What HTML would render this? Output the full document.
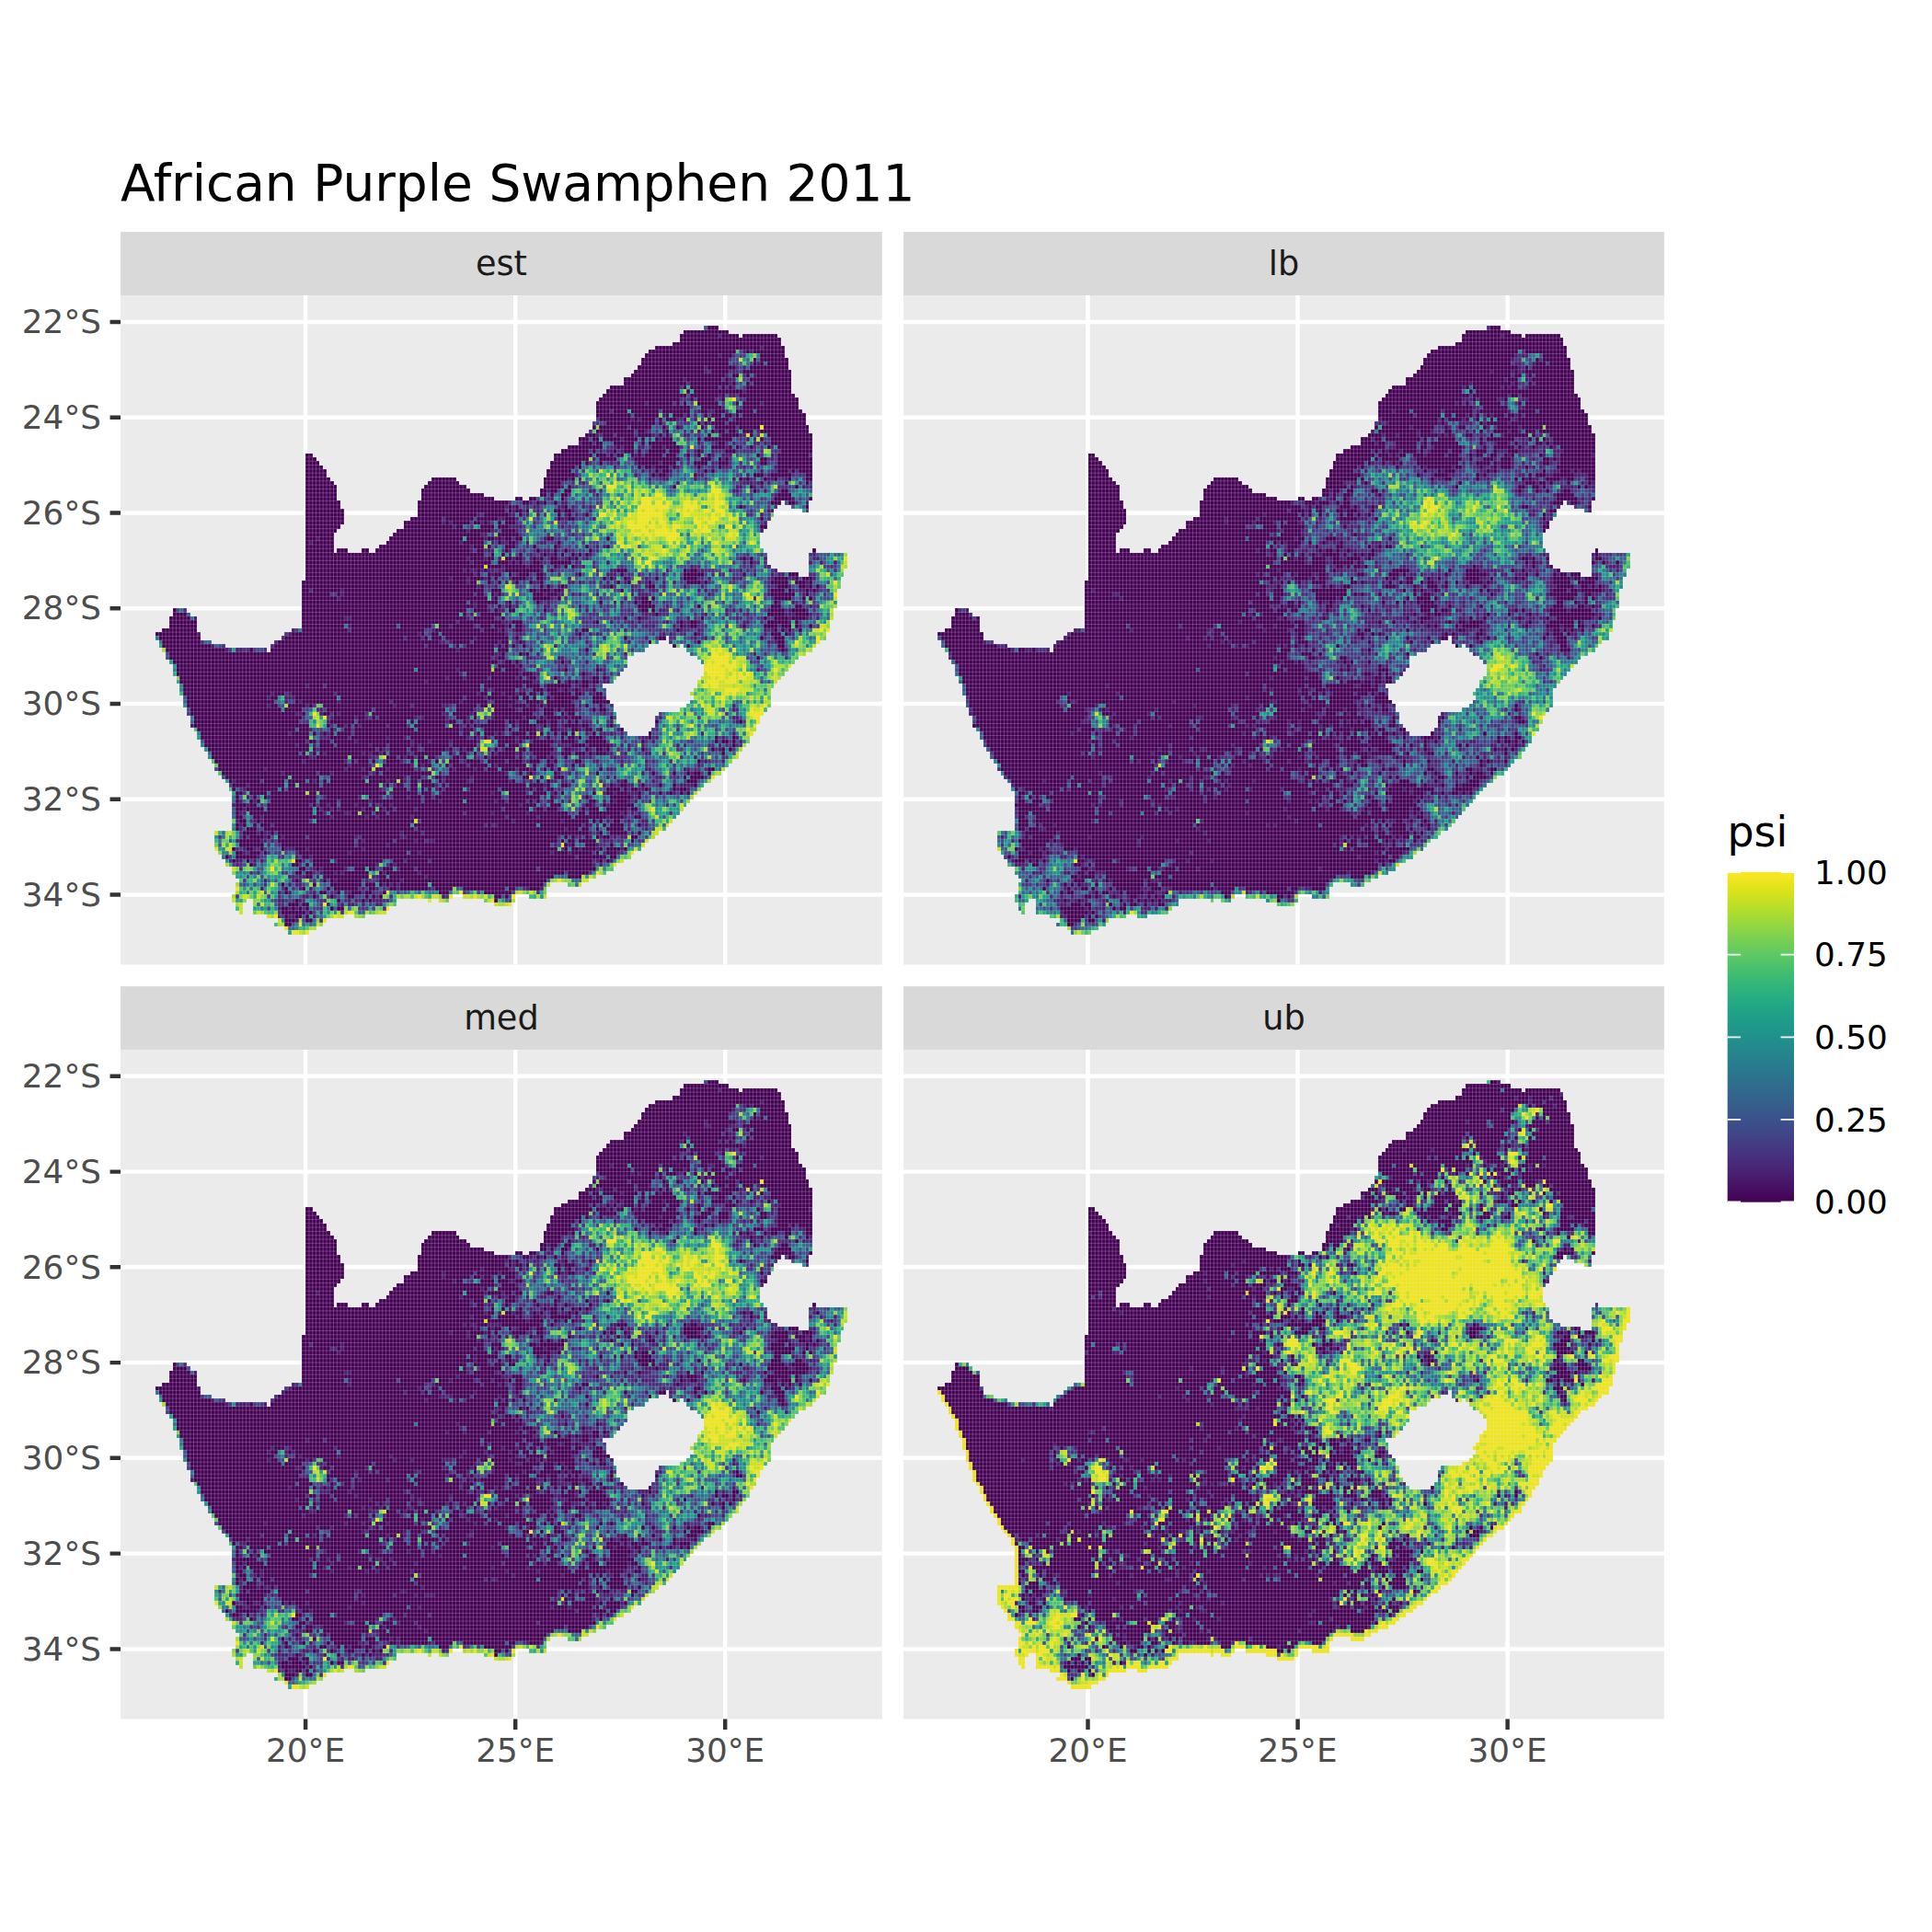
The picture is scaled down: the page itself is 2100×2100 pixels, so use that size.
<!DOCTYPE html>
<html><head><meta charset="utf-8"><title>African Purple Swamphen 2011</title>
<style>
html,body{margin:0;padding:0;background:#fff}
body{width:2100px;height:2100px;overflow:hidden}
svg{display:block}
text{font-family:"DejaVu Sans","Liberation Sans",sans-serif}
.ax{font-size:35.8px;fill:#4d4d4d}
.st{font-size:36.67px;fill:#1a1a1a}
.lg{font-size:35.8px;fill:#000}
.c path{fill:none;stroke-width:1;shape-rendering:crispEdges}
</style></head><body>
<svg width="2100" height="2100" viewBox="0 0 2100 2100">
<defs>
<linearGradient id="vir" x1="0" y1="1" x2="0" y2="0">
<stop offset="0.00" stop-color="#440154"/><stop offset="0.05" stop-color="#471365"/><stop offset="0.10" stop-color="#482475"/><stop offset="0.15" stop-color="#463480"/><stop offset="0.20" stop-color="#414487"/><stop offset="0.25" stop-color="#3b528b"/><stop offset="0.30" stop-color="#355f8d"/><stop offset="0.35" stop-color="#2f6c8e"/><stop offset="0.40" stop-color="#2a788e"/><stop offset="0.45" stop-color="#25848e"/><stop offset="0.50" stop-color="#21918c"/><stop offset="0.55" stop-color="#1e9c89"/><stop offset="0.60" stop-color="#22a884"/><stop offset="0.65" stop-color="#2fb47c"/><stop offset="0.70" stop-color="#44bf70"/><stop offset="0.75" stop-color="#5ec962"/><stop offset="0.80" stop-color="#7ad151"/><stop offset="0.85" stop-color="#9bd93c"/><stop offset="0.90" stop-color="#bddf26"/><stop offset="0.95" stop-color="#dfe318"/><stop offset="1.00" stop-color="#fde725"/>
</linearGradient>

<clipPath id="clip"><path d="M0 58V65H-1V77H-4V78H-6V79H-7V80H-9V81H-10V83H-11V82H-23V81H-27V80H-30V78H-31V74H-33V73H-34V72H-38V74H-39V77H-41V78H-43V80H-42V82H-41V83H-40V85H-39V86H-38V89H-37V91H-36V94H-35V97H-34V99H-33V102H-32V103H-31V105H-30V107H-29V108H-28V110H-27V111H-26V113H-25V114H-24V115H-23V116H-22V118H-21V122V123V128H-26V133H-25V134H-24V135H-23V137H-21V139H-20V140H-19V141H-20V144H-21V146H-20V148H-19V149H-18V146H-17V145H-15V149H-11V150H-8V151H-9V152H-6V153H-5V154H1V153H3V152H5V151H6V150H11V149H14V150H17V149H23V148H24V147H26V145H35V146H36V145H38V146H41V145H42V144H45V145H51V146H54V147H59V146H60V144H64V145H69V142H70V141H75V142H79V141H81V140H83V139H86V138H88V137H89V136H91V135H93V134H94V133H96V132H97V131H98V130H100V129H101V128H103V127H104V126H105V125H106V124H107V123H108V122H109V121H110V120H111V119H112V118H113V117H114V116H116V115H117V114H119V113H120V112H121V111H122V110H123H124V108H125V107H126V106H127V104H128V103H129V101H130V99H131V98H132V97H133V92H134V91H135V90H136V89H137V88H138V87H139V86H140V85H141V84H143V83H145V82H146V81H147V80H149V78H150V75H151V72H152V67H153V64H154V62H155V58H146V57H145V58H144V64H141V63H135V62H133V61H132V58H131V57H130V53H131V52H132V50H133V49H134V47H135V46H136V45H137V46H139V47H142V48H144V45H145V28H144V26H143V23H142V22H141V19H140V18H139V12H138V9H137V6H136V4H135V3H125V4H124V3H121V2H118V1H114V2H108V3H107V5H105V6H100V7H98V8H97V9H96V11H95V12H94V13H93V14H91V16H87V17H86V18H85V19H84V20H83V25H82V27H81V28H80V29H78V31H75V32H73V33H71V35H70V37H69V39H68V42H67V44H64V45H62V44H60V45H55H60H54V44H51V43H47V42H46V41H44V40H43V39H36V40H35V41H34V42H33V45H32V49H30V50H28V52H26V53H25V54H24V55H23V56H21V57H20V58H18V57H16V58H12V57H9V58H8V53H9V52H10V51H11V47H10V45H9V41H8V40H7V39H6V37H5V36H4V35H3V34H2V33H0V57ZM103 79H104V81H105V82H107V81H108V82H109V83H110V84H112V85H113V86H114V89H113V90H112V92H111V93H110V94H111V95H110V96H109V97H107V98H101V99H100V102H99V103H98V104H92V103H91V102H90V101H89V98H88V96H87V95H86V92H85V91H88V90H89V89H90V88H91V87H92V84H94V83H97V82H98V81H101V80H103Z" clip-rule="evenodd"/></clipPath>
<path id="sil" d="M0 58V65H-1V77H-4V78H-6V79H-7V80H-9V81H-10V83H-11V82H-23V81H-27V80H-30V78H-31V74H-33V73H-34V72H-38V74H-39V77H-41V78H-43V80H-42V82H-41V83H-40V85H-39V86H-38V89H-37V91H-36V94H-35V97H-34V99H-33V102H-32V103H-31V105H-30V107H-29V108H-28V110H-27V111H-26V113H-25V114H-24V115H-23V116H-22V118H-21V122V123V128H-26V133H-25V134H-24V135H-23V137H-21V139H-20V140H-19V141H-20V144H-21V146H-20V148H-19V149H-18V146H-17V145H-15V149H-11V150H-8V151H-9V152H-6V153H-5V154H1V153H3V152H5V151H6V150H11V149H14V150H17V149H23V148H24V147H26V145H35V146H36V145H38V146H41V145H42V144H45V145H51V146H54V147H59V146H60V144H64V145H69V142H70V141H75V142H79V141H81V140H83V139H86V138H88V137H89V136H91V135H93V134H94V133H96V132H97V131H98V130H100V129H101V128H103V127H104V126H105V125H106V124H107V123H108V122H109V121H110V120H111V119H112V118H113V117H114V116H116V115H117V114H119V113H120V112H121V111H122V110H123H124V108H125V107H126V106H127V104H128V103H129V101H130V99H131V98H132V97H133V92H134V91H135V90H136V89H137V88H138V87H139V86H140V85H141V84H143V83H145V82H146V81H147V80H149V78H150V75H151V72H152V67H153V64H154V62H155V58H146V57H145V58H144V64H141V63H135V62H133V61H132V58H131V57H130V53H131V52H132V50H133V49H134V47H135V46H136V45H137V46H139V47H142V48H144V45H145V28H144V26H143V23H142V22H141V19H140V18H139V12H138V9H137V6H136V4H135V3H125V4H124V3H121V2H118V1H114V2H108V3H107V5H105V6H100V7H98V8H97V9H96V11H95V12H94V13H93V14H91V16H87V17H86V18H85V19H84V20H83V25H82V27H81V28H80V29H78V31H75V32H73V33H71V35H70V37H69V39H68V42H67V44H64V45H62V44H60V45H55H60H54V44H51V43H47V42H46V41H44V40H43V39H36V40H35V41H34V42H33V45H32V49H30V50H28V52H26V53H25V54H24V55H23V56H21V57H20V58H18V57H16V58H12V57H9V58H8V53H9V52H10V51H11V47H10V45H9V41H8V40H7V39H6V37H5V36H4V35H3V34H2V33H0V57ZM103 79H104V81H105V82H107V81H108V82H109V83H110V84H112V85H113V86H114V89H113V90H112V92H111V93H110V94H111V95H110V96H109V97H107V98H101V99H100V102H99V103H98V104H92V103H91V102H90V101H89V98H88V96H87V95H86V92H85V91H88V90H89V89H90V88H91V87H92V84H94V83H97V82H98V81H101V80H103Z" fill-rule="evenodd"/>
<g id="grid" clip-path="url(#clip)" fill="none" stroke="#ebebeb" stroke-opacity="0.24"><path d="M-46 -2V160M-45 -2V160M-44 -2V160M-43 -2V160M-42 -2V160M-41 -2V160M-40 -2V160M-39 -2V160M-38 -2V160M-37 -2V160M-36 -2V160M-35 -2V160M-34 -2V160M-33 -2V160M-32 -2V160M-31 -2V160M-30 -2V160M-29 -2V160M-28 -2V160M-27 -2V160M-26 -2V160M-25 -2V160M-24 -2V160M-23 -2V160M-22 -2V160M-21 -2V160M-20 -2V160M-19 -2V160M-18 -2V160M-17 -2V160M-16 -2V160M-15 -2V160M-14 -2V160M-13 -2V160M-12 -2V160M-11 -2V160M-10 -2V160M-9 -2V160M-8 -2V160M-7 -2V160M-6 -2V160M-5 -2V160M-4 -2V160M-3 -2V160M-2 -2V160M-1 -2V160M0 -2V160M1 -2V160M2 -2V160M3 -2V160M4 -2V160M5 -2V160M6 -2V160M7 -2V160M8 -2V160M9 -2V160M10 -2V160M11 -2V160M12 -2V160M13 -2V160M14 -2V160M15 -2V160M16 -2V160M17 -2V160M18 -2V160M19 -2V160M20 -2V160M21 -2V160M22 -2V160M23 -2V160M24 -2V160M25 -2V160M26 -2V160M27 -2V160M28 -2V160M29 -2V160M30 -2V160M31 -2V160M32 -2V160M33 -2V160M34 -2V160M35 -2V160M36 -2V160M37 -2V160M38 -2V160M39 -2V160M40 -2V160M41 -2V160M42 -2V160M43 -2V160M44 -2V160M45 -2V160M46 -2V160M47 -2V160M48 -2V160M49 -2V160M50 -2V160M51 -2V160M52 -2V160M53 -2V160M54 -2V160M55 -2V160M56 -2V160M57 -2V160M58 -2V160M59 -2V160M60 -2V160M61 -2V160M62 -2V160M63 -2V160M64 -2V160M65 -2V160M66 -2V160M67 -2V160M68 -2V160M69 -2V160M70 -2V160M71 -2V160M72 -2V160M73 -2V160M74 -2V160M75 -2V160M76 -2V160M77 -2V160M78 -2V160M79 -2V160M80 -2V160M81 -2V160M82 -2V160M83 -2V160M84 -2V160M85 -2V160M86 -2V160M87 -2V160M88 -2V160M89 -2V160M90 -2V160M91 -2V160M92 -2V160M93 -2V160M94 -2V160M95 -2V160M96 -2V160M97 -2V160M98 -2V160M99 -2V160M100 -2V160M101 -2V160M102 -2V160M103 -2V160M104 -2V160M105 -2V160M106 -2V160M107 -2V160M108 -2V160M109 -2V160M110 -2V160M111 -2V160M112 -2V160M113 -2V160M114 -2V160M115 -2V160M116 -2V160M117 -2V160M118 -2V160M119 -2V160M120 -2V160M121 -2V160M122 -2V160M123 -2V160M124 -2V160M125 -2V160M126 -2V160M127 -2V160M128 -2V160M129 -2V160M130 -2V160M131 -2V160M132 -2V160M133 -2V160M134 -2V160M135 -2V160M136 -2V160M137 -2V160M138 -2V160M139 -2V160M140 -2V160M141 -2V160M142 -2V160M143 -2V160M144 -2V160M145 -2V160M146 -2V160M147 -2V160M148 -2V160M149 -2V160M150 -2V160M151 -2V160M152 -2V160M153 -2V160M154 -2V160M155 -2V160M156 -2V160M157 -2V160M158 -2V160M159 -2V160M160 -2V160M161 -2V160M162 -2V160" stroke-width="0.263"/><path d="M-46 -2H162M-46 -1H162M-46 0H162M-46 1H162M-46 2H162M-46 3H162M-46 4H162M-46 5H162M-46 6H162M-46 7H162M-46 8H162M-46 9H162M-46 10H162M-46 11H162M-46 12H162M-46 13H162M-46 14H162M-46 15H162M-46 16H162M-46 17H162M-46 18H162M-46 19H162M-46 20H162M-46 21H162M-46 22H162M-46 23H162M-46 24H162M-46 25H162M-46 26H162M-46 27H162M-46 28H162M-46 29H162M-46 30H162M-46 31H162M-46 32H162M-46 33H162M-46 34H162M-46 35H162M-46 36H162M-46 37H162M-46 38H162M-46 39H162M-46 40H162M-46 41H162M-46 42H162M-46 43H162M-46 44H162M-46 45H162M-46 46H162M-46 47H162M-46 48H162M-46 49H162M-46 50H162M-46 51H162M-46 52H162M-46 53H162M-46 54H162M-46 55H162M-46 56H162M-46 57H162M-46 58H162M-46 59H162M-46 60H162M-46 61H162M-46 62H162M-46 63H162M-46 64H162M-46 65H162M-46 66H162M-46 67H162M-46 68H162M-46 69H162M-46 70H162M-46 71H162M-46 72H162M-46 73H162M-46 74H162M-46 75H162M-46 76H162M-46 77H162M-46 78H162M-46 79H162M-46 80H162M-46 81H162M-46 82H162M-46 83H162M-46 84H162M-46 85H162M-46 86H162M-46 87H162M-46 88H162M-46 89H162M-46 90H162M-46 91H162M-46 92H162M-46 93H162M-46 94H162M-46 95H162M-46 96H162M-46 97H162M-46 98H162M-46 99H162M-46 100H162M-46 101H162M-46 102H162M-46 103H162M-46 104H162M-46 105H162M-46 106H162M-46 107H162M-46 108H162M-46 109H162M-46 110H162M-46 111H162M-46 112H162M-46 113H162M-46 114H162M-46 115H162M-46 116H162M-46 117H162M-46 118H162M-46 119H162M-46 120H162M-46 121H162M-46 122H162M-46 123H162M-46 124H162M-46 125H162M-46 126H162M-46 127H162M-46 128H162M-46 129H162M-46 130H162M-46 131H162M-46 132H162M-46 133H162M-46 134H162M-46 135H162M-46 136H162M-46 137H162M-46 138H162M-46 139H162M-46 140H162M-46 141H162M-46 142H162M-46 143H162M-46 144H162M-46 145H162M-46 146H162M-46 147H162M-46 148H162M-46 149H162M-46 150H162M-46 151H162M-46 152H162M-46 153H162M-46 154H162M-46 155H162M-46 156H162M-46 157H162M-46 158H162M-46 159H162M-46 160H162" stroke-width="0.231"/></g>
</defs>
<rect width="2100" height="2100" fill="#fff"/>
<text x="131" y="217.6" font-size="55" fill="#000">African Purple Swamphen 2011</text>
<rect x="131.05" y="252.1" width="827.75" height="68.9" fill="#d9d9d9"/>
<text class="st" x="544.9" y="298.9" text-anchor="middle">est</text>
<rect x="131.05" y="321.0" width="827.75" height="727.6" fill="#ebebeb"/>
<path d="M131.05 349.9H958.8M131.05 453.7H958.8M131.05 557.4H958.8M131.05 661.2H958.8M131.05 764.9H958.8M131.05 868.7H958.8M131.05 972.5H958.8M332.1 321.0V1048.6M560.2 321.0V1048.6M788.2 321.0V1048.6" stroke="#fff" stroke-width="4.45" fill="none"/>
<g transform="translate(332.15 349.90) scale(3.8004 4.3233)"><use href="#sil" fill="#440154" shape-rendering="crispEdges"/>
<g class="c" transform="translate(0 .5)">
<path d="m130 6h1m-6 1h1m1 0h1m-10 1h1m10 2h1m-16 1h1m10 0h1m-12 1h1m7 0h1m-3 1h1m7 0h1m-21 1h1m12 0h2m-2 1h1m0 1h1m2 1h1m-8 1h1m2 0h2m-26 2h1m32 0h1m-12 1h1m-8 1h1m2 0h2m-15 1h1m8 0h1m-19 1h1m1 0h1m10 0h1m4 0h1m10 0h1m-8 1h1m-9 1h1m-11 1h1m4 0h1m9 0h1m4 0h1m11 0h1m-47 1h1m15 0h1m8 0h2m14 0h2m-36 1h1m10 0h1m24 0h1m1 0h1m-51 1h1m33 0h1m4 0h1m4 0h1m5 0h2m1 0h1m-44 1h1m1 0h1m4 0h2m5 0h1m10 0h1m6 0h1m3 0h1m-41 1h1m1 0h2m2 0h1m20 0h1m1 0h1m2 0h1m-23 1h1m16 0h1m4 0h1m2 0h3m11 0h1m-52 1h1m26 0h1m9 0h1m13 0h1m-47 1h1m1 0h1m4 0h1m6 0h1m14 0h1m-29 1h1m10 0h1m6 0h1m9 0h1m2 0h2m4 0h1m8 0h1m-39 1h1m1 0h1m5 0h1m25 0h1m-54 1h1m16 0h1m5 0h1m2 0h1m9 0h1m12 0h1m5 0h1m-58 1h1m2 0h1m19 0h1m3 0h2m7 0h1m10 0h1m2 0h1m6 0h2m3 0h1m-59 1h1m26 0h1m18 0h3m1 0h1m2 0h1m-60 1h1m49 0h2m3 0h1m1 0h1m11 0h1m-74 1h1m11 0h2m39 0h2m7 0h1m-49 1h1m50 0h1m-65 1h1m68 0h1m-76 1h1m2 0h1m5 0h2m68 0h1m-87 1h1m1 0h1m3 0h1m1 0h2m5 0h2m2 0h1m2 0h1m1 0h1m43 0h1m-67 1h1m6 0h1m9 0h1m4 0h1m50 0h2m-85 1h1m8 0h2m3 0h1m2 0h1m7 0h1m2 0h1m52 0h1m-76 1h2m3 0h1m12 0h2m7 0h1m-44 1h1m1 0h1m8 0h1m1 0h1m78 0h1m-90 1h1m15 0h4m11 0h1m-28 1h1m6 0h1m6 0h1m69 0h1m-81 1h2m24 0h1m-74 1h1m47 0h1m2 0h1m1 0h1m11 0h1m-68 1h1m42 0h1m8 0h1m2 0h2m2 0h1m2 0h1m3 0h2m-22 1h1m24 0h1m10 0h1m1 0h1m-39 1h1m4 0h2m4 0h1m9 0h2m-12 1h1m5 0h1m2 0h1m1 0h2m10 0h1m63 0h1m-100 1h1m4 0h1m3 0h1m3 0h1m4 0h1m1 0h1m7 0h1m1 0h1m3 0h1m43 0h1m6 0h1m13 0h2m-100 1h1m10 0h1m1 0h1m3 0h1m2 0h1m9 0h1m8 0h1m38 0h1m18 0h1m2 0h1m3 0h1m-96 1h1m6 0h1m8 0h1m4 0h1m1 0h1m30 0h1m16 0h1m4 0h1m-88 1h1m1 0h2m1 0h1m1 0h2m1 0h2m10 0h1m19 0h2m14 0h1m5 0h1m3 0h1m7 0h1m2 0h1m9 0h1m-82 1h1m6 0h1m16 0h1m8 0h3m13 0h1m25 0h1m4 0h1m1 0h2m-96 1h1m4 0h1m4 0h1m12 0h1m10 0h1m16 0h1m4 0h1m17 0h1m6 0h1m1 0h1m8 0h1m5 0h1m5 0h1m-100 1h1m10 0h1m7 0h2m8 0h2m1 0h1m7 0h1m4 0h1m3 0h1m1 0h1m4 0h1m2 0h1m37 0h1m-95 1h1m4 0h1m17 0h1m1 0h1m10 0h2m6 0h1m3 0h1m4 0h1m5 0h1m4 0h1m20 0h1m3 0h1m4 0h1m-134 1h1m55 0h1m3 0h1m2 0h1m19 0h1m1 0h1m3 0h1m12 0h1m1 0h1m24 0h1m1 0h2m1 0h1m1 0h1m-137 1h1m43 0h1m13 0h1m3 0h2m2 0h1m1 0h1m4 0h1m9 0h1m1 0h3m17 0h1m16 0h1m9 0h1m-134 1h1m43 0h1m16 0h1m20 0h1m2 0h2m-48 1h1m8 0h1m2 0h1m8 0h1m18 0h1m1 0h1m44 0h1m3 0h1m2 0h1m-95 1h1m8 0h1m2 0h1m7 0h2m8 0h1m24 0h1m40 0h1m-93 1h1m2 0h2m23 0h1m14 0h1m5 0h2m3 0h1m13 0h1m1 0h1m1 0h1m7 0h1m5 0h1m4 0h1m-97 1h1m45 0h1m3 0h1m1 0h1m14 0h1m5 0h1m5 0h1m10 0h3m4 0h1m-177 1h1m42 0h2m33 0h1m20 0h1m28 0h2m11 0h1m13 0h1m14 0h1m4 0h1m2 0h1m-91 1h2m24 0h1m4 0h1m5 0h1m1 0h1m7 0h1m2 0h1m2 0h1m2 0h1m12 0h2m11 0h1m-127 1h1m28 0h1m15 0h1m39 0h1m1 0h1m5 0h1m2 0h2m31 0h1m-146 1h1m39 0h1m18 0h1m3 0h1m17 0h1m13 0h1m15 0h1m4 0h1m18 0h1m1 0h1m-165 1h1m25 0h1m36 0h1m24 0h1m2 0h2m15 0h1m3 0h1m1 0h1m18 0h1m1 0h1m7 0h1m18 0h1m6 0h1m-91 1h1m29 0h1m6 0h1m11 0h1m13 0h1m2 0h1m-77 1h2m1 0h1m13 0h1m4 0h1m1 0h1m17 0h1m11 0h1m39 0h1m1 0h1m-162 1h1m97 0h1m-95 1h1m2 0h2m61 0h1m20 0h1m70 0h1m1 0h1m-84 1h2m6 0h1m3 0h1m24 0h1m36 0h1m-75 1h1m8 0h2m7 0h2m-18 1h1m18 0h1m4 0h1m-21 1h1m13 0h1m8 0h1m-41 1h1m17 0h1m10 0h1m11 0h2m43 0h1m-86 1h1m16 0h1m3 0h2m13 0h1m2 0h1m1 0h1m-46 1h1m4 0h1m14 0h1m2 0h1m15 0h1m6 0h1m-53 1h1m30 0h2m7 0h1m1 0h1m4 0h1m3 0h2m-87 1h1m67 0h1m8 0h2m3 0h1m-30 1h1m7 0h2m9 0h2m1 0h2m1 0h4m-92 1h1m4 0h1m53 0h1m6 0h1m3 0h1m18 0h1m1 0h2m-94 1h1m4 0h3m54 0h1m6 0h1m11 0h1m14 0h1m-92 1h1m3 0h1m10 0h1m34 0h1m15 0h1m6 0h1m-79 1h1m10 0h1m24 0h1m13 0h2m17 0h1m7 0h1m11 0h1m43 0h1m-119 1h1m55 0h1m5 0h1m4 0h1m50 0h1m-126 1h2m5 0h1m4 0h1m29 0h2m6 0h1m5 0h1m31 0h1m-79 1h1m6 0h1m2 0h1m13 0h1m1 0h1m6 0h1m5 0h1m6 0h1m8 0h1m5 0h1m4 0h1m1 0h1m25 0h1m20 0h2m-118 1h1m33 0h1m5 0h1m13 0h1m8 0h1m3 0h1m5 0h2m6 0h1m35 0h1m-157 1h1m43 0h1m3 0h1m28 0h1m4 0h1m17 0h1m5 0h1m4 0h1m7 0h1m-86 1h1m42 0h1m22 0h1m4 0h3m3 0h1m4 0h1m5 0h1m-95 1h1m8 0h1m1 0h1m47 0h1m1 0h1m12 0h1m10 0h1m3 0h2m1 0h1m2 0h1m22 0h1m8 0h1m-119 1h3m16 0h1m4 0h1m17 0h1m2 0h1m10 0h1m5 0h1m23 0h1m5 0h2m2 0h1m18 0h1m3 0h1m-110 1h1m15 0h1m4 0h1m5 0h1m7 0h1m10 0h1m10 0h1m5 0h1m21 0h1m24 0h1m-128 1h1m4 0h1m15 0h1m11 0h1m1 0h1m39 0h4m11 0h1m2 0h1m1 0h1m3 0h1m9 0h1m1 0h1m9 0h1m-97 1h1m17 0h1m4 0h1m3 0h1m2 0h1m3 0h1m19 0h2m3 0h1m3 0h1m6 0h1m25 0h1m-114 1h1m10 0h1m1 0h1m2 0h1m7 0h1m24 0h1m5 0h1m9 0h2m10 0h1m3 0h2m3 0h1m5 0h2m-98 1h2m15 0h2m8 0h1m15 0h1m3 0h1m15 0h1m4 0h1m8 0h2m1 0h1m6 0h1m22 0h1m-113 1h1m11 0h1m15 0h1m7 0h1m9 0h1m24 0h1m12 0h1m6 0h1m6 0h1m16 0h1m4 0h1m-108 1h1m5 0h1m11 0h1m2 0h1m20 0h1m23 0h2m10 0h1m21 0h1m-125 1h1m22 0h1m4 0h1m6 0h1m8 0h1m9 0h1m5 0h1m15 0h1m11 0h1m9 0h2m9 0h2m9 0h2m-117 1h1m13 0h1m11 0h1m18 0h1m18 0h1m5 0h1m1 0h1m6 0h1m2 0h1m20 0h1m13 0h1m-95 1h1m11 0h1m10 0h1m7 0h1m38 0h1m1 0h1m11 0h2m-123 1h1m22 0h1m20 0h1m4 0h1m17 0h1m11 0h1m3 0h1m1 0h1m5 0h2m1 0h1m2 0h1m12 0h2m8 0h1m-117 1h1m38 0h1m2 0h1m11 0h1m30 0h1m6 0h1m9 0h1m2 0h2m2 0h2m13 0h4m-129 1h1m38 0h1m15 0h1m25 0h1m31 0h2m1 0h1m7 0h1m2 0h1m-86 1h1m13 0h1m14 0h1m16 0h1m14 0h1m2 0h1m3 0h3m3 0h1m4 0h1m1 0h1m-123 1h1m5 0h1m15 0h1m9 0h1m5 0h1m7 0h1m41 0h1m21 0h1m-113 1h1m3 0h1m32 0h1m19 0h1m15 0h1m14 0h1m3 0h1m11 0h1m2 0h1m3 0h1m1 0h1m-116 1h1m3 0h1m22 0h1m7 0h1m6 0h1m2 0h1m36 0h1m20 0h1m3 0h1m-105 1h1m21 0h1m2 0h1m1 0h1m6 0h1m5 0h1m8 0h1m33 0h1m-85 1h2m22 0h1m5 0h2m40 0h1m9 0h1m26 0h1m2 0h1m1 0h1m-109 1h1m19 0h1m9 0h1m2 0h1m9 0h1m35 0h1m19 0h1m4 0h1m-112 1h1m4 0h1m1 0h1m71 0h1m13 0h1m12 0h1m5 0h1m3 0h2m-117 1h1m72 0h1m26 0h1m1 0h1m13 0h1m-117 1h1m92 0h1m17 0h1m4 0h1m-112 1h1m1 0h2m37 0h1m53 0h1m1 0h1m9 0h1m-106 1h1m4 0h1m20 0h1m12 0h2m49 0h1m2 0h1m2 0h1m3 0h1m1 0h2m-112 1h1m6 0h2m1 0h1m25 0h1m14 0h1m3 0h2m48 0h1m1 0h1m-65 1h1m47 0h1m3 0h1m7 0h1m-102 1h1m2 0h1m8 0h3m3 0h1m15 0h1m61 0h1m4 0h1m6 0h1m-109 1h1m14 0h1m14 0h1m19 0h1m37 0h1m4 0h1m9 0h1m3 0h1m-104 1h1m10 0h1m3 0h1m-22 1h2m3 0h1m1 0h1m95 0h1m3 0h1m-108 1h1m4 0h1m34 0h1m4 0h1m56 0h1m1 0h1m-83 1h1m1 0h1m6 0h1m14 0h1m-23 1h1m3 0h1m1 0h1m11 0h1m9 0h1m-38 1h2m1 0h2m3 0h1m15 0h2m13 0h1m-47 1h1m7 0h1m1 0h1m9 0h1m8 0h1m9 0h1m-33 1h1m1 0h2m23 0h1m1 0h1m1 0h1m-40 1h1m10 0h1m2 0h1m14 0h1m3 0h1m5 0h1m8 0h1m27 0h1m3 0h1m-76 1h1m2 0h1m6 0h1m8 0h2m-14 1h2m38 0h1m-48 1h2m4 0h1m13 0h1m1 0h1m4 0h3m-16 1h1m3 0h1m1 0h2m2 0h1m3 0h2m-30 1h1m2 0h1m1 0h1m-3 2h2m5 0h1m-6 1h1" stroke="#481c6e"/>
<path d="m118 3h1m3 5h1m0 3h1m-9 1h1m5 0h1m1 0h1m1 1h1m-7 1h1m-11 1h1m-3 1h1m12 0h1m4 0h1m-19 3h3m7 0h2m5 0h2m-21 1h1m13 0h1m-33 2h1m23 0h1m8 0h1m-13 1h1m13 0h1m-16 1h1m5 0h1m-31 1h1m24 0h2m-18 1h1m10 0h1m10 0h1m-34 1h1m16 0h1m9 0h1m1 0h1m12 0h1m-40 1h1m9 0h1m5 0h1m3 0h1m7 0h1m5 0h1m10 0h1m-32 1h1m25 0h1m-43 1h1m33 0h1m3 0h1m4 0h1m6 0h1m-47 1h2m10 0h1m8 0h1m18 0h1m1 0h1m1 0h1m2 0h1m-45 1h1m7 0h1m11 0h1m7 0h3m5 0h3m2 0h1m3 0h2m-50 1h1m9 0h1m33 0h1m13 0h1m-52 1h1m27 0h1m10 0h1m-52 1h1m4 0h1m20 0h1m1 0h1m7 0h1m3 0h1m2 0h1m-21 1h1m6 0h1m9 0h1m5 0h1m1 0h1m-53 1h1m23 0h1m10 0h1m20 0h2m3 0h1m1 0h1m-43 1h1m5 0h1m7 0h1m26 0h1m1 0h2m-42 1h1m12 0h1m12 0h2m7 0h1m-61 1h1m1 0h1m45 0h1m3 0h1m12 0h1m-66 1h1m58 0h3m5 0h2m-61 1h1m44 0h1m5 0h1m-61 1h1m-7 1h1m57 0h1m-70 1h1m6 0h1m13 0h1m60 0h1m-7 1h1m-73 1h1m10 0h1m53 0h1m-78 1h1m17 0h1m10 0h1m46 0h2m-89 1h1m22 0h1m3 0h1m10 0h1m1 0h1m52 0h1m-73 1h1m4 0h1m8 0h1m-28 1h1m17 0h1m9 0h1m-22 1h1m20 0h1m-15 1h1m7 0h1m5 0h1m3 0h1m-21 1h1m12 0h1m1 0h1m-9 1h1m4 0h1m7 0h1m-26 1h1m5 0h1m2 0h1m-13 1h1m4 0h1m5 0h1m2 0h1m1 0h1m7 0h2m6 0h1m-19 1h1m11 0h1m48 0h1m3 0h1m13 0h1m-83 1h1m6 0h1m2 0h2m5 0h1m46 0h1m-65 1h1m5 0h1m9 0h1m3 0h1m45 0h2m1 0h1m-54 1h1m3 0h1m7 0h1m20 0h2m12 0h1m5 0h1m18 0h1m-97 1h1m14 0h1m1 0h1m11 0h1m28 0h1m1 0h3m9 0h1m1 0h1m4 0h1m17 0h1m-104 1h1m10 0h1m4 0h1m3 0h1m3 0h1m19 0h1m2 0h1m2 0h1m1 0h1m15 0h1m1 0h2m24 0h2m-88 1h1m4 0h1m4 0h1m19 0h1m18 0h1m4 0h2m9 0h1m8 0h1m5 0h1m-86 1h1m5 0h1m19 0h1m1 0h2m1 0h1m28 0h1m1 0h1m6 0h1m9 0h1m-81 1h1m17 0h1m17 0h1m5 0h1m30 0h1m6 0h2m-133 1h1m94 0h1m1 0h1m1 0h1m15 0h1m15 0h1m16 0h1m-94 1h1m41 0h1m17 0h1m28 0h1m2 0h1m-78 1h1m12 0h1m24 0h1m18 0h1m4 0h1m-67 1h1m27 0h1m6 0h1m37 0h1m-88 1h1m5 0h1m20 0h1m3 0h1m1 0h1m3 0h1m16 0h1m37 0h2m-182 1h1m103 0h2m7 0h1m3 0h1m2 0h1m4 0h1m1 0h1m10 0h1m33 0h1m7 0h1m-85 1h1m9 0h1m9 0h3m6 0h1m5 0h1m1 0h1m2 0h3m7 0h1m1 0h1m11 0h1m20 0h1m-93 1h2m23 0h1m1 0h1m6 0h2m16 0h1m4 0h1m12 0h1m1 0h2m2 0h1m13 0h1m-102 1h1m14 0h1m20 0h2m10 0h2m5 0h3m1 0h1m5 0h1m21 0h1m-83 1h2m12 0h1m27 0h1m2 0h2m1 0h1m1 0h1m13 0h2m10 0h1m10 0h1m-124 1h1m37 0h1m6 0h1m4 0h1m5 0h1m17 0h1m6 0h1m4 0h1m2 0h1m3 0h1m2 0h2m3 0h1m18 0h1m4 0h1m-103 1h1m26 0h1m21 0h1m16 0h1m3 0h1m1 0h2m30 0h1m-147 1h1m34 0h1m4 0h1m25 0h1m16 0h1m23 0h1m3 0h2m4 0h1m2 0h1m-144 1h1m20 0h1m75 0h1m36 0h1m6 0h1m21 0h1m-158 1h1m13 0h1m43 0h1m7 0h1m2 0h1m8 0h1m1 0h1m3 0h1m20 0h1m-100 1h2m4 0h1m104 0h1m-14 1h1m1 0h1m48 0h1m-67 1h1m71 0h1m-83 1h1m3 0h1m1 0h1m1 0h1m7 0h2m1 0h1m-11 1h2m6 0h1m12 0h1m-24 1h1m3 0h1m6 0h1m4 1h1m2 0h1m5 0h1m-36 1h1m19 0h1m2 0h1m4 0h2m-4 1h1m-74 1h1m46 1h1m-59 1h1m13 0h1m60 0h1m-25 1h1m-22 1h1m36 0h1m14 0h1m1 0h1m-77 1h1m27 0h1m10 0h1m21 0h1m4 0h1m16 0h1m1 0h1m-85 1h1m44 0h1m12 0h1m11 0h1m3 0h2m2 0h1m41 0h1m-117 1h1m9 0h1m48 0h1m7 0h1m9 0h1m2 0h1m32 0h1m-122 1h1m6 0h1m25 0h1m18 0h1m14 0h1m-68 1h2m48 0h1m26 0h1m4 0h1m4 0h1m-80 1h1m15 0h1m5 0h1m15 0h1m1 0h1m9 0h1m2 0h1m5 0h1m2 0h1m2 0h1m8 0h1m18 0h1m-93 1h1m57 0h1m12 0h1m20 0h1m5 0h1m-59 1h1m9 0h1m27 0h1m1 0h1m-77 1h1m34 0h1m4 0h1m15 0h1m2 0h1m5 0h1m7 0h1m9 0h1m3 0h1m-100 1h1m63 0h1m7 0h1m24 0h1m12 0h1m-70 1h1m28 0h1m9 0h1m34 0h2m3 0h1m2 0h2m-122 1h1m16 0h1m11 0h2m37 0h1m1 0h1m4 0h1m10 0h1m4 0h1m2 0h1m8 0h1m10 0h1m4 0h1m-122 1h1m28 0h1m11 0h1m3 0h1m17 0h1m15 0h1m9 0h1m11 0h1m10 0h1m-94 1h1m16 0h1m11 0h1m2 0h1m18 0h1m8 0h1m6 0h1m2 0h2m15 0h1m5 0h1m5 0h1m-106 1h1m7 0h1m21 0h1m5 0h1m6 0h1m4 0h2m10 0h1m1 0h1m5 0h1m16 0h1m4 0h1m8 0h1m1 0h1m-75 1h1m4 0h1m27 0h1m22 0h1m7 0h1m-70 1h1m23 0h1m6 0h1m20 0h1m22 0h2m1 0h1m-38 1h1m-61 1h1m16 0h1m70 0h2m7 0h1m-76 1h1m7 0h1m26 0h1m9 0h1m10 0h1m9 0h1m-11 1h1m4 0h1m-120 1h1m40 0h1m16 0h1m6 0h1m18 0h1m6 0h1m9 0h1m9 0h1m-111 1h1m116 0h1m-77 1h1m12 0h1m31 0h1m10 0h1m1 0h1m12 0h1m-38 1h1m7 0h1m9 0h1m22 0h1m-112 1h1m13 0h1m18 0h1m46 0h2m10 0h1m23 0h1m-79 1h1m30 0h1m11 0h1m3 0h1m5 0h1m1 0h1m11 0h1m-48 1h1m58 0h1m-48 1h1m-74 1h1m16 0h1m30 0h1m54 0h1m3 0h1m-102 1h1m60 0h1m1 0h1m25 0h1m12 0h1m3 0h1m-116 2h1m51 0h1m-59 1h1m5 0h1m33 0h1m56 0h1m4 0h1m9 0h1m-54 1h1m51 0h1m2 0h2m4 0h1m-107 1h1m2 0h1m21 0h1m69 0h2m4 0h1m-111 1h1m5 0h1m86 0h1m-91 1h1m5 0h1m100 0h1m-98 1h1m83 0h1m-100 1h1m20 0h1m8 0h1m19 0h1m6 0h1m46 0h1m-102 1h1m16 0h1m24 0h1m-43 1h1m19 0h1m29 0h1m-48 1h1m1 0h1m15 0h1m-6 1h1m4 1h1m1 0h1m15 0h1m-33 1h1m4 1h1m2 0h1m18 0h1m6 0h1m13 0h1m25 0h1m-62 1h1m5 0h2m7 0h1m2 0h1m25 0h1m20 0h1m-75 1h1m10 0h1m2 0h1m1 0h1m2 0h1m8 0h1m3 0h1m15 0h1m-47 1h1m1 0h1m2 0h1m4 0h2m5 0h1m3 0h1m1 0h1m4 0h2m-32 1h2m5 1h1m4 0h1m11 0h1m5 0h1m-31 1h1m7 0h1m9 0h1m-19 1h1m11 1h1" stroke="#472d7b"/>
<path d="m124 8h2m-5 1h1m0 1h2m3 0h1m-4 2h1m0 2h2m0 1h1m-10 1h1m4 2h1m-13 1h1m-2 1h1m-1 1h1m12 0h2m-12 2h1m1 0h1m-33 1h1m-2 1h1m2 0h1m14 0h1m1 0h1m3 0h2m5 0h1m6 0h1m2 1h1m-30 1h1m5 0h1m13 0h1m5 0h1m-33 1h1m13 0h1m8 0h1m-3 1h1m15 0h1m5 0h2m-38 1h1m17 0h1m10 0h1m-44 2h1m3 0h1m37 0h2m3 0h1m4 0h1m-46 1h1m19 0h1m25 0h1m-28 1h1m3 0h1m4 0h1m10 0h1m6 0h1m-47 1h1m40 0h1m2 0h1m1 0h1m-42 1h1m2 0h1m16 0h1m1 0h1m7 0h2m-46 1h1m19 0h1m6 0h1m6 0h1m1 0h1m-21 1h1m27 0h2m6 0h1m8 0h1m-41 1h1m34 0h1m6 0h1m-70 1h1m24 0h1m45 0h1m-68 1h1m60 0h1m-15 1h1m-43 1h1m40 0h1m3 0h1m5 0h1m-66 1h1m5 0h1m4 0h1m50 0h1m10 0h1m-81 1h1m8 0h1m6 0h1m5 0h2m47 0h1m-71 1h1m14 0h1m2 0h1m1 0h1m40 0h1m8 0h1m-76 1h1m7 0h1m1 0h1m9 0h1m65 0h1m-82 1h1m69 0h1m-62 1h1m6 0h1m2 0h1m-35 1h1m5 0h1m7 0h1m10 0h2m6 0h1m49 0h1m-69 1h1m9 0h1m1 0h1m2 0h1m-17 1h1m6 0h1m-16 1h1m18 0h1m4 0h1m-7 1h1m5 0h1m-24 1h1m15 0h1m10 0h3m-9 1h1m1 0h1m4 0h1m-35 1h1m12 0h1m8 0h1m1 0h2m8 0h1m-31 1h1m7 0h1m2 0h1m2 0h1m12 0h1m11 0h1m33 0h1m-3 1h1m-61 1h1m5 0h1m52 0h1m-54 1h1m79 0h1m1 0h1m-80 1h1m3 0h1m23 0h1m21 0h2m-59 1h1m17 0h1m7 0h1m1 0h1m2 0h1m17 0h1m7 0h3m9 0h1m-79 1h1m29 0h1m11 0h1m3 0h1m-49 1h1m7 0h1m25 0h1m7 0h1m2 0h1m7 0h1m13 0h1m3 0h1m5 0h1m-81 1h1m1 0h1m6 0h2m3 0h1m18 0h1m10 0h1m5 0h1m7 0h1m37 0h2m-97 1h1m36 0h1m12 0h1m14 0h1m22 0h1m6 0h1m-141 1h2m39 0h1m2 0h1m25 0h1m23 0h1m29 0h1m9 0h1m2 0h1m-71 1h1m39 0h1m16 0h1m7 0h1m5 0h1m-78 1h1m1 0h2m20 0h1m10 0h2m2 0h1m11 0h1m2 0h2m21 0h1m-94 1h1m3 0h1m9 0h1m4 0h1m16 0h1m26 0h1m5 0h1m20 0h2m-78 1h1m19 0h1m4 0h1m1 0h1m11 0h1m4 0h1m10 0h1m4 0h1m4 0h1m-86 1h1m2 0h1m7 0h1m9 0h2m22 0h2m14 0h1m15 0h1m4 0h1m16 0h1m-82 1h1m1 0h1m1 0h1m11 0h1m2 0h4m3 0h1m3 0h1m3 0h1m8 0h1m11 0h1m1 0h2m6 0h1m2 0h1m-52 1h1m7 0h1m6 0h2m15 0h1m9 0h1m17 0h1m-89 1h1m26 0h1m1 0h2m22 0h1m7 0h1m5 0h1m5 0h1m19 0h1m-150 1h1m36 0h2m28 0h1m20 0h1m3 0h1m5 0h1m3 0h2m2 0h1m6 0h1m28 0h1m-146 1h1m64 0h1m8 0h1m10 0h1m19 0h1m13 0h1m-53 1h1m4 0h1m13 0h1m12 0h1m22 0h1m3 0h1m10 0h1m1 0h1m5 0h1m-100 1h1m6 0h1m11 0h1m4 0h1m10 0h2m19 0h1m-33 1h1m67 0h1m-155 1h1m6 0h1m74 0h1m1 0h1m4 0h1m10 0h1m-1 1h1m57 0h1m-84 1h1m12 0h2m18 0h1m40 1h1m1 0h1m-51 1h1m50 0h1m-55 1h1m-3 1h1m1 0h1m12 0h1m-24 1h1m17 1h1m-23 1h1m13 0h1m4 0h1m-19 1h1m4 0h1m-74 3h2m55 0h2m-5 1h1m32 0h1m-84 1h2m4 0h1m13 0h1m21 0h1m7 0h2m16 0h1m18 0h1m-121 1h1m98 0h1m12 0h1m4 0h1m2 0h1m14 0h1m-84 1h1m1 0h1m20 0h1m37 0h2m19 0h1m11 0h1m-115 1h1m49 0h1m8 0h1m14 0h1m1 0h1m8 0h1m38 0h1m2 0h1m-38 1h1m-85 1h1m5 0h1m2 0h1m34 0h1m8 0h1m1 0h1m15 0h1m23 0h1m17 0h1m-105 1h1m30 0h1m36 0h1m-32 1h1m19 0h1m17 0h1m31 0h1m-68 1h1m8 0h1m23 0h1m4 0h1m2 0h1m14 0h1m11 0h1m-99 1h1m64 0h1m32 0h1m-99 1h1m5 0h1m12 0h2m11 0h1m26 0h1m7 0h1m16 0h1m-56 1h1m9 0h2m8 0h1m22 0h2m-71 1h1m4 0h1m28 0h1m1 0h1m2 0h1m23 0h1m27 0h1m2 0h1m-93 1h1m10 0h1m35 0h1m3 0h1m9 0h1m2 0h1m24 0h1m-80 1h1m32 0h1m12 0h1m28 0h1m-83 1h1m2 0h1m16 0h1m19 0h1m33 0h1m-103 1h1m14 0h1m41 0h1m13 0h1m23 0h1m1 0h1m7 0h1m4 0h1m-81 1h1m2 0h1m40 0h1m20 0h1m5 0h1m-118 1h1m93 0h1m18 0h1m7 0h1m-131 1h1m61 0h1m45 0h1m10 0h3m6 0h1m-36 1h1m1 0h1m6 0h1m9 0h1m13 0h1m-42 1h1m32 0h1m3 0h1m5 0h1m1 0h1m-125 1h1m39 0h1m31 0h1m15 0h1m2 0h1m21 0h1m2 0h1m1 0h1m-94 1h1m53 0h1m3 0h1m10 0h1m14 0h1m2 0h1m-94 1h1m101 0h1m-31 2h2m15 0h1m1 0h1m-3 1h2m1 1h1m3 0h1m-114 2h2m43 0h1m64 0h1m-106 1h1m90 0h1m3 0h1m-104 1h1m16 0h1m88 0h1m7 0h1m-109 1h1m1 0h1m33 0h1m46 0h1m11 0h1m11 0h1m-106 1h1m80 0h1m19 0h1m-112 1h1m6 0h1m-2 1h1m3 0h2m1 0h1m87 0h1m-105 1h1m8 0h1m4 0h1m5 0h1m-15 1h1m16 0h1m83 0h1m-107 1h1m40 1h2m44 0h1m-74 1h2m8 0h1m70 0h1m6 0h1m-100 2h1m23 0h1m11 0h2m-21 1h1m17 1h1m5 0h1m-4 1h2m4 0h1m22 0h1m9 0h1m-80 1h1m8 0h1m5 0h1m13 0h1m4 0h2m-25 1h1m3 0h1m7 0h1m0 1h1m4 0h1m4 0h1m3 0h1m-17 1h2m11 0h1m1 0h1m1 0h1m-18 1h1m1 0h1m-12 1h1" stroke="#443b84"/>
<path d="m124 7h1m-3 2h2m0 2h1m-4 2h1m1 2h2m-16 3h1m10 0h1m-14 2h1m14 0h1m-22 2h1m22 1h1m-25 1h1m9 0h1m10 0h1m-38 1h1m15 1h2m14 0h1m-36 3h1m41 0h1m-1 1h1m6 0h1m-22 1h1m2 0h1m-30 1h1m10 0h1m1 0h1m5 1h1m3 0h1m7 0h1m8 0h1m2 0h1m-35 1h1m33 0h1m-45 1h2m1 0h1m47 0h1m-57 1h1m4 0h1m6 0h1m1 0h1m15 0h1m2 0h1m3 0h1m2 0h1m8 0h1m-44 1h1m9 0h2m2 0h1m21 0h2m1 0h1m2 0h1m6 0h1m-55 1h1m12 0h1m22 0h1m-20 1h1m3 0h1m12 0h1m17 0h1m9 0h1m-67 1h2m4 0h1m41 0h2m11 0h1m-57 1h1m1 0h1m22 0h1m20 0h1m3 0h1m9 0h1m-68 1h1m54 0h1m-59 1h1m54 0h1m-59 1h1m14 0h1m1 0h1m41 0h1m5 0h1m1 0h1m-74 1h1m8 0h1m2 0h1m8 0h1m47 0h1m7 0h1m-77 1h1m2 0h1m2 0h1m61 0h1m12 0h1m-63 1h1m45 0h1m-51 1h1m1 0h1m2 0h1m47 1h1m-64 1h1m3 0h1m5 0h1m-31 1h1m29 0h1m-22 1h1m6 0h1m11 0h1m2 0h1m-16 1h1m8 0h1m9 0h1m5 0h1m-21 1h1m-7 1h1m7 0h1m3 0h1m2 0h1m10 0h1m-26 1h1m6 0h1m11 0h1m-22 1h1m3 0h1m13 0h2m33 0h1m-63 1h1m20 0h1m2 0h1m6 0h1m40 0h1m5 0h1m16 0h1m2 0h1m-82 1h1m12 0h1m-6 1h1m32 0h1m16 0h1m-44 1h1m5 0h1m1 0h1m12 0h1m2 0h2m15 0h1m1 0h1m1 0h1m19 0h1m-76 1h1m1 0h1m41 0h2m8 0h1m-78 1h1m5 0h1m13 0h1m8 0h1m27 0h1m19 0h1m-59 1h1m12 0h1m13 0h1m2 0h1m29 0h2m10 0h1m-52 1h1m17 0h1m7 0h1m32 0h1m-88 1h1m3 0h1m1 0h1m45 0h1m9 0h1m14 0h1m5 0h1m-95 1h1m23 0h1m7 0h1m4 0h1m5 0h1m53 0h1m-88 1h1m23 0h1m26 0h1m-28 1h2m20 0h1m33 0h1m6 0h2m-89 1h1m3 0h1m11 0h1m15 0h1m5 0h2m5 0h1m4 0h1m29 0h1m-66 1h1m5 0h1m2 0h1m1 0h1m4 0h1m1 0h1m7 0h1m1 0h1m6 0h1m16 0h1m-166 1h1m83 0h1m5 0h1m59 0h1m-34 1h1m5 0h1m29 0h1m10 0h1m-81 1h1m10 0h1m2 0h1m16 0h1m8 0h1m11 0h1m12 0h1m2 0h1m17 0h1m-71 1h2m6 0h1m22 0h1m9 0h1m22 0h1m3 0h1m-96 1h1m26 0h1m4 0h1m10 0h1m1 0h1m2 0h2m2 0h1m3 0h1m7 0h1m41 0h1m2 0h1m-88 1h1m4 0h1m20 0h1m11 0h2m4 0h1m8 0h1m13 0h1m9 0h1m-102 1h1m31 0h1m5 0h1m3 0h1m5 0h1m49 0h1m8 0h1m-103 1h1m30 0h1m2 0h1m1 0h1m1 0h1m18 0h1m11 0h2m2 0h1m-48 1h1m7 0h1m7 0h1m9 0h1m3 0h1m11 0h1m12 0h1m-146 1h1m87 0h1m19 0h1m10 0h1m-109 1h2m71 0h1m19 0h1m9 0h1m40 0h1m1 0h1m1 0h1m-175 1h1m96 0h1m1 0h1m67 0h1m9 0h1m-178 1h1m96 0h1m16 0h1m12 0h1m3 0h1m34 0h1m-49 1h1m7 0h1m41 0h1m-75 1h1m7 0h2m9 0h1m15 0h1m-23 1h1m2 0h2m3 0h1m3 0h2m1 0h1m47 0h2m-50 1h1m-13 1h1m59 1h1m-48 1h2m-35 1h1m13 0h1m20 0h1m-20 1h1m9 0h1m1 1h3m-19 1h1m14 0h1m-86 1h2m48 0h1m34 0h1m1 0h1m-114 1h1m116 0h1m35 0h1m-49 1h1m7 0h1m1 0h2m40 0h1m-82 1h1m9 0h1m28 0h1m6 0h1m35 0h1m-111 1h1m28 0h2m5 0h2m26 0h1m27 1h1m9 0h2m-116 1h1m3 0h1m43 0h1m69 0h1m1 0h1m-53 1h1m1 0h1m16 0h1m9 0h2m-72 1h1m37 0h1m12 0h1m37 0h1m-112 1h1m85 0h1m13 0h1m8 0h1m1 0h1m-70 1h1m11 0h1m9 0h1m21 0h2m2 0h1m2 0h1m10 0h2m-15 1h1m12 0h1m3 0h1m-67 1h2m25 0h1m31 0h1m3 0h1m2 0h1m-78 1h1m2 0h1m8 0h1m22 0h1m8 0h1m9 0h1m4 0h1m-31 1h1m16 0h1m3 0h1m2 0h1m6 0h1m1 0h1m15 0h1m-98 1h1m48 0h1m6 0h1m7 0h1m27 0h1m-138 1h1m100 0h1m23 0h1m10 0h1m-90 1h1m17 0h1m26 0h1m6 0h1m7 0h1m5 0h1m19 0h1m-132 1h1m28 0h1m23 0h1m44 0h1m24 0h1m2 0h1m-74 1h1m2 0h1m28 0h1m1 0h1m4 0h1m11 0h1m6 0h1m9 0h1m3 0h1m10 0h1m-84 1h1m42 0h1m8 0h1m-88 1h1m34 0h1m25 0h1m12 0h1m-33 1h1m35 0h1m7 0h1m21 0h1m-122 1h1m4 0h1m17 0h1m28 0h1m23 0h1m16 0h1m10 0h1m20 0h1m-74 1h1m34 0h1m11 0h1m2 0h1m13 0h1m9 0h1m-32 1h1m7 0h1m-12 1h1m3 0h1m-59 1h1m3 0h1m72 0h1m-115 1h1m113 0h2m-15 1h1m6 0h1m2 0h1m0 1h1m-14 1h1m17 0h1m-2 1h1m-109 1h1m84 0h1m3 0h1m-66 1h1m73 0h1m-19 1h1m15 0h1m6 0h1m-9 1h1m-98 2h1m35 1h1m-43 1h1m17 1h1m-16 1h1m10 0h1m-14 1h1m3 0h1m13 1h1m14 0h1m52 0h1m-88 1h1m2 0h1m19 0h1m-1 1h1m54 0h1m-68 1h1m6 0h1m5 0h1m39 0h1m-49 1h1m2 0h1m14 0h1m39 0h1m0 1h2m-61 1h1m-10 1h1m9 2h1m-1 1h1" stroke="#3e4a89"/>
<path d="m114 1h1m8 7h1m5 1h1m-9 1h1m4 1h1m-3 5h1m-2 3h1m-13 2h1m-19 2h1m25 0h1m-15 4h1m1 1h1m5 0h1m-27 2h1m9 1h1m16 0h1m10 0h1m3 0h1m-27 1h1m6 0h1m-1 1h1m1 1h1m-22 1h2m33 0h1m-42 1h1m44 0h1m-43 1h1m22 0h1m5 0h1m5 0h1m5 0h1m-24 1h1m9 0h1m-20 1h1m10 0h1m4 0h1m1 0h1m-32 1h1m16 0h1m12 0h1m16 0h1m4 0h1m5 0h1m-63 1h1m50 0h1m-28 1h1m33 0h1m5 0h1m-74 1h1m5 0h1m2 0h1m3 0h1m58 0h1m-68 1h1m7 0h1m58 0h1m-69 1h1m2 0h1m51 0h1m10 0h1m-71 1h1m3 0h1m8 0h1m41 0h1m12 0h1m-62 1h1m49 0h1m2 0h1m-1 1h1m-84 1h1m16 0h1m65 0h1m-3 1h1m-46 1h1m-15 1h1m7 1h1m-16 1h1m14 0h1m6 1h1m39 0h1m-70 1h1m7 0h1m1 0h1m6 0h2m20 0h1m27 0h1m-47 1h1m-4 1h1m37 0h1m11 0h1m6 0h1m15 0h2m3 0h1m-62 1h1m37 0h1m14 0h1m2 0h2m-66 1h1m28 0h1m32 0h1m2 0h1m-79 1h1m2 0h1m32 0h1m2 0h1m4 0h1m-41 1h1m22 0h1m6 0h1m20 0h1m4 0h1m18 0h1m-74 1h1m12 0h1m9 0h1m3 0h1m1 0h1m-53 1h1m1 0h1m1 0h1m19 0h1m2 0h1m33 0h1m4 0h3m3 0h1m-75 1h1m9 0h1m10 0h1m4 0h1m2 0h1m19 0h1m22 0h1m2 0h1m18 0h1m-91 1h1m15 0h1m35 0h1m4 0h1m4 0h2m12 0h1m8 0h1m-80 1h1m1 0h1m33 0h1m8 0h1m8 0h1m21 0h1m-81 1h1m4 0h1m12 0h1m3 0h2m1 0h1m16 0h1m4 0h1m17 0h1m23 0h1m-92 1h1m4 0h1m19 0h1m66 0h1m-102 1h1m8 0h1m16 0h1m3 0h1m1 0h1m38 0h1m-64 1h1m15 0h1m8 0h1m11 0h1m30 0h1m8 0h2m3 0h1m1 0h1m-72 1h1m20 0h1m22 0h1m18 0h1m-165 1h1m98 0h1m4 0h1m2 0h1m5 0h1m14 0h2m25 0h1m-65 1h1m19 0h1m4 0h1m10 0h1m6 0h1m7 0h1m36 0h1m-45 1h1m14 0h1m3 0h1m7 0h1m16 0h1m-120 1h1m47 0h1m52 0h1m15 0h1m-72 1h1m31 0h1m14 0h1m20 0h1m-83 1h1m5 0h1m2 0h1m1 0h1m28 0h1m4 0h1m2 0h1m23 0h1m-96 1h1m33 0h1m25 0h1m28 0h1m7 0h1m-25 1h1m-135 1h1m83 0h1m2 0h1m4 0h1m7 0h1m21 0h1m25 0h1m14 0h1m-77 1h1m69 0h1m-68 1h1m14 0h1m6 0h1m23 0h1m23 0h1m-58 1h1m1 0h1m47 0h1m2 0h1m-66 1h1m13 0h1m5 0h1m-18 1h3m4 0h2m1 0h1m1 0h1m3 0h1m6 0h1m37 0h1m-74 1h1m21 0h1m11 0h1m-46 1h1m26 0h1m13 0h1m-25 1h1m10 0h1m3 0h1m6 0h1m-15 1h1m61 0h1m-66 1h1m-8 1h1m24 1h1m-121 1h1m25 1h1m89 0h1m41 0h2m-42 1h1m-83 1h1m77 0h2m-81 1h1m66 0h1m-67 1h1m117 0h1m1 0h1m-4 1h1m-106 1h1m68 0h1m1 0h1m27 0h1m-116 1h1m5 0h1m78 0h1m5 0h1m-86 1h1m53 0h1m33 0h1m9 0h1m19 0h1m-69 1h1m18 0h1m1 0h1m-105 1h1m32 0h1m75 0h1m10 0h1m7 0h1m24 0h1m-116 1h1m90 0h1m5 0h1m-53 1h1m25 0h1m7 0h1m-90 1h1m111 0h1m6 0h1m4 0h1m-84 1h1m53 0h1m-76 1h1m49 0h1m12 0h1m4 0h1m-21 1h1m20 0h1m7 0h1m2 0h2m17 0h1m1 0h1m-83 1h1m1 0h2m28 0h1m-30 1h1m21 0h1m19 0h1m3 0h1m1 0h1m15 0h1m-99 1h1m53 0h2m3 0h1m-62 1h1m32 0h1m22 0h1m4 0h1m9 0h1m9 0h1m-82 1h1m19 0h1m3 0h1m9 0h1m38 0h1m24 0h1m-123 1h1m53 0h1m46 0h1m3 0h1m15 0h1m8 0h2m-80 1h1m42 0h1m-73 1h1m92 0h1m-108 1h1m112 0h1m-115 1h1m20 0h1m73 0h1m11 0h1m-117 1h1m95 0h1m9 0h1m9 0h1m-117 1h1m97 0h1m2 0h1m16 0h1m4 1h1m-18 1h1m-100 1h1m104 0h1m7 0h1m-118 1h1m95 0h1m5 0h1m13 0h1m-7 1h1m1 0h1m-117 2h1m-4 1h1m102 0h1m-90 1h3m3 1h1m33 0h1m61 0h1m-104 2h1m-2 1h1m97 0h1m-100 1h2m24 0h1m-14 1h1m73 1h1m-85 1h1m1 0h1m0 1h1m3 0h1m0 1h1m9 0h1m13 0h1m21 0h1m-56 1h1m39 0h1m-36 1h1m24 0h1m39 0h1m-69 1h1m19 0h1m13 0h1m-39 1h1m4 0h1m27 0h1m-5 2h2m-21 3h1" stroke="#38598c"/>
<path d="m126 9h1m4 1h1m-5 3h1m-19 7h1m0 3h1m-9 1h1m-4 2h1m-1 1h1m6 0h1m3 1h1m17 0h1m-23 1h1m3 0h1m2 0h1m8 0h1m-37 1h1m22 0h1m5 0h1m5 0h1m-11 1h1m10 0h1m-6 2h2m-30 1h1m38 0h1m-1 1h1m-45 1h1m5 0h1m42 0h1m-39 1h1m9 0h1m22 0h1m-32 1h1m7 0h1m2 0h1m-20 1h1m16 0h2m2 0h1m8 0h1m13 1h1m-34 1h1m21 0h1m9 0h1m-28 1h1m15 0h1m10 0h1m1 0h1m4 0h1m3 0h1m-72 1h1m49 0h1m2 0h2m14 0h1m-60 1h1m59 0h1m-84 1h1m64 0h1m3 0h1m2 0h1m-64 1h1m52 0h1m5 0h2m-60 1h1m54 2h1m-62 1h1m3 0h1m-23 1h1m18 0h1m20 0h1m43 0h1m-51 1h1m2 0h1m-31 1h1m10 0h1m2 0h1m7 0h1m5 0h1m28 0h1m-44 1h1m6 0h1m5 0h1m-29 1h1m23 0h1m37 0h1m-61 1h1m7 0h1m5 0h2m10 0h1m7 0h1m-26 2h1m48 0h1m39 0h1m-74 1h1m4 0h1m9 0h1m19 0h1m-61 1h1m36 0h1m23 0h1m9 0h1m-7 1h2m1 0h1m-45 1h2m13 0h1m1 0h1m-44 1h1m19 0h1m60 0h1m17 0h1m-86 1h1m18 0h1m5 0h1m2 0h1m7 0h1m29 0h1m14 0h1m4 0h1m-84 1h1m-5 1h1m10 0h1m2 0h1m2 0h1m9 0h1m13 0h1m-24 1h1m4 1h1m15 0h1m1 0h1m7 0h2m9 0h1m24 0h2m-88 1h1m12 0h1m1 0h1m8 0h1m18 0h1m8 0h1m16 0h1m-77 1h1m2 0h1m23 0h1m2 0h1m4 0h1m21 0h1m32 0h1m-80 1h1m32 0h1m5 0h1m-61 1h1m18 0h1m5 0h1m1 0h1m26 0h1m22 0h1m4 0h1m-44 1h1m26 0h1m17 0h1m16 0h1m-89 1h2m2 0h1m37 0h1m23 0h1m2 0h1m20 0h1m-88 1h1m2 0h2m10 0h1m10 0h1m1 0h1m14 0h1m18 0h1m-66 1h1m7 0h1m55 0h1m6 0h1m-66 1h1m3 0h1m8 0h1m8 0h1m-8 1h1m5 0h1m10 0h1m12 0h1m9 0h1m-42 1h1m12 0h1m1 0h1m49 0h1m-174 1h2m90 0h1m19 0h1m10 0h1m2 0h1m12 0h1m13 0h1m2 0h1m3 0h1m5 0h1m-73 1h1m14 0h1m29 0h1m22 0h2m-43 1h1m2 0h1m37 0h1m-74 1h1m13 0h1m1 0h1m11 0h1m1 0h1m35 0h1m3 0h1m1 0h1m-65 1h1m6 0h1m14 0h1m-29 1h1m6 0h1m7 0h1m4 0h1m-16 1h1m3 0h1m9 0h1m6 0h1m-5 2h1m46 0h1m-54 1h1m51 0h1m-58 1h1m-24 1h1m12 2h1m16 0h1m-17 1h1m3 0h1m12 0h1m-117 1h1m115 1h1m4 0h1m-45 1h1m9 0h1m34 0h1m22 0h1m10 0h1m-14 1h1m-109 1h1m82 0h1m2 0h1m15 0h1m-136 1h1m133 0h1m13 0h1m3 0h1m-80 1h1m61 0h1m11 0h2m9 0h1m-121 1h1m54 0h1m2 1h1m14 0h1m38 0h1m-116 1h1m88 0h2m1 0h1m16 0h1m3 0h1m5 0h1m-27 1h1m4 0h1m7 0h1m2 0h1m3 0h1m-113 1h1m50 0h1m2 0h1m52 0h1m8 0h1m-10 1h1m-71 1h1m6 0h1m40 0h1m5 0h1m21 0h1m1 0h1m-44 1h1m8 0h1m13 0h1m2 0h1m-90 1h1m7 0h1m8 0h1m55 0h1m32 0h1m-55 1h1m35 0h1m6 0h1m1 0h1m5 0h1m-12 1h1m13 0h1m-51 1h1m9 0h1m6 0h1m15 0h1m4 0h1m-48 1h1m20 0h2m3 0h1m6 0h1m14 0h1m7 0h1m-28 1h1m9 0h1m14 0h1m-44 1h1m-48 1h1m50 0h2m8 0h1m15 0h1m-112 1h1m88 0h2m-58 1h1m44 0h1m30 0h1m6 0h1m3 0h1m-128 1h1m89 0h1m1 0h1m-89 1h1m31 0h1m81 0h1m-122 3h1m4 0h1m91 0h1m4 1h1m4 1h1m11 0h1m3 0h1m-21 1h1m10 0h1m1 0h1m0 1h1m-2 1h1m-19 1h1m16 0h1m-7 1h1m6 0h1m-104 1h1m-3 1h1m5 0h1m89 1h1m2 0h1m-108 1h1m3 0h1m35 0h1m60 1h1m2 0h1m-90 1h1m15 0h1m-27 3h1m7 0h1m81 0h2m-98 1h1m5 0h1m6 0h1m5 0h1m5 0h1m9 0h1m51 0h1m-67 1h1m41 0h1m12 0h1m3 0h1m-30 1h1m-31 2h1m-9 1h1m8 0h1m-3 1h1m6 0h1m3 0h1m-9 2h1m-6 2h1m1 0h1m-7 1h2" stroke="#31668e"/>
<path d="m124 10h1m1 0h1m-17 12h1m17 0h1m-24 4h1m3 0h1m1 0h1m-17 3h1m12 0h1m-24 1h1m11 0h1m33 1h1m-18 1h1m14 0h1m-48 1h1m41 0h1m-42 1h1m24 0h1m-30 1h1m13 0h1m12 0h1m3 0h1m-32 1h2m13 0h1m14 0h1m-34 1h1m30 0h1m10 0h1m-23 1h1m18 0h1m3 0h1m2 0h1m-43 1h1m9 0h1m27 0h1m1 0h1m18 0h1m-41 1h1m2 0h1m7 0h1m23 0h1m-57 1h1m6 0h1m55 0h1m-63 1h1m23 0h1m26 0h1m-45 1h1m17 0h1m-30 1h1m64 0h1m-65 1h1m3 0h1m6 0h1m43 1h1m-72 2h1m10 0h1m1 0h1m54 0h1m-68 1h1m5 0h1m12 0h1m47 0h1m-73 1h1m12 0h1m5 0h1m3 1h2m37 0h1m-55 1h1m2 0h1m3 0h1m11 0h1m0 1h1m-10 1h1m8 0h2m-21 1h1m8 0h1m13 0h1m-13 1h1m7 0h1m29 0h1m-56 1h1m3 0h1m16 0h1m3 0h1m5 0h1m31 0h1m-38 2h1m24 0h2m9 0h1m6 0h1m-75 1h1m36 0h1m1 0h1m10 0h1m5 0h1m4 0h1m36 0h1m-61 1h2m51 0h1m6 0h1m-67 1h1m6 0h1m35 0h1m-56 1h2m6 0h1m14 0h1m3 0h1m24 0h1m19 0h1m-66 1h1m-32 1h1m19 0h1m14 0h1m38 0h1m21 0h1m-91 1h1m25 0h1m9 0h1m17 0h2m8 2h1m-44 1h1m5 0h1m6 0h1m2 0h1m6 0h1m3 0h1m11 0h1m5 0h1m1 0h1m15 0h1m9 0h1m-77 1h1m34 0h1m23 0h1m2 0h1m-75 1h1m14 0h1m15 0h1m7 0h1m18 0h1m-157 1h1m118 0h2m22 0h1m7 0h1m9 0h1m18 0h1m1 0h1m-89 1h1m30 0h1m28 0h1m5 0h1m24 0h1m-183 1h1m146 0h1m-45 1h1m1 0h1m70 0h1m-133 1h1m60 0h1m3 0h1m1 0h1m10 0h1m5 0h1m33 0h1m-64 1h1m3 0h1m5 0h1m37 0h2m27 0h2m-70 1h1m24 0h1m25 0h1m1 0h1m-172 1h1m106 0h1m18 0h1m54 0h1m-62 1h1m6 0h1m5 0h1m15 0h1m-63 1h1m33 0h1m48 0h1m3 0h1m-67 1h1m7 0h3m5 0h1m46 0h1m-71 1h1m13 0h2m1 0h1m5 0h1m41 0h1m-62 1h1m13 0h1m57 0h1m-71 1h1m5 0h1m10 0h1m49 0h1m-55 1h1m4 0h1m-20 1h1m17 0h1m4 0h1m-16 1h1m3 0h1m-2 1h1m-7 1h1m14 2h2m46 0h1m-64 1h1m-8 1h1m-70 1h1m87 0h1m42 1h1m-44 2h1m21 0h1m8 0h1m-63 1h1m15 1h1m55 0h1m-114 1h1m80 0h1m31 0h1m-91 1h1m86 0h1m2 0h1m3 1h1m-123 1h1m97 1h1m3 0h1m6 0h2m11 0h1m-28 1h1m10 0h1m3 0h1m-23 1h1m-120 1h1m141 0h1m-75 1h1m31 0h1m23 0h1m2 0h1m2 0h1m6 0h1m-59 1h1m20 0h2m19 0h2m11 0h1m-71 1h1m15 0h1m20 0h1m3 0h1m3 0h1m4 0h1m1 0h1m3 0h1m10 0h1m14 0h1m-86 1h1m48 0h2m1 0h1m14 0h2m5 0h1m-49 1h1m19 0h1m17 0h1m16 0h1m-57 1h1m11 0h1m13 0h1m2 0h1m3 0h1m1 0h1m-100 1h1m5 0h1m5 0h1m65 0h1m3 1h1m3 0h1m31 0h1m-37 1h1m20 1h1m-119 1h1m106 0h1m14 0h1m-123 1h1m106 0h1m13 0h1m1 1h1m-12 6h1m2 0h1m-119 1h1m-1 1h1m96 0h1m22 0h1m-122 1h1m98 0h1m4 1h1m14 0h1m-119 3h1m18 0h1m4 1h1m-8 1h1m5 0h1m-7 1h1m2 0h1m5 2h1m69 0h1m1 0h1m1 1h1m-94 1h1m20 0h1m72 0h1m-94 1h1m-2 1h1m43 0h1m1 0h1m5 0h1m5 0h1m-46 1h2m15 1h1m3 1h1m-15 3h1m-2 1h1" stroke="#2c728e"/>
<path d="m129 8h1m-7 8h1m-6 4h1m-7 1h1m-9 4h1m-4 2h1m7 0h1m18 0h1m-18 2h1m-18 1h1m16 0h1m2 0h1m-30 1h1m21 1h1m7 0h1m-24 1h1m32 0h1m1 0h1m-11 1h1m-3 1h1m6 0h1m8 2h1m-23 1h1m10 0h1m6 0h1m-24 1h2m-1 1h1m13 0h1m1 0h1m-20 1h2m10 0h1m-35 1h1m28 0h1m2 0h1m12 0h1m14 0h1m1 0h1m-54 1h1m21 0h1m16 1h2m2 0h1m-51 1h1m43 0h1m-58 1h1m71 0h1m-63 1h1m2 0h1m39 0h1m2 0h1m3 0h1m-60 1h1m12 0h1m-30 2h1m24 0h1m4 0h1m-31 1h1m11 0h2m2 0h1m-6 1h2m5 0h2m55 0h1m-65 1h1m1 0h2m17 0h1m38 0h1m-49 2h1m6 0h1m1 0h1m-32 1h1m68 0h1m-13 1h1m13 0h1m-38 1h1m2 0h1m16 0h1m6 0h1m11 0h1m-75 1h1m27 0h1m9 1h1m9 0h2m7 0h1m11 0h1m22 0h1m2 0h1m-50 1h1m19 0h1m23 0h1m-61 1h2m21 0h1m24 0h1m-64 1h1m67 0h1m-60 1h1m4 0h1m-28 1h1m6 0h1m23 0h1m13 0h1m1 0h1m2 0h1m31 0h1m-63 1h2m12 0h1m9 0h1m5 0h1m-31 1h1m4 0h1m10 0h1m16 0h1m13 0h1m1 0h1m5 0h1m-73 1h1m28 0h1m11 0h1m10 0h1m6 0h1m4 0h1m-65 1h1m43 0h1m6 0h1m12 0h1m-45 1h1m21 0h1m16 0h1m5 0h1m5 0h1m-23 1h2m9 0h1m5 0h1m11 0h1m1 0h1m-83 1h1m21 0h1m32 0h1m-8 1h2m1 0h2m19 0h1m-65 1h1m26 0h1m12 0h1m11 0h2m-46 1h1m10 0h1m30 0h1m1 0h1m24 0h1m1 0h1m-58 1h1m13 0h1m26 0h1m-58 1h1m10 0h1m5 0h1m3 0h1m1 0h1m32 0h1m2 0h1m-93 1h1m24 0h1m24 0h1m7 0h1m12 0h1m33 0h1m-86 1h1m22 0h1m17 0h1m15 0h1m5 0h1m3 0h1m3 0h1m15 0h1m-78 1h1m1 0h1m29 0h1m20 0h1m6 0h1m1 0h1m-90 1h1m30 0h1m3 0h2m1 0h1m13 0h1m31 0h1m4 0h1m12 0h1m-81 1h1m26 0h1m3 0h1m1 0h1m24 0h1m3 0h1m12 0h1m1 0h1m-76 1h1m1 0h1m3 0h1m8 1h2m46 0h1m-39 2h1m-129 1h1m126 0h1m37 0h2m-60 1h1m18 0h1m-2 1h1m-19 1h1m61 0h1m-123 4h1m57 0h1m54 1h1m-83 2h1m77 0h1m-6 1h1m-147 1h1m61 1h1m1 0h1m78 0h1m6 0h1m-33 1h1m19 0h1m-20 1h1m14 0h1m-101 1h1m6 0h1m97 0h1m12 0h1m3 0h1m-45 1h1m6 0h1m17 0h1m5 0h1m2 0h1m10 0h1m-47 1h1m13 0h1m-123 1h1m143 0h1m-20 1h1m12 0h1m11 0h1m-21 1h1m19 0h1m-36 1h1m8 0h1m21 0h1m-81 1h1m43 0h1m20 0h1m-35 1h1m42 0h1m-56 1h1m25 0h1m8 0h1m22 0h1m-47 1h1m8 0h1m16 0h2m-91 1h1m73 0h1m3 0h1m6 0h1m6 0h1m-30 1h1m36 0h1m1 0h1m-3 1h1m-113 1h1m71 1h1m4 0h1m7 0h1m32 0h1m-7 1h1m3 0h1m-106 1h1m75 0h1m23 0h1m-38 1h1m2 0h1m-82 1h1m17 1h1m87 2h1m-111 1h1m97 0h1m-104 1h1m105 0h1m-1 1h1m5 2h1m-102 1h1m86 0h1m-3 1h1m-100 1h2m1 1h1m15 2h1m-1 1h1m29 0h1m59 0h1m-104 1h1m4 0h1m-3 1h1m85 0h1m-80 3h1m11 0h1m-9 1h1m6 0h1m32 0h1m-43 1h1m9 0h1m5 0h1m0 2h1m3 0h1m-29 1h1m3 0h1m10 4h1" stroke="#277e8e"/>
<path d="m125 15h1m-14 8h1m-3 2h1m-4 2h1m6 1h1m-18 1h1m29 1h1m-21 3h1m-22 3h1m5 0h1m39 0h1m-51 1h1m27 0h1m16 0h1m-41 1h1m1 0h1m3 0h1m13 0h1m10 0h1m-38 1h1m1 0h1m2 0h1m4 0h1m5 1h1m2 0h1m8 0h1m-36 1h1m23 0h1m-20 2h1m10 0h1m2 0h1m35 0h1m10 0h1m-69 1h1m48 1h1m20 0h1m-73 1h1m7 0h1m9 0h1m41 0h1m-40 1h1m-25 1h1m57 1h1m-49 1h1m3 0h1m42 0h1m1 0h1m-78 1h1m19 1h1m10 0h1m43 0h1m-18 1h1m20 0h1m-67 2h1m7 1h1m44 0h1m3 0h1m1 0h1m-67 1h1m58 0h1m-32 1h1m3 0h1m39 0h1m25 0h1m-91 1h1m20 0h1m5 0h1m13 0h1m17 0h1m-39 1h1m65 0h1m-48 1h1m11 0h1m1 0h1m-17 1h1m4 0h1m43 0h1m1 0h1m-96 1h1m63 0h1m8 0h1m-15 1h1m-48 1h1m57 0h1m2 0h1m16 0h2m-46 1h1m11 0h1m-54 1h1m14 0h1m40 0h1m3 0h1m-60 1h1m43 0h2m8 0h1m3 0h1m7 0h1m-66 1h1m-3 1h1m10 0h1m11 0h1m22 0h1m-34 1h1m5 0h1m1 0h1m40 0h1m-62 1h1m-2 1h1m1 0h1m45 0h1m4 0h1m15 0h1m-61 1h1m75 0h1m-62 1h1m61 0h1m-78 1h1m19 0h1m12 0h1m-107 1h1m75 0h1m-10 1h1m8 0h1m18 0h1m1 0h1m18 0h1m12 0h1m8 0h1m-72 1h1m1 0h2m2 0h1m18 0h1m7 0h1m38 0h1m2 0h1m-183 1h1m110 0h1m8 0h2m45 0h1m-44 1h1m9 0h1m15 0h1m2 0h2m25 0h1m-26 1h1m-44 1h1m6 0h1m33 0h1m17 0h1m8 1h1m-73 1h1m1 0h1m18 0h1m2 0h1m22 0h1m-28 1h1m-56 1h1m32 0h1m67 0h1m-63 1h1m57 0h1m-42 2h1m-124 1h1m-1 1h1m27 2h1m117 1h1m15 0h1m3 0h1m-138 2h1m117 0h1m1 0h1m11 0h1m-85 1h1m30 0h1m4 0h1m43 0h1m3 1h1m-124 1h1m61 0h1m51 0h1m3 0h1m-63 1h1m64 0h1m-115 1h1m59 0h1m39 0h1m2 0h1m-144 1h1m109 0h1m27 0h1m-21 1h1m1 0h1m3 0h1m7 0h1m-39 1h1m42 0h1m7 0h1m-114 1h1m61 1h1m38 0h1m9 0h1m-90 1h1m15 0h1m3 0h1m77 0h1m-39 1h1m2 0h1m16 0h1m-83 1h1m65 0h1m21 0h1m1 0h1m-30 1h1m-17 1h1m10 0h1m16 0h1m1 0h1m20 0h1m-34 1h1m-9 1h1m20 0h1m11 0h1m-28 1h1m9 0h1m14 0h1m-72 2h1m65 0h1m-66 1h1m43 0h1m-65 1h1m53 1h1m23 0h1m5 0h1m4 0h1m-34 1h1m20 0h1m-93 1h1m61 0h1m35 1h1m2 0h1m-125 3h1m86 0h1m-87 5h1m108 0h1m-114 1h1m115 0h1m-9 1h1m-91 1h1m28 1h1m64 0h1m-103 1h1m1 0h1m12 0h1m20 0h1m-28 2h1m86 0h1m-102 1h1m7 0h1m-4 2h1m8 1h1m-6 1h1m6 0h1m12 0h1m14 0h1m11 0h1m-37 2h1m0 1h1m19 0h1m-17 1h1m-10 4h1m-1 1h1" stroke="#238a8d"/>
<path d="m125 9h1m-5 13h1m-14 4h1m-5 1h1m10 0h1m15 1h1m-48 1h1m14 0h1m-6 2h1m20 0h1m18 0h1m-25 3h1m14 0h1m3 0h1m-22 1h1m14 0h1m-41 1h1m3 0h1m34 0h1m-2 1h1m4 0h1m-48 1h1m37 0h1m-22 1h1m12 0h1m6 0h1m12 0h1m11 0h1m-49 1h1m1 0h1m16 0h1m27 0h1m-48 1h1m-21 1h1m11 0h1m13 0h1m14 0h1m-37 1h1m6 0h1m17 0h1m1 0h1m22 0h1m3 0h1m6 0h1m2 0h1m-53 1h1m30 0h1m2 0h1m1 0h1m-13 2h1m-45 1h1m18 0h1m-27 2h1m40 0h1m21 0h2m0 1h1m-10 1h1m2 0h1m2 0h1m2 0h1m-65 2h1m0 1h1m21 0h1m21 0h1m3 0h1m11 0h1m-17 1h2m-9 1h1m5 0h1m16 0h1m-34 1h1m31 0h1m-68 1h1m31 1h1m6 0h1m15 0h1m36 0h2m-64 1h2m11 0h1m7 0h1m-29 1h2m4 0h2m34 0h1m6 0h2m-35 1h1m2 0h1m44 0h1m-65 1h1m4 0h1m29 0h1m13 0h1m1 0h1m19 0h1m-78 1h1m4 0h1m24 0h2m11 0h2m9 0h1m-58 1h1m48 0h1m-25 1h1m-19 1h1m7 0h1m21 0h1m4 0h1m-50 1h1m26 0h1m-13 1h1m1 0h1m26 0h1m9 0h1m-55 1h1m15 0h1m1 0h1m42 0h1m1 0h1m19 0h1m3 0h1m-87 1h1m39 0h1m21 0h1m-51 1h1m3 0h1m7 0h1m4 0h1m52 0h1m-70 1h1m9 0h1m15 0h1m14 0h1m28 1h1m-31 1h1m-55 1h1m12 0h1m16 2h1m34 0h1m-46 1h1m34 0h1m-15 1h1m16 0h2m20 0h1m-70 1h1m19 0h1m1 0h1m21 0h1m-54 1h1m3 0h1m39 0h1m18 0h1m9 0h1m-15 1h1m7 0h1m5 0h1m-9 1h1m-49 1h1m4 0h1m-127 1h1m165 0h1m2 0h2m-68 1h1m62 4h1m-3 2h1m-134 2h1m-29 1h1m158 2h1m-78 1h1m34 0h1m2 0h1m-56 2h1m72 0h1m3 0h1m10 0h1m3 0h1m1 0h1m-76 1h1m53 0h1m6 0h1m3 0h1m-40 1h1m7 0h1m21 0h1m6 0h1m-59 2h1m34 1h1m27 0h1m-147 1h1m116 0h1m4 0h1m-91 1h1m-32 1h1m73 0h1m16 0h1m44 0h1m3 0h1m1 0h1m-12 1h1m-67 1h1m34 0h1m16 0h1m24 0h1m-78 2h1m20 0h1m11 0h1m18 0h1m0 1h1m-55 1h1m40 0h1m15 0h1m9 0h1m-110 1h1m84 0h1m3 0h1m10 0h1m8 0h1m-72 1h1m66 0h1m3 0h1m-30 1h1m-6 1h1m12 0h2m19 0h1m-59 1h1m32 1h1m22 0h1m2 0h1m-9 1h1m3 0h1m3 0h1m1 0h1m-105 1h1m102 0h2m-124 1h1m117 0h1m3 0h1m-123 1h1m18 0h1m-20 1h1m46 0h1m69 0h1m-121 2h1m116 0h1m-124 1h1m5 0h1m111 1h1m-105 1h1m-10 2h1m10 1h1m-14 1h1m29 0h1m-23 2h1m8 0h1m88 0h1m-104 1h2m10 0h1m26 0h1m-29 1h2m30 0h1m56 0h1m-95 1h1m3 0h1m3 0h1m8 0h1m16 1h1m-39 1h1m5 0h1m14 0h1m20 1h1m6 0h1m2 0h1m12 0h1m2 0h1m-60 1h1m75 0h1m-80 1h1m67 0h1m-51 3h1m1 0h1m-16 2h1m6 1h1" stroke="#1f968b"/>
<path d="m126 8h1m-4 6h1m-17 3h1m2 0h1m-7 6h1m5 3h1m2 1h1m10 0h1m-20 2h1m21 0h1m-20 2h1m19 2h1m-39 1h1m31 0h1m-33 1h1m34 0h1m5 1h1m-52 2h1m44 0h1m-23 2h1m9 0h1m6 0h1m-39 1h1m38 0h1m4 0h1m-36 1h1m14 0h1m1 0h1m1 0h2m1 0h1m27 0h1m-46 1h1m33 0h2m-61 1h1m5 0h1m2 0h1m41 0h1m-34 1h1m33 0h1m-37 1h1m45 0h1m-51 1h1m37 0h1m20 0h1m-79 1h1m41 0h1m17 0h1m-55 1h1m-8 2h1m14 0h1m2 0h1m1 0h1m41 1h2m1 0h1m-84 2h1m30 0h1m38 1h1m8 0h1m-39 2h1m40 0h1m-73 1h1m32 0h1m1 0h1m59 0h1m-46 1h1m11 0h1m35 0h1m-69 1h1m15 0h1m3 0h1m-38 1h1m6 0h1m44 1h1m24 0h1m-42 1h1m22 1h1m-9 1h1m-40 1h1m35 0h1m6 0h1m-13 1h1m8 0h1m-27 1h1m45 0h1m-83 1h1m2 0h1m13 0h1m35 0h1m8 0h1m25 0h1m-42 1h1m4 0h1m1 0h1m8 0h1m9 0h1m-71 1h1m51 0h1m9 0h1m5 0h1m-43 1h1m20 0h2m39 0h1m-90 1h1m2 0h1m2 0h1m20 0h1m34 0h1m-61 1h1m10 0h2m27 0h1m1 0h1m11 0h1m-43 1h2m43 0h1m1 0h2m6 0h1m-65 1h1m3 0h1m5 0h1m39 0h2m-34 1h1m58 0h1m-72 1h1m13 0h1m5 0h1m25 0h1m22 0h1m-14 1h1m15 0h1m-62 1h1m2 0h1m7 0h1m15 0h1m3 0h1m31 0h1m-59 1h1m35 0h2m-146 1h1m74 0h1m17 0h1m3 0h2m31 0h1m4 0h1m9 0h1m1 0h1m-38 1h1m25 0h1m8 0h1m10 0h1m2 0h1m-81 1h2m11 0h1m6 0h1m-118 1h1m105 0h1m21 0h1m42 0h1m-46 1h1m-20 1h2m7 1h1m-11 1h1m8 0h1m36 3h1m16 2h1m-20 1h1m4 0h1m11 0h1m-13 1h1m4 0h1m2 0h1m-17 1h1m3 0h1m11 0h1m-37 1h1m14 0h1m21 0h1m-122 1h1m101 1h1m5 0h2m-109 1h1m77 0h1m17 0h1m18 0h1m-71 2h1m17 0h1m51 0h1m-152 1h1m142 0h1m3 0h1m-14 1h1m-53 1h1m39 0h1m15 0h1m-36 1h1m26 0h1m4 0h1m18 0h1m-31 1h1m-17 1h1m22 0h1m9 0h1m10 0h1m-27 1h1m6 0h1m4 0h1m-28 1h1m4 0h1m10 0h1m7 0h1m1 0h1m-69 1h1m50 0h1m3 0h1m1 0h1m6 0h1m-34 1h1m22 0h1m-25 1h1m-92 1h1m136 0h1m-52 1h1m7 0h1m-27 1h1m-67 1h1m76 0h1m16 1h1m33 0h1m-125 1h1m112 1h1m2 0h1m-26 1h1m26 0h1m3 0h1m-5 1h1m1 2h1m-20 1h1m-3 3h1m-104 1h1m-5 2h1m117 0h1m-104 3h1m26 2h1m-35 1h1m4 0h1m-9 1h1m3 2h1m0 2h1m5 0h1m7 0h1m67 0h1m-88 2h2m7 0h1m10 0h1m24 0h1m-19 1h1m-23 1h1m2 0h1m29 0h1m-18 2h1m3 0h1m-11 4h1" stroke="#1fa287"/>
<path d="m109 16h1m11 4h1m2 0h1m-33 2h1m17 8h1m15 0h1m-19 2h1m22 1h1m-9 1h1m-43 2h1m46 0h1m-48 1h1m4 0h1m4 0h1m17 0h1m-26 1h1m7 0h1m28 0h1m-39 2h1m3 0h1m23 0h1m5 0h1m-9 1h1m5 0h1m3 0h1m-44 1h1m6 0h1m-3 1h1m16 0h1m-32 1h1m18 0h1m36 0h1m1 1h1m-33 1h1m19 0h1m8 0h1m17 0h1m-18 1h2m-43 1h1m22 1h1m-24 1h1m4 0h1m-40 1h1m22 0h1m11 2h1m40 0h1m-63 1h1m18 0h1m-2 1h1m10 0h1m37 0h1m-34 1h1m10 0h1m-15 1h1m12 0h1m8 0h1m7 0h1m-70 1h1m58 0h1m8 0h1m-36 1h2m25 0h1m15 0h1m21 0h1m-37 1h2m-34 1h2m11 0h1m4 0h1m10 0h1m9 0h1m22 0h1m-79 1h1m11 0h1m24 0h1m42 0h1m-43 1h1m-1 1h1m42 0h1m2 0h1m-70 1h1m-28 2h1m23 0h1m3 0h1m6 0h1m9 0h1m1 0h1m-52 1h1m36 0h1m20 0h1m36 0h1m-92 1h1m32 0h1m12 0h1m2 0h1m-25 1h1m44 0h1m10 0h1m5 0h1m4 0h1m-60 1h1m-30 1h1m57 0h1m8 0h1m-84 1h1m24 0h1m4 0h1m-5 1h1m39 0h1m-42 1h1m44 0h1m24 0h1m7 0h1m-62 1h1m16 0h1m14 0h1m-3 1h1m3 0h2m-7 1h1m7 0h1m1 0h1m-64 1h1m11 0h1m11 0h1m20 0h1m18 0h1m1 0h1m-63 1h1m71 0h2m-182 1h1m108 0h1m5 0h1m16 0h1m29 0h1m5 0h1m1 0h1m-6 1h1m-37 1h1m5 0h1m28 0h1m-40 1h1m51 0h2m-53 1h1m45 0h1m5 0h1m-10 1h1m-2 1h1m-165 1h1m166 0h1m-1 1h1m-167 1h1m103 0h1m65 0h1m-82 3h1m64 0h1m13 0h1m-16 1h1m-5 2h1m7 0h1m-9 2h1m-29 1h1m22 0h1m-26 1h1m2 0h1m16 0h1m24 0h1m-60 2h1m16 0h1m1 0h1m15 1h1m11 0h2m-14 1h1m-16 1h2m-37 1h1m47 0h1m-54 1h1m60 0h1m-11 1h1m7 0h1m3 0h1m-65 1h1m70 0h1m-9 1h1m-72 1h1m54 0h1m6 0h1m6 0h1m7 0h1m-26 1h1m14 0h1m-17 1h1m-25 1h1m8 0h1m3 0h1m6 1h1m9 0h1m16 1h1m-36 1h1m4 0h1m-97 2h1m96 0h1m-97 1h1m95 0h1m21 1h1m1 0h1m-25 1h1m17 1h1m-5 1h1m-1 1h1m-6 1h1m-119 2h1m2 1h1m12 0h1m-15 2h1m117 1h1m-105 2h1m-14 2h1m3 3h1m1 0h1m5 0h1m13 0h1m-13 1h1m-4 1h1m45 0h1m-45 1h1m8 0h1m-20 1h1m3 1h1m39 0h1m9 0h1m29 0h1m-58 1h1m-1 1h1m-23 1h1m3 0h1m12 1h1m-5 4h1" stroke="#28ae80"/>
<path d="m127 8h1m-8 13h1m-18 4h1m7 0h1m-8 1h1m11 2h2m-27 5h1m21 0h1m-6 3h1m-31 1h1m11 0h1m1 0h1m31 0h1m-40 1h1m-9 1h1m43 0h1m1 0h1m-20 1h1m2 0h1m30 0h1m-49 1h1m5 0h1m11 0h1m11 0h1m-28 1h1m-18 1h1m11 0h1m55 0h1m-67 1h1m34 0h1m6 0h1m-16 1h2m-21 1h1m3 0h1m3 0h1m-10 1h1m7 0h1m-3 1h1m30 0h1m-55 1h1m17 0h1m2 0h1m-26 1h1m3 0h1m9 0h1m6 0h1m41 0h1m-52 2h1m11 0h1m20 0h1m16 1h1m-39 1h1m2 0h1m27 0h1m-68 1h1m25 0h1m-1 1h1m10 0h1m7 0h1m12 0h1m1 0h2m6 0h1m5 0h3m-75 1h1m55 0h1m10 0h1m3 0h1m4 0h1m-72 1h1m24 0h1m10 0h1m23 0h1m-34 1h1m10 0h1m5 0h1m-25 1h3m17 0h1m13 0h1m5 0h1m10 0h1m-43 1h1m-8 1h1m37 0h1m27 0h1m-54 1h1m-22 1h1m15 0h1m58 0h1m-32 1h1m-39 1h1m9 0h1m14 0h1m21 0h2m-68 1h1m69 0h1m-47 1h1m-33 1h1m9 0h1m38 0h1m11 0h1m-27 1h1m1 0h1m30 0h1m11 0h1m-69 1h1m45 0h1m-49 1h1m1 0h1m33 0h1m17 0h1m31 0h1m-90 1h1m24 0h1m63 0h1m-80 1h1m50 0h1m-54 1h1m22 2h1m38 0h1m-60 1h1m2 0h1m68 0h1m-54 1h1m33 0h1m18 0h1m-69 1h1m67 0h1m1 1h1m-87 1h1m9 0h1m13 0h2m3 0h1m23 0h1m-52 2h1m23 0h1m27 0h1m-37 1h1m58 0h1m2 0h1m-62 2h1m9 0h1m48 0h1m-70 1h1m5 0h1m54 1h1m2 0h1m-19 1h1m-2 2h1m16 0h1m-166 1h1m146 0h1m6 0h1m8 0h1m-135 1h1m72 0h1m54 0h1m-43 1h1m34 0h1m-6 1h2m20 1h1m-131 1h1m49 0h1m52 0h1m3 1h1m-108 1h1m3 0h1m97 0h1m5 0h1m-109 1h2m108 0h1m7 0h1m-16 1h1m2 0h2m6 0h2m2 0h1m-73 1h1m54 0h1m2 1h1m1 0h1m6 0h1m-63 2h1m49 0h1m-102 1h1m103 0h1m7 0h1m-114 1h1m91 0h1m-59 1h1m60 0h1m-65 1h1m64 0h1m11 0h1m11 0h1m-90 1h1m88 0h1m-43 1h2m15 1h1m6 0h1m-108 1h1m39 0h1m67 0h1m-87 1h1m84 0h1m-79 2h1m-42 1h1m39 0h1m-8 1h1m60 0h1m30 1h1m-35 1h1m2 0h1m-95 2h1m119 1h1m-4 1h2m0 2h1m-129 3h1m14 4h1m2 1h1m1 0h1m-6 1h1m4 0h1m-7 1h1m2 0h1m1 2h1m-11 1h2m1 2h1m3 0h1m-9 1h1m15 0h1m31 0h1m21 1h1m11 0h1m-78 1h1m19 0h1m47 0h1m-68 1h2m11 0h1m-22 1h1m24 0h1m-17 1h2m14 0h1m-15 3h1m6 1h1" stroke="#38b977"/>
<path d="m123 7h1m1 3h1m-6 10h1m1 1h1m-1 1h1m-18 3h1m-24 2h1m22 1h1m0 2h2m14 3h1m9 0h1m-42 1h1m-7 3h1m22 0h1m-27 1h1m7 0h1m-7 1h1m2 0h1m5 0h1m-3 1h1m4 0h1m-8 1h1m7 0h1m3 0h1m5 0h1m3 0h2m20 0h1m-57 1h2m10 0h1m12 0h1m17 0h1m12 0h1m-42 1h1m-8 1h1m6 0h2m-2 1h1m29 0h1m-32 1h1m-3 2h1m-5 1h1m-24 1h1m41 0h1m5 0h1m-43 1h1m57 0h2m-42 1h2m28 0h1m1 0h1m1 0h1m-51 1h1m2 0h1m11 0h1m8 1h1m15 0h2m12 0h1m1 0h1m2 0h1m-66 1h1m31 0h1m4 0h1m5 0h1m14 0h1m-20 1h1m25 0h1m-45 1h1m19 0h1m-1 1h1m4 0h1m10 0h1m-20 1h1m4 0h1m11 0h2m-32 1h1m6 0h1m56 0h1m-60 1h1m10 0h1m-27 1h1m18 0h1m3 0h1m28 0h1m-59 1h1m78 0h2m-51 1h1m43 0h1m2 0h1m-77 1h1m29 0h1m-42 1h1m58 0h1m6 0h1m19 0h2m-72 1h1m5 0h1m24 0h1m13 0h1m1 0h1m23 0h1m-24 1h2m-31 1h1m13 0h1m8 0h1m3 0h1m17 0h1m-30 1h1m3 1h1m29 0h2m-89 1h1m55 0h1m1 0h1m-64 1h1m15 0h1m3 2h1m45 1h1m16 0h1m-67 1h1m7 0h1m44 0h1m-9 1h1m-47 1h1m9 0h1m4 0h1m18 0h1m-21 1h2m1 0h1m25 0h1m2 0h1m-31 1h1m24 0h1m28 1h1m-3 2h1m-15 1h1m10 0h1m-85 1h1m72 0h1m6 0h1m-10 1h1m5 1h1m-60 2h1m52 0h1m5 1h2m-4 1h1m-1 1h1m-16 1h1m9 0h2m7 0h1m-15 1h1m1 0h1m-117 1h1m120 0h2m-125 1h1m106 0h1m7 0h1m8 0h1m-109 1h1m86 0h2m7 0h1m2 0h1m4 0h1m-18 1h1m9 0h1m-32 1h1m3 0h1m39 0h1m-25 1h1m22 0h1m-160 1h1m139 2h1m-47 2h1m40 0h1m-4 1h2m-51 1h1m51 0h1m5 0h1m-34 1h1m28 0h1m-133 1h1m47 1h1m80 0h1m0 1h1m-129 1h1m140 0h1m-22 1h1m-99 2h1m23 0h1m10 0h1m-55 1h1m120 2h1m-113 1h1m89 0h1m26 0h2m-86 2h1m82 0h1m-6 1h1m0 1h1m-2 5h1m-27 3h1m-77 2h1m94 0h1m-103 1h1m3 0h1m-2 1h1m93 1h2m-99 1h1m28 0h1m66 0h1m-98 1h1m5 0h1m-14 1h1m17 0h1m-9 1h1m83 0h1m-95 1h1m3 0h1m57 1h1m19 0h1m-74 1h1m39 0h1m3 0h1m-12 2h1m1 0h1m-5 1h1m-34 1h1m25 0h1m3 0h1m-19 4h1" stroke="#50c46a"/>
<path d="m127 9h1m-4 4h1m-5 6h1m-20 4h1m7 1h1m6 0h1m-2 2h1m-5 1h1m-5 2h1m0 1h1m-29 7h1m6 0h1m1 0h1m-7 1h1m26 0h1m-32 1h1m5 0h1m6 0h1m1 0h1m22 0h1m-41 1h1m4 0h1m11 0h1m-12 1h1m10 0h1m15 0h1m-23 1h1m9 0h1m16 0h1m3 0h1m-33 1h1m18 0h1m1 0h1m1 0h1m10 0h1m-34 1h1m2 0h1m11 0h2m1 0h1m3 0h1m3 0h1m-30 1h2m8 0h1m-32 2h1m3 0h1m18 0h1m4 0h1m11 0h1m-40 1h1m24 0h1m12 0h2m24 0h1m3 0h1m-46 1h1m17 0h1m12 0h1m-37 1h1m2 0h1m21 0h2m12 0h1m-33 1h1m20 0h1m-31 1h1m24 0h1m-53 1h1m27 0h1m5 0h1m19 0h1m9 0h1m10 0h1m-66 1h1m43 0h1m-7 1h1m2 0h1m5 1h1m-25 1h2m2 0h1m12 0h1m6 0h1m8 0h1m-36 1h1m14 0h1m5 0h1m8 0h1m-15 1h1m4 1h1m13 0h1m-26 1h1m24 2h1m27 0h1m-23 1h1m-78 1h1m8 0h1m14 0h1m19 0h1m56 0h1m1 0h1m-94 1h1m23 0h1m36 0h1m9 0h1m21 0h1m-96 1h1m1 0h1m27 0h1m16 0h1m14 0h1m-34 1h1m22 0h1m20 0h1m-58 1h1m14 0h1m3 0h1m24 0h1m-55 1h1m51 0h1m12 0h1m9 0h1m10 0h1m-87 1h1m8 0h1m1 0h1m39 0h1m11 0h1m23 0h1m-37 1h1m14 0h1m-82 1h1m28 0h1m-6 1h1m3 0h1m-9 1h1m77 0h1m-110 1h1m79 0h1m1 0h1m-53 1h1m7 0h1m42 0h1m3 0h1m1 0h1m3 0h1m-40 1h2m1 0h1m23 0h1m2 0h1m2 0h1m1 0h1m20 0h1m1 0h1m-85 1h1m53 0h1m30 0h1m-91 1h1m12 0h2m15 0h1m10 0h1m14 0h1m4 0h1m6 0h1m2 0h1m13 0h1m-74 1h1m35 0h1m35 0h1m-2 1h1m-58 1h1m28 0h1m26 0h1m-80 1h1m20 0h1m6 0h1m32 0h1m10 0h1m5 0h1m-49 1h1m47 0h1m-74 1h1m70 0h1m-50 1h1m44 1h1m1 0h2m-49 1h1m38 2h1m1 0h1m3 0h1m-20 1h1m15 0h1m-17 1h1m14 0h1m-5 1h1m2 0h1m-61 1h1m46 0h1m5 0h1m5 0h1m1 0h1m-127 1h1m128 0h1m-26 1h1m12 0h1m-12 2h3m1 0h1m3 0h2m1 0h1m-117 1h1m100 0h1m2 0h1m2 0h1m-108 1h1m103 0h1m4 0h1m-9 1h1m5 0h1m1 0h1m10 0h1m-11 1h1m3 0h1m5 0h1m-23 1h1m-53 1h1m36 0h1m16 0h1m21 0h1m-67 2h1m40 1h1m4 0h1m-95 1h1m91 0h1m-67 1h1m1 0h1m64 0h1m-132 1h1m88 0h1m27 0h1m-18 1h1m17 0h1m-2 1h1m-10 3h1m-80 2h1m53 0h1m18 0h1m-95 1h1m116 1h1m-3 2h1m6 2h1m-126 1h1m-1 3h1m-1 1h1m-4 1h2m105 0h1m-110 1h1m4 0h1m111 0h1m-99 2h1m96 1h1m-96 1h1m-13 1h1m7 0h1m29 0h1m65 0h1m-106 1h1m1 0h1m4 0h1m0 1h1m29 0h1m-35 1h1m6 1h1m82 1h1m-94 1h1m5 0h1m78 0h1m-85 1h1m48 0h1m8 0h1m5 0h1m19 0h1m-85 1h1m3 0h1m16 0h1m17 0h1m3 0h1m-22 1h1m33 0h1m10 0h1m-62 1h1m22 1h1m6 0h1m-36 1h1m21 0h1m11 0h1m-14 1h1m9 0h1" stroke="#6ccd5a"/>
<path d="m128 8h1m-21 9h1m12 4h1m-10 3h1m1 0h1m-32 2h1m28 0h1m-7 2h1m25 4h1m-52 2h1m45 1h1m-46 4h1m2 1h2m2 0h1m2 0h1m25 0h1m20 0h1m-56 1h1m6 0h1m3 0h1m3 0h1m6 0h1m6 0h1m4 0h1m-29 1h1m4 0h1m5 0h1m5 0h1m18 0h1m-36 1h1m7 0h1m2 0h1m9 0h1m1 0h1m5 0h1m-16 1h1m-15 1h1m7 0h1m2 0h1m9 0h1m7 0h1m6 0h1m-23 1h1m13 0h1m-36 1h1m31 0h1m3 0h1m-52 1h1m16 0h1m18 0h1m19 0h1m-57 1h1m13 0h2m5 0h1m18 0h2m9 0h1m-1 1h1m-52 1h1m12 0h1m3 0h1m30 0h1m5 0h1m-46 1h1m5 0h1m4 0h1m1 0h2m14 0h2m1 0h1m6 0h1m1 0h1m7 0h1m-38 1h2m21 0h1m1 0h1m3 0h1m-40 1h1m1 0h1m12 0h1m1 0h1m3 0h1m12 0h1m1 0h2m5 0h1m3 0h2m-37 1h1m5 0h3m11 0h1m1 0h1m4 0h3m4 0h1m-76 1h1m46 0h1m7 0h1m9 0h2m-22 1h1m10 0h1m20 0h1m-43 1h1m7 0h1m8 0h1m10 0h1m-21 1h1m14 0h1m5 0h2m34 0h1m-58 1h1m12 0h1m-9 1h1m1 0h1m15 2h1m29 0h1m-78 1h3m3 0h1m17 1h1m23 0h1m9 0h1m10 0h1m-21 1h1m-46 1h1m32 0h1m19 0h1m23 0h1m-78 1h1m6 0h1m10 0h1m-36 1h1m72 0h1m-56 1h1m68 0h1m-72 1h1m42 0h1m13 0h1m-57 1h1m1 0h1m27 0h1m12 1h1m-15 1h1m-26 1h1m23 1h1m46 0h1m-33 1h1m30 0h1m-28 1h1m22 0h1m1 0h1m-25 1h1m24 0h1m-7 1h1m-73 1h1m14 0h1m1 0h1m2 0h1m26 0h2m3 0h1m7 0h1m9 0h1m1 0h1m-71 1h1m12 0h1m3 0h1m2 0h1m-24 1h2m22 0h1m19 0h1m-25 1h1m44 1h1m3 2h1m-6 1h1m-170 1h1m168 0h1m-4 1h1m-18 1h1m19 0h1m-22 1h1m20 0h1m-21 1h1m2 0h1m14 0h1m1 0h1m-21 1h1m1 0h2m4 0h1m5 0h1m-10 1h1m-66 1h1m65 0h1m10 0h1m-127 2h1m45 0h2m56 0h1m11 0h1m-14 1h1m7 0h1m1 0h1m9 0h1m-13 1h1m-74 1h1m81 1h1m1 0h1m-49 1h1m30 0h2m1 0h1m-111 1h1m104 0h1m18 0h2m-32 2h1m8 0h1m-16 2h1m15 0h1m-85 1h1m100 0h1m-2 1h1m-29 1h1m-59 1h1m44 0h1m-45 1h1m66 0h1m-21 1h1m10 0h1m-16 1h1m14 0h1m-17 1h1m33 1h1m-30 1h1m-8 1h1m-1 1h1m32 0h1m-35 1h1m21 0h2m-23 1h1m25 0h1m-88 1h1m86 2h1m-2 1h1m-127 7h1m116 0h1m-1 1h1m-4 1h1m-100 1h1m-11 1h1m2 0h1m8 0h1m-14 1h1m11 0h1m90 1h1m-98 1h1m84 0h1m3 0h2m-75 1h1m1 0h1m38 1h1m-57 1h1m2 0h1m72 0h1m2 0h1m-85 1h1m5 0h1m34 0h1m15 0h1m11 0h1m2 0h1m-72 1h1m2 0h2m-2 1h1m38 0h1m-14 1h1m2 0h1m-24 1h1m23 1h1m-13 1h1m0 1h1" stroke="#8bd646"/>
<path d="m124 14h1m-4 5h1m-11 1h1m17 9h1m1 3h1m-51 6h1m6 1h1m-8 1h1m26 0h1m6 0h1m1 1h1m-32 1h1m10 0h1m2 0h1m-6 1h1m1 0h1m11 0h1m3 0h1m-27 1h1m7 0h1m11 0h2m2 0h2m3 0h1m2 0h1m-32 1h1m4 0h1m13 0h1m-23 1h1m3 0h1m14 0h1m1 0h2m7 0h1m-26 1h1m3 0h1m10 0h1m6 0h1m-26 1h1m27 0h1m4 0h1m-18 1h1m4 0h1m9 0h1m-31 1h1m1 0h1m7 0h1m1 0h1m2 0h1m2 0h2m6 0h1m2 0h3m1 0h1m1 0h1m-36 1h1m2 0h1m12 0h1m3 0h3m4 0h2m-32 1h1m4 0h1m7 0h1m24 0h1m-13 1h1m2 0h1m1 0h2m9 0h1m-39 1h1m3 0h1m6 0h1m1 0h1m4 0h1m4 0h1m5 0h1m-26 1h1m9 0h1m4 0h1m9 0h1m4 0h1m-36 1h1m4 0h2m9 0h1m13 0h1m-30 1h1m4 0h1m3 0h2m8 0h1m9 0h2m9 0h1m-37 1h1m5 0h1m1 0h1m15 0h2m35 0h1m-63 1h1m13 0h1m1 0h1m9 0h1m-1 1h1m2 0h1m-6 1h1m30 0h1m6 0h1m-60 1h1m50 0h1m6 0h1m-73 1h1m2 0h1m9 1h2m33 1h1m-2 1h1m22 0h1m-94 1h1m46 0h1m22 0h2m-40 1h1m15 0h1m12 0h1m5 0h1m-44 1h1m36 0h1m-4 1h1m12 0h1m20 0h1m-34 1h1m29 0h1m3 0h1m-80 1h1m2 1h1m74 0h1m-66 2h1m63 0h1m-77 1h1m49 1h1m-37 1h1m60 0h1m-61 1h1m29 0h1m22 0h1m-26 1h1m-3 1h1m-156 1h1m126 0h1m25 0h1m2 0h1m4 0h1m6 0h1m16 0h1m-62 1h1m1 0h1m28 0h1m27 0h1m-74 1h1m15 0h1m27 0h2m17 0h1m-12 1h1m2 0h2m-2 1h1m9 0h3m-84 1h1m69 0h1m9 0h1m1 0h1m-68 1h1m52 0h1m3 0h1m-58 1h1m66 0h1m-9 1h1m-6 1h1m2 0h2m-12 1h1m-6 1h1m2 0h1m9 0h2m-14 1h1m10 0h1m6 0h1m-18 1h1m12 0h1m5 0h2m-139 1h1m116 0h1m2 0h1m2 0h1m-67 1h1m1 0h1m60 0h1m-63 1h1m56 0h2m-109 1h1m47 0h1m-48 1h1m100 0h1m21 0h1m-18 1h1m16 0h1m-25 1h1m24 0h2m-63 1h1m59 0h1m-18 1h1m-8 1h1m-53 1h1m74 0h1m-23 1h1m10 0h1m9 0h1m-19 2h1m8 0h1m-97 3h1m99 0h1m-40 1h1m36 0h2m-93 2h1m51 0h1m4 0h1m31 0h1m-39 2h1m1 0h1m-80 1h1m110 0h1m-2 1h1m-13 3h1m0 1h1m-123 5h1m121 0h1m-123 1h1m114 0h1m6 0h1m-124 2h1m1 2h1m12 2h1m-15 1h1m106 1h1m-1 1h1m-6 1h1m-80 1h1m70 0h1m1 0h1m-94 1h1m88 0h1m-90 2h1m79 0h1m-82 1h1m46 0h1m1 0h2m3 0h1m13 0h1m1 0h1m16 0h1m-28 1h1m19 0h1m-80 1h1m74 0h2m-70 2h1m21 0h1m1 0h1m5 0h1m2 0h1m-31 1h1m16 0h1m6 0h1m-17 1h1m-7 1h2m7 1h2m-4 1h1" stroke="#addc30"/>
<path d="m124 9h1m1 19h1m3 0h1m-7 6h1m-41 3h1m3 1h1m1 2h1m25 0h1m-25 1h1m41 0h1m-48 1h1m4 0h1m1 0h1m1 0h1m-3 1h1m12 0h1m8 0h1m1 0h2m-31 1h1m4 0h1m4 0h3m7 0h1m5 0h1m2 0h1m-29 1h1m3 0h1m9 0h1m5 0h1m2 0h4m-25 1h1m19 0h1m3 0h1m1 0h1m1 0h1m-35 1h1m1 0h1m7 0h1m3 0h1m1 0h2m3 0h1m1 0h1m1 0h1m1 0h1m16 0h1m-38 1h2m7 0h1m4 0h1m2 0h5m2 0h2m2 0h1m1 0h1m-33 1h4m4 0h2m1 0h1m4 0h1m4 0h2m1 0h1m6 0h2m-53 1h1m19 0h1m2 0h1m10 0h1m7 0h1m11 0h1m-39 1h1m1 0h1m7 0h1m2 0h2m1 0h1m3 0h1m5 0h1m10 0h1m-62 1h1m30 0h2m3 0h1m4 0h1m7 0h1m8 0h2m-34 1h1m2 0h2m2 0h1m2 0h1m10 0h1m1 0h1m7 0h1m1 0h1m-40 1h1m6 0h1m1 0h1m3 0h1m2 0h1m6 0h1m13 0h3m-33 1h1m3 0h1m2 0h1m13 0h1m4 0h1m11 0h1m-38 1h1m7 0h3m3 0h1m3 0h1m-15 1h1m1 0h1m2 0h2m1 0h1m5 0h1m6 0h2m-22 1h3m3 0h1m1 0h1m2 0h2m11 0h1m-65 1h1m38 0h1m4 0h1m53 1h1m-104 1h1m44 0h1m56 0h1m-72 1h1m66 1h1m-93 3h2m62 0h1m-1 1h1m-64 1h1m1 0h1m41 0h1m23 1h2m1 0h1m21 0h1m-77 3h1m74 0h1m-75 1h1m-2 1h1m74 0h1m-85 2h1m3 0h1m50 0h1m25 0h2m-4 1h2m-30 3h1m-50 1h1m16 0h1m5 0h1m23 0h1m2 0h1m21 0h1m4 0h1m-77 1h1m15 0h1m31 0h1m1 0h1m23 0h1m-26 1h2m1 0h1m19 0h1m-72 1h1m44 0h1m5 0h1m1 0h3m-12 1h1m1 0h1m6 0h1m10 0h1m-16 1h1m3 0h1m-4 1h1m1 0h1m-9 1h1m5 0h1m2 0h1m3 0h1m6 0h1m-22 1h3m1 0h1m2 0h1m2 0h1m2 0h2m5 0h2m-23 1h1m1 0h1m3 0h2m3 0h1m1 0h2m1 0h1m5 0h1m-22 1h1m1 0h1m2 0h4m1 0h2m-9 1h4m4 0h4m-9 1h1m1 0h1m3 0h1m-9 1h2m8 0h1m3 0h1m-19 1h1m5 0h1m-5 1h1m3 0h1m7 0h2m1 0h1m-16 1h2m11 0h2m-15 1h2m9 0h1m-124 1h1m99 0h2m22 0h1m-21 1h1m-4 3h1m5 0h1m-61 4h2m52 1h1m18 0h1m-102 1h1m100 0h1m-51 3h1m-5 2h1m14 2h1m-1 2h1m-7 1h1m28 2h1m-1 1h1m-8 2h1m-70 1h1m72 0h1m-2 1h1m-4 1h2m-128 1h1m3 0h1m121 0h1m-4 2h1m-120 1h1m117 0h1m-120 1h2m115 0h1m-5 3h1m-112 2h1m38 2h1m62 0h1m-3 1h2m-91 1h1m87 0h1m-92 2h1m73 0h1m2 0h1m-83 1h2m2 0h1m44 0h1m4 0h2m7 0h2m4 0h1m16 0h1m-90 1h1m58 0h1m13 0h1m-72 1h1m5 0h1m66 0h1m2 0h1m-77 1h1m-1 1h1m4 0h1m34 0h2m-34 1h1m19 0h2m-19 1h1m10 1h1m-6 2h1" stroke="#cde11d"/>
<path d="m122 19h1m7 7h1m-21 5h1m-25 7h1m1 2h1m-3 1h3m27 0h1m-1 1h3m-19 1h2m13 0h1m1 0h1m-22 1h3m3 0h1m14 0h1m-22 1h3m1 0h2m1 0h1m4 0h2m1 0h1m5 0h3m-37 1h1m11 0h9m4 0h4m5 0h1m-23 1h1m1 0h3m1 0h1m4 0h1m1 0h1m1 0h1m3 0h2m1 0h3m-36 1h2m2 0h1m3 0h1m2 0h7m6 0h2m6 0h1m2 0h1m-56 1h1m22 0h1m7 0h4m2 0h1m9 0h1m2 0h1m1 0h2m3 0h1m-33 1h1m2 0h2m1 0h3m1 0h1m1 0h2m8 0h2m2 0h2m-25 1h5m1 0h2m2 0h1m2 0h2m5 0h1m1 0h1m5 0h2m-29 1h1m2 0h2m2 0h4m1 0h1m5 0h1m1 0h3m-22 1h2m1 0h2m1 0h7m14 0h1m1 0h1m-26 1h1m4 0h3m9 0h1m-27 1h1m5 0h1m8 0h1m1 0h1m10 0h1m9 0h1m-38 1h1m1 0h1m29 0h1m-21 1h1m-5 2h2m54 0h1m-60 1h1m1 0h2m-1 1h1m52 4h1m-26 3h1m24 0h1m-5 9h1m1 0h1m-4 2h1m-7 1h1m5 0h1m-31 2h1m1 0h1m3 0h1m-7 1h2m2 0h1m-5 1h5m-6 1h1m1 0h4m1 0h1m-9 1h5m1 0h3m2 0h1m12 0h1m-25 1h6m1 0h1m3 0h1m8 0h1m-20 1h5m2 0h1m1 0h1m1 0h1m-58 1h1m46 0h1m1 0h2m1 0h2m1 0h2m-11 1h3m2 0h3m-9 1h1m1 0h2m2 1h4m-8 1h1m3 0h1m1 0h1m-4 1h1m-7 2h1m17 0h1m-5 1h1m2 0h1m-129 1h1m115 0h1m8 0h4m-126 1h1m122 0h2m-1 1h1m-127 1h1m106 0h1m17 0h1m-3 1h1m0 1h1m-77 2h2m10 1h1m-44 5h1m43 3h1m51 0h1m-18 8h1m-27 9h1m-100 1h1m118 1h1m-98 2h1m91 1h1m-99 1h1m92 1h1m-12 2h1m-93 2h1m42 1h1m20 0h1m-13 1h1m8 0h1m6 0h1m10 0h1m-25 1h1m17 0h1m-49 1h1m52 0h1m-36 1h1m-12 1h2m-23 1h1m16 0h1m-4 1h1m-8 1h1m-5 1h1m1 1h2m2 0h1" stroke="#efe51c"/>
</g><use href="#grid"/></g>
<text class="ax" x="110" y="362.1" text-anchor="end">22°S</text>
<text class="ax" x="110" y="465.9" text-anchor="end">24°S</text>
<text class="ax" x="110" y="569.6" text-anchor="end">26°S</text>
<text class="ax" x="110" y="673.4" text-anchor="end">28°S</text>
<text class="ax" x="110" y="777.1" text-anchor="end">30°S</text>
<text class="ax" x="110" y="880.9" text-anchor="end">32°S</text>
<text class="ax" x="110" y="984.7" text-anchor="end">34°S</text>
<path d="M119.55000000000001 349.9H131.05M119.55000000000001 453.7H131.05M119.55000000000001 557.4H131.05M119.55000000000001 661.2H131.05M119.55000000000001 764.9H131.05M119.55000000000001 868.7H131.05M119.55000000000001 972.5H131.05" stroke="#333" stroke-width="4.45" fill="none"/>
<rect x="982.1" y="252.1" width="826.8" height="68.9" fill="#d9d9d9"/>
<text class="st" x="1395.5" y="298.9" text-anchor="middle">lb</text>
<rect x="982.1" y="321.0" width="826.8" height="727.6" fill="#ebebeb"/>
<path d="M982.1 349.9H1808.9M982.1 453.7H1808.9M982.1 557.4H1808.9M982.1 661.2H1808.9M982.1 764.9H1808.9M982.1 868.7H1808.9M982.1 972.5H1808.9M1182.5 321.0V1048.6M1410.6 321.0V1048.6M1638.6 321.0V1048.6" stroke="#fff" stroke-width="4.45" fill="none"/>
<g transform="translate(1182.55 349.90) scale(3.8004 4.3233)"><use href="#sil" fill="#440154" shape-rendering="crispEdges"/>
<g class="c" transform="translate(0 .5)">
<path d="m118 3h1m3 5h1m1 0h2m-5 1h1m0 1h2m3 0h1m-5 1h1m-9 1h1m5 0h1m1 0h2m0 1h1m-7 1h1m5 0h2m-18 1h1m11 0h1m-15 1h1m10 0h1m1 0h1m4 0h1m-19 3h3m7 0h2m5 0h2m-21 1h1m13 0h1m-10 1h1m12 0h2m-38 1h1m23 0h1m8 0h1m-13 1h1m4 0h1m1 0h1m6 0h1m-40 1h1m23 0h1m5 0h1m8 0h1m-40 1h1m1 0h1m14 0h1m1 0h1m3 0h4m3 0h1m6 0h1m-29 1h1m10 0h1m10 0h1m8 0h1m-43 1h1m12 0h1m3 0h1m9 0h1m1 0h1m9 0h1m2 0h1m-40 1h1m3 0h1m5 0h1m5 0h1m1 0h1m1 0h1m7 0h1m5 0h1m10 0h1m-32 1h1m10 0h1m14 0h1m6 0h1m-50 1h1m12 0h1m17 0h1m2 0h1m3 0h1m3 0h2m6 0h1m-47 1h2m10 0h1m8 0h1m16 0h1m1 0h1m1 0h1m1 0h1m2 0h1m-49 1h1m3 0h1m7 0h1m11 0h1m7 0h3m3 0h5m2 0h1m2 0h3m-50 1h1m1 0h1m7 0h1m23 0h1m9 0h1m2 0h1m10 0h1m-52 1h1m22 0h1m4 0h1m5 0h1m4 0h1m1 0h1m-54 1h1m4 0h1m1 0h1m18 0h1m1 0h1m7 0h1m3 0h1m2 0h1m4 0h1m2 0h1m1 0h1m-42 1h1m2 0h1m7 0h1m6 0h1m1 0h1m1 0h1m5 0h1m5 0h1m1 0h1m-53 1h1m1 0h1m18 0h1m2 0h1m10 0h2m1 0h1m17 0h2m3 0h1m1 0h1m-46 1h1m2 0h1m4 0h2m7 0h1m10 0h2m6 0h2m6 0h4m-43 1h2m12 0h1m10 0h1m1 0h2m6 0h2m5 0h1m-70 1h1m2 0h1m1 0h1m19 0h1m25 0h1m3 0h1m12 0h1m2 0h1m-69 1h1m58 0h4m4 0h2m-76 1h1m14 0h1m37 0h1m6 0h1m5 0h1m-61 1h1m6 0h1m40 0h1m9 0h1m-66 1h2m4 0h1m52 0h1m2 0h1m10 0h1m-84 1h1m6 0h1m13 0h1m3 0h1m48 0h1m7 0h1m2 0h1m-82 1h1m14 0h1m1 0h2m1 0h1m49 0h1m1 0h1m-73 1h1m2 0h1m7 0h1m3 0h1m49 0h1m15 0h1m-94 1h1m17 0h1m10 0h1m46 0h2m4 0h1m-94 1h1m22 0h1m3 0h1m4 0h1m5 0h3m52 0h1m-94 1h1m7 0h1m5 0h1m6 0h2m3 0h1m6 0h3m5 0h1m49 0h1m-84 1h1m17 0h1m9 0h1m1 0h1m-24 1h1m6 0h1m13 0h1m-23 1h1m7 0h1m7 0h1m2 0h1m2 0h1m1 0h1m1 0h1m-21 1h1m11 0h2m1 0h1m2 0h1m-22 1h1m9 0h1m1 0h1m1 0h2m7 0h1m1 0h3m-30 1h1m5 0h1m2 0h1m18 0h1m-35 1h1m2 0h1m4 0h1m4 0h2m2 0h1m1 0h1m4 0h2m1 0h2m5 0h2m-32 1h1m7 0h1m2 0h1m1 0h2m10 0h1m1 0h1m11 0h1m33 0h2m3 0h1m13 0h1m-86 1h1m2 0h1m6 0h1m2 0h2m5 0h1m43 0h1m2 0h1m-65 1h1m5 0h2m8 0h1m3 0h1m3 0h1m41 0h2m1 0h1m-63 1h1m8 0h1m3 0h1m7 0h1m20 0h2m12 0h1m5 0h1m17 0h3m-98 1h1m14 0h1m1 0h2m3 0h1m6 0h1m16 0h1m11 0h5m5 0h1m3 0h1m1 0h1m4 0h1m17 0h1m-104 1h1m10 0h1m4 0h2m2 0h1m3 0h1m19 0h2m1 0h1m2 0h1m1 0h1m13 0h1m1 0h1m1 0h2m2 0h3m9 0h1m9 0h2m-90 1h1m1 0h1m4 0h1m4 0h1m17 0h1m1 0h1m9 0h1m8 0h1m4 0h2m9 0h1m8 0h1m5 0h1m-86 1h2m4 0h1m2 0h1m16 0h1m1 0h2m1 0h1m14 0h1m7 0h1m5 0h1m1 0h1m6 0h1m2 0h1m6 0h1m-82 1h3m6 0h1m9 0h1m1 0h1m11 0h1m3 0h1m5 0h1m6 0h1m23 0h1m6 0h2m9 0h1m3 0h1m-147 1h1m50 0h1m43 0h1m1 0h1m1 0h1m15 0h2m14 0h1m7 0h1m6 0h1m1 0h1m-143 1h2m47 0h1m20 0h1m17 0h1m2 0h1m2 0h1m14 0h1m14 0h1m12 0h2m2 0h1m-140 1h1m61 0h1m2 0h1m9 0h1m24 0h1m4 0h1m13 0h1m4 0h1m-67 1h2m1 0h1m21 0h1m2 0h1m6 0h2m3 0h1m11 0h1m20 0h1m-88 1h1m2 0h1m2 0h1m6 0h1m4 0h1m8 0h1m3 0h1m1 0h1m1 0h1m1 0h1m16 0h1m34 0h2m1 0h2m-182 1h1m100 0h1m2 0h2m7 0h1m3 0h1m2 0h2m3 0h1m1 0h1m10 0h1m1 0h2m13 0h2m9 0h1m5 0h1m7 0h1m-100 1h1m2 0h1m7 0h1m3 0h1m5 0h2m2 0h1m9 0h3m6 0h3m3 0h1m1 0h1m2 0h3m3 0h1m3 0h1m1 0h1m11 0h1m2 0h1m16 0h2m-93 1h2m8 0h1m1 0h1m1 0h1m10 0h1m1 0h1m2 0h2m2 0h3m3 0h1m3 0h1m7 0h2m3 0h1m10 0h1m1 0h1m1 0h2m1 0h2m13 0h1m-102 1h1m14 0h1m20 0h4m8 0h2m3 0h5m1 0h1m5 0h1m4 0h1m9 0h1m1 0h1m4 0h1m10 0h1m-94 1h2m3 0h1m8 0h1m17 0h1m2 0h1m6 0h1m2 0h2m1 0h1m1 0h1m13 0h3m5 0h1m3 0h1m10 0h1m-140 1h2m14 0h1m21 0h1m15 0h1m6 0h1m4 0h1m1 0h1m3 0h1m16 0h2m6 0h1m1 0h1m2 0h4m1 0h1m1 0h1m2 0h2m3 0h1m17 0h2m4 0h1m1 0h1m-105 1h1m23 0h1m2 0h1m5 0h1m15 0h1m16 0h1m3 0h1m1 0h2m4 0h1m24 0h2m-147 1h1m34 0h1m4 0h1m25 0h1m1 0h1m4 0h1m9 0h1m3 0h1m12 0h1m6 0h1m3 0h2m4 0h1m2 0h1m2 0h1m3 0h1m12 0h1m5 0h1m-170 1h1m20 0h1m46 0h1m1 0h1m18 0h1m4 0h1m2 0h1m7 0h2m19 0h1m7 0h1m6 0h1m20 0h2m-158 1h1m13 0h1m43 0h1m7 0h1m2 0h1m8 0h1m1 0h1m3 0h1m20 0h1m50 0h1m-155 1h1m3 0h2m4 0h1m71 0h1m1 0h1m4 0h1m10 0h1m14 0h1m-16 1h1m1 0h1m1 0h1m48 0h1m4 0h1m-84 1h1m11 0h3m69 0h1m-83 1h1m3 0h1m1 0h1m1 0h1m7 0h2m1 0h1m52 0h1m-64 1h2m6 0h1m6 0h1m5 0h1m44 0h1m-69 1h1m3 0h1m6 0h1m2 0h1m52 0h1m-64 1h1m9 0h1m1 0h1m2 0h1m5 0h1m1 0h1m-38 1h1m13 0h1m5 0h1m2 0h1m3 0h3m-4 1h1m2 0h1m2 0h1m-80 1h1m70 0h2m3 0h1m-30 1h1m10 0h1m4 0h1m-75 1h1m13 0h1m51 0h1m8 0h1m12 0h1m-38 1h1m-50 1h1m27 0h1m27 0h2m7 0h1m14 0h1m1 0h1m-77 1h1m27 0h1m10 0h1m21 0h1m4 0h1m13 0h1m2 0h1m1 0h1m-89 1h1m3 0h1m1 0h1m13 0h1m21 0h1m6 0h3m10 0h1m11 0h1m3 0h2m2 0h1m41 0h1m-158 1h1m40 0h1m9 0h1m47 0h2m7 0h1m3 0h1m5 0h4m13 0h1m18 0h1m-122 1h1m6 0h1m24 0h2m8 0h1m9 0h1m1 0h1m12 0h1m13 0h1m19 0h1m11 0h1m-115 1h3m48 0h1m7 0h1m2 0h1m13 0h1m1 0h1m4 0h1m1 0h1m2 0h1m35 0h1m-116 1h1m15 0h1m5 0h1m15 0h1m1 0h1m9 0h1m2 0h1m5 0h1m2 0h1m2 0h1m8 0h1m6 0h1m11 0h1m-97 1h1m3 0h1m1 0h1m46 0h1m8 0h1m8 0h1m3 0h1m20 0h1m5 0h1m-112 1h1m48 0h1m3 0h1m9 0h1m22 0h1m4 0h1m1 0h1m-77 1h1m34 0h1m2 0h1m1 0h1m15 0h1m1 0h2m5 0h1m7 0h1m2 0h1m6 0h1m3 0h1m20 0h1m-121 1h1m61 0h1m1 0h1m7 0h1m21 0h1m2 0h1m11 0h2m10 0h1m-81 1h1m28 0h1m9 0h1m34 0h2m1 0h1m1 0h2m1 0h2m-122 1h1m16 0h1m2 0h1m8 0h2m8 0h1m9 0h1m2 0h1m15 0h1m1 0h1m4 0h1m2 0h2m6 0h2m1 0h1m1 0h1m2 0h1m8 0h1m10 0h2m3 0h1m-122 1h1m16 0h1m11 0h1m11 0h1m3 0h1m5 0h1m11 0h1m15 0h1m9 0h1m5 0h1m5 0h1m10 0h1m-113 1h1m18 0h1m5 0h1m10 0h1m11 0h1m2 0h1m7 0h1m10 0h1m8 0h2m5 0h1m1 0h3m15 0h1m5 0h1m3 0h1m1 0h1m-106 1h1m7 0h1m4 0h1m11 0h1m4 0h1m5 0h1m6 0h1m4 0h2m10 0h1m1 0h1m2 0h1m2 0h1m9 0h1m6 0h1m4 0h1m8 0h1m1 0h1m1 0h1m-80 1h1m2 0h1m4 0h1m24 0h1m2 0h1m9 0h1m12 0h1m7 0h1m7 0h1m-78 1h1m23 0h1m6 0h1m3 0h1m16 0h1m22 0h2m1 0h1m-112 1h1m14 0h1m41 0h1m11 0h1m1 0h1m2 0h1m20 0h1m1 0h1m7 0h1m1 0h1m2 0h1m-97 1h1m15 0h2m42 0h1m20 0h1m6 0h2m7 0h1m-128 1h1m35 0h1m15 0h1m7 0h1m26 0h1m6 0h1m2 0h1m10 0h1m9 0h1m2 0h1m-131 1h1m61 0h1m45 0h1m8 0h1m1 0h4m5 0h1m-126 1h1m40 0h1m16 0h1m6 0h1m18 0h1m5 0h3m6 0h1m1 0h1m7 0h1m1 0h1m11 0h1m-123 1h1m80 0h1m28 0h1m3 0h1m2 0h2m2 0h1m2 0h1m1 0h1m-86 1h2m11 0h1m31 0h1m3 0h1m2 0h1m3 0h1m1 0h1m12 0h1m2 0h1m2 0h1m1 0h1m-85 1h1m38 0h1m5 0h1m1 0h1m9 0h1m17 0h1m2 0h1m1 0h1m-112 1h1m13 0h1m1 0h1m16 0h1m46 0h2m10 0h1m23 0h1m1 0h1m-84 1h1m2 0h1m30 0h1m11 0h1m3 0h1m5 0h1m1 0h1m11 0h1m-48 1h1m29 0h2m15 0h1m1 0h1m9 0h1m-48 1h1m35 0h1m-110 1h1m16 0h1m30 0h1m26 0h1m26 0h2m3 0h1m3 0h1m1 0h1m1 0h1m-110 1h1m60 0h1m1 0h1m25 0h1m1 0h1m10 0h1m3 0h1m-111 1h2m43 0h1m-51 1h1m9 0h1m41 0h1m52 0h1m-112 1h1m5 0h1m18 0h1m14 0h1m56 0h1m4 0h1m9 0h1m1 0h1m7 0h1m-109 1h1m1 0h1m33 0h1m8 0h1m37 0h1m11 0h1m1 0h1m2 0h2m4 0h1m-107 1h1m2 0h1m21 0h1m57 0h1m11 0h2m4 0h1m-111 1h2m4 0h1m1 0h1m7 0h1m76 0h1m-91 1h1m3 0h1m1 0h1m1 0h1m90 0h1m7 0h1m-104 1h1m4 0h2m4 0h1m78 0h1m-100 1h1m5 0h1m14 0h1m1 0h1m6 0h1m19 0h1m6 0h1m46 0h1m2 0h1m-107 1h3m16 0h1m24 0h1m-43 1h1m19 0h1m9 0h1m9 0h1m9 0h1m34 0h1m-83 1h1m1 0h1m6 0h2m7 0h3m69 0h1m6 0h1m-85 1h1m5 0h1m-22 1h1m19 0h1m1 0h1m1 0h1m11 0h3m-33 1h1m9 0h2m-7 1h1m2 0h1m18 0h2m5 0h2m12 0h1m25 0h2m-63 1h1m5 0h2m7 0h1m2 0h1m1 0h1m4 0h1m18 0h1m3 0h1m16 0h1m-87 1h1m11 0h1m2 0h1m7 0h1m2 0h1m1 0h2m1 0h1m2 0h2m4 0h1m3 0h1m15 0h1m-50 1h2m1 0h1m1 0h1m1 0h2m4 0h2m5 0h1m3 0h1m1 0h1m1 0h1m1 0h3m-32 1h2m10 0h1m13 0h1m-20 1h1m2 0h1m1 0h1m11 0h2m1 0h1m2 0h1m-31 1h1m7 0h1m9 0h1m-19 1h2m10 1h1" stroke="#481c6e"/>
<path d="m114 1h1m9 6h1m-2 1h1m-2 1h2m5 0h1m-6 2h1m-4 2h1m1 2h2m2 0h1m-4 1h1m-16 2h1m10 0h1m2 0h1m-13 1h1m11 0h1m-17 1h1m2 0h1m11 0h1m-12 1h1m-11 1h1m-9 1h1m25 0h1m4 0h1m-25 1h1m9 0h1m10 0h1m-40 1h1m1 0h1m15 1h2m14 0h1m-17 1h1m4 0h1m8 0h1m-8 1h1m3 0h1m1 0h1m-33 1h1m41 0h1m1 0h1m6 0h1m-46 1h1m35 0h1m6 0h1m-22 1h1m2 0h1m16 0h1m-49 1h1m1 0h1m10 0h1m1 0h1m6 0h1m24 0h1m-27 1h1m3 0h1m1 0h1m1 0h1m3 0h1m8 0h1m2 0h1m7 0h1m-43 1h1m14 0h1m3 0h2m13 0h1m-45 1h2m1 0h1m6 0h1m33 0h1m6 0h1m-57 1h1m4 0h1m2 0h1m3 0h1m1 0h1m15 0h1m2 0h1m3 0h1m2 0h1m5 0h2m1 0h1m3 0h1m-48 1h1m9 0h2m2 0h1m1 0h1m6 0h1m10 0h1m1 0h2m1 0h2m1 0h1m6 0h1m-55 1h1m12 0h1m14 0h1m7 0h1m1 0h1m-22 1h1m3 0h1m8 0h1m3 0h2m16 0h1m9 0h1m-67 1h2m4 0h1m3 0h1m29 0h1m7 0h2m7 0h1m3 0h1m6 0h1m-66 1h1m1 0h1m1 0h1m22 0h1m20 0h1m3 0h1m9 0h1m-68 1h1m31 0h1m19 0h1m2 0h1m10 0h1m5 0h1m-76 1h1m1 0h1m8 0h1m43 0h1m2 0h1m15 0h1m-78 1h1m12 0h1m1 0h1m1 0h2m40 0h1m5 0h1m1 0h1m9 0h1m-84 1h2m7 0h2m1 0h1m4 0h2m2 0h1m2 0h1m44 0h2m6 0h1m3 0h1m-81 1h1m2 0h1m2 0h1m3 0h1m3 0h1m8 0h1m38 0h1m2 0h1m2 0h1m9 0h1m2 0h1m-86 1h1m9 0h1m10 0h1m1 0h1m45 0h1m1 0h1m2 0h1m-70 1h1m13 0h1m1 0h1m2 0h1m49 0h1m-84 1h1m32 0h1m47 0h1m1 0h1m-66 1h1m3 0h1m5 0h1m52 0h1m-84 1h1m15 0h1m9 0h1m1 0h1m1 0h1m-22 1h1m6 0h1m5 0h1m1 0h1m3 0h1m2 0h1m-16 1h1m8 0h1m6 0h1m2 0h1m5 0h1m-25 1h1m3 0h1m-14 1h1m6 0h1m7 0h1m3 0h1m2 0h1m8 0h1m1 0h1m37 0h1m-70 1h1m5 0h1m1 0h1m1 0h1m2 0h1m3 0h3m1 0h1m3 0h1m13 0h1m27 0h1m-64 1h1m3 0h1m5 0h1m6 0h3m33 0h1m-63 1h1m20 0h1m2 0h1m6 0h1m40 0h1m5 0h1m1 0h1m14 0h1m1 0h2m-82 1h1m12 0h1m9 0h1m52 0h1m2 0h1m-85 1h1m12 0h1m32 0h1m2 0h1m9 0h1m3 0h1m18 0h1m2 0h1m-79 1h1m2 0h1m9 0h1m5 0h1m1 0h1m12 0h1m2 0h3m14 0h1m1 0h1m1 0h1m19 0h1m-76 1h3m41 0h2m4 0h1m1 0h1m1 0h1m2 0h1m18 0h1m-100 1h1m5 0h1m13 0h1m5 0h1m2 0h1m3 0h1m5 0h1m1 0h1m4 0h1m2 0h1m3 0h1m3 0h1m19 0h1m-73 1h1m1 0h1m11 0h1m12 0h1m13 0h1m2 0h1m2 0h1m11 0h1m4 0h3m3 0h1m3 0h2m10 0h1m-81 1h1m10 0h1m4 0h1m2 0h1m7 0h1m1 0h1m5 0h1m3 0h1m7 0h1m7 0h1m4 0h1m1 0h1m2 0h1m4 0h1m17 0h1m-95 1h1m5 0h2m2 0h2m1 0h1m2 0h1m23 0h1m13 0h1m2 0h1m1 0h1m2 0h1m6 0h1m6 0h1m7 0h2m4 0h1m2 0h1m-98 1h1m11 0h1m11 0h1m7 0h1m4 0h2m4 0h1m2 0h1m4 0h1m12 0h1m21 0h1m10 0h1m-101 1h1m2 0h1m5 0h1m3 0h2m12 0h1m3 0h2m4 0h1m18 0h1m7 0h1m28 0h1m4 0h1m-92 1h1m4 0h1m19 0h1m4 0h2m20 0h1m23 0h1m7 0h1m1 0h1m3 0h1m2 0h2m-95 1h1m5 0h1m3 0h1m5 0h2m3 0h2m15 0h1m5 0h2m3 0h1m1 0h1m4 0h1m10 0h2m17 0h1m3 0h1m-94 1h1m1 0h1m15 0h1m5 0h1m2 0h1m2 0h1m2 0h1m1 0h1m3 0h2m1 0h1m7 0h1m1 0h1m6 0h1m3 0h1m5 0h2m5 0h1m2 0h2m3 0h1m1 0h1m-176 1h1m83 0h1m5 0h1m13 0h1m23 0h1m1 0h1m16 0h2m1 0h1m12 0h1m3 0h1m-165 1h1m98 0h1m4 0h1m2 0h1m5 0h2m5 0h1m7 0h1m21 0h1m4 0h1m1 0h1m3 0h1m-81 1h1m9 0h2m2 0h1m15 0h2m1 0h1m1 0h2m2 0h2m11 0h2m11 0h1m2 0h1m3 0h1m1 0h1m10 0h2m11 0h1m-83 1h2m6 0h1m17 0h1m4 0h1m9 0h1m11 0h1m3 0h1m6 0h2m2 0h1m13 0h1m-120 1h1m9 0h1m26 0h1m4 0h1m5 0h1m4 0h1m1 0h2m1 0h2m2 0h1m3 0h1m7 0h1m5 0h1m19 0h1m15 0h1m2 0h2m-112 1h1m22 0h1m4 0h1m8 0h1m11 0h1m4 0h1m6 0h2m4 0h1m1 0h1m5 0h2m7 0h1m5 0h1m9 0h1m4 0h1m-147 1h1m39 0h1m23 0h1m7 0h2m1 0h1m2 0h1m3 0h1m2 0h1m2 0h1m15 0h2m3 0h1m2 0h1m23 0h1m1 0h1m8 0h1m-107 1h1m3 0h1m29 0h2m2 0h1m1 0h1m1 0h1m17 0h2m11 0h2m2 0h1m18 0h1m-85 1h1m17 0h1m7 0h1m7 0h1m9 0h1m3 0h1m11 0h2m11 0h1m-147 1h2m82 0h1m2 0h1m1 0h2m1 0h1m7 0h1m8 0h1m10 0h1m1 0h1m25 0h1m14 0h1m-153 1h3m71 0h1m19 0h1m9 0h1m40 0h1m1 0h1m1 0h1m-175 1h1m96 0h1m1 0h1m19 0h1m30 0h1m16 0h1m6 0h1m2 0h1m-178 1h1m96 0h1m16 0h1m2 0h1m1 0h1m6 0h2m3 0h1m34 0h1m-49 1h2m5 0h2m41 0h2m-76 1h1m7 0h2m5 0h2m2 0h1m1 0h2m1 0h1m1 0h1m3 0h1m4 0h1m1 0h1m37 0h1m-63 1h1m2 0h2m3 0h1m3 0h2m1 0h1m7 0h1m39 0h2m-87 1h1m26 0h1m1 0h1m7 0h1m-21 1h1m7 0h1m2 0h1m3 0h1m6 0h1m45 1h1m1 0h1m-71 1h1m20 0h2m-35 1h1m9 0h1m3 0h1m20 0h1m-20 1h1m9 0h1m-112 1h1m112 0h3m-90 1h1m3 0h1m66 0h1m14 0h1m3 0h1m41 0h2m-133 1h2m48 0h1m6 0h1m27 0h1m1 0h1m3 0h1m-118 1h1m33 0h1m66 0h1m11 0h2m2 0h1m2 0h1m32 0h1m-120 1h1m66 0h1m3 0h1m7 0h1m1 0h3m39 0h1m-106 1h1m1 0h1m21 0h1m9 0h1m26 0h1m1 0h1m6 0h1m32 0h1m2 0h1m-111 1h1m28 0h2m3 0h1m1 0h2m20 0h1m5 0h1m39 0h1m6 0h1m-113 1h1m68 0h1m1 0h1m21 0h1m5 0h1m3 0h2m-121 1h1m4 0h2m2 0h1m6 0h1m34 0h1m1 0h1m8 0h1m28 0h1m10 0h1m17 0h1m2 0h1m1 0h1m-120 1h1m9 0h1m56 0h1m1 0h1m16 0h1m1 0h1m7 0h3m-73 1h1m23 0h1m13 0h1m4 0h1m7 0h1m37 0h1m-116 1h1m3 0h1m45 0h1m32 0h1m3 0h2m1 0h1m4 0h1m8 0h1m8 0h1m1 0h1m-96 1h1m25 0h1m11 0h1m9 0h1m16 0h1m4 0h2m2 0h1m2 0h1m4 0h1m5 0h2m-84 1h1m13 0h1m9 0h1m25 0h1m18 0h1m8 0h1m3 0h1m3 0h1m-118 1h1m50 0h2m11 0h2m8 0h1m3 0h1m18 0h1m12 0h1m1 0h1m1 0h1m2 0h1m6 0h1m-92 1h1m6 0h2m1 0h1m8 0h1m11 0h1m2 0h1m7 0h1m8 0h1m9 0h1m4 0h1m22 0h1m-93 1h1m38 0h1m7 0h1m5 0h1m2 0h1m3 0h2m1 0h1m6 0h1m1 0h1m15 0h1m-98 1h1m46 0h1m1 0h1m6 0h1m7 0h1m3 0h1m7 0h1m2 0h2m11 0h1m7 0h1m-146 1h1m56 0h1m2 0h1m5 0h1m10 0h1m23 0h1m23 0h1m5 0h1m4 0h1m-90 1h1m17 0h1m26 0h1m6 0h1m7 0h2m3 0h2m19 0h1m-132 1h1m28 0h2m22 0h1m6 0h1m23 0h2m3 0h1m8 0h1m24 0h1m2 0h1m1 0h1m-101 1h1m24 0h1m2 0h1m4 0h1m22 0h2m1 0h1m1 0h1m2 0h1m6 0h1m4 0h1m4 0h1m1 0h1m9 0h1m2 0h2m10 0h1m-109 1h1m23 0h2m42 0h1m4 0h1m3 0h1m-88 1h1m34 0h1m4 0h1m20 0h1m12 0h1m12 0h1m3 0h1m15 0h1m8 0h2m-80 1h1m3 0h1m35 0h1m2 0h1m4 0h1m21 0h1m-122 1h1m2 0h1m1 0h1m16 0h2m28 0h1m22 0h2m16 0h1m10 0h1m10 0h1m9 0h1m-118 1h1m19 0h1m23 0h1m33 0h2m9 0h1m1 0h1m2 0h1m13 0h1m4 0h1m4 0h1m-120 1h1m20 0h1m66 0h1m6 0h2m-106 1h1m93 0h1m1 0h1m1 0h1m7 0h1m-107 1h1m39 0h1m3 0h1m53 0h1m18 0h2m-116 1h1m109 0h1m3 0h2m-15 1h1m6 0h1m2 0h1m-108 1h1m104 0h1m2 0h1m4 0h1m-118 1h1m98 0h1m2 0h1m11 0h1m1 0h2m-18 1h1m9 0h1m1 0h1m3 0h1m-116 1h1m6 0h1m84 0h1m3 0h1m-102 1h1m35 0h1m73 0h1m7 0h1m-122 1h1m15 0h1m78 0h1m7 0h1m7 0h1m5 0h2m-9 1h1m-94 1h1m1 0h1m34 0h1m61 0h1m-114 1h1m9 0h1m-1 1h1m35 0h1m-43 1h1m4 0h1m-2 1h2m12 0h1m11 0h1m7 0h1m-36 1h1m10 0h1m2 0h1m-17 1h1m3 0h1m3 1h1m9 0h1m14 0h1m52 0h1m-88 1h1m2 0h1m6 0h1m12 0h1m-9 1h1m7 0h1m11 0h1m3 0h1m21 0h1m16 0h1m-73 1h1m4 0h1m6 0h1m5 0h1m13 0h1m7 0h1m17 0h1m12 0h1m-71 1h1m8 0h1m2 0h1m14 0h1m1 0h1m37 0h1m1 0h1m-69 1h1m4 0h1m7 0h1m53 0h2m-68 1h1m6 0h1m10 0h1m4 0h1m4 0h1m-31 1h1m13 0h1m11 0h1m-14 1h1m1 0h1m10 0h2m-18 1h1m-1 1h1m-4 1h1" stroke="#472d7b"/>
<path d="m126 9h1m-6 1h1m2 0h1m1 0h1m4 0h1m-6 1h1m0 2h1m-19 7h1m0 2h1m-1 1h1m-9 1h1m-4 2h1m5 0h1m3 0h1m1 0h1m-13 1h1m6 0h1m3 1h1m17 0h1m-34 1h1m10 0h1m1 0h1m1 0h1m2 0h1m8 0h1m-38 1h2m10 0h1m11 0h1m5 0h1m5 0h1m-25 1h1m13 0h1m2 0h1m7 0h1m2 0h1m5 0h1m-22 1h1m18 0h1m-13 1h2m5 0h1m-42 1h1m5 0h1m18 0h1m19 0h1m-38 1h1m1 0h1m16 0h1m17 0h1m-50 1h1m4 0h1m5 0h1m3 0h1m14 0h1m23 0h1m-58 1h1m11 0h1m6 0h1m9 0h1m1 0h1m3 0h1m6 0h1m9 0h2m-34 1h2m7 0h1m2 0h1m6 0h1m3 0h1m2 0h1m-43 1h1m8 0h2m6 0h1m8 0h2m2 0h1m4 0h1m2 0h3m18 0h1m-41 1h1m1 0h2m7 0h1m22 0h2m1 0h1m-59 1h1m1 0h1m19 0h1m21 0h1m8 0h2m-54 1h1m25 0h1m15 0h1m8 0h1m1 0h1m1 0h1m4 0h1m3 0h1m-72 1h1m4 0h1m6 0h1m1 0h1m17 0h1m17 0h1m2 0h2m14 0h1m-67 1h2m5 0h1m57 0h1m1 0h1m-84 1h1m15 0h2m10 0h1m36 0h1m3 0h1m2 0h1m-64 1h1m52 0h1m5 0h2m2 0h1m-63 1h1m1 1h1m-11 1h1m3 0h1m1 0h1m56 0h1m-62 1h1m3 0h1m7 0h1m-31 1h1m18 0h1m14 0h2m3 0h2m43 0h1m-66 1h1m2 0h1m11 0h1m2 0h2m-32 1h1m10 0h1m2 0h1m7 0h1m5 0h1m3 0h1m24 0h1m-44 1h1m6 0h1m4 0h2m4 0h1m-34 1h1m22 0h2m37 0h1m-61 1h1m7 0h1m5 0h2m7 0h1m2 0h1m4 0h1m2 0h1m-29 1h1m3 0h1m16 0h1m-19 1h1m11 0h1m36 0h2m11 0h1m22 0h1m3 0h2m-75 1h1m4 0h1m9 0h1m16 0h2m1 0h1m15 0h1m18 0h1m-96 1h1m29 0h1m6 0h2m12 0h1m9 0h1m9 0h1m-33 1h2m12 0h1m7 0h1m3 0h2m1 0h1m30 0h1m-76 1h2m7 0h1m5 0h3m2 0h1m6 0h1m24 0h1m-79 1h1m19 0h1m2 0h2m6 0h1m14 0h1m3 0h1m3 0h1m20 0h1m5 0h1m13 0h1m3 0h1m-98 1h1m11 0h1m11 0h1m2 0h2m2 0h1m5 0h1m2 0h1m7 0h1m29 0h1m14 0h1m4 0h1m-102 1h2m16 0h1m16 0h1m38 0h1m20 0h2m-83 1h1m10 0h1m2 0h1m2 0h1m9 0h2m12 0h1m1 0h1m10 0h1m-58 1h1m20 0h1m23 0h1m-25 1h1m4 0h1m11 0h1m3 0h1m1 0h1m7 0h2m5 0h1m1 0h1m1 0h1m24 0h2m-88 1h1m12 0h3m8 0h1m2 0h1m9 0h1m3 0h1m1 0h1m8 0h1m6 0h1m1 0h1m7 0h1m14 0h1m2 0h1m-105 1h1m9 0h1m2 0h1m18 0h1m4 0h1m2 0h1m4 0h1m17 0h1m3 0h1m3 0h1m28 0h1m-85 1h1m4 0h1m9 0h1m15 0h1m6 0h2m4 0h1m13 0h1m-157 1h1m81 0h1m18 0h1m5 0h1m1 0h1m9 0h1m4 0h1m11 0h1m6 0h1m7 0h1m7 0h1m1 0h1m2 0h1m15 0h1m-60 1h1m9 0h1m16 0h1m11 0h1m5 0h1m16 0h1m1 0h1m-183 1h1m91 0h2m2 0h1m29 0h1m7 0h1m6 0h1m16 0h1m2 0h1m20 0h1m-88 1h1m2 0h2m5 0h1m4 0h1m10 0h1m1 0h1m10 0h1m3 0h1m18 0h1m18 0h1m-133 1h1m47 0h1m7 0h1m4 0h1m3 0h1m18 0h1m27 0h1m3 0h1m2 0h1m12 0h1m-79 1h2m2 0h2m7 0h1m8 0h1m26 0h1m28 0h2m-81 1h1m10 0h1m4 0h1m5 0h1m10 0h1m2 0h1m9 0h1m9 0h1m7 0h1m-65 1h1m14 0h1m3 0h1m8 0h1m1 0h1m29 0h1m7 0h1m5 0h1m5 0h1m-174 1h2m90 0h1m13 0h1m5 0h1m6 0h1m3 0h1m2 0h1m8 0h1m3 0h1m13 0h1m2 0h1m3 0h1m5 0h1m-94 1h1m20 0h1m14 0h1m29 0h1m16 0h1m3 0h1m1 0h2m-74 1h1m3 0h1m7 0h1m1 0h1m5 0h1m10 0h1m2 0h1m35 0h1m1 0h1m-74 1h1m3 0h1m9 0h3m4 0h1m4 0h1m1 0h1m1 0h1m35 0h1m3 0h1m1 0h1m-71 1h1m5 0h1m6 0h2m13 0h1m36 0h1m2 0h1m3 0h1m-73 1h1m1 0h2m3 0h1m7 0h1m4 0h1m48 0h1m-65 1h2m2 0h1m5 0h1m3 0h2m5 0h1m-33 1h1m6 0h1m14 0h1m2 0h1m4 0h1m-16 1h1m3 0h1m8 0h1m1 0h1m44 0h1m-58 1h1m3 0h1m51 0h1m-61 1h1m2 0h1m-24 1h1m16 0h1m16 1h1m46 0h1m-69 1h1m4 0h1m11 0h1m4 0h1m-25 1h1m2 0h1m3 0h1m12 0h1m-117 1h1m26 0h1m87 0h1m0 1h1m4 0h1m36 0h1m-123 1h1m40 0h1m9 0h1m34 0h1m22 0h1m10 0h1m-42 1h1m21 0h1m5 0h1m-109 1h2m47 0h1m33 0h1m2 0h1m15 0h1m16 0h1m-153 1h1m133 0h1m13 0h1m3 0h1m1 0h1m-82 1h1m61 0h1m11 0h2m5 0h1m3 0h1m-121 1h1m25 0h1m28 0h1m21 0h1m35 0h1m2 0h1m-65 1h1m5 0h1m14 0h1m38 0h1m3 0h1m3 0h1m-124 1h2m70 0h1m16 0h2m1 0h1m16 0h1m3 0h1m5 0h1m-152 1h1m108 0h1m15 0h1m4 0h2m3 0h1m2 0h1m2 0h1m1 0h1m1 0h1m7 0h1m1 0h1m-123 1h1m4 0h1m45 0h1m2 0h1m41 0h1m10 0h1m2 0h1m5 0h1m-33 1h1m22 0h1m-139 1h1m67 0h1m6 0h1m40 0h1m5 0h1m19 0h1m1 0h3m-79 1h1m34 0h1m8 0h1m8 0h1m2 0h1m1 0h1m2 0h2m6 0h1m-98 1h1m5 0h1m1 0h1m8 0h1m38 0h1m3 0h1m12 0h2m7 0h1m23 0h1m-67 1h1m11 0h1m12 0h1m3 0h1m6 0h1m3 0h1m7 0h1m6 0h1m1 0h1m5 0h1m1 0h1m-85 1h1m3 0h1m1 0h1m29 0h1m12 0h2m1 0h1m14 0h2m2 0h1m13 0h1m-79 1h1m18 0h1m2 0h1m5 0h1m9 0h2m5 0h1m2 0h1m8 0h1m3 0h1m2 0h1m1 0h1m7 0h1m-56 1h1m20 0h2m2 0h2m1 0h1m4 0h2m13 0h1m7 0h1m-122 1h1m5 0h1m5 0h1m81 0h1m9 0h1m14 0h1m-90 1h1m13 0h1m31 0h1m5 0h1m3 0h1m21 0h1m9 0h1m-133 1h1m42 0h1m50 0h3m7 0h1m15 0h1m-112 1h1m88 0h2m-101 1h1m42 0h1m44 0h1m18 0h1m11 0h1m6 0h1m3 0h1m-131 1h1m2 0h1m89 0h1m1 0h1m11 0h1m-101 1h1m31 0h1m76 0h1m4 0h1m-6 1h1m-16 1h1m-102 1h1m4 0h1m91 0h1m25 0h1m-22 1h1m3 0h1m0 1h1m11 0h1m3 0h1m-25 1h1m3 0h1m8 0h1m1 0h3m0 1h1m-24 1h1m21 0h2m-23 1h1m2 0h1m16 0h1m-16 1h1m8 0h1m5 0h2m-107 1h4m-3 1h1m4 0h2m-21 1h1m18 0h1m90 0h1m2 0h1m-108 1h1m3 0h1m13 0h1m21 0h1m-24 1h1m83 0h1m1 0h2m-94 1h1m2 0h2m15 0h1m-12 2h1m69 0h2m-87 1h1m1 0h1m5 0h1m81 0h2m-98 1h1m1 0h1m3 0h1m6 0h1m1 0h1m3 0h1m5 0h1m9 0h1m51 0h1m8 0h1m-76 1h1m4 0h1m36 0h1m12 0h1m3 0h1m-35 1h1m1 0h1m2 0h1m2 0h1m-43 1h1m2 0h2m4 1h1m7 0h1m2 0h1m10 0h1m-39 1h1m7 0h1m8 0h1m13 0h1m-17 1h1m6 0h1m3 0h1m-10 2h2m-6 2h1m1 0h1m-7 1h2" stroke="#443b84"/>
<path d="m129 8h1m-7 8h1m-6 4h1m-7 1h1m15 1h1m-25 3h1m5 0h1m-10 2h1m5 0h1m1 0h1m18 0h1m-15 1h1m-4 1h1m-18 1h1m16 0h1m2 0h1m-30 1h1m21 1h1m6 0h2m-34 1h1m9 0h1m14 0h1m17 0h1m1 0h1m-11 1h1m-39 1h1m26 0h1m8 0h1m6 0h1m-43 1h1m11 0h1m39 0h1m-51 1h1m27 0h1m16 0h1m3 0h1m-45 1h1m1 0h1m3 0h1m15 0h1m10 0h1m6 0h1m-42 1h1m4 0h1m12 0h2m-1 1h1m3 0h1m9 0h1m1 0h1m-48 1h1m10 0h1m12 0h1m3 0h2m10 0h1m26 0h1m-62 1h1m22 0h1m5 0h1m2 0h1m12 0h1m14 0h1m1 0h1m-54 1h2m2 0h1m17 0h1m16 1h2m2 0h1m-53 1h1m1 0h1m43 0h1m15 0h1m-74 1h1m71 0h1m-63 1h1m2 0h1m39 0h1m2 0h1m3 0h1m-70 1h1m6 0h1m2 0h1m2 0h1m9 0h1m44 0h1m-49 1h1m44 0h1m2 0h1m-75 1h1m1 0h1m12 0h1m9 0h1m1 0h1m2 0h1m-31 1h1m11 0h2m2 0h1m47 0h1m-54 1h2m4 0h3m55 0h1m-65 1h1m1 0h2m17 0h1m38 0h1m2 0h1m-54 1h1m9 0h1m-21 1h1m11 0h1m6 0h1m1 0h1m1 0h1m-34 1h1m14 0h1m43 0h2m5 0h1m2 0h1m-41 1h1m5 0h1m21 0h1m9 0h1m3 0h1m-38 1h1m2 0h1m16 0h1m6 0h1m11 0h1m24 0h1m-100 1h1m27 0h1m1 0h2m18 0h1m16 0h1m6 0h1m-75 1h1m29 0h1m7 0h2m8 0h2m6 0h2m3 0h1m7 0h1m22 0h1m2 0h1m2 0h1m-53 1h1m2 0h1m11 0h1m4 0h1m23 0h2m-62 1h2m21 0h1m24 0h1m19 0h1m-96 1h1m11 0h1m67 0h1m-60 1h1m4 0h1m-28 1h1m6 0h1m5 0h2m16 0h1m13 0h1m1 0h1m2 0h1m31 0h1m8 0h1m-92 1h1m19 0h2m4 0h1m7 0h1m9 0h1m5 0h1m3 0h2m-36 1h1m4 0h1m10 0h1m16 0h1m8 0h1m3 0h2m1 0h1m5 0h1m-73 1h1m3 0h1m24 0h1m11 0h1m7 0h1m2 0h1m6 0h1m4 0h1m-65 1h1m23 0h1m9 0h1m9 0h1m6 0h1m5 0h1m6 0h1m16 0h1m-68 1h2m4 0h1m21 0h1m16 0h1m5 0h1m5 0h1m2 0h1m2 0h1m-62 1h1m7 0h1m24 0h2m9 0h1m4 0h2m11 0h1m1 0h1m-83 1h1m21 0h1m4 0h1m27 0h1m33 0h1m-89 1h1m30 0h1m15 0h2m1 0h2m5 0h1m2 0h1m10 0h1m-65 1h1m26 0h1m12 0h1m8 0h1m2 0h2m-49 1h1m2 0h1m10 0h1m30 0h1m1 0h1m24 0h1m1 0h1m-74 1h1m6 0h1m8 0h1m1 0h1m11 0h1m2 0h1m23 0h2m-59 1h1m2 0h1m1 0h1m5 0h1m5 0h1m3 0h1m1 0h1m20 0h1m11 0h1m2 0h1m-93 1h1m24 0h1m1 0h1m8 0h1m13 0h1m6 0h2m12 0h1m16 0h1m16 0h1m-187 1h1m100 0h1m8 0h1m13 0h1m17 0h1m15 0h1m5 0h1m3 0h1m3 0h1m15 0h1m-78 1h1m1 0h1m7 0h2m4 0h1m15 0h1m20 0h1m3 0h1m2 0h1m1 0h1m-90 1h1m30 0h1m3 0h4m12 0h2m14 0h1m16 0h1m4 0h1m12 0h1m-81 1h1m10 0h1m15 0h1m3 0h1m1 0h1m24 0h1m3 0h1m2 0h1m9 0h1m1 0h1m-83 1h1m6 0h1m1 0h1m2 0h4m3 0h1m33 0h1m11 0h1m5 0h1m-50 1h2m46 0h1m9 0h1m-71 1h1m1 0h1m10 0h1m8 1h1m-129 1h1m101 0h1m24 0h1m37 0h2m3 0h1m-64 1h1m18 0h1m-2 1h1m-20 1h2m61 0h1m-49 2h1m-75 2h1m57 0h1m54 1h1m3 0h1m3 0h1m-91 2h1m77 0h1m6 0h1m-49 1h1m33 0h1m1 0h1m7 0h1m-155 1h1m61 1h1m1 0h1m33 0h1m44 0h1m6 0h1m-110 1h1m76 0h1m3 0h1m15 0h1m-20 1h1m14 0h1m10 0h1m-112 1h1m6 0h1m97 0h1m12 0h1m3 0h1m-45 1h1m6 0h2m16 0h1m5 0h1m2 0h1m10 0h1m-47 1h1m13 0h1m13 0h1m5 0h1m-143 1h1m127 0h1m10 0h1m4 0h1m-24 1h1m3 0h1m12 0h1m11 0h1m-98 1h1m15 0h1m3 0h1m56 0h1m19 0h1m-49 1h1m10 0h1m1 0h1m8 0h1m4 0h1m16 0h1m-81 1h1m14 0h1m21 0h1m6 0h1m12 0h1m7 0h1m4 0h1m4 0h1m-76 1h1m30 0h1m5 0h1m8 0h1m3 0h1m16 0h1m6 0h1m7 0h1m-64 1h1m25 0h1m8 0h1m5 0h1m10 0h1m5 0h1m-47 1h1m8 0h1m16 0h2m-91 1h1m53 0h1m11 0h1m5 0h1m1 0h1m3 0h1m6 0h1m1 0h1m4 0h1m12 0h1m-43 1h1m4 0h1m31 0h1m1 0h2m-4 1h1m-113 1h1m109 0h1m-39 1h1m4 0h1m7 0h1m19 0h1m12 0h1m-94 1h1m83 0h1m2 0h1m3 0h1m-106 1h1m75 0h1m20 0h2m1 0h1m2 0h1m-41 1h1m2 0h1m32 0h1m-115 1h1m13 0h1m3 1h1m96 0h1m-10 2h1m-116 1h1m4 0h1m97 0h1m-104 1h1m105 0h1m-110 1h1m108 0h1m-110 1h1m-2 1h1m115 0h1m-112 1h1m9 0h1m86 0h1m11 0h1m-15 1h1m16 0h1m-117 1h2m1 1h1m14 0h1m28 1h1m-38 1h1m6 0h1m1 0h1m5 0h1m-7 1h1m29 0h1m59 0h1m-104 1h1m4 0h1m-3 1h1m85 0h1m2 0h1m1 1h1m-91 1h1m17 0h1m-21 1h1m7 0h1m2 0h1m8 0h1m-22 1h1m12 0h2m5 0h1m32 0h1m4 0h1m-48 1h1m9 0h1m5 0h1m0 2h1m3 0h1m-29 1h1m3 0h1m10 3h1m-1 1h1" stroke="#3e4a89"/>
<path d="m125 9h1m-1 6h1m-5 7h1m-10 1h1m-5 3h1m-5 1h1m10 0h1m15 1h1m-48 1h1m12 0h1m1 0h1m27 1h1m-34 1h1m20 0h1m18 0h1m-25 3h1m14 0h1m3 0h1m-22 1h1m14 0h1m-41 1h1m2 0h2m34 0h1m-2 1h1m4 0h1m-48 1h1m27 0h1m9 0h2m-38 1h1m1 0h1m25 0h1m6 0h1m12 0h1m11 0h1m-49 1h1m3 0h1m2 0h1m11 0h1m27 0h1m-48 1h1m-21 1h1m11 0h1m13 0h1m14 0h1m-37 1h2m23 0h1m1 0h1m22 0h2m2 0h1m6 0h2m1 0h1m-71 1h1m17 0h1m30 0h1m2 0h1m1 0h1m-6 1h1m-52 1h1m7 0h1m9 0h1m25 0h1m15 0h1m-61 1h1m18 0h1m1 0h1m-29 2h1m40 0h1m21 0h2m-51 1h1m46 0h1m1 0h1m1 0h1m-80 1h1m69 0h1m5 0h1m2 0h1m-60 1h1m10 0h1m43 0h1m-61 1h1m42 0h1m-43 1h1m21 0h1m21 0h1m3 0h1m11 0h1m-64 1h1m46 0h2m-9 1h1m5 0h1m10 0h1m5 0h1m-71 1h1m36 0h1m21 0h1m-58 1h1m25 0h1m3 0h1m39 0h1m-65 1h1m25 0h2m5 0h1m15 0h1m9 0h1m26 0h2m-64 1h2m19 0h1m41 0h1m-71 1h2m4 0h2m29 0h1m4 0h1m6 0h2m-35 1h1m2 0h1m1 0h1m4 0h1m37 0h1m5 0h1m-71 1h1m34 0h1m5 0h1m7 0h3m-58 1h1m4 0h1m24 0h2m10 0h3m9 0h1m-58 1h1m48 0h1m6 0h1m2 0h1m17 0h1m-53 1h1m6 0h1m11 0h1m-54 1h1m14 0h1m8 0h1m21 0h1m4 0h1m-50 1h1m26 0h1m15 0h1m9 0h1m3 0h1m7 0h1m-66 1h1m14 0h1m1 0h1m26 0h1m9 0h1m-57 1h1m1 0h1m15 0h1m1 0h1m2 0h1m22 0h1m16 0h1m1 0h1m19 0h1m3 0h1m-87 1h1m15 0h1m23 0h1m21 0h1m-65 1h1m13 0h1m3 0h1m7 0h1m4 0h1m52 0h1m-86 1h1m1 0h1m13 0h1m9 0h1m15 0h1m5 0h1m8 0h1m11 0h1m-61 1h1m75 0h2m-63 1h1m31 0h1m29 0h1m-85 1h1m12 0h1m13 0h1m-94 1h1m94 1h2m19 0h1m12 0h1m1 0h1m6 0h1m-72 1h1m2 0h1m2 0h1m12 0h1m5 0h1m7 0h1m20 0h1m17 0h1m2 0h1m-183 1h1m110 0h1m35 0h1m16 0h2m20 0h1m-70 1h1m6 0h1m12 0h1m1 0h1m13 0h2m6 0h1m18 0h1m-73 1h1m3 0h1m39 0h1m2 0h1m15 0h1m9 0h1m-15 1h1m7 0h1m5 0h1m-9 1h1m-66 1h1m16 0h1m3 0h2m1 0h1m22 0h1m-152 1h1m123 0h1m41 0h1m2 0h2m-102 1h1m33 0h1m4 1h1m57 0h1m-42 2h1m-124 1h1m163 0h1m-165 1h1m161 1h1m-135 1h1m0 1h1m116 0h1m-146 1h1m27 1h1m117 0h1m1 0h1m-73 1h1m30 0h1m51 0h1m-78 1h1m34 0h1m2 0h1m39 0h1m-124 1h1m61 0h1m51 0h1m3 0h1m-91 1h1m27 0h1m44 0h1m3 0h1m10 0h1m3 0h3m-116 1h1m59 0h1m33 0h1m5 0h2m3 0h1m-146 1h1m105 0h1m3 0h1m3 0h1m21 0h1m1 0h1m4 0h1m-24 1h1m3 0h1m7 0h1m-48 1h1m8 0h1m50 0h1m-114 1h1m87 0h1m27 0h1m-147 1h1m91 0h1m24 0h1m4 0h1m8 0h1m9 0h1m-110 1h1m117 0h1m-150 1h1m73 0h1m16 0h1m22 0h1m16 0h1m4 0h1m3 0h1m1 0h1m-94 1h1m65 0h1m15 0h1m5 0h1m-73 1h1m34 0h1m16 0h1m24 0h1m-49 1h1m10 0h1m16 0h1m22 0h1m-81 1h1m20 0h1m11 0h1m13 0h1m4 0h1m0 1h1m6 0h1m-62 1h1m40 0h1m4 0h1m9 0h2m9 0h1m-110 1h1m84 0h1m3 0h1m10 0h1m-63 1h1m3 0h1m62 0h1m3 0h1m-67 1h1m36 0h1m6 0h1m-13 1h1m12 0h2m19 0h1m-59 1h1m25 0h1m23 0h1m-23 1h1m4 0h1m15 0h1m6 0h1m2 0h1m-41 1h1m31 0h1m3 0h1m3 0h1m1 0h1m-105 1h1m97 0h1m4 0h2m-124 1h1m117 0h1m3 0h1m-123 1h1m18 0h1m-20 1h1m46 0h1m35 0h1m33 0h1m-121 2h1m116 0h1m-124 1h1m5 0h1m111 1h1m-105 1h1m-13 1h1m2 1h1m104 0h1m-95 1h1m-14 1h1m29 0h1m80 0h1m-101 1h1m33 0h1m-38 1h1m8 0h1m88 0h1m-104 1h2m10 0h1m2 0h1m23 0h1m62 0h1m-102 1h1m7 0h1m2 0h1m30 0h1m56 0h1m-95 1h1m3 0h1m3 0h1m8 0h1m-22 2h1m5 0h1m1 1h1m19 0h1m13 0h2m5 0h1m2 0h1m2 0h1m9 0h1m2 0h1m-60 1h1m75 0h1m-80 1h1m12 0h1m54 0h1m-55 1h1m19 0h1m-17 1h1m-1 1h1m1 0h1m-16 2h1m3 1h1m2 0h1m-4 1h1" stroke="#38598c"/>
<path d="m126 8h1m-4 6h1m-17 3h1m2 0h1m-19 5h1m11 1h1m5 3h1m2 1h1m10 0h1m-20 2h1m21 0h1m-20 2h1m19 2h1m-39 1h1m31 0h2m-34 1h1m34 0h1m5 1h1m-51 1h1m-2 1h1m11 0h1m28 0h1m3 0h1m-30 1h1m-2 1h1m7 0h1m9 0h1m6 0h1m-39 1h1m32 0h1m3 0h1m1 0h1m4 0h1m-51 1h1m6 0h1m7 0h1m14 0h1m1 0h1m1 0h2m1 0h1m27 0h1m-61 1h1m3 0h1m10 0h1m1 0h1m31 0h2m-65 1h1m3 0h1m5 0h1m2 0h1m5 0h1m35 0h2m-35 1h1m33 0h1m1 0h1m-39 1h1m45 0h1m6 0h1m-58 1h1m37 0h1m20 0h1m-79 1h1m41 0h1m17 0h1m-55 1h1m-8 2h1m14 0h1m2 0h1m1 0h1m38 0h1m2 1h2m1 0h1m-84 2h1m16 0h1m13 0h1m38 1h1m8 0h1m4 0h1m-23 1h1m-22 1h1m28 0h1m8 0h1m2 0h1m-73 1h1m32 0h1m1 0h1m59 0h1m-64 1h1m17 0h1m8 0h1m2 0h1m34 0h2m-69 1h1m14 0h2m3 0h1m10 0h2m-50 1h1m6 0h1m26 0h1m10 0h1m6 1h1m24 0h1m2 0h1m-64 1h1m18 0h1m1 0h1m44 0h1m-25 1h1m-9 1h1m-40 1h1m35 0h1m6 0h1m-46 1h1m22 0h1m1 0h1m7 0h1m8 0h1m-69 1h1m36 0h1m4 0h1m45 0h1m-85 1h1m1 0h1m2 0h1m13 0h1m35 0h1m8 0h1m25 0h1m-42 1h1m4 0h1m1 0h1m8 0h1m9 0h1m5 0h1m-77 1h1m51 0h1m9 0h1m5 0h1m-43 1h1m20 0h2m8 0h1m8 0h1m21 0h1m-90 1h1m2 0h1m2 0h1m7 0h1m12 0h1m34 0h1m-61 1h1m7 0h1m2 0h2m27 0h1m1 0h1m11 0h1m-43 1h2m43 0h1m1 0h2m6 0h1m17 0h1m-83 1h1m3 0h1m5 0h1m39 0h2m1 0h1m-36 1h1m58 0h1m-72 1h1m13 0h1m5 0h1m23 0h1m1 0h1m22 0h1m-67 1h1m52 0h1m15 0h1m-62 1h1m2 0h1m7 0h1m15 0h1m3 0h1m24 0h2m5 0h1m-188 1h1m108 0h1m19 0h1m2 0h1m32 0h2m1 0h1m-148 1h1m74 0h1m17 0h1m3 0h2m31 0h1m4 0h1m8 0h2m1 0h1m-38 1h1m25 0h1m8 0h1m10 0h1m2 0h1m-81 1h2m11 0h1m6 0h1m4 0h1m-123 1h1m105 0h1m16 0h1m4 0h1m40 0h1m1 0h1m-46 1h1m39 0h1m-60 1h2m-108 1h1m114 0h1m-11 1h1m8 0h1m-114 1h1m169 0h1m-21 2h1m17 1h1m-16 1h1m13 0h1m-20 1h1m4 0h1m11 0h1m-13 1h1m4 0h1m2 0h1m-17 1h1m3 0h1m11 0h1m-37 1h1m14 0h1m21 0h1m-122 1h1m79 0h1m0 1h1m20 0h1m5 0h2m-109 1h1m77 0h1m17 0h1m18 0h1m-72 1h1m35 0h1m1 0h1m-38 1h1m17 0h1m34 0h1m16 0h1m-152 1h1m142 0h1m3 0h1m-14 1h1m-53 1h1m39 0h1m9 0h1m5 0h1m-36 1h1m26 0h1m4 0h1m18 0h1m-31 1h1m17 0h1m-65 1h1m29 0h1m22 0h1m9 0h1m10 0h1m-27 1h1m6 0h1m4 0h1m2 0h1m-31 1h1m4 0h1m10 0h1m4 0h1m2 0h1m1 0h1m9 0h1m-79 1h1m50 0h1m3 0h1m1 0h1m6 0h1m-34 1h1m20 0h1m1 0h1m-25 1h1m-92 1h1m118 0h1m17 0h1m-52 1h1m7 0h1m31 0h1m-59 1h1m32 0h1m-100 1h1m76 0h1m-70 1h1m85 0h1m10 0h1m22 0h1m-125 1h1m4 0h1m95 0h1m11 1h1m2 0h1m6 0h1m-33 1h1m26 0h1m3 0h1m-5 1h2m0 2h1m-20 1h1m8 0h1m-116 3h1m12 0h1m90 0h1m-104 1h1m-3 1h1m-3 1h1m117 0h1m1 0h1m-106 3h1m26 2h1m-35 1h1m4 0h1m-9 1h1m1 0h1m1 0h1m6 0h1m12 0h1m-21 2h1m35 0h1m-18 1h1m-23 1h1m3 0h1m5 0h1m7 0h1m67 0h1m-43 1h1m-46 1h2m7 0h1m10 0h1m24 0h1m-19 1h1m-23 1h1m2 0h1m29 0h1m-18 2h1m3 0h1m-11 4h1" stroke="#31668e"/>
<path d="m127 8h1m-19 8h1m11 4h1m2 0h1m-5 1h1m-18 4h1m7 0h1m-8 1h1m11 2h1m-7 2h1m15 0h1m-19 2h1m4 1h1m17 0h1m-51 3h1m26 0h1m19 0h1m-43 1h1m3 0h3m16 0h1m-26 1h1m-8 1h1m43 0h1m-39 1h1m3 0h1m19 0h1m3 0h1m5 0h1m20 0h1m-49 1h1m18 0h1m-17 1h1m-6 1h1m55 0h1m-67 1h1m26 1h1m-13 1h1m19 0h1m8 0h1m-30 1h1m29 0h2m-43 1h1m8 0h1m30 0h1m-55 1h1m17 0h1m2 0h1m15 0h1m-28 1h1m3 0h1m4 0h1m39 0h1m-80 1h1m22 0h1m4 1h1m11 0h1m20 0h1m-27 1h1m40 0h1m-44 1h1m6 0h1m2 0h1m-40 1h1m27 0h1m10 0h1m4 1h2m15 0h1m6 0h1m5 0h3m-36 1h1m12 0h1m3 0h1m10 0h1m1 0h1m1 0h1m4 0h1m-77 1h1m4 0h1m24 0h1m28 0h1m8 0h1m-37 1h1m1 0h1m41 0h1m-32 1h1m13 0h1m16 0h1m-47 1h2m2 0h1m8 0h1m25 0h1m22 0h1m-79 1h1m11 0h2m23 0h1m-17 2h1m16 0h1m42 0h1m2 0h1m-70 1h1m-5 1h1m46 0h2m-72 1h1m23 0h1m3 0h1m6 0h1m-8 1h1m25 0h1m36 0h1m-96 1h1m9 0h1m26 0h1m12 0h1m2 0h1m-25 1h1m5 0h1m1 0h1m36 0h1m5 0h1m10 0h1m4 0h1m-85 1h1m24 0h1m-30 1h1m3 0h1m51 0h1m31 0h1m-105 1h1m14 0h1m9 0h1m78 0h1m-39 1h1m9 0h1m-54 1h1m1 0h1m44 0h1m24 0h1m-54 1h1m16 0h1m-14 1h1m25 0h1m3 0h2m7 0h1m-7 1h1m1 0h1m16 0h1m-81 1h1m23 0h1m20 0h1m18 0h1m1 0h1m-63 1h1m6 1h1m46 0h1m7 0h1m15 0h1m-77 1h1m13 0h2m3 1h1m5 0h1m28 0h1m-11 1h1m22 0h2m-2 1h2m-11 2h1m-60 1h1m5 0h1m55 0h1m-2 1h2m1 0h1m-65 1h1m61 2h1m-166 1h1m87 0h1m64 0h1m9 0h1m-7 1h1m-12 2h1m1 0h1m7 0h1m-17 2h1m7 0h1m-6 1h1m-107 1h1m3 0h1m76 0h1m19 0h2m5 0h1m17 0h1m-17 1h1m7 0h1m-52 1h1m35 0h1m2 0h2m7 0h1m-70 1h1m54 0h1m12 0h2m-14 1h1m1 0h1m8 0h1m-27 1h2m-37 1h1m-53 1h1m46 0h1m60 0h1m-11 1h1m7 0h1m10 1h1m-23 1h1m11 0h1m11 0h1m-82 1h1m54 0h1m13 0h1m-31 1h1m12 0h1m14 0h1m-112 2h1m70 0h1m8 0h1m3 0h1m6 1h1m15 0h1m10 1h1m-31 1h1m-61 1h1m53 1h1m30 1h1m-32 1h1m30 0h1m-25 1h1m13 2h1m-1 1h1m2 0h1m-127 3h1m-2 2h1m14 4h1m1 0h1m2 1h1m-17 1h1m10 0h1m0 3h1m2 0h1m-11 1h1m8 0h1m-4 1h1m45 0h1m-50 1h1m3 0h2m8 0h1m-3 1h1m31 0h1m-46 1h1m49 0h1m29 0h1m-59 1h2m-8 1h1m6 0h1m-29 1h1m5 0h1m3 0h1m14 0h1m-16 1h1m12 0h1m1 0h1m-15 3h1m6 1h2" stroke="#2c728e"/>
<path d="m120 20h1m1 1h1m-1 1h1m-18 3h1m-24 2h1m22 1h1m11 0h1m-12 2h2m-17 3h1m40 0h1m-42 1h1m-14 3h1m6 0h1m22 0h1m15 0h1m-43 1h1m2 0h1m4 0h1m-7 1h1m38 0h1m-28 1h1m7 0h1m-16 1h1m6 0h1m10 0h2m2 0h1m8 0h1m-44 1h2m10 0h1m30 0h1m12 0h1m-58 1h1m15 0h1m-8 1h1m6 0h2m19 0h1m6 0h1m-15 1h1m-21 1h1m3 0h1m3 0h1m-10 1h1m-1 2h1m-24 1h1m1 0h1m3 0h1m16 0h1m18 0h1m21 1h2m-12 1h1m1 0h1m1 0h1m-48 1h1m52 0h1m-16 1h1m7 0h1m-42 1h1m22 0h1m20 0h1m-45 1h1m10 0h1m20 0h1m1 0h1m16 0h1m-76 1h1m30 0h1m9 1h1m9 0h1m4 0h1m8 0h1m-23 1h1m5 0h1m16 0h1m-42 1h3m7 0h1m6 0h1m22 0h1m33 0h1m-60 1h1m24 1h1m11 0h1m15 0h1m-54 1h1m57 0h2m-81 1h1m29 0h1m44 0h1m1 0h1m-47 1h1m12 0h1m-29 1h1m14 0h1m24 0h1m19 0h2m-91 1h1m18 0h1m5 0h1m24 0h1m13 0h1m5 0h1m19 0h1m-24 1h1m-30 1h1m2 0h1m10 0h2m7 0h1m3 0h1m17 0h1m-30 1h1m5 0h1m-11 1h1m38 0h1m-89 1h2m35 0h1m18 0h1m-62 1h1m27 0h1m-16 1h1m3 3h1m7 0h1m-12 1h1m2 0h1m44 0h1m-32 1h1m1 0h1m33 0h1m18 0h1m-69 1h1m14 0h1m25 0h1m2 0h1m23 0h1m-55 1h1m-31 1h1m28 0h1m23 0h1m30 0h1m-83 2h1m23 0h1m-9 1h1m49 0h1m10 0h2m-13 1h1m6 0h1m-57 1h1m9 0h1m36 0h1m11 0h1m-7 1h1m-60 2h1m41 0h1m10 0h1m5 1h1m-19 1h1m15 0h1m-18 1h1m6 0h1m9 0h1m-136 1h1m72 0h1m56 0h2m-46 1h1m34 0h1m3 0h1m1 0h1m-117 1h1m104 0h1m15 0h2m-125 1h1m106 0h1m7 0h1m13 0h1m-131 1h1m16 0h1m32 0h1m53 0h1m8 0h1m7 0h1m-18 1h1m2 0h1m-25 1h1m43 0h1m-128 1h2m101 0h1m10 1h1m3 0h1m-13 2h2m-57 2h1m9 0h1m39 0h2m-4 1h2m3 0h1m7 0h1m-114 1h1m50 0h1m40 0h1m10 0h1m5 0h1m-76 1h1m60 0h1m9 0h1m-133 1h1m57 0h1m-1 1h1m88 0h1m-42 1h1m23 0h1m-9 1h1m6 0h1m13 0h1m-82 1h1m59 0h1m7 0h1m-87 1h1m-21 1h1m23 0h1m2 1h1m-42 1h1m32 1h1m-30 1h1m89 0h1m27 0h1m-32 1h1m28 1h1m-121 1h1m115 1h1m3 0h1m-4 1h1m1 2h1m-111 8h1m1 1h1m-7 1h1m2 0h1m-3 1h1m28 0h1m-35 2h1m6 1h1m-7 1h1m-4 1h1m60 0h1m19 0h1m-74 1h1m39 0h1m21 0h1m11 0h1m-78 1h1m67 0h1m-68 1h2m33 0h1m-3 1h1m-33 1h1m28 0h1" stroke="#277e8e"/>
<path d="m123 7h1m3 2h1m-3 1h1m-17 14h1m1 3h1m-5 2h1m14 4h1m-43 4h1m29 1h1m-32 1h1m7 0h1m5 0h1m-17 1h1m13 0h1m5 1h1m3 0h1m10 0h1m20 0h1m-46 1h1m13 0h1m-16 1h1m20 0h1m1 0h1m10 0h1m-34 1h1m2 0h1m0 1h1m29 0h1m-32 1h1m-27 2h1m23 0h2m13 0h1m28 0h1m-46 1h1m17 0h1m-24 1h1m25 0h2m-43 1h1m21 0h1m-10 1h1m4 0h2m-34 1h1m15 0h1m11 0h1m2 0h1m22 0h1m9 0h1m-55 1h1m29 0h1m13 0h1m1 0h1m13 0h1m1 0h1m2 0h1m-66 1h1m31 0h1m5 0h1m4 0h1m-5 1h1m7 0h1m-25 1h2m15 0h2m5 0h1m8 0h1m-21 1h1m5 0h1m8 0h1m5 0h1m-20 1h1m4 0h1m11 0h1m-14 1h1m13 0h1m-16 1h1m-27 1h1m18 0h1m3 0h1m-30 1h1m46 0h1m27 0h1m-23 1h1m20 0h1m-90 1h1m14 0h2m75 0h1m-92 1h1m3 0h1m19 0h1m36 0h1m1 0h1m29 0h1m-66 1h1m16 0h1m14 0h1m6 0h1m1 1h1m-41 1h1m28 0h1m10 1h1m9 0h1m-76 1h1m10 0h1m39 0h1m3 0h1m7 0h1m21 0h1m-30 1h1m9 0h1m-82 1h1m23 0h1m4 0h1m-6 1h1m-5 1h1m7 0h1m69 0h1m-25 1h1m16 0h1m-73 1h1m7 0h1m42 0h1m3 0h1m3 0h1m1 0h1m-40 1h2m25 0h1m7 0h1m22 0h1m-76 1h1m9 0h1m23 0h1m-49 1h1m12 0h1m14 0h3m10 0h1m14 0h1m11 0h1m16 0h1m-38 1h1m6 0h1m28 0h1m-2 1h1m-58 1h1m28 0h1m-25 1h1m32 0h1m10 0h1m5 0h2m-50 1h1m47 0h1m-87 1h1m12 0h1m21 1h1m44 1h1m1 0h2m-49 1h1m40 2h1m1 0h1m1 0h1m-20 1h1m15 0h1m-17 1h1m14 0h1m-17 1h1m18 0h1m-18 1h1m5 0h1m-119 1h1m103 1h1m12 0h1m5 0h1m-21 1h1m10 0h1m-9 1h3m1 0h1m1 0h1m1 0h2m-115 1h1m83 0h1m16 0h1m2 0h1m-105 1h1m108 0h1m13 0h1m-160 1h1m136 0h1m7 0h1m10 0h1m-11 1h1m-65 2h1m36 0h1m16 0h1m-4 3h1m4 0h1m-31 1h1m-39 1h1m-18 1h1m41 0h1m38 0h1m-11 1h1m-118 1h1m115 0h1m-60 3h1m49 0h1m-105 1h1m78 1h1m41 1h1m-1 1h1m4 0h1m-85 2h1m77 1h1m-120 2h1m-1 4h1m118 0h1m-16 1h1m-110 1h1m97 1h1m-77 2h1m94 0h1m-103 1h1m3 0h1m-11 1h1m7 0h2m-9 1h1m101 0h2m-68 1h1m64 0h1m-98 1h1m5 0h1m-14 1h1m11 0h1m5 0h1m75 1h2m-96 1h1m7 0h1m-6 1h1m48 0h1m14 0h1m19 0h1m-85 1h1m49 0h1m-29 1h1m44 0h1m-27 1h1m-13 1h1m6 0h1m-33 1h1m25 0h1m4 0h1m-14 1h1m-7 3h1" stroke="#238a8d"/>
<path d="m124 13h1m-5 6h1m-20 4h1m12 1h1m1 0h1m-2 2h1m-8 4h1m23 2h1m-52 2h1m45 1h1m-41 2h1m1 0h1m-7 1h1m-2 1h1m2 0h1m6 0h1m1 0h1m22 0h1m-36 1h1m3 0h1m7 0h1m-12 1h2m9 0h1m11 0h1m3 0h1m-21 1h1m7 0h1m2 0h1m5 0h1m7 0h1m3 0h1m-29 1h1m14 0h1m5 0h1m-10 1h2m1 0h1m3 0h1m3 0h1m-30 1h2m8 0h1m31 0h1m-23 1h1m-42 1h1m3 0h1m15 0h1m2 0h1m4 0h1m11 0h1m11 0h1m-48 1h1m16 0h1m16 0h1m25 0h1m-46 1h1m24 0h2m8 0h1m-34 1h1m21 0h1m13 0h1m-12 1h1m11 0h1m-35 1h1m16 0h1m12 0h1m-32 1h1m40 0h1m-50 1h1m20 0h1m12 0h1m1 0h1m11 0h1m-37 1h1m12 0h1m13 0h1m-3 1h1m-27 1h1m-7 1h2m7 0h1m19 0h1m-14 1h1m13 0h1m-21 2h1m3 0h1m1 0h1m-32 3h2m-23 1h1m43 0h2m23 0h1m9 0h1m23 0h1m-23 1h1m-74 1h1m1 0h1m26 1h1m5 0h1m16 0h1m20 0h1m-74 1h1m15 0h1m18 0h1m-30 1h1m51 0h1m33 0h1m-78 1h2m42 0h1m33 0h1m-75 1h1m37 0h1m-39 2h1m1 1h1m-42 1h1m64 0h1m14 0h1m1 0h1m-3 1h1m6 0h1m-33 1h1m26 0h1m2 0h1m22 0h1m-83 1h1m53 0h1m4 0h1m25 0h1m-77 1h1m46 0h1m9 0h1m-60 1h1m15 0h1m30 0h1m3 0h1m7 0h1m-62 2h1m43 0h1m27 0h1m-80 1h1m20 0h1m50 1h1m3 1h1m-9 4h1m-18 1h1m14 0h1m4 0h1m-21 2h1m17 0h1m-17 1h1m10 0h1m2 0h1m-61 1h1m48 0h1m9 0h1m1 0h1m2 1h1m-130 2h1m102 1h1m13 0h1m5 0h1m-16 1h1m-4 1h1m2 1h1m6 1h1m5 0h1m-23 1h1m3 0h1m19 1h1m-23 1h1m-45 1h1m28 1h1m-78 1h1m91 0h1m17 0h1m-83 1h1m64 0h1m-132 1h1m116 0h1m-18 1h1m5 0h1m2 2h1m-81 4h1m72 0h1m6 0h1m-102 1h1m93 3h1m20 0h1m-83 1h1m88 1h1m-126 4h1m-4 2h2m1 1h1m111 0h1m-99 2h1m96 1h1m-96 1h1m-6 1h1m30 0h1m65 0h1m-108 1h1m1 0h2m5 0h1m-11 1h1m10 0h2m-6 1h1m-4 3h1m58 0h1m25 0h1m-80 1h1m52 0h1m-62 1h1m6 0h1m16 0h1m17 0h1m3 0h1m10 0h1m1 1h1m-51 1h1m20 1h1m-27 1h1m5 0h1m15 0h1m8 1h1m-14 1h1" stroke="#1f968b"/>
<path d="m128 8h1m-21 9h1m12 4h1m-10 3h1m-30 2h1m28 0h1m-7 2h1m-22 12h1m3 0h1m2 0h1m25 0h1m20 0h1m-49 1h1m3 0h1m3 0h1m13 0h1m4 0h1m-24 1h1m30 0h1m-28 1h1m2 0h1m11 0h1m5 0h1m-16 1h1m-15 1h1m7 0h1m2 0h1m9 0h1m7 0h1m-2 1h1m0 1h1m-16 1h1m19 0h1m-57 1h1m13 0h1m6 0h1m29 0h1m-2 1h3m1 0h1m-55 1h1m12 0h1m3 0h1m1 0h1m28 0h1m-40 1h1m5 0h1m6 0h2m14 0h2m1 0h1m6 0h1m9 0h1m-38 1h2m21 0h1m1 0h2m2 0h1m-38 1h1m12 0h1m1 0h1m4 0h1m14 0h1m5 0h1m3 0h1m-30 1h3m7 0h1m3 0h1m1 0h1m5 0h2m4 0h1m-76 1h1m46 0h1m7 0h1m9 0h1m-21 1h1m10 0h1m20 0h1m-26 1h1m-10 1h1m14 0h1m6 0h1m34 0h1m-58 1h1m12 0h1m9 3h1m29 0h1m-76 1h1m3 0h1m62 1h1m-21 1h1m8 0h1m-55 1h1m32 0h1m19 0h1m23 0h1m-78 1h1m6 0h1m24 0h1m23 1h1m-56 1h1m68 0h1m-15 1h1m-59 1h1m1 0h1m29 0h1m12 1h1m-15 1h1m45 1h1m-1 1h1m-2 1h1m-28 1h1m22 0h1m1 0h1m0 1h1m-7 1h1m-73 1h1m14 0h1m4 0h1m26 0h1m22 0h1m1 0h1m-71 1h1m12 0h1m1 0h1m1 0h1m2 0h1m-23 1h1m22 0h1m-5 1h1m46 2h1m-83 1h1m83 0h1m-6 1h1m-170 1h1m168 0h1m-22 3h1m20 0h1m-18 1h1m16 0h1m-21 1h1m2 0h1m4 0h1m5 0h1m-75 2h1m65 0h1m10 0h1m-77 1h1m-5 1h2m56 0h1m11 0h1m-70 1h1m63 0h1m1 0h1m-3 1h1m-74 1h1m81 1h1m1 0h1m-49 1h1m30 0h2m1 0h1m-111 1h1m123 0h2m-32 2h1m9 2h1m-85 1h1m99 1h1m-29 1h1m-59 1h1m0 1h1m66 0h1m-10 1h1m-16 1h1m14 0h1m-17 1h1m33 1h1m-37 2h1m-1 1h1m32 0h1m-35 1h1m21 0h2m3 1h1m-1 3h1m-2 1h1m-126 5h1m-2 2h1m116 0h1m-1 1h1m-4 1h1m-98 2h1m91 1h1m-3 1h1m-98 1h1m84 0h1m3 0h2m-75 1h1m1 0h1m-18 2h1m75 0h1m2 0h1m-79 1h1m34 0h1m27 0h1m2 0h1m-72 1h1m2 0h2m-2 1h1m38 0h1m-11 1h1m0 2h1m-12 2h1" stroke="#1fa287"/>
<path d="m111 20h1m-31 18h1m26 2h1m8 1h1m-32 1h1m10 0h1m2 0h1m-4 1h1m15 0h1m-27 1h1m7 0h1m11 0h2m2 0h2m-25 1h1m4 0h1m-9 1h1m3 0h1m16 0h2m-14 1h1m17 0h1m-5 2h1m9 0h1m-31 1h1m1 0h1m9 0h1m5 0h2m6 0h1m2 0h2m-28 1h1m12 0h1m4 0h2m4 0h1m-31 1h1m25 1h1m15 0h1m-39 1h1m3 0h1m13 0h1m4 0h1m5 0h1m-26 1h1m24 0h1m4 0h1m-31 1h2m9 0h1m-16 1h1m4 0h1m4 0h1m19 0h1m-21 1h1m17 0h2m35 0h1m-63 1h1m13 0h1m1 0h1m9 0h1m-1 1h1m2 0h1m-27 2h1m50 0h1m-66 1h1m2 0h1m9 1h1m34 1h1m21 1h1m-94 1h1m46 0h1m22 0h2m-40 1h1m28 0h1m5 0h1m-44 1h1m36 0h1m-4 1h1m33 0h1m-76 3h1m-3 3h1m13 2h1m60 0h1m-61 1h1m29 0h1m22 0h1m-26 1h1m-3 1h1m0 1h1m11 0h1m16 0h1m-62 1h1m58 0h1m-74 1h1m44 0h1m9 1h1m-1 1h1m11 0h1m-2 1h1m-68 1h1m52 0h1m-54 1h1m66 0h1m-9 1h1m-3 1h2m-4 2h1m-13 1h1m17 0h1m-18 1h1m19 0h1m-19 1h1m-64 1h1m0 1h1m56 0h2m-109 1h1m101 1h1m21 0h1m-1 1h1m-25 1h1m23 1h1m-18 1h1m-60 2h1m74 0h1m-23 1h1m20 0h1m-19 2h1m8 0h1m-97 3h1m99 0h1m-40 1h1m37 0h1m-36 2h1m31 0h1m-39 2h1m-78 1h1m110 0h1m-2 1h1m-13 3h1m0 1h1m-123 5h1m121 0h1m-8 1h1m6 0h1m-122 4h1m12 2h1m92 2h1m-6 2h1m-80 1h1m70 0h1m1 0h1m-94 1h1m-2 3h1m46 0h1m1 0h2m3 0h1m15 0h1m-11 1h1m19 0h1m-5 1h1m-69 2h1m21 0h1m1 0h1m5 0h1m2 0h1m-14 1h1m6 0h1m-17 1h1m-6 1h1m7 1h1" stroke="#28ae80"/>
<path d="m124 9h1m-1 5h1m-4 5h1m7 10h1m1 3h1m-48 5h1m3 1h1m-1 1h1m-8 1h1m33 0h1m18 1h1m-43 1h1m1 1h2m13 0h1m6 0h1m-1 1h1m2 0h1m-16 1h1m2 0h1m7 0h1m-12 1h1m10 0h1m-26 1h1m12 0h1m1 0h1m7 0h1m-27 1h1m27 0h1m2 0h1m1 0h1m2 0h1m-21 1h1m-33 1h1m26 0h1m4 0h1m1 0h1m-19 1h1m12 0h1m7 0h1m7 0h1m-54 1h1m26 0h1m7 0h1m22 0h1m1 0h1m-31 1h1m20 0h1m2 0h1m-18 1h1m19 0h1m-18 1h1m7 0h1m-24 1h1m16 0h1m12 0h1m-24 1h1m2 0h1m1 0h1m7 0h1m9 0h1m10 0h1m-37 1h1m2 0h1m1 0h1m2 0h2m-7 3h1m19 0h1m30 0h1m6 0h1m-2 1h1m-59 2h1m-39 2h1m63 1h1m-62 1h1m68 2h1m-13 1h1m29 0h1m3 0h1m-76 2h1m73 0h1m-66 2h1m-20 1h1m3 0h1m76 0h1m-25 1h1m21 0h1m-29 3h1m-50 1h1m-110 1h1m152 0h1m7 0h1m-36 1h1m28 0h1m-30 1h1m27 0h1m11 0h1m6 0h1m-12 1h1m3 0h1m8 1h1m-15 1h1m2 0h1m9 0h1m-9 1h1m-3 1h1m2 0h1m-4 1h1m-9 1h1m6 0h1m-8 1h1m-6 1h1m2 0h1m10 0h1m-3 1h1m2 1h1m5 0h1m-138 1h1m116 0h1m5 0h1m12 0h1m-17 1h1m11 1h1m-124 2h1m103 0h1m1 1h1m17 1h2m-63 1h1m43 0h1m-9 2h1m11 2h1m2 6h1m-49 1h1m-44 1h1m51 0h1m0 2h1m-2 2h1m28 2h1m-8 6h1m-124 2h1m-1 7h1m91 5h1m8 0h1m-99 2h1m79 0h1m-79 1h1m62 0h1m1 0h1m18 0h1m-88 1h1m0 1h1m75 0h1m-67 3h1m18 0h1m-18 1h1m-1 1h1m9 1h1m-4 1h1" stroke="#38b977"/>
<path d="m126 28h1m3 0h1m-7 6h1m-35 6h1m25 0h1m-30 2h1m19 1h1m11 0h1m-31 1h1m4 0h1m4 0h2m14 0h1m2 0h1m-29 1h1m3 0h1m15 0h1m3 0h1m-23 1h1m23 0h1m1 0h1m1 0h1m-35 1h1m9 0h1m3 0h1m6 0h1m3 0h1m-18 1h1m16 0h2m4 0h1m-26 1h2m6 0h1m21 0h2m-30 1h1m-6 1h1m23 0h1m10 0h1m-21 1h1m-13 1h1m3 0h1m23 0h1m-38 1h1m6 0h1m8 0h1m6 0h1m14 0h2m-26 1h1m30 0h1m-38 1h1m9 0h1m7 0h1m-9 1h1m7 0h1m6 0h1m-20 1h1m9 0h2m11 0h1m-26 1h1m58 1h1m-104 1h1m101 0h1m-72 1h1m66 1h1m-92 3h1m62 0h1m-64 2h1m68 1h1m1 0h1m21 0h1m-77 3h1m-1 2h1m45 2h1m26 0h1m-64 5h1m5 0h1m23 0h1m2 0h1m26 0h1m-61 1h1m31 0h1m1 0h1m-5 2h1m5 0h1m1 0h2m-2 1h1m10 0h1m-12 1h1m-2 1h1m-3 1h1m6 0h1m-15 1h1m3 0h1m9 0h1m5 0h2m-23 1h1m5 0h2m-2 1h1m-2 1h1m8 0h1m-8 1h1m1 0h1m3 0h1m1 1h1m-13 2h1m3 0h1m7 0h1m-13 1h2m12 0h1m-14 1h1m-14 1h2m22 0h1m-24 4h1m-55 4h2m52 1h1m18 0h1m-102 1h1m50 3h1m10 4h1m-1 2h1m22 4h1m-8 2h1m-70 1h1m72 0h1m-2 1h1m-3 1h1m-128 1h1m122 2h1m-2 1h1m-7 4h1m-11 5h1m-91 1h1m-4 2h1m76 0h1m-34 1h1m4 0h2m8 0h1m4 0h1m-71 2h1m5 0h1m66 0h1m2 0h1m-77 2h1m4 0h1m34 0h2m-34 1h1m20 0h1m-8 2h1" stroke="#50c46a"/>
<path d="m110 31h1m-19 10h1m1 1h1m1 0h1m18 1h1m2 0h1m-18 1h1m7 0h1m3 1h1m2 0h1m-16 1h1m10 0h1m-25 1h1m13 0h1m6 0h1m20 0h1m-46 1h1m7 0h1m8 0h1m4 0h1m2 0h1m2 0h2m6 0h1m-31 1h1m2 0h1m4 0h1m2 0h1m4 0h1m4 0h2m1 0h1m-25 1h1m21 0h1m11 0h1m-29 1h1m3 0h1m1 0h1m3 0h1m-14 1h2m3 0h1m12 0h1m9 0h1m-34 1h1m9 0h1m10 0h1m1 0h1m9 0h1m-31 1h1m3 0h1m-7 1h1m3 0h1m21 0h1m-18 1h2m-4 1h1m5 0h1m13 0h1m-14 1h1m-49 1h1m43 0h1m1 9h1m23 1h1m23 3h1m-1 2h1m-5 3h1m-7 4h1m-72 1h1m52 0h1m20 0h1m-26 1h2m1 0h1m19 0h1m-72 1h1m43 1h1m1 0h1m2 1h1m-6 2h1m2 0h1m5 0h1m10 0h1m-21 1h2m4 0h1m-7 1h1m10 0h2m1 0h1m5 0h1m-22 1h1m5 0h3m1 0h2m-9 1h1m1 0h3m3 0h2m1 0h1m-11 2h2m12 0h1m-19 1h1m5 0h1m8 1h1m-1 1h1m1 0h1m-16 1h1m-113 1h1m1 0h1m104 2h1m12 8h1m-146 19h1m121 0h1m-123 3h1m-2 1h2m115 0h1m-116 5h1m38 2h1m62 0h1m-3 1h1m-19 3h1m-79 1h1m2 0h1m81 0h1m-34 1h1m2 0h1m13 0h1m-72 2h1m16 6h1m1 0h1" stroke="#6ccd5a"/>
<path d="m122 19h1m7 7h1m-45 12h1m1 2h1m28 3h1m-16 1h1m-2 1h1m7 0h1m7 0h2m-17 1h2m4 0h2m-4 1h1m7 0h2m1 0h2m-35 1h1m7 0h1m6 0h1m9 0h1m6 0h1m2 0h1m-56 1h1m31 0h1m1 0h1m18 0h1m3 0h1m-23 1h1m15 0h2m-18 1h1m5 0h2m13 0h2m-26 1h1m6 0h1m7 0h1m2 0h1m-20 1h1m1 0h1m4 0h1m3 0h1m16 0h1m-26 1h1m5 0h2m-2 1h1m1 0h1m10 0h1m-28 1h1m1 0h1m29 0h1m-21 1h1m-5 2h1m55 0h1m-60 1h1m2 1h1m27 7h1m24 0h1m-6 12h1m-29 2h1m1 1h1m-2 1h1m-5 1h1m6 0h1m-8 1h1m-2 1h1m4 1h1m2 0h1m1 0h1m1 0h1m-58 1h1m54 0h2m-5 1h2m-7 1h1m4 1h1m0 1h1m-4 1h1m-7 2h1m17 0h1m-5 1h1m-10 1h1m9 0h2m-127 3h1m48 4h1m10 1h1m52 8h1m-127 23h1m81 3h1m-93 2h1m72 3h1m-49 1h1m52 0h1m-36 1h1m-19 3h1m-8 1h1m-3 2h1" stroke="#8bd646"/>
<path d="m86 41h3m28 1h2m-18 1h1m-6 1h1m20 0h1m-15 1h1m4 0h1m10 0h1m-37 1h1m11 0h1m15 0h1m-24 2h1m8 0h1m3 0h1m6 0h1m-22 1h1m7 0h1m1 0h1m13 0h1m2 0h1m1 0h1m-28 1h1m11 0h2m8 0h1m0 1h1m-12 1h2m10 0h1m1 0h1m-22 1h1m5 0h2m1 0h1m1 0h1m15 0h1m-7 1h1m-27 1h1m5 0h1m31 0h1m-31 5h1m53 5h1m-5 12h1m-2 2h1m-7 1h1m-25 2h1m-1 1h1m-1 1h1m3 0h1m-4 1h4m-7 1h1m5 0h1m4 0h1m-8 1h2m1 0h1m3 0h1m8 0h1m-19 1h1m1 0h1m0 1h1m1 0h1m-6 1h2m-4 1h1m2 0h1m4 1h1m-7 1h1m11 6h1m0 1h1m-2 1h1m-3 1h1m-63 12h1m34 8h1m-27 9h1m19 2h1m-71 10h1m8 1h1m8 0h1m17 0h1m-47 4h1m-23 1h1m16 0h1m-15 3h1" stroke="#addc30"/>
<path d="m116 41h1m-1 1h1m-17 1h1m-3 1h1m-2 1h1m2 0h1m10 0h1m-15 1h1m2 0h1m-6 1h1m3 0h1m1 0h1m6 0h1m-14 1h1m2 0h1m1 0h1m0 1h1m-10 1h1m2 0h1m1 0h1m14 0h1m-21 1h3m1 0h1m1 0h1m3 0h1m11 0h1m-22 1h1m3 0h1m2 0h1m4 0h1m-8 1h1m4 1h1m-6 6h1m50 17h1m-33 6h1m-1 1h1m4 2h1m15 0h1m-22 1h1m-3 1h1m0 1h1m5 0h1m-8 1h1m4 0h1m2 2h1m-4 1h1m-119 5h1m127 0h1m-111 13h1m-47 21h1m113 4h1m-6 2h1m-40 5h1m3 1h1m-52 9h1" stroke="#cde11d"/>
<path d="m97 44h1m-2 1h1m1 0h1m-3 1h1m1 0h2m10 0h1m6 0h1m-21 1h2m11 0h1m8 0h1m-24 1h1m-4 2h1m2 0h1m-2 1h1m8 2h1m-6 6h1m18 25h1m-3 2h3m2 0h1m-7 1h2m1 2h1m8 9h1m1 1h1m-3 4h1m-77 2h1m-56 30h1m15 13h1" stroke="#efe51c"/>
</g><use href="#grid"/></g>
<rect x="131.05" y="1072.1" width="827.75" height="68.9" fill="#d9d9d9"/>
<text class="st" x="544.9" y="1118.9" text-anchor="middle">med</text>
<rect x="131.05" y="1140.9" width="827.75" height="727.6" fill="#ebebeb"/>
<path d="M131.05 1169.8H958.8M131.05 1273.6H958.8M131.05 1377.3H958.8M131.05 1481.1H958.8M131.05 1584.8H958.8M131.05 1688.6H958.8M131.05 1792.4H958.8M332.1 1140.9V1868.5M560.2 1140.9V1868.5M788.2 1140.9V1868.5" stroke="#fff" stroke-width="4.45" fill="none"/>
<g transform="translate(332.15 1169.80) scale(3.8004 4.3233)"><use href="#sil" fill="#440154" shape-rendering="crispEdges"/>
<g class="c" transform="translate(0 .5)">
<path d="m130 6h1m-6 1h1m1 0h1m-6 1h1m6 2h1m-16 1h1m10 0h1m-12 1h2m5 0h2m-3 1h1m-13 1h1m12 0h2m-2 1h1m-15 1h1m14 0h1m2 1h1m-8 1h1m2 0h2m-14 1h1m14 0h1m5 1h1m-12 1h1m-33 1h1m24 0h1m2 0h2m-15 1h1m5 0h1m2 0h1m10 0h1m-30 1h1m1 0h1m10 0h1m15 0h1m-40 1h1m31 0h1m-13 1h1m3 0h1m-27 1h1m16 0h1m3 0h1m9 0h1m4 0h1m11 0h1m-47 1h1m15 0h1m8 0h2m2 0h1m11 0h2m-36 1h1m10 0h1m22 0h1m1 0h1m1 0h1m-17 1h1m3 0h2m10 0h2m1 0h2m-46 1h2m1 0h1m11 0h1m10 0h1m6 0h1m3 0h1m3 0h1m1 0h1m-47 1h1m2 0h1m2 0h1m20 0h1m1 0h1m2 0h1m10 0h1m6 0h2m-50 1h1m7 0h1m16 0h1m7 0h3m11 0h1m10 0h1m-63 1h1m26 0h1m23 0h1m-48 1h2m1 0h1m4 0h1m6 0h1m7 0h1m6 0h1m-29 1h1m17 0h1m4 0h1m4 0h1m2 0h2m4 0h1m1 0h1m1 0h1m4 0h1m-39 1h1m1 0h1m31 0h1m-54 1h1m20 0h1m1 0h1m2 0h1m9 0h1m12 0h1m5 0h1m8 0h2m-68 1h1m2 0h1m22 0h2m19 0h1m2 0h1m1 0h1m4 0h1m-54 1h1m26 0h1m18 0h2m1 0h2m2 0h1m-60 1h1m49 0h2m3 0h1m1 0h1m11 0h1m-74 1h1m11 0h2m39 0h2m5 0h1m1 0h1m2 1h1m-66 1h2m68 0h1m-76 1h1m2 0h1m5 0h2m4 0h1m63 0h1m-87 1h1m1 0h1m3 0h1m1 0h2m5 0h2m2 0h1m2 0h1m45 0h1m-67 1h1m6 0h1m14 0h1m45 0h1m4 0h2m-84 1h1m7 0h2m3 0h1m2 0h1m7 0h1m2 0h1m52 0h1m-92 1h1m15 0h1m4 0h1m12 0h2m7 0h1m49 0h1m-94 1h1m10 0h1m80 0h1m-90 1h1m15 0h2m13 0h1m-14 1h1m69 0h1m-81 1h1m25 0h1m-74 1h1m47 0h1m4 0h1m11 0h1m-25 1h1m8 0h1m2 0h2m2 0h1m2 0h1m3 0h2m-22 1h1m24 0h1m10 0h1m1 0h1m-39 1h1m4 0h2m4 0h1m6 0h1m2 0h2m5 0h1m-18 1h1m5 0h1m2 0h1m1 0h1m7 0h1m3 0h1m63 0h1m-95 1h1m3 0h1m3 0h1m4 0h1m1 0h1m6 0h2m1 0h1m3 0h1m43 0h1m1 0h1m4 0h1m13 0h1m-99 1h1m12 0h1m3 0h1m2 0h2m8 0h1m4 0h1m3 0h1m38 0h1m3 0h1m1 0h1m12 0h1m2 0h1m3 0h1m-89 1h1m8 0h1m4 0h1m1 0h1m10 0h1m19 0h1m16 0h1m4 0h1m17 0h1m-106 1h1m1 0h2m3 0h4m11 0h1m15 0h1m3 0h2m14 0h1m5 0h1m3 0h1m7 0h1m2 0h1m1 0h1m6 0h2m16 0h1m-104 1h1m4 0h1m6 0h1m3 0h1m12 0h1m8 0h3m3 0h1m9 0h1m25 0h1m4 0h1m1 0h2m8 0h1m-105 1h1m4 0h1m4 0h1m12 0h1m10 0h1m12 0h1m3 0h1m4 0h1m14 0h1m2 0h1m6 0h1m10 0h1m5 0h1m5 0h1m-100 1h1m10 0h1m7 0h2m9 0h1m1 0h1m3 0h1m1 0h1m1 0h1m4 0h1m3 0h1m1 0h1m4 0h1m2 0h1m9 0h1m27 0h1m-95 1h1m2 0h1m1 0h1m15 0h1m1 0h1m1 0h1m10 0h2m6 0h1m3 0h1m4 0h1m5 0h1m4 0h1m20 0h1m3 0h1m4 0h1m-134 1h1m55 0h1m28 0h1m3 0h2m11 0h1m1 0h1m24 0h1m1 0h2m1 0h1m1 0h1m-137 1h1m43 0h1m1 0h1m11 0h1m3 0h2m2 0h1m1 0h1m4 0h1m9 0h1m1 0h3m17 0h1m16 0h1m9 0h1m-134 1h1m43 0h1m16 0h2m19 0h1m3 0h1m-48 1h1m11 0h1m6 0h1m20 0h1m6 0h1m43 0h1m2 0h1m-95 1h1m4 0h1m3 0h1m1 0h2m7 0h1m9 0h1m1 0h1m22 0h1m3 0h1m36 0h2m-94 1h1m3 0h1m23 0h1m14 0h1m5 0h3m2 0h1m13 0h1m1 0h1m9 0h1m5 0h1m4 0h1m-97 1h1m34 0h2m9 0h1m3 0h3m2 0h1m8 0h1m2 0h1m5 0h1m4 0h2m11 0h2m4 0h1m-177 1h1m42 0h2m33 0h1m7 0h1m12 0h1m20 0h2m6 0h2m13 0h1m11 0h2m18 0h1m2 0h1m-104 1h1m12 0h2m21 0h1m2 0h1m4 0h1m3 0h1m1 0h1m1 0h1m7 0h1m2 0h1m5 0h1m12 0h2m11 0h1m-127 1h1m28 0h1m15 0h1m32 0h1m3 0h1m1 0h2m1 0h1m5 0h1m2 0h2m14 0h1m10 0h1m5 0h1m-146 1h1m15 0h1m23 0h1m18 0h1m3 0h1m17 0h1m13 0h1m13 0h1m1 0h1m4 0h1m18 0h1m1 0h1m-165 1h1m25 0h1m36 0h1m44 0h1m3 0h1m1 0h2m17 0h1m1 0h1m3 0h1m22 0h1m6 0h1m-146 1h1m54 0h1m10 0h1m18 0h1m6 0h1m11 0h1m6 0h1m-67 1h2m1 0h1m13 0h1m4 0h1m1 0h1m29 0h1m39 0h3m-162 1h1m60 0h1m7 0h1m28 0h1m-95 1h1m2 0h3m5 0h1m75 0h1m28 0h1m41 0h1m1 0h1m-84 1h2m6 0h1m3 0h1m24 0h1m36 0h1m2 0h1m-78 1h1m8 0h2m7 0h2m63 0h1m-82 1h1m6 0h1m11 0h1m4 0h1m-21 1h1m4 0h1m8 0h1m8 0h1m-41 1h1m18 0h1m9 0h1m11 0h2m43 0h1m-86 1h1m16 0h1m3 0h2m13 0h2m1 0h1m1 0h1m-46 1h1m4 0h1m14 0h1m2 0h1m15 0h2m5 0h1m-22 1h2m7 0h1m1 0h1m1 0h1m2 0h1m3 0h2m-87 1h1m67 0h1m8 0h2m3 0h1m-11 1h2m2 0h1m1 0h4m-92 1h1m4 0h1m60 0h1m3 0h1m18 0h1m1 0h2m-94 1h1m4 0h1m1 0h1m48 0h1m5 0h1m6 0h1m11 0h1m14 0h1m-92 1h1m3 0h1m10 0h1m14 0h1m19 0h1m15 0h1m15 0h1m-88 1h1m10 0h1m24 0h1m4 0h1m8 0h3m16 0h1m7 0h1m11 0h1m6 0h1m1 0h1m34 0h1m-119 1h1m43 0h1m11 0h2m9 0h1m1 0h1m7 0h1m40 0h1m-126 1h2m5 0h1m12 0h1m21 0h2m6 0h1m5 0h1m20 0h1m10 0h1m1 0h1m-74 1h1m16 0h1m14 0h1m6 0h1m8 0h1m10 0h1m1 0h1m25 0h1m20 0h1m-83 1h1m5 0h1m13 0h1m8 0h1m3 0h1m5 0h2m-114 1h1m47 0h1m28 0h1m2 0h1m1 0h1m16 0h2m4 0h2m4 0h1m2 0h1m4 0h1m-43 1h1m22 0h1m4 0h3m3 0h1m4 0h1m5 0h1m-95 1h1m8 0h1m1 0h1m47 0h1m1 0h1m12 0h1m10 0h1m3 0h1m1 0h2m2 0h1m22 0h1m8 0h1m-119 1h3m5 0h1m15 0h1m17 0h1m2 0h1m16 0h1m1 0h1m8 0h1m7 0h1m4 0h1m4 0h3m2 0h1m18 0h1m-106 1h1m15 0h1m10 0h1m7 0h1m10 0h1m3 0h1m6 0h2m4 0h1m21 0h1m10 0h1m13 0h1m-128 1h1m4 0h1m15 0h1m11 0h1m1 0h1m37 0h1m1 0h3m12 0h1m2 0h1m1 0h1m3 0h1m9 0h1m11 0h1m1 0h1m-101 1h1m1 0h1m10 0h1m6 0h1m4 0h1m6 0h1m3 0h1m19 0h2m3 0h1m3 0h1m6 0h1m25 0h1m-103 1h1m1 0h1m2 0h1m7 0h2m23 0h1m5 0h1m9 0h2m10 0h1m3 0h2m3 0h1m5 0h2m-98 1h2m15 0h2m8 0h1m15 0h1m3 0h1m3 0h1m11 0h1m4 0h1m8 0h2m1 0h1m6 0h1m2 0h1m19 0h1m-113 1h1m11 0h1m10 0h1m4 0h1m17 0h1m11 0h1m5 0h1m6 0h1m12 0h1m6 0h1m6 0h1m16 0h1m4 0h1m-102 1h1m14 0h1m12 0h1m7 0h1m23 0h2m10 0h1m21 0h1m-125 1h1m22 0h1m4 0h1m6 0h1m24 0h1m27 0h1m9 0h1m10 0h2m9 0h2m-103 1h1m11 0h1m18 0h1m18 0h1m5 0h1m8 0h1m2 0h1m34 0h1m-95 1h1m11 0h1m18 0h1m38 0h1m1 0h1m11 0h2m-100 1h1m20 0h1m4 0h1m17 0h1m11 0h1m11 0h2m4 0h1m7 0h1m4 0h2m4 0h1m-113 1h1m38 0h1m2 0h1m42 0h1m6 0h1m9 0h1m2 0h2m2 0h2m13 0h4m-130 1h2m38 0h1m15 0h1m8 0h1m18 0h1m29 0h1m2 0h1m7 0h1m-83 1h1m13 0h1m14 0h1m16 0h1m14 0h1m2 0h1m3 0h2m4 0h1m4 0h1m1 0h1m-123 1h1m21 0h1m9 0h1m5 0h1m7 0h1m41 0h1m7 0h1m13 0h1m-113 1h1m3 0h1m32 0h1m19 0h1m26 0h1m19 0h1m6 0h1m1 0h1m-116 1h1m26 0h1m13 0h2m2 0h1m57 0h1m3 0h1m16 0h1m-122 1h1m24 0h1m14 0h1m8 0h1m33 0h1m26 0h1m-112 1h1m23 0h1m6 0h1m40 0h1m9 0h1m29 0h1m-107 1h1m19 0h1m9 0h1m2 0h1m9 0h1m26 0h1m8 0h1m19 0h1m4 0h1m-112 1h1m4 0h1m1 0h1m71 0h1m13 0h1m12 0h2m8 0h2m-117 1h1m72 0h1m26 0h1m14 0h2m-117 1h1m110 0h1m4 0h1m-117 1h1m4 0h1m1 0h2m43 0h1m47 0h1m1 0h1m9 0h1m-113 1h1m32 0h1m12 0h2m49 0h1m2 0h1m2 0h1m3 0h1m1 0h2m-112 1h1m7 0h1m1 0h1m25 0h1m14 0h1m2 0h3m48 0h3m-17 1h1m3 0h1m7 0h1m-102 1h1m2 0h2m7 0h1m1 0h1m3 0h1m15 0h1m66 0h1m6 0h1m-109 1h2m13 0h1m14 0h1m19 0h1m37 0h1m4 0h1m9 0h1m-100 1h1m10 0h1m3 0h1m-21 1h1m3 0h1m1 0h1m95 0h1m3 0h1m-108 1h2m3 0h1m34 0h1m4 0h1m56 0h1m-82 1h1m9 0h1m14 0h1m-25 1h1m1 0h1m17 0h1m9 0h1m-38 1h2m1 0h2m3 0h1m15 0h2m13 0h1m-47 1h1m7 0h1m1 0h1m5 0h1m12 0h1m-23 1h1m1 0h2m25 0h1m1 0h1m-40 1h1m10 0h1m2 0h1m13 0h2m3 0h1m5 0h1m8 0h1m27 0h1m3 0h1m-76 1h1m2 0h1m6 0h1m9 0h1m3 0h1m2 0h1m-28 1h1m6 0h2m2 0h1m4 0h1m2 0h1m8 0h1m18 0h1m-48 1h3m3 0h1m6 0h1m6 0h1m1 0h1m4 0h3m-16 1h1m3 0h1m1 0h2m2 0h1m3 0h2m-30 1h1m2 0h1m3 0h1m-8 1h1m2 1h2m5 0h1m-6 1h1" stroke="#481c6e"/>
<path d="m118 3h1m6 5h1m-5 1h1m1 2h1m-1 1h1m1 1h1m-7 1h1m5 0h1m-17 1h1m8 1h1m1 0h1m4 0h1m-19 3h2m8 0h2m6 0h1m-21 1h1m13 0h1m-9 2h1m8 0h1m-14 2h1m5 0h1m-29 1h1m14 0h1m1 0h1m5 0h2m3 0h1m6 0h1m-29 1h1m21 0h1m8 0h1m-16 1h1m1 0h1m9 0h1m2 0h1m-40 1h1m3 0h1m5 0h1m5 0h1m3 0h1m13 0h1m10 0h1m-32 1h1m-17 1h1m30 0h1m6 0h1m3 0h2m-40 1h1m11 0h1m8 0h1m18 0h1m6 0h1m-49 1h1m3 0h1m7 0h1m11 0h1m7 0h3m3 0h4m3 0h1m2 0h1m-38 1h1m33 0h1m-38 1h1m27 0h1m5 0h1m4 0h1m-52 1h1m25 0h1m9 0h1m3 0h1m2 0h1m4 0h1m2 0h1m1 0h1m-31 1h1m16 0h1m-45 1h1m1 0h1m21 0h1m10 0h1m2 0h1m17 0h2m3 0h1m1 0h1m-37 1h1m7 0h1m10 0h1m15 0h1m-26 1h1m13 0h1m6 0h2m5 0h1m-70 1h1m2 0h1m1 0h1m19 0h1m25 0h1m16 0h1m2 0h1m-69 1h1m58 0h4m4 0h2m-61 1h1m50 0h1m-61 1h1m47 0h1m9 0h1m-66 1h1m58 0h1m-70 1h1m6 0h1m66 0h1m7 0h1m-59 1h1m51 0h1m-73 1h1m10 0h1m3 0h1m65 0h1m-76 1h1m10 0h1m46 0h2m-66 1h1m3 0h1m4 0h1m5 0h1m1 0h1m-27 1h1m6 0h1m4 0h1m7 0h2m5 0h1m-34 1h1m17 0h1m9 0h1m-22 1h1m20 0h1m-23 1h1m7 0h1m7 0h1m5 0h1m3 0h1m-21 1h1m11 0h2m1 0h1m-9 1h1m4 0h1m7 0h1m1 0h1m1 0h1m-30 1h1m5 0h1m2 0h1m18 0h1m-32 1h1m4 0h1m4 0h2m4 0h1m8 0h1m6 0h1m-24 1h1m4 0h1m13 0h1m46 0h1m3 0h1m13 0h1m-83 1h1m6 0h1m2 0h1m6 0h1m-18 1h1m15 0h1m49 0h1m-60 1h1m8 0h1m3 0h1m28 0h2m12 0h1m5 0h1m17 0h1m-81 1h1m1 0h1m4 0h1m23 0h1m11 0h1m1 0h3m5 0h1m5 0h1m-70 1h1m5 0h1m2 0h1m3 0h1m20 0h1m1 0h1m2 0h1m1 0h1m15 0h1m1 0h2m2 0h2m10 0h1m9 0h1m-87 1h1m4 0h1m4 0h1m17 0h1m20 0h1m5 0h1m9 0h1m8 0h1m5 0h1m-86 1h2m4 0h1m19 0h1m1 0h1m17 0h1m7 0h1m5 0h1m8 0h1m2 0h1m6 0h1m-82 1h1m8 0h1m27 0h1m5 0h1m30 0h1m6 0h2m13 0h1m-147 1h1m94 0h1m1 0h1m17 0h1m15 0h1m7 0h1m8 0h1m-143 1h2m89 0h1m2 0h1m14 0h1m28 0h1m2 0h1m-65 1h1m24 0h1m4 0h1m13 0h1m4 0h1m-66 1h1m1 0h1m21 0h1m9 0h1m4 0h1m32 0h1m-75 1h1m17 0h1m1 0h1m3 0h1m51 0h2m2 0h1m-182 1h1m100 0h1m2 0h2m7 0h1m3 0h1m2 0h2m3 0h1m1 0h1m44 0h1m7 0h1m-100 1h1m2 0h1m11 0h1m5 0h2m2 0h1m9 0h1m8 0h3m3 0h1m4 0h1m1 0h1m3 0h1m5 0h1m31 0h2m-92 1h1m23 0h1m1 0h1m2 0h2m8 0h1m3 0h1m7 0h2m14 0h1m3 0h2m1 0h2m13 0h1m-87 1h1m21 0h2m10 0h1m3 0h1m1 0h3m1 0h1m5 0h1m4 0h1m9 0h1m6 0h1m10 0h1m-94 1h2m3 0h1m8 0h1m17 0h1m2 0h1m9 0h1m4 0h1m13 0h3m-118 1h1m36 0h1m15 0h1m6 0h1m4 0h1m5 0h1m17 0h1m6 0h1m1 0h1m2 0h4m6 0h2m3 0h1m18 0h1m4 0h1m1 0h1m-105 1h1m23 0h1m2 0h1m38 0h1m3 0h1m1 0h1m5 0h1m25 0h1m-112 1h1m4 0h1m27 0h1m14 0h1m23 0h1m4 0h1m4 0h1m2 0h1m6 0h1m-151 1h1m20 0h1m48 0h1m23 0h1m2 0h1m7 0h2m27 0h1m6 0h1m-136 1h1m13 0h1m54 0h1m8 0h1m1 0h1m3 0h1m20 0h1m50 0h1m-150 1h1m78 0h1m4 0h1m10 0h1m1 1h1m1 0h1m-18 1h1m1 0h1m-13 1h1m3 0h1m1 0h1m9 0h2m1 0h1m52 0h1m-64 1h1m7 0h1m12 0h1m-20 1h1m6 0h1m2 0h1m-1 1h1m1 0h1m8 0h1m1 0h1m-38 1h1m19 0h1m2 0h1m5 0h1m-77 2h1m70 0h1m4 0h1m-30 1h1m10 0h1m4 0h1m-75 1h1m13 0h1m60 0h1m-18 2h1m8 0h1m16 0h1m-77 1h1m60 0h1m4 0h1m13 0h1m-80 1h1m1 0h1m35 0h1m7 0h1m27 0h2m44 0h1m-117 1h1m58 0h1m17 0h1m1 0h1m33 0h1m-122 1h1m6 0h1m25 0h1m8 0h1m9 0h1m14 0h1m13 0h1m19 0h1m11 0h1m-114 1h2m48 0h1m7 0h1m18 0h1m4 0h1m4 0h1m-80 1h1m15 0h1m5 0h1m15 0h1m11 0h1m2 0h1m8 0h1m30 0h1m-97 1h1m3 0h1m1 0h1m55 0h1m8 0h1m3 0h1m20 0h1m5 0h1m-63 1h1m3 0h1m9 0h1m29 0h1m-42 1h1m2 0h1m1 0h1m18 0h1m16 0h1m10 0h1m-100 1h1m61 0h1m31 0h1m2 0h1m-57 1h1m38 0h1m34 0h2m4 0h1m1 0h2m-122 1h1m19 0h1m8 0h1m9 0h1m28 0h1m1 0h1m4 0h1m10 0h1m4 0h1m2 0h1m8 0h1m10 0h1m4 0h1m-122 1h1m40 0h1m3 0h1m17 0h1m15 0h1m9 0h1m11 0h1m10 0h1m-94 1h1m16 0h1m11 0h1m21 0h1m8 0h1m6 0h1m1 0h2m16 0h1m5 0h1m3 0h1m1 0h1m-106 1h1m24 0h1m4 0h1m5 0h1m11 0h1m11 0h1m1 0h1m2 0h1m2 0h1m9 0h1m6 0h1m4 0h1m8 0h1m1 0h1m-75 1h1m32 0h1m9 0h1m12 0h1m7 0h1m-70 1h1m23 0h1m6 0h1m20 0h1m22 0h2m1 0h1m-112 1h1m14 0h1m58 0h1m30 0h1m4 0h1m-97 1h1m15 0h2m42 0h1m27 0h2m7 0h1m-128 1h1m51 0h1m7 0h1m26 0h1m30 0h1m-66 1h1m45 0h1m8 0h1m3 0h2m5 0h1m-85 1h1m16 0h1m32 0h1m7 0h1m1 0h1m7 0h1m1 0h1m-111 1h1m116 0h2m7 0h1m-86 1h1m12 0h1m31 0h1m12 0h1m12 0h1m2 0h1m-41 1h1m17 0h1m17 0h1m4 0h1m-112 1h1m13 0h1m65 0h2m10 0h1m-55 1h1m30 0h1m11 0h1m3 0h1m5 0h1m1 0h1m-36 1h1m30 0h1m15 0h1m11 0h1m-12 1h1m-110 1h1m16 0h1m30 0h1m58 0h1m-102 1h1m60 0h1m1 0h1m25 0h1m12 0h1m-107 1h2m3 1h1m-17 1h1m39 0h1m56 0h1m4 0h1m9 0h1m-97 1h1m33 0h1m58 0h1m4 0h2m4 0h1m-107 1h1m2 0h1m21 0h1m57 0h1m11 0h2m4 0h1m-111 1h2m91 0h1m-87 1h1m1 0h1m1 0h1m98 0h1m-104 1h1m4 0h2m4 0h1m78 0h1m-100 1h1m20 0h1m8 0h1m19 0h1m6 0h1m46 0h1m2 0h1m-107 1h1m18 0h1m24 0h1m-43 1h1m49 0h1m34 0h1m-83 1h1m1 0h1m7 0h1m8 0h1m70 0h1m-78 1h1m-16 1h1m19 0h1m3 0h1m13 0h1m-33 1h1m4 1h1m2 0h1m25 0h2m12 0h1m25 0h1m-62 1h1m5 0h2m17 0h1m18 0h1m3 0h1m16 0h1m-72 1h1m10 0h1m17 0h1m15 0h1m-50 1h1m4 0h1m2 0h1m4 0h1m6 0h1m3 0h1m1 0h1m4 0h2m-32 1h2m8 1h1m1 0h1m11 0h1m5 0h1m-23 1h1m9 0h1m-19 1h1m11 1h1" stroke="#472d7b"/>
<path d="m124 7h1m-1 1h1m-3 1h1m-1 1h2m3 0h1m-4 1h1m-1 1h1m-4 1h1m4 1h1m-3 1h1m2 0h1m-19 3h1m13 0h1m-13 1h1m-5 1h1m2 0h1m-1 1h1m12 0h2m-24 1h1m11 1h1m1 0h1m8 0h1m-42 1h1m-2 1h1m23 0h2m8 1h1m-23 1h1m5 0h1m13 0h1m-13 1h1m8 0h1m-3 1h1m15 0h1m5 0h2m-38 1h1m13 1h1m-29 1h1m14 0h1m31 0h1m-41 1h1m19 0h1m5 0h1m8 0h1m2 0h1m7 0h1m-28 1h1m3 0h1m4 0h1m17 0h1m-52 1h1m1 0h1m2 0h1m-12 1h1m11 0h1m3 0h1m2 0h1m10 0h1m5 0h1m1 0h1m1 0h1m5 0h2m1 0h1m-44 1h1m15 0h1m6 0h1m6 0h1m5 0h1m2 0h1m9 0h1m-38 1h1m28 0h1m6 0h1m8 0h1m-41 1h1m11 0h1m27 0h1m-66 1h1m4 0h1m42 0h1m-47 1h1m1 0h1m1 0h1m47 0h1m-58 1h1m51 0h1m-56 1h1m12 0h1m44 0h1m-62 1h1m7 0h1m4 0h1m1 0h1m1 0h1m41 0h1m4 0h1m10 0h1m-81 1h1m8 0h1m6 0h1m3 0h1m1 0h2m44 0h1m7 0h1m-77 1h2m1 0h1m12 0h1m2 0h1m42 0h1m8 0h1m-76 1h1m7 0h1m1 0h1m-6 1h1m15 0h1m2 0h1m50 0h1m-55 1h1m2 0h1m-35 1h1m13 0h1m10 0h1m57 0h1m-85 1h1m15 0h1m9 0h1m1 0h1m1 0h2m-17 1h2m5 0h1m3 1h1m4 0h1m9 0h1m-21 1h1m9 0h1m-24 1h1m6 0h1m8 0h1m2 0h1m2 0h1m5 0h1m-21 1h1m12 0h1m1 0h1m3 0h1m-34 1h1m21 0h1m1 0h2m5 0h1m2 0h1m-31 1h1m10 0h1m2 0h1m5 0h1m18 0h1m33 0h1m23 0h1m-82 1h1m54 0h1m-61 1h1m5 0h1m39 0h1m12 0h1m3 0h1m-44 1h1m23 0h1m16 0h1m1 0h1m24 0h1m-80 1h1m50 0h1m3 0h1m-49 1h1m3 0h1m7 0h1m4 0h1m10 0h1m6 0h1m9 0h1m2 0h1m-72 1h1m12 0h1m12 0h1m15 0h1m3 0h1m26 0h2m10 0h1m-80 1h1m25 0h1m1 0h1m5 0h1m24 0h1m9 0h1m-79 1h1m7 0h1m3 0h2m1 0h1m15 0h1m10 0h1m5 0h1m7 0h1m14 0h1m14 0h1m8 0h1m-98 1h2m36 0h1m12 0h1m14 0h1m29 0h1m-100 1h1m2 0h1m25 0h1m7 0h1m45 0h1m9 0h1m2 0h1m-71 1h1m10 0h1m45 0h1m7 0h1m1 0h1m3 0h1m-85 1h1m9 0h1m28 0h1m2 0h2m14 0h1m2 0h2m21 0h1m-94 1h1m3 0h1m14 0h1m10 0h1m5 0h1m3 0h1m1 0h1m7 0h1m1 0h1m6 0h1m3 0h1m5 0h1m-31 1h1m1 0h1m11 0h1m4 0h1m2 0h1m7 0h1m4 0h1m4 0h1m-75 1h1m22 0h1m42 0h1m3 0h2m-82 1h1m10 0h1m5 0h1m1 0h1m1 0h1m11 0h1m2 0h1m2 0h1m3 0h1m21 0h1m6 0h1m1 0h1m10 0h2m-63 1h1m17 0h1m7 0h1m-62 1h1m42 0h1m2 0h1m5 0h1m3 0h1m13 0h1m13 0h1m5 0h1m19 0h1m-112 1h1m28 0h1m19 0h2m3 0h1m6 0h1m6 0h1m6 0h2m13 0h1m9 0h1m-142 1h1m71 0h1m1 0h1m3 0h1m3 0h1m2 0h1m19 0h1m32 0h1m-94 1h1m26 0h1m10 0h1m2 0h1m12 0h1m15 0h1m6 0h1m14 0h1m1 0h1m5 0h1m-93 1h1m11 0h1m13 0h1m22 0h1m10 0h1m-133 1h1m88 0h1m29 0h1m-117 1h1m6 0h1m1 0h1m71 0h2m-4 1h1m20 0h1m57 0h1m-177 1h1m92 0h1m12 0h1m7 0h1m11 0h1m-1 1h1m42 0h1m-76 1h1m7 0h2m15 0h1m9 0h1m40 0h1m-52 1h1m-6 1h1m7 0h1m-17 1h1m3 0h1m13 1h1m-23 1h1m21 0h1m-35 1h1m34 0h1m-8 2h1m-84 1h2m56 0h1m8 0h1m14 0h1m-36 1h1m6 0h1m29 0h1m-81 1h2m18 0h1m30 0h1m16 0h1m18 0h1m-121 1h1m98 0h1m12 0h1m3 0h2m17 0h1m21 0h1m-106 1h1m1 0h1m21 0h1m36 0h1m1 0h1m6 0h1m-91 1h1m15 0h1m29 0h1m3 0h1m2 0h1m20 0h1m1 0h1m3 0h1m4 0h1m38 0h1m2 0h1m-38 1h1m17 0h1m-101 1h1m6 0h1m34 0h1m8 0h1m1 0h1m39 0h1m17 0h1m4 0h1m-110 1h1m56 0h1m10 0h1m7 0h1m9 0h2m-72 1h1m37 0h1m2 0h1m49 0h1m-114 1h1m45 0h1m32 0h1m4 0h1m15 0h1m1 0h1m6 0h1m4 0h1m-99 1h1m37 0h1m9 0h1m16 0h1m8 0h1m-69 1h1m13 0h1m11 0h1m26 0h1m7 0h1m7 0h1m8 0h1m3 0h1m3 0h1m-67 1h1m2 0h1m9 0h2m8 0h1m3 0h1m18 0h2m18 0h1m-90 1h1m4 0h1m6 0h1m21 0h1m1 0h1m2 0h1m7 0h1m23 0h1m22 0h1m-93 1h1m38 0h1m7 0h1m13 0h1m10 0h1m16 0h1m-80 1h1m29 0h1m2 0h1m39 0h1m1 0h1m-83 1h1m2 0h1m16 0h1m19 0h1m27 0h1m5 0h1m4 0h1m-72 1h1m20 0h1m5 0h1m7 0h1m23 0h1m1 0h1m-65 1h1m61 0h2m2 0h1m1 0h1m-42 1h1m4 0h1m11 0h2m18 0h2m6 0h1m3 0h1m-135 1h1m118 0h2m-105 1h1m60 0h1m15 0h1m1 0h1m30 0h1m-69 1h1m26 0h1m16 0h1m15 0h1m5 0h1m3 0h1m-126 1h1m2 0h1m1 0h1m17 0h1m19 0h1m31 0h1m15 0h1m2 0h1m24 0h1m1 0h1m-94 1h1m53 0h1m3 0h1m10 0h1m17 0h2m9 0h1m-105 1h1m72 0h1m7 0h1m20 0h1m-87 2h1m3 0h1m51 0h1m18 0h1m-3 1h1m-3 1h1m2 0h1m1 0h1m3 0h1m-69 2h1m49 0h1m14 0h1m2 0h1m-18 1h1m3 0h1m-104 1h1m16 0h1m78 0h1m9 0h1m7 0h1m-109 1h1m24 0h1m57 0h1m15 0h1m7 0h1m-106 1h1m100 0h1m-105 1h1m3 1h1m1 0h1m87 0h1m-105 1h1m9 0h1m-5 1h1m16 0h1m-2 2h1m19 0h2m-29 1h1m87 0h1m-99 1h1m17 1h1m16 0h2m49 0h1m-71 1h1m5 0h1m-1 1h1m11 0h1m-18 1h1m19 0h2m24 0h1m12 0h1m-80 1h1m8 0h1m8 0h1m2 0h1m7 0h1m4 0h2m-21 1h1m7 0h1m0 1h1m4 0h1m4 0h1m3 0h1m-16 1h1m11 0h1m1 0h1m1 0h1m-18 1h1m1 0h1m-12 1h1m5 0h1" stroke="#443b84"/>
<path d="m114 1h1m8 8h1m5 0h1m-7 6h1m-4 3h1m2 1h1m-2 1h1m-12 1h1m7 2h1m-20 1h1m9 0h1m10 0h1m-38 1h1m15 1h2m3 1h1m7 1h1m-33 1h1m41 0h1m-37 1h1m35 0h1m6 0h1m-19 1h1m16 0h1m-47 1h1m10 0h1m8 0h1m-2 1h1m3 0h1m3 0h1m-19 1h1m19 0h1m13 0h1m-45 1h1m9 0h1m40 0h1m-52 1h1m2 0h1m5 0h1m18 0h1m3 0h1m15 0h1m-38 1h2m2 0h1m19 0h1m2 0h1m2 0h1m1 0h1m-48 1h1m12 0h1m14 0h1m7 0h1m1 0h1m-22 1h1m3 0h1m13 0h1m16 0h1m-57 1h1m39 0h1m7 0h1m8 0h1m3 0h1m-32 1h1m20 0h1m13 0h1m-36 1h1m22 0h1m10 0h1m-68 1h1m8 0h1m43 0h1m18 0h1m-60 1h1m46 0h1m1 0h1m9 0h1m-84 1h1m8 0h1m2 0h1m57 0h1m10 0h1m-75 1h1m58 0h1m2 0h1m12 0h1m-65 1h1m1 0h1m45 0h1m1 0h1m2 0h1m-56 1h1m54 0h1m-84 1h1m80 0h1m1 0h1m-66 1h1m3 0h1m5 0h1m52 0h1m-75 2h1m18 0h1m2 0h1m-16 1h1m8 0h1m9 0h1m-19 1h1m5 1h1m15 0h1m1 0h1m-32 1h1m7 0h1m4 0h1m3 0h1m49 0h1m-64 1h1m3 0h1m12 0h2m34 0h1m-63 1h1m23 0h1m6 0h1m40 0h1m5 0h1m16 0h1m1 0h1m-68 1h1m9 0h1m-16 1h1m35 0h1m32 0h1m2 0h1m-76 1h1m15 0h1m1 0h1m12 0h1m3 0h1m19 0h1m19 0h1m-76 1h1m1 0h1m41 0h2m6 0h1m23 0h1m-100 1h1m5 0h1m13 0h1m5 0h1m22 0h1m3 0h1m-47 1h1m38 0h1m2 0h1m20 0h1m-60 1h1m15 0h1m2 0h1m19 0h1m7 0h1m7 0h1m6 0h1m2 0h1m22 0h1m-95 1h1m6 0h1m8 0h1m40 0h1m1 0h1m16 0h1m8 0h1m4 0h1m-71 1h1m7 0h1m4 0h1m5 0h1m53 0h1m-92 1h1m3 0h2m17 0h1m23 0h1m7 0h1m-58 1h1m4 0h1m19 0h1m5 0h1m20 0h1m40 0h2m-85 1h1m6 0h1m3 0h2m15 0h1m5 0h1m6 0h1m4 0h1m29 0h1m-88 1h1m21 0h1m2 0h1m5 0h1m1 0h1m3 0h1m36 0h1m2 0h1m4 0h1m-174 1h1m83 0h1m5 0h1m76 0h1m-165 1h1m98 0h1m7 0h1m12 0h1m29 0h1m-60 1h1m3 0h1m15 0h2m3 0h1m4 0h1m11 0h2m14 0h1m29 0h1m-83 1h2m29 0h1m9 0h1m11 0h1m3 0h1m6 0h2m2 0h1m13 0h1m-120 1h1m36 0h1m4 0h1m5 0h1m6 0h1m2 0h2m14 0h1m41 0h1m2 0h1m-88 1h1m4 0h1m8 0h1m24 0h1m4 0h1m1 0h1m35 0h1m-107 1h1m23 0h1m8 0h1m14 0h1m15 0h1m4 0h1m26 0h1m10 0h1m-73 1h2m2 0h1m1 0h1m20 0h1m11 0h1m3 0h1m-48 1h1m15 0h1m9 0h1m3 0h1m12 0h1m11 0h1m-63 1h1m4 0h1m2 0h1m7 0h1m8 0h1m38 0h1m14 0h1m-152 1h1m92 0h1m9 0h1m40 0h1m1 0h1m1 0h1m-175 1h1m98 0h1m50 0h1m16 0h1m9 0h1m-81 1h1m19 0h1m1 0h1m7 0h1m3 0h1m34 0h1m-49 1h2m48 0h1m-60 1h1m3 0h1m1 0h2m1 0h1m1 0h1m3 0h1m6 0h1m-25 1h1m2 0h2m3 0h1m4 0h1m1 0h1m47 0h2m-87 1h1m26 0h1m-11 1h1m10 0h1m3 0h1m52 1h1m-48 1h1m-24 1h1m3 0h1m1 1h1m9 0h1m2 1h2m-90 1h1m89 0h1m-90 1h2m83 0h1m-112 1h1m112 0h2m2 0h1m35 0h1m-49 1h1m7 0h1m1 0h1m-30 1h1m68 0h1m2 0h1m-82 1h1m6 0h1m67 0h1m-106 1h1m68 0h1m1 0h1m27 0h1m3 0h2m-116 1h2m46 0h1m37 0h1m31 0h1m-118 1h1m68 0h1m18 0h1m-20 1h1m7 0h1m37 0h1m-29 1h1m2 0h1m4 0h1m19 0h1m-70 1h1m43 0h2m5 0h1m4 0h1m5 0h2m-63 2h1m57 0h1m1 0h1m1 0h1m9 0h1m-82 1h1m8 0h1m31 0h1m9 0h1m-12 1h1m2 0h1m3 0h1m2 0h1m6 0h1m17 0h1m-98 1h1m55 0h1m7 0h1m3 0h1m7 0h1m2 0h2m-126 1h1m65 0h1m34 0h1m-55 1h1m51 0h1m7 0h2m3 0h2m19 0h1m-132 1h1m28 0h2m22 0h1m31 0h1m3 0h1m8 0h1m-71 1h1m24 0h1m2 0h1m27 0h2m3 0h1m9 0h1m9 0h1m1 0h1m9 0h1m-94 1h1m23 0h2m42 0h1m4 0h1m3 0h1m-53 1h1m38 0h1m32 0h1m8 0h2m-40 1h1m2 0h1m-43 1h1m23 0h1m16 0h1m10 0h1m20 0h1m-118 1h1m43 0h1m34 0h1m11 0h1m2 0h1m-96 1h1m20 0h1m73 0h1m-105 1h1m93 0h1m1 0h1m1 0h1m7 0h1m-9 1h1m18 0h2m-116 1h1m113 0h2m-15 1h1m7 1h1m2 0h1m4 0h1m-16 1h1m13 0h1m-7 1h1m1 0h1m3 0h1m-109 1h1m84 0h1m-98 1h1m91 1h1m7 0h1m7 0h1m6 0h1m-9 1h1m5 1h1m-104 2h1m35 0h1m-43 1h1m4 0h1m-1 1h1m24 0h1m-28 1h1m10 0h1m2 0h1m-13 1h1m3 1h1m24 0h1m-35 1h1m2 0h1m6 0h1m4 1h1m23 0h1m38 0h1m-73 1h1m4 0h1m12 0h1m21 0h1m-13 1h1m1 0h1m37 0h1m-67 1h1m66 0h2m-61 1h1m20 0h1m-31 1h1m25 1h1m-17 2h1m-4 1h1" stroke="#3e4a89"/>
<path d="m123 8h1m-3 2h1m4 1h1m0 2h1m-4 3h1m-32 7h1m16 0h1m-9 1h1m-4 3h1m6 0h1m0 1h1m2 0h1m17 0h1m-19 1h1m2 0h1m8 0h1m-37 1h1m22 0h1m-13 1h1m13 0h1m2 0h1m10 0h1m-16 1h1m7 1h1m9 1h1m-38 1h1m34 0h1m1 0h1m-45 1h1m5 0h1m42 0h1m-46 1h1m6 0h1m9 0h1m5 0h1m17 0h1m-33 1h1m7 0h1m-17 1h1m7 0h1m8 0h1m1 0h1m6 0h1m-32 1h1m16 0h1m31 0h1m2 0h1m5 0h1m-63 1h1m41 0h1m8 0h2m-28 1h1m26 0h1m11 0h1m-68 1h1m6 0h1m56 0h1m-66 1h1m65 0h1m-68 1h1m2 0h1m45 0h1m6 0h1m-64 1h1m2 0h1m3 0h1m8 0h1m36 0h1m5 0h2m10 0h1m-75 3h1m58 0h1m-62 1h1m0 1h1m19 0h1m44 0h1m-60 1h1m8 0h1m2 0h1m-31 1h1m10 0h1m2 0h1m11 0h1m30 0h1m-44 1h1m11 0h1m-4 1h1m37 0h1m11 0h1m-73 1h1m7 0h1m4 0h3m5 0h1m12 0h1m7 0h1m-34 2h1m11 0h1m37 0h1m11 0h1m6 0h1m15 0h1m4 0h1m-75 1h1m50 0h1m14 0h1m2 0h2m-96 1h1m29 0h1m6 0h1m23 0h1m-45 1h1m35 0h1m2 0h1m4 0h1m3 0h2m-46 1h1m2 0h1m19 0h1m6 0h1m25 0h1m-60 1h1m17 0h1m15 0h1m-53 1h1m1 0h1m21 0h1m2 0h1m3 0h1m8 0h1m7 0h1m12 0h1m4 0h1m1 0h1m3 0h1m20 0h1m-96 1h1m20 0h1m72 0h1m-68 1h1m12 0h1m15 0h1m9 0h2m-58 1h1m1 0h1m18 0h1m14 0h1m8 0h1m8 0h1m21 0h1m-63 1h1m3 0h1m2 0h1m16 0h1m3 0h1m1 0h1m8 0h1m7 0h1m23 0h1m2 0h1m-87 1h1m12 0h1m29 0h1m8 0h1m16 0h1m14 0h1m-102 1h1m8 0h2m21 0h1m7 0h1m30 0h1m28 0h1m-77 1h1m51 0h1m9 0h1m5 0h1m-74 1h1m1 0h1m3 0h1m16 0h1m22 0h1m-42 1h1m8 0h1m14 0h2m25 0h1m8 0h1m16 0h1m-89 1h1m33 0h1m14 0h1m16 0h1m2 0h1m20 0h1m-85 1h2m21 0h1m1 0h1m10 0h1m-43 1h1m63 0h1m3 0h1m2 0h1m12 0h1m-75 1h1m17 0h1m31 0h1m-56 1h1m4 0h1m10 0h1m16 0h1m8 0h1m3 0h1m9 0h1m-86 1h1m43 0h1m12 0h1m2 0h1m28 0h1m7 0h1m-162 1h2m110 0h1m13 0h1m12 0h1m26 0h1m-164 1h1m86 0h1m34 0h1m13 0h1m-50 1h1m33 0h1m35 0h1m-72 1h1m3 0h1m11 0h1m2 0h1m6 0h1m39 0h1m3 0h1m1 0h1m1 0h1m-67 1h1m6 0h1m51 0h1m2 0h1m-66 1h1m19 0h1m-19 1h2m1 0h2m16 0h1m40 0h1m-74 1h1m21 0h1m11 0h1m-5 1h1m-9 1h1m5 0h1m-15 1h1m2 0h1m58 0h1m-83 1h1m16 0h1m-5 2h1m16 0h1m4 0h1m-121 1h1m102 0h1m12 0h1m-117 1h1m157 0h2m-42 1h1m-83 1h1m40 0h1m44 0h1m22 0h1m10 0h1m-122 1h1m66 0h1m40 0h1m-109 1h2m81 0h1m18 0h1m16 0h1m-1 1h1m-80 1h1m61 0h1m11 0h2m9 0h1m-129 1h1m7 0h1m54 0h1m21 0h1m-26 1h1m43 0h1m15 0h1m3 0h1m-120 1h1m50 0h1m20 0h1m16 0h2m1 0h1m20 0h1m5 0h1m-152 1h1m32 0h1m75 0h1m28 0h1m14 0h1m-121 1h1m4 0h1m48 0h1m41 0h1m19 0h1m-67 1h1m25 0h1m7 0h1m22 0h1m-113 1h1m89 0h1m5 0h1m22 0h2m-80 1h1m35 0h1m8 0h1m8 0h1m4 0h1m-81 1h1m49 0h1m17 0h1m-23 1h1m1 0h1m50 0h1m1 0h1m-83 1h1m1 0h1m29 0h1m-30 1h1m21 0h1m15 0h1m9 0h1m15 0h1m-45 1h1m20 0h1m3 0h1m6 0h1m14 0h1m-71 1h1m60 0h1m-75 1h1m13 0h1m63 0h1m-123 1h1m53 0h1m39 0h1m6 0h1m2 0h2m14 0h1m-112 1h1m42 0h1m-30 1h1m18 0h1m44 0h1m28 0h1m1 0h1m10 0h1m-8 1h1m-117 1h1m31 0h1m76 0h1m4 0h1m-6 1h1m-117 1h1m100 0h1m-102 1h1m4 0h1m117 0h1m-22 1h1m3 0h1m-100 1h1m99 0h1m11 0h1m3 0h1m-121 1h1m95 0h1m16 0h1m-1 2h1m-19 1h1m-103 1h1m119 0h1m-107 1h3m-2 1h1m4 0h1m33 0h1m56 1h1m-105 1h1m3 0h1m35 0h1m60 1h1m1 0h2m-101 1h1m10 0h1m15 0h1m59 2h1m-85 1h1m-9 1h1m12 0h1m1 0h1m3 0h1m5 0h1m61 0h1m-67 1h1m4 0h1m35 0h1m13 0h1m3 0h1m-69 2h1m64 0h1m-49 1h1m13 0h1m-39 1h1m4 0h1m2 0h1m6 1h1m10 0h1m3 1h1m-18 3h1m-5 1h2" stroke="#38598c"/>
<path d="m126 9h1m4 1h1m-23 10h1m-11 6h1m5 0h1m3 0h1m1 0h1m-17 3h1m10 0h1m1 0h1m-24 1h1m11 0h1m17 0h1m5 0h1m0 1h1m8 0h1m-3 1h1m-13 1h1m6 0h1m-42 1h1m5 0h1m18 0h1m1 1h1m-32 1h1m14 0h1m14 0h1m-34 1h1m41 0h1m9 0h1m-33 1h1m11 0h1m10 0h1m2 0h1m-43 1h1m9 0h1m16 0h1m2 0h1m8 0h2m18 0h1m-41 1h1m2 0h1m7 0h1m23 0h1m-57 1h1m21 0h1m-22 1h1m41 0h1m8 0h1m3 0h1m4 0h1m3 0h1m-72 1h1m13 0h1m17 0h1m17 0h1m2 0h2m-52 1h1m6 0h1m57 0h1m-82 1h1m16 0h1m10 0h1m40 0h1m2 1h1m-63 1h1m-9 2h1m5 0h1m-1 1h1m-23 1h1m34 0h1m4 0h1m-22 1h1m2 0h1m15 0h1m-10 1h1m5 0h1m3 0h1m-12 1h1m5 0h1m4 0h1m-34 1h1m22 0h1m1 1h1m2 0h1m4 0h1m-26 1h1m3 0h1m47 1h1m39 0h1m-69 1h1m9 0h1m17 0h1m1 0h1m-23 1h1m12 0h1m19 0h1m-33 1h2m27 0h1m30 0h1m-75 1h1m13 0h3m34 0h1m-79 1h1m23 0h1m6 0h1m14 0h1m3 0h1m24 0h1m5 0h1m17 0h1m-86 1h1m15 0h1m8 0h1m40 0h1m19 0h1m-102 1h1m17 0h1m16 0h1m38 0h1m21 0h1m-83 1h1m10 0h1m5 0h1m10 0h1m12 0h1m-19 2h1m25 0h1m10 0h1m25 0h1m-74 1h2m8 0h1m2 0h1m9 0h1m3 0h1m17 0h1m1 0h1m25 0h1m-92 1h1m23 0h1m7 0h1m17 0h1m3 0h1m-52 1h1m4 0h1m9 0h1m15 0h1m6 0h2m4 0h1m-61 1h1m26 0h1m9 0h1m16 0h1m6 0h1m7 0h1m7 0h1m4 0h1m15 0h1m-60 1h1m26 0h1m11 0h1m-158 1h1m92 0h1m2 0h1m37 0h1m-40 1h1m9 0h1m4 0h1m27 0h1m18 0h1m18 0h1m-133 1h1m55 0h1m4 0h1m3 0h1m-12 1h2m3 0h1m7 0h1m35 0h1m28 0h2m-70 1h1m10 0h1m13 0h1m27 0h1m-65 1h1m18 0h1m10 0h1m43 0h1m5 0h1m-82 1h1m13 0h1m12 0h1m3 0h1m11 0h1m17 0h1m2 0h1m3 0h1m-88 1h1m20 0h1m14 0h1m46 0h1m3 0h1m1 0h2m-70 1h1m7 0h1m1 0h1m5 0h1m10 0h1m40 0h1m-60 1h2m5 0h1m6 0h1m1 0h1m-29 1h1m13 0h1m13 0h1m43 0h1m-73 1h1m1 0h1m4 0h1m7 0h1m4 0h1m-2 1h1m-19 1h1m22 0h1m-16 1h1m12 0h1m46 0h1m-58 1h1m55 0h1m-47 3h1m46 0h1m-64 1h1m-8 1h1m2 0h1m-73 1h1m87 0h1m0 1h1m4 0h1m-35 1h1m27 1h1m21 0h1m-54 1h1m36 0h1m-120 1h1m133 0h1m13 0h1m5 0h1m-1 1h1m-91 1h1m86 0h1m2 0h1m-59 1h1m14 0h1m46 0h1m-123 1h1m107 0h1m-17 1h1m4 0h2m3 0h1m5 0h1m1 0h1m1 0h1m-62 1h1m55 0h1m-139 2h1m67 0h1m6 0h1m66 0h1m1 0h1m-77 1h1m55 0h1m4 0h1m7 0h1m-98 1h1m7 0h1m8 0h1m42 0h1m12 0h1m8 0h1m23 0h1m-67 1h1m24 0h1m3 0h1m6 0h1m3 0h1m7 0h1m6 0h1m1 0h1m5 0h1m-83 1h1m48 0h2m16 0h2m2 0h1m13 0h1m-60 1h1m8 0h1m10 0h1m5 0h1m11 0h1m3 0h1m4 0h1m7 0h1m-56 1h1m20 0h1m3 0h1m2 0h1m5 0h1m21 0h1m-122 1h1m5 0h1m5 0h1m81 0h1m24 0h1m-44 1h1m5 0h1m35 0h1m-90 1h1m51 0h2m1 1h2m-101 1h1m106 0h1m18 0h1m-127 1h1m2 0h1m89 0h1m1 0h1m11 0h1m-11 4h1m5 3h1m8 0h1m1 0h2m1 1h1m-1 1h1m-23 1h1m19 0h1m-16 1h1m8 0h1m-97 1h1m3 1h1m-21 1h1m18 0h1m93 0h1m-90 1h1m-2 1h1m-4 1h1m75 2h1m-86 1h1m7 0h1m81 0h2m-96 1h1m3 0h1m28 0h1m60 0h1m-34 1h1m-18 1h1m1 0h1m2 0h1m-37 1h2m4 1h1m10 0h1m-11 1h1m13 0h1m-10 1h1m-6 2h2m-4 2h1" stroke="#31668e"/>
<path d="m129 8h1m-6 2h1m1 0h1m-9 10h1m-7 1h1m-3 1h1m17 0h1m-25 3h1m23 2h1m-18 2h1m2 1h1m-8 2h1m6 0h2m-34 1h1m9 0h1m32 0h1m1 0h1m-11 1h1m-39 1h1m13 0h1m12 0h1m15 0h1m-43 1h1m26 1h1m1 1h1m5 0h1m4 0h1m6 0h1m-24 1h1m13 0h1m0 1h1m-35 1h1m17 0h1m37 0h1m-39 1h1m8 0h1m12 0h1m14 0h1m1 0h1m-32 1h1m20 1h1m-53 1h1m1 0h1m43 0h1m-58 1h1m9 1h1m2 0h1m42 0h1m3 0h1m-70 1h1m10 0h1m1 0h1m54 0h1m-49 1h1m47 0h1m-75 1h1m1 0h1m12 0h1m5 0h1m3 1h1m38 0h1m-54 1h2m4 0h1m1 0h1m55 0h1m-65 1h1m1 0h2m6 1h1m9 0h1m-21 1h1m11 0h1m6 0h1m1 0h1m1 0h1m25 1h1m-35 1h1m3 0h1m5 0h1m31 0h1m3 0h1m-38 1h1m2 0h1m16 0h1m6 0h1m11 0h1m-47 1h1m2 0h1m24 0h1m10 0h1m6 0h1m-75 1h1m37 0h2m16 0h2m3 0h1m7 0h1m28 0h1m-53 1h1m43 0h2m-60 1h1m-18 1h1m4 0h1m62 0h1m8 0h1m-69 1h1m4 0h1m-28 1h1m13 0h1m16 0h1m13 0h1m4 0h1m31 0h1m-83 1h1m19 0h1m5 0h1m17 0h1m9 0h2m-36 1h1m15 0h1m32 0h1m5 0h1m-73 1h1m28 0h1m11 0h1m17 0h1m1 0h1m-38 1h1m9 0h1m9 0h1m6 0h1m5 0h1m6 0h1m16 0h1m-67 1h1m4 0h1m21 0h1m16 0h1m5 0h1m5 0h1m2 0h1m2 0h1m-17 1h1m4 0h1m11 0h1m1 0h1m-176 1h1m114 0h1m4 0h1m40 0h1m20 0h1m-89 1h1m30 0h1m15 0h1m2 0h1m9 0h1m30 0h1m-58 1h1m21 0h1m2 0h1m-48 1h1m2 0h1m10 0h1m30 0h1m1 0h1m24 0h1m1 0h1m-67 1h1m8 0h1m1 0h1m5 0h1m33 0h1m-54 1h1m17 0h1m20 0h1m11 0h1m-90 1h1m49 0h1m20 0h1m16 0h1m-170 1h1m100 0h1m56 0h1m9 0h1m19 0h1m-78 1h1m15 0h1m36 0h1m6 0h1m-57 1h1m4 0h3m13 0h1m49 0h1m-70 1h1m15 0h1m3 0h1m30 0h1m2 0h1m9 0h1m-81 1h1m6 0h1m1 0h1m3 0h3m49 0h1m-44 1h1m47 0h1m-59 1h1m10 0h1m49 0h1m-55 1h1m4 0h1m-121 1h1m118 0h1m45 0h1m-53 1h1m11 1h1m-20 1h2m13 2h1m-75 2h1m57 0h1m55 2h1m-84 1h1m70 1h1m1 0h1m-85 2h1m35 0h1m44 0h1m6 0h1m-110 1h1m76 0h1m3 0h1m16 2h1m12 0h1m3 0h1m-38 1h1m23 0h1m2 0h1m10 0h1m-47 1h1m13 0h1m19 0h1m12 0h1m-156 1h1m127 0h1m10 0h1m3 0h2m-24 1h1m3 0h1m12 0h1m11 0h1m-21 1h1m19 0h1m-49 1h1m21 0h1m4 0h1m2 0h1m13 0h1m-81 1h1m14 0h1m21 0h1m6 0h1m12 0h1m12 0h1m-71 1h1m30 0h1m5 0h1m12 0h1m16 0h1m6 0h1m7 0h1m-64 1h1m25 0h1m3 0h1m4 0h1m16 0h1m5 0h1m-47 1h1m8 0h1m17 0h1m-91 1h1m53 0h1m11 0h1m18 0h1m1 0h1m-25 1h1m4 0h1m7 1h1m23 0h1m-41 2h1m12 0h1m19 0h1m12 0h1m-10 1h1m2 0h1m3 0h1m-106 1h1m96 0h1m-35 1h1m2 0h1m32 0h1m-97 2h1m87 2h1m-13 1h1m-104 1h1m-4 1h1m108 0h1m-110 1h1m96 0h1m-99 1h1m14 1h1m86 0h1m16 0h1m-118 2h1m1 1h1m13 2h1m1 0h1m-3 1h1m1 0h1m-14 1h1m4 0h1m14 1h1m71 0h1m1 1h1m-73 1h1m-21 1h1m7 0h1m11 0h1m-22 1h1m12 0h1m38 0h2m4 0h1m-48 1h1m9 0h1m6 2h1m-25 1h1m14 3h1m-1 1h1" stroke="#2c728e"/>
<path d="m123 16h1m-12 7h1m-3 2h1m-10 2h1m5 0h1m1 0h1m4 1h1m-21 2h1m16 0h1m15 0h1m-43 1h1m21 2h1m7 2h1m-24 1h1m39 0h1m-51 1h1m27 0h1m16 0h1m3 0h1m-45 1h1m1 0h1m3 0h1m24 0h1m-33 1h1m4 0h1m13 0h1m-6 1h1m4 0h1m3 0h1m11 0h1m-48 1h1m23 0h1m3 0h1m11 0h1m-35 1h1m28 0h1m-31 1h1m9 0h2m2 0h1m46 0h1m-13 1h2m12 1h1m-73 1h1m59 0h1m10 0h1m-20 1h1m-56 1h1m2 0h1m12 0h1m41 1h1m-47 1h1m1 0h1m2 0h1m41 0h1m-78 1h1m4 0h1m11 0h2m2 0h1m1 1h1m7 0h1m5 1h1m20 0h1m17 0h1m2 0h1m-74 3h1m14 0h1m44 0h1m5 0h1m2 0h1m-13 1h1m1 0h1m38 1h1m-100 1h1m29 0h1m5 0h1m13 0h1m17 0h1m-39 1h1m17 0h2m42 0h1m2 0h1m-47 1h1m11 0h1m1 0h1m2 0h1m-37 1h2m21 0h1m24 0h1m19 0h1m-96 1h1m63 0h1m-59 2h1m5 0h1m33 0h1m43 0h1m-71 1h1m12 0h1m15 0h1m-30 1h1m3 0h1m27 0h1m8 0h1m3 0h2m-61 1h1m44 0h1m2 0h1m5 0h1m5 0h1m-65 1h1m2 1h1m10 0h1m11 0h1m-11 1h1m5 0h1m1 0h1m24 0h2m9 0h1m4 0h1m-68 1h1m5 0h1m48 0h1m-49 1h1m41 0h1m2 0h2m4 0h1m13 0h1m-65 1h1m5 0h1m33 0h1m12 0h1m-33 1h1m61 0h1m-78 1h1m29 0h1m2 0h1m23 0h1m-58 1h1m2 0h1m7 0h1m5 0h1m3 0h1m37 0h1m-68 1h1m1 0h1m8 0h1m20 0h2m39 0h1m6 0h1m-79 1h1m1 0h2m12 0h1m8 0h1m8 0h1m21 0h1m7 0h1m7 0h1m-180 1h1m111 0h1m7 0h2m20 0h1m24 0h1m4 0h1m-90 1h1m34 0h1m15 0h1m15 0h1m2 0h1m13 0h1m4 0h1m-68 1h1m32 0h1m24 0h1m18 0h1m-71 1h1m6 0h1m33 0h1m17 0h1m-49 1h1m56 0h1m-73 1h1m1 0h1m21 1h1m-60 1h1m32 0h1m24 0h1m38 0h1m3 0h1m-64 1h1m18 0h1m39 0h1m2 2h1m-168 1h1m-1 1h1m157 3h1m3 0h1m3 0h1m-138 2h1m119 0h1m4 0h1m6 0h1m-85 1h1m30 0h1m4 0h1m43 0h1m-155 1h1m63 1h1m32 0h1m55 0h1m-16 1h1m-20 1h1m14 0h1m7 0h1m2 0h1m-112 1h1m6 0h1m70 0h1m-1 1h1m7 0h1m5 0h1m10 0h1m-42 1h1m42 0h1m7 0h1m-114 1h1m61 1h1m38 0h1m-80 1h1m15 0h1m3 0h1m39 1h1m1 0h2m14 1h1m9 0h1m-30 1h1m-6 1h1m18 0h1m20 0h1m-34 1h1m8 0h1m-18 1h1m1 0h1m3 0h1m13 0h2m11 0h1m-6 1h1m1 0h2m-116 2h1m43 0h1m65 0h1m-66 1h1m31 0h1m-53 1h1m61 1h1m21 0h1m1 0h1m2 0h1m-13 1h1m-107 1h1m13 0h1m100 1h1m-125 3h1m4 0h1m100 1h1m5 3h1m-112 1h1m108 0h1m-15 1h1m16 0h1m-117 1h1m107 0h1m-91 1h1m28 1h1m64 0h1m-103 1h1m14 0h1m20 0h1m2 1h1m59 0h1m-4 1h1m-98 1h1m3 0h1m81 0h1m-86 2h1m8 1h1m1 1h1m5 0h1m6 1h1m-10 1h1m0 1h1m12 0h1m-25 1h1" stroke="#277e8e"/>
<path d="m125 9h1m-1 6h1m-5 7h1m-14 4h1m22 2h1m-48 1h1m12 0h1m1 0h1m34 2h1m-10 3h1m3 0h1m-22 1h1m-23 1h2m38 1h1m-48 1h1m27 0h1m9 0h1m-37 1h1m1 0h1m32 0h1m24 0h1m-45 1h1m14 0h1m27 0h1m-48 1h1m-21 1h1m11 0h1m13 0h1m5 1h1m22 0h2m9 0h1m2 0h1m-71 1h1m17 0h1m30 0h1m2 0h1m1 0h1m-6 1h1m-44 1h1m9 0h1m-19 1h1m18 0h1m1 0h1m12 2h1m21 0h2m-51 1h1m46 0h1m3 0h1m-10 1h1m-51 1h1m54 0h1m-61 1h1m0 1h1m21 0h1m21 0h1m15 0h1m-64 1h1m47 0h1m8 1h1m5 0h1m-71 1h1m27 1h1m3 0h1m39 0h1m-65 1h1m85 0h2m-63 1h1m61 0h1m-71 1h2m4 0h1m35 0h1m7 0h1m-35 1h1m4 0h1m4 0h1m43 0h1m-71 1h1m49 0h2m-53 1h1m24 0h2m10 0h3m1 1h1m6 0h1m2 0h1m17 0h1m-53 1h1m6 0h1m11 0h1m-54 1h1m23 0h1m26 0h1m-23 1h1m15 0h1m13 0h1m7 0h1m-66 1h1m14 0h1m1 0h1m26 0h1m-29 1h1m27 0h1m16 0h1m1 0h1m19 0h1m-83 1h1m39 0h1m-25 1h1m7 0h1m-28 1h1m25 0h1m15 0h1m14 0h1m11 0h1m15 1h1m-57 2h1m-94 1h1m94 1h1m20 0h1m12 0h1m-57 1h1m12 0h1m13 0h1m20 0h1m20 0h1m-72 1h1m35 0h1m16 0h2m20 0h1m-70 1h1m6 0h1m12 0h1m16 0h1m25 0h1m-73 1h1m3 0h1m39 0h1m2 0h1m15 0h1m9 0h1m-1 1h1m-9 1h1m-49 1h1m3 0h1m2 0h1m22 0h1m-28 1h1m41 0h1m2 0h2m-68 1h1m4 1h1m16 2h1m-96 4h1m0 1h1m116 0h1m0 2h1m-30 2h1m42 0h1m-124 1h1m113 0h1m-87 1h1m27 0h1m59 0h1m3 0h3m-116 1h1m59 0h1m33 0h1m-135 1h1m105 0h1m31 0h1m-19 1h1m11 0h1m-13 2h1m27 0h1m-30 1h1m4 0h1m18 0h1m8 1h1m-150 1h1m90 0h1m39 0h1m8 0h1m1 0h1m-94 1h1m65 0h1m21 0h1m-73 1h1m28 1h1m27 0h1m-58 1h1m20 0h1m11 0h1m19 1h1m-55 1h1m45 0h1m9 0h2m-100 1h1m84 0h1m3 0h1m10 0h1m4 1h1m3 0h1m-23 1h1m0 1h2m19 0h1m-59 1h1m25 0h1m23 0h1m-23 1h1m4 0h1m22 0h1m2 0h1m-41 1h1m31 0h1m3 0h1m3 0h1m-103 1h1m97 0h1m5 0h1m-124 1h1m121 0h1m-123 1h1m18 0h1m-20 1h1m46 0h1m35 0h1m-87 2h1m116 0h1m-6 2h1m-105 1h1m-13 1h1m2 1h1m10 1h1m16 1h1m-20 1h1m-4 1h1m97 0h1m-92 1h1m2 0h1m23 0h1m-39 1h1m10 0h1m87 0h1m-87 1h1m8 0h1m-22 2h1m7 1h1m19 0h1m14 0h1m5 0h1m2 0h1m2 0h1m9 0h1m2 0h1m-60 1h1m-4 1h1m67 0h1m-35 1h1m-17 1h1m-1 1h1m-14 2h1m3 1h1m2 0h1m-4 1h1" stroke="#238a8d"/>
<path d="m126 8h1m-20 9h1m2 0h1m-7 6h1m5 3h1m-7 1h1m8 0h1m1 0h1m11 2h1m-34 2h1m20 0h1m12 2h1m-19 1h1m11 0h1m-33 1h1m32 0h1m1 0h1m-43 1h1m38 0h1m-2 1h1m-42 1h1m44 0h1m-30 1h1m12 0h1m19 0h1m-37 1h1m1 0h1m12 2h1m4 0h2m-37 1h1m6 0h1m17 0h1m26 0h3m-53 1h1m8 1h1m33 0h1m-10 1h1m18 0h1m-51 1h1m58 0h1m-79 1h1m59 0h1m-62 1h1m14 2h1m2 0h1m40 0h1m2 0h1m2 0h1m-4 1h1m-13 2h1m-5 1h1m5 0h1m-14 1h1m5 0h1m-17 1h1m31 0h1m-70 1h1m1 0h1m30 0h1m1 0h1m59 0h1m-62 1h1m6 0h1m8 0h1m6 0h1m4 0h1m35 0h1m-69 1h1m1 0h1m12 0h2m3 0h1m2 0h1m-41 1h1m18 0h1m41 0h1m-31 1h1m20 0h1m23 0h2m-61 1h1m18 0h1m10 0h1m13 0h1m21 0h1m-78 1h1m52 0h2m-58 1h1m47 0h1m3 1h1m-46 1h1m29 0h1m2 0h1m8 0h1m-57 1h1m75 0h1m-83 1h1m2 0h1m49 0h1m6 0h1m-55 1h1m17 0h1m22 0h1m6 0h1m8 0h1m29 0h1m-91 1h1m51 0h1m13 0h1m-51 1h1m9 0h1m6 0h1m13 0h1m38 0h1m1 0h1m-90 1h1m2 0h1m14 0h1m-17 1h1m10 0h2m27 0h1m13 0h1m31 0h1m-75 1h1m43 0h1m3 0h1m-59 1h2m3 0h1m5 0h1m1 0h1m37 0h2m-34 1h1m58 0h1m-72 1h1m19 0h1m2 0h1m34 0h1m-3 1h1m-46 1h1m2 0h1m23 0h1m3 0h1m-17 1h1m21 0h1m4 0h1m-146 1h1m74 0h1m17 0h1m3 0h1m32 0h1m4 0h1m-26 1h1m35 0h1m7 0h1m-75 1h1m18 0h1m9 1h2m-128 1h1m105 1h2m58 4h1m-16 1h1m12 1h1m-16 2h1m4 0h1m-152 1h1m150 0h1m4 0h1m2 0h1m-1 1h1m-37 1h1m35 0h2m-79 1h1m37 0h1m20 1h1m5 0h1m-108 1h1m77 0h1m19 0h1m3 0h1m-59 1h1m60 0h1m3 0h1m-65 1h1m32 0h1m21 0h1m6 0h1m-144 1h1m142 0h1m3 0h1m-63 1h1m48 0h1m-13 1h1m-121 1h1m127 0h1m4 0h1m-102 1h1m42 1h1m30 0h1m22 0h1m7 0h1m1 0h1m-16 1h1m6 0h2m3 0h1m-36 1h1m16 0h1m6 0h1m7 0h1m9 0h1m-26 1h1m3 0h1m1 0h1m6 0h1m-14 1h1m-22 1h1m8 1h1m25 0h1m-41 1h1m7 0h1m31 0h1m-72 1h1m-54 1h1m94 0h1m-6 1h1m3 0h1m-91 1h1m115 1h1m-26 1h1m26 0h1m4 0h1m-6 1h1m3 0h1m-5 1h1m1 1h1m-20 1h1m15 0h1m-127 3h1m5 0h1m-2 1h1m113 2h1m-117 3h1m16 2h1m-15 1h2m1 0h1m4 0h1m2 1h1m31 0h1m-38 1h1m3 0h1m-7 1h1m35 0h1m-33 1h1m14 0h1m-19 1h1m5 0h1m32 0h1m42 1h1m-87 1h1m43 0h1m-38 2h1m29 0h1m-11 1h1m-8 1h1m3 0h1" stroke="#1f968b"/>
<path d="m123 14h1m-15 2h1m14 4h1m-33 2h1m31 5h1m-20 2h1m20 1h1m-19 1h1m-1 1h1m-19 2h1m32 0h1m4 2h1m2 0h1m-51 1h1m4 0h1m5 1h1m28 0h1m-19 2h1m7 0h1m1 0h1m6 0h1m-39 1h1m32 0h1m3 0h1m1 0h1m4 0h1m-51 1h1m6 0h1m7 0h1m14 0h1m3 0h2m29 0h1m-61 1h1m14 0h1m1 0h1m-32 1h1m3 0h1m5 0h1m8 0h1m35 0h2m1 1h1m-39 1h1m25 0h1m8 0h1m17 0h1m-20 1h1m1 0h2m-43 1h1m23 0h1m-37 1h1m16 1h1m-25 1h1m19 0h1m42 1h1m1 0h1m-5 1h1m-80 1h1m16 0h1m13 0h1m4 0h1m-2 1h1m10 0h1m32 0h1m4 0h1m-23 1h1m-22 1h1m28 0h1m11 0h1m-6 1h1m-36 1h1m26 0h1m37 0h1m-37 1h2m-43 1h1m8 0h1m17 0h1m10 0h1m9 0h1m24 1h1m-43 1h1m42 1h1m2 0h1m-70 1h1m-4 1h1m35 0h1m-26 1h1m9 0h1m1 0h1m-52 1h1m36 0h1m4 0h1m52 0h1m-92 1h1m18 0h1m13 0h1m30 0h1m25 0h1m-37 1h1m20 0h1m5 0h1m-15 1h1m5 0h1m-21 1h1m8 0h1m8 0h1m-62 1h1m2 0h1m4 0h1m12 0h1m34 0h1m-53 1h1m33 0h1m-36 1h1m5 0h1m43 0h1m1 0h1m7 0h1m9 0h1m7 0h1m-30 1h1m-3 1h1m3 0h1m-36 1h1m29 0h1m1 0h1m5 0h1m16 0h1m-67 1h1m32 0h1m35 0h1m-78 1h1m26 0h1m44 0h2m5 0h1m-188 1h1m108 0h1m5 0h1m13 0h1m2 0h1m32 0h1m2 0h1m-50 1h1m45 0h2m1 0h1m-34 1h1m21 0h1m6 0h1m1 0h1m10 0h1m2 0h1m-81 1h1m12 0h1m11 0h1m-123 1h1m105 0h1m16 0h1m45 0h1m1 0h1m3 0h1m-50 1h1m39 0h1m-166 2h1m114 0h1m-11 1h1m8 0h1m-114 1h1m169 0h1m-3 3h1m-16 1h1m13 0h1m-3 1h1m-17 1h1m7 0h1m-13 1h1m3 0h1m-10 1h1m-100 1h1m79 0h1m-3 1h1m2 0h1m27 0h1m-13 1h1m18 0h1m-53 1h1m16 0h1m1 0h1m-20 1h1m34 0h1m16 0h1m-18 1h1m-15 1h1m-39 1h1m1 0h1m47 0h1m5 0h1m-36 1h1m50 0h1m-31 1h1m17 0h1m-65 1h1m73 0h1m-12 1h1m-31 1h1m4 0h1m15 0h1m4 0h1m1 0h1m7 0h1m-79 1h1m67 0h1m-38 1h1m20 0h1m1 0h1m-116 2h1m118 0h1m17 0h1m-70 2h1m32 0h1m-23 1h1m-70 1h1m96 0h1m22 0h1m-120 1h1m95 0h1m11 1h1m9 0h1m1 0h1m-4 1h1m-4 1h1m-10 3h1m-119 2h1m2 1h1m12 0h1m90 0h1m-106 2h1m-3 1h1m119 0h1m-106 3h1m26 2h1m-38 2h1m1 0h1m1 0h1m19 0h1m-16 2h1m45 0h1m-36 1h1m-20 1h1m17 0h1m67 0h1m-83 1h1m39 0h1m9 0h1m-56 1h1m8 0h1m10 0h1m7 0h1m-2 1h1m-23 1h2m8 6h1" stroke="#1fa287"/>
<path d="m127 8h1m-7 12h1m-2 1h1m-18 4h1m7 0h1m-8 1h1m11 2h1m-7 2h1m2 3h1m17 0h1m-51 3h1m26 0h1m-19 1h3m16 0h1m-26 1h1m-8 1h1m43 0h1m-39 1h1m3 0h1m19 0h1m9 0h1m-28 1h1m18 0h1m-17 1h1m-6 1h1m55 0h1m-67 1h1m26 1h1m-13 1h1m-1 1h1m28 1h1m-55 1h1m17 0h1m2 0h1m15 0h1m-28 1h1m3 0h1m44 0h1m-80 1h1m22 0h1m4 1h1m11 0h1m20 0h1m-27 1h1m4 1h1m2 0h1m-40 1h1m43 1h2m15 0h1m6 0h1m5 0h3m-36 1h1m12 0h1m3 0h1m10 0h1m1 0h1m1 0h1m4 0h1m-77 1h1m4 0h1m24 0h1m28 0h1m-28 1h1m1 0h1m41 0h1m-32 1h1m13 0h1m16 0h1m-46 1h1m2 0h1m8 0h1m48 0h1m-79 1h1m11 0h2m23 0h1m-17 2h1m16 0h1m-28 2h1m46 0h2m-72 1h1m23 0h1m3 0h1m-1 1h1m25 0h1m-59 1h1m9 0h1m39 0h1m2 0h1m-25 1h1m5 0h1m1 0h1m36 0h1m5 0h1m10 0h1m4 0h1m-85 1h1m24 0h1m-30 1h1m3 0h1m83 0h1m-105 1h1m14 0h1m88 0h1m-39 1h1m9 0h1m-54 1h1m46 0h1m-29 1h1m16 0h1m-14 1h1m30 0h1m7 0h1m-5 1h1m16 0h1m-81 1h1m23 0h1m39 0h1m1 0h1m-9 2h1m7 0h1m15 0h1m-77 1h1m13 0h2m3 1h1m24 1h1m22 0h2m-2 1h1m-10 2h1m-60 1h1m5 0h1m55 0h1m-2 1h2m1 0h1m-65 1h1m61 2h1m-166 1h1m87 0h1m64 0h1m9 0h1m-7 1h1m-12 2h1m-7 2h1m7 0h1m-6 1h1m-103 1h1m96 0h2m5 0h1m17 0h1m-17 1h1m7 0h1m-16 1h1m2 0h2m7 0h1m-70 1h1m54 0h1m12 0h2m-12 1h1m8 0h1m-27 1h1m-88 2h1m46 0h1m60 0h1m-11 1h1m7 0h1m10 1h1m-23 1h1m11 0h1m11 0h1m-82 1h1m54 0h1m-17 1h1m12 0h1m-97 2h1m70 0h1m8 0h1m3 0h1m6 1h1m15 0h1m10 1h1m-31 1h1m-61 1h1m53 1h1m30 1h1m-32 1h1m6 1h1m13 2h1m-1 1h1m2 0h1m-128 5h1m14 4h1m1 0h1m2 1h1m-17 1h1m10 0h1m0 3h1m2 0h1m-11 1h1m8 0h1m-7 2h1m3 0h2m6 1h1m31 0h1m34 1h1m-59 1h1m-7 1h1m6 0h1m-29 1h1m9 0h1m14 0h1m-16 1h1m12 0h1m1 0h1m-15 3h1m6 1h2" stroke="#28ae80"/>
<path d="m120 20h1m1 2h1m-18 3h1m-1 3h1m11 0h1m-12 2h2m-17 3h1m40 0h1m-42 1h1m-14 3h1m6 0h1m22 0h1m15 0h1m-43 1h1m2 0h1m4 0h1m-7 1h1m38 0h1m-28 1h1m7 0h1m33 0h1m-50 1h1m6 0h1m10 0h2m2 0h1m8 0h1m-44 1h2m10 0h1m30 0h1m12 0h1m-58 1h1m15 0h1m-8 1h1m6 0h2m19 0h1m6 0h1m-15 1h1m-21 1h1m3 0h1m3 0h1m-10 1h1m5 1h1m-7 1h1m-22 1h1m3 0h1m16 0h1m18 0h1m21 1h2m-12 1h1m1 0h1m1 0h1m-48 1h1m52 0h1m-8 1h1m-42 1h1m22 0h1m20 0h1m-45 1h1m10 0h1m20 0h1m1 0h1m16 0h1m-76 1h1m30 0h1m9 1h1m9 0h1m4 0h1m8 0h1m-23 1h1m5 0h1m16 0h1m-42 1h3m7 0h1m6 0h1m22 0h1m33 0h1m-35 2h1m11 0h1m15 0h1m-54 1h1m57 0h2m-81 1h1m29 0h1m44 0h1m1 0h1m-34 1h1m-29 1h1m14 0h1m24 0h1m20 0h1m-91 1h1m18 0h1m5 0h1m24 0h1m13 0h1m5 0h1m-4 1h1m-30 1h1m2 0h1m11 0h1m7 0h1m3 0h1m17 0h1m-30 1h1m5 0h1m-11 1h1m38 0h1m-89 1h2m35 0h1m17 0h2m-62 1h1m27 0h1m-16 1h1m3 3h1m7 0h1m-12 1h1m2 0h1m44 0h1m-32 1h1m1 0h1m33 0h1m18 0h1m-69 1h1m40 0h1m2 0h1m23 0h1m-55 1h1m-31 1h1m28 0h1m23 0h1m-52 2h1m23 0h1m-9 1h1m49 0h1m10 0h2m-6 1h1m-57 1h1m9 0h1m36 0h1m11 0h1m-7 1h1m-60 2h1m41 0h1m10 0h1m5 1h1m-19 1h1m15 0h1m-18 1h1m6 0h1m9 0h1m-136 1h1m72 0h1m56 0h2m-46 1h1m34 0h1m3 0h1m1 0h1m-117 1h1m104 0h1m15 0h2m-18 1h1m7 0h1m13 0h1m-131 1h1m16 0h1m32 0h1m53 0h1m8 0h1m7 0h1m-18 1h1m2 0h1m-108 1h1m82 0h1m43 0h1m-128 1h2m101 0h1m10 1h1m3 0h1m-13 2h1m-56 2h1m49 0h2m-4 1h2m3 0h1m7 0h1m-114 1h1m50 0h1m40 0h1m10 0h1m5 0h1m-76 1h1m60 0h1m9 0h1m-75 1h1m-1 1h1m88 0h1m-42 1h1m15 1h1m6 0h1m-68 1h1m59 0h1m7 0h1m-87 1h1m-21 1h1m23 0h1m2 1h1m-42 1h1m32 1h1m-30 1h1m89 0h1m-4 1h1m28 1h1m-121 1h1m115 1h1m3 0h1m-4 1h1m1 2h1m-111 8h1m1 1h1m-7 1h1m2 0h1m26 1h1m-35 2h1m6 1h1m-10 2h1m60 0h1m19 0h1m-74 1h1m61 0h1m11 0h1m-78 1h1m67 0h1m-68 1h2m33 0h1m-3 1h1m-33 1h1m28 0h1" stroke="#38b977"/>
<path d="m123 7h1m3 2h1m-3 1h1m-4 11h1m-14 3h1m-28 3h1m28 0h1m-5 2h1m14 4h1m-43 4h1m29 1h1m-32 1h1m7 0h1m5 0h1m-17 1h1m13 0h1m5 1h1m3 0h1m10 0h1m20 0h1m-46 1h1m13 0h1m5 1h1m1 0h1m10 0h1m-34 1h1m2 0h1m0 1h1m29 0h1m-32 1h1m-27 2h1m23 0h2m42 0h1m-46 1h1m17 0h1m-45 1h1m20 0h1m25 0h2m-43 1h1m12 1h1m4 0h2m-34 1h1m15 0h1m11 0h1m2 0h1m22 0h1m9 0h1m-25 1h1m13 0h1m1 0h2m12 0h1m1 0h1m2 0h1m-66 1h1m31 0h1m5 0h1m4 0h1m-5 1h1m7 0h1m-25 1h2m15 0h2m14 0h1m-21 1h1m5 0h1m14 0h1m-20 1h1m4 0h1m11 0h1m-14 1h1m13 0h1m-27 1h1m10 0h1m-27 1h1m18 0h1m3 0h1m-30 1h1m52 1h1m20 0h1m-90 1h1m15 0h1m29 0h1m45 0h1m-92 1h1m3 0h1m58 0h1m26 0h1m2 0h1m-49 1h1m14 0h1m6 0h1m23 0h1m-23 1h1m-41 1h1m23 0h1m4 0h1m10 1h1m9 0h1m-76 1h1m10 0h1m39 0h1m3 0h1m7 0h1m21 0h1m-30 1h1m9 0h1m-82 1h1m23 0h1m-5 2h1m7 0h1m69 0h1m-25 1h1m16 0h1m-65 1h1m46 0h1m3 0h1m-38 1h2m25 0h1m7 0h1m22 0h1m-76 1h1m9 0h1m23 0h1m-49 1h1m12 0h1m14 0h4m9 0h1m14 0h1m11 0h1m16 0h1m-38 1h1m6 0h1m28 0h1m-2 1h2m-59 1h1m28 0h1m-25 1h1m32 0h1m10 0h1m5 0h2m-50 1h1m-39 1h1m12 0h1m59 0h1m-39 1h1m46 1h2m-49 1h1m40 2h1m1 0h1m1 0h1m-4 1h1m-17 1h1m14 0h1m-17 1h1m18 0h1m-18 1h1m-113 1h1m-2 1h1m117 0h1m5 0h1m-21 1h1m10 0h1m-9 1h3m1 0h1m1 0h1m1 0h2m-115 1h1m83 0h1m19 0h1m4 1h1m13 0h1m-160 1h1m155 0h1m-17 2h1m-22 1h1m16 0h1m-43 1h1m38 2h1m4 0h1m-31 1h1m-104 1h1m64 0h1m-18 1h1m41 0h1m38 0h1m-11 1h1m10 0h1m-129 1h1m140 0h1m-85 3h1m-55 1h1m78 1h1m41 1h1m-1 1h1m4 0h2m-86 2h1m77 1h1m-120 2h1m118 4h1m-16 1h1m-110 1h1m97 1h1m-77 2h1m94 0h1m-103 1h1m3 0h1m-11 1h1m7 0h2m-9 1h1m101 0h2m-99 1h1m95 0h1m-98 1h1m5 0h1m-14 1h1m11 0h1m5 0h1m75 1h2m-96 1h1m3 0h1m3 0h1m-6 1h1m63 0h1m19 0h1m-85 1h1m45 0h1m3 0h1m-29 1h1m44 0h1m-27 1h1m-13 1h1m6 0h1m-33 1h1m25 0h1m4 0h1m-14 1h1m-7 3h1" stroke="#50c46a"/>
<path d="m124 13h1m-5 6h1m-20 4h1m12 1h1m1 0h1m-2 2h1m-8 4h1m23 2h1m-52 2h1m45 1h1m-41 2h1m1 0h1m-7 1h1m-2 1h1m2 0h1m6 0h1m1 0h1m22 0h1m-36 1h1m3 0h1m7 0h1m-12 1h2m9 0h1m11 0h1m3 0h1m-21 1h1m7 0h1m2 0h1m5 0h1m7 0h1m3 0h1m-33 1h1m3 0h1m14 0h1m5 0h1m-10 1h2m1 0h1m3 0h1m3 0h1m-30 1h2m8 0h1m31 0h1m-23 1h1m-42 1h1m3 0h1m15 0h1m2 0h1m4 0h1m11 0h1m11 0h1m-48 1h1m16 0h1m16 0h2m24 0h1m-46 1h1m24 0h2m8 0h1m-34 1h1m21 0h1m13 0h1m-33 1h1m20 0h1m11 0h1m-46 1h1m10 0h1m16 0h1m12 0h1m-32 1h1m40 0h1m-66 1h1m15 0h1m20 0h1m12 0h1m1 0h1m6 0h1m4 0h1m-37 1h1m12 0h1m13 0h1m-3 1h1m-27 1h1m19 0h1m-27 1h2m7 0h1m19 0h2m-15 1h1m13 0h1m-21 2h1m3 0h1m1 0h1m18 2h1m27 0h1m-79 1h2m-23 1h1m23 0h1m19 0h2m23 0h1m9 0h1m23 0h1m-70 1h1m36 0h1m9 0h1m-74 1h1m1 0h1m27 0h1m19 0h1m-22 1h1m5 0h1m16 0h1m20 0h1m-74 1h1m15 0h1m18 0h1m-30 1h1m51 0h1m33 0h1m-78 1h2m42 0h1m33 0h1m-75 1h1m37 0h1m-38 1h1m-6 1h1m3 0h1m1 1h1m-42 1h1m64 0h1m14 0h1m1 0h1m-53 1h1m49 0h2m5 0h1m3 0h1m-37 1h1m26 0h1m2 0h1m22 0h1m-83 1h1m53 0h1m4 0h1m25 0h1m-77 1h1m46 0h1m9 0h1m-60 1h1m15 0h1m30 0h1m3 0h1m7 0h1m-62 2h1m43 0h1m27 0h1m-80 1h1m20 0h1m50 1h1m5 0h1m-3 1h1m-5 2h1m-5 2h1m-18 1h1m14 0h1m4 0h1m-19 1h1m-3 1h1m17 0h1m-17 1h1m10 0h1m2 0h1m-61 1h1m48 0h1m3 0h1m5 0h1m1 0h1m2 1h1m-26 1h1m-105 1h1m102 1h1m13 0h1m5 0h1m-22 1h1m5 0h1m-108 1h1m103 0h1m-4 1h1m5 0h1m1 0h1m0 1h1m3 0h1m5 0h1m-23 1h1m3 0h1m-57 1h1m75 0h1m-23 1h1m-45 1h1m28 1h1m-78 1h1m91 0h1m17 0h1m-83 1h1m64 0h1m-132 1h1m116 0h1m-18 1h1m5 0h1m10 1h1m-9 1h1m-2 2h1m-80 2h1m72 0h1m6 0h1m-102 1h1m93 3h1m20 0h1m-83 1h1m88 1h1m-126 4h1m-1 1h1m-4 1h2m1 1h1m111 0h1m-99 2h1m96 1h1m-96 1h1m-6 1h1m30 0h1m65 0h1m-108 1h1m1 0h2m5 0h1m-11 1h1m10 0h2m28 0h1m-35 1h1m-4 3h1m58 0h1m25 0h1m-80 1h1m43 0h1m8 0h1m-62 1h1m6 0h1m16 0h1m17 0h1m3 0h1m10 0h1m1 1h1m-51 1h1m20 1h1m-27 1h1m5 0h1m15 0h1m8 1h1m-14 1h1" stroke="#6ccd5a"/>
<path d="m128 8h1m-21 9h1m12 4h1m-10 3h1m-30 2h1m28 0h1m-7 2h1m-22 12h1m3 0h1m2 0h1m15 0h1m9 0h1m20 0h1m-49 1h1m3 0h1m3 0h1m13 0h1m4 0h1m-24 1h1m30 0h1m-28 1h1m2 0h1m10 0h2m5 0h1m-34 1h1m17 0h1m5 0h2m-25 1h1m2 0h1m1 0h1m5 0h1m2 0h1m9 0h1m7 0h1m-32 1h1m29 0h1m-26 1h1m25 0h1m-16 1h1m19 0h1m-57 1h1m13 0h1m6 0h1m17 0h1m11 0h1m-21 1h1m13 0h1m4 0h3m1 0h1m-55 1h1m12 0h1m3 0h1m1 0h1m20 0h1m5 0h1m1 0h1m-34 1h1m6 0h2m14 0h2m1 0h1m6 0h1m9 0h1m-38 1h2m21 0h1m1 0h2m2 0h1m-38 1h1m10 0h1m1 0h1m1 0h1m4 0h1m14 0h1m9 0h1m-35 1h1m4 0h3m7 0h1m3 0h1m1 0h1m5 0h2m1 0h1m2 0h1m-76 1h1m46 0h1m7 0h1m9 0h1m-21 1h1m10 0h1m20 0h1m-30 1h1m3 0h1m14 0h1m35 0h1m-61 1h1m11 0h1m1 0h2m6 0h1m34 0h1m-58 1h1m12 0h1m13 0h1m24 2h1m-30 1h1m29 0h1m-76 1h1m3 0h1m62 1h1m-21 1h1m8 0h1m-71 1h1m15 0h1m52 0h2m22 0h1m-78 1h1m6 0h1m8 0h1m15 0h1m18 0h1m-44 1h1m36 0h1m10 0h1m-56 1h1m40 0h1m27 0h1m-15 1h1m-59 1h1m1 0h1m29 0h1m12 1h1m-15 1h1m45 1h1m-1 1h1m-2 1h1m-28 1h1m22 0h1m1 0h1m1 0h1m-61 1h1m52 0h1m5 0h1m-32 1h1m24 0h1m-73 1h1m14 0h1m4 0h1m26 0h1m22 0h1m1 0h1m-71 1h1m12 0h1m1 0h1m1 0h1m2 0h1m-23 1h1m13 0h1m8 0h1m49 0h1m-74 1h1m18 0h1m25 0h1m9 2h1m10 0h1m-83 1h1m83 0h1m-6 1h1m-170 1h1m168 0h1m-6 1h1m-17 2h1m20 0h1m-18 1h1m7 0h1m8 0h1m-21 1h1m2 0h1m4 0h1m5 0h1m5 1h1m-81 1h1m65 0h1m10 0h1m-79 1h1m1 0h1m-5 1h2m1 0h1m54 0h1m2 0h1m8 0h1m-70 1h1m63 0h1m1 0h1m-3 1h1m-74 1h1m60 1h1m20 0h1m1 0h1m-49 1h1m30 0h2m1 0h1m14 0h1m-126 1h1m107 0h1m15 0h2m-32 2h1m29 0h1m-23 1h1m1 1h1m-85 1h1m93 0h1m5 1h1m-29 1h1m-75 1h1m15 0h1m0 1h1m66 0h1m14 0h1m-25 1h1m-16 1h1m14 0h1m20 0h1m-38 1h1m33 1h1m-37 2h1m-1 1h1m32 0h1m-35 1h1m21 0h2m3 1h1m-1 3h1m-2 1h1m-10 3h1m-117 2h1m-2 2h1m116 0h1m-1 1h1m-4 1h1m-98 2h1m91 1h1m-3 1h1m-98 1h1m14 0h1m69 0h1m3 0h2m-75 1h1m1 0h1m-18 2h1m75 0h1m2 0h1m-87 1h1m7 0h1m34 0h1m3 0h1m22 0h2m2 0h1m-72 1h1m2 0h2m52 0h1m-55 1h1m38 0h1m-11 1h1m-28 1h1m29 0h1m2 0h1m-6 1h1m-18 1h1m5 1h1m-4 1h1" stroke="#8bd646"/>
<path d="m124 9h1m-1 5h1m-4 5h1m-11 1h1m18 8h1m-2 1h1m1 3h1m-48 5h1m-4 1h1m6 0h1m-1 1h1m-8 1h1m33 0h1m1 1h1m16 0h1m-49 1h1m5 0h1m4 0h1m2 0h1m-7 1h2m1 0h1m11 0h1m6 0h1m-22 1h1m11 0h2m6 0h2m2 0h1m-16 1h1m2 0h1m7 0h1m-31 1h1m18 0h1m1 0h2m7 0h1m-26 1h1m12 0h1m1 0h1m6 0h2m-27 1h1m27 0h1m2 0h1m1 0h1m2 0h1m-21 1h1m14 0h1m-48 1h1m16 0h1m1 0h1m7 0h1m4 0h1m1 0h3m9 0h2m-32 1h1m3 0h1m8 0h1m3 0h1m3 0h1m1 0h1m5 0h1m-54 1h1m21 0h1m4 0h1m7 0h1m22 0h1m1 0h1m-31 1h1m17 0h1m2 0h1m2 0h1m9 0h1m-39 1h1m10 0h1m6 0h1m4 0h1m5 0h1m1 0h1m-18 1h1m7 0h1m6 0h1m-31 1h1m4 0h2m9 0h2m12 0h1m-30 1h1m4 0h2m2 0h3m7 0h1m9 0h2m9 0h1m-37 1h1m2 0h1m1 0h1m2 0h2m14 0h1m-26 1h1m25 0h1m-1 1h1m-23 1h1m19 0h1m30 0h1m6 0h1m-60 1h1m57 0h1m-73 1h1m2 0h1m9 1h2m33 1h1m-73 1h1m93 0h1m-47 1h1m15 0h1m7 0h1m-72 1h1m1 0h1m58 0h1m9 2h1m20 0h1m-34 1h1m29 0h1m3 0h1m-77 1h1m-1 1h2m73 0h1m-66 2h1m-20 1h1m3 0h1m2 0h1m73 0h1m-25 1h1m21 0h1m-59 1h1m30 1h1m-2 1h1m-50 1h1m45 0h1m-156 1h1m152 0h1m2 0h1m4 0h1m6 0h1m16 0h1m-60 1h1m28 0h1m-30 1h1m27 0h1m11 0h1m6 0h1m-12 1h1m2 0h2m8 1h1m1 0h1m-17 1h1m2 0h1m9 0h1m1 0h1m-68 1h1m52 0h1m3 0h1m-58 1h1m54 0h1m2 0h1m8 0h1m-13 1h1m-9 1h1m6 0h1m2 0h2m-12 1h1m-6 1h1m2 0h1m10 0h1m-14 1h1m10 0h1m6 0h1m-18 1h1m12 0h1m5 0h1m-138 1h1m116 0h1m2 0h1m2 0h1m12 0h1m-17 1h1m-6 1h1m16 0h1m-125 1h1m0 1h1m100 0h1m2 0h1m18 0h1m-18 1h1m16 0h1m0 1h2m-63 1h1m43 0h1m-9 2h1m-53 1h1m63 1h1m9 0h1m-19 2h1m12 3h1m-40 1h1m36 0h1m-49 1h1m-44 1h1m51 0h1m4 0h1m-7 2h1m1 0h1m-80 1h1m110 0h1m-34 1h1m31 0h1m-4 2h1m-10 1h1m0 1h1m-69 2h1m68 2h1m-124 1h1m121 0h1m-123 1h1m121 0h1m-122 4h1m12 2h1m-15 1h1m106 1h1m-6 2h1m-9 1h1m1 0h1m-94 1h1m88 0h1m8 0h1m-99 2h1m79 0h1m-79 1h1m45 0h2m3 0h1m11 0h1m1 0h1m18 0h1m-88 1h1m79 0h1m-80 1h1m74 0h2m-48 2h1m1 0h1m-22 1h1m16 0h1m1 0h1m4 0h1m-23 1h1m-1 1h2m8 1h1m-4 1h1" stroke="#addc30"/>
<path d="m126 28h1m-17 3h1m13 3h1m-35 6h1m25 0h1m-25 1h1m-6 1h1m6 0h1m1 0h1m10 1h1m7 0h1m2 0h2m-31 1h1m4 0h1m4 0h3m7 0h1m8 0h1m-29 1h1m3 0h1m6 0h1m7 0h2m2 0h2m1 0h1m-25 1h1m8 0h1m7 0h1m2 0h1m3 0h1m1 0h1m1 0h1m-35 1h1m1 0h1m7 0h1m3 0h1m1 0h1m4 0h1m1 0h1m1 0h1m18 0h1m-46 1h1m7 0h2m7 0h1m4 0h1m2 0h5m1 0h2m3 0h1m-31 1h4m4 0h2m1 0h1m4 0h1m4 0h2m1 0h1m1 0h1m4 0h2m-33 1h1m2 0h1m18 0h1m11 0h1m-37 1h1m7 0h1m3 0h1m1 0h1m1 0h1m1 0h1m5 0h1m10 0h1m-31 1h2m3 0h1m4 0h1m7 0h1m9 0h1m-34 1h1m2 0h1m3 0h1m2 0h1m10 0h1m1 0h1m7 0h1m1 0h2m-41 1h1m6 0h1m1 0h1m3 0h1m2 0h1m6 0h1m14 0h2m-33 1h1m3 0h1m2 0h1m18 0h1m11 0h1m-38 1h1m7 0h3m7 0h1m-13 1h1m3 0h1m1 0h1m5 0h1m6 0h2m-21 1h1m6 0h1m2 0h2m11 0h1m-65 1h1m38 0h1m4 0h1m53 0h1m-1 1h1m-104 1h1m46 0h1m54 0h1m-72 1h1m66 1h1m-92 3h1m62 0h1m-20 2h1m23 0h1m24 0h1m-26 1h2m1 0h1m21 0h1m-2 3h1m-76 2h1m74 0h1m-30 2h1m26 0h1m-3 1h1m-1 3h1m-62 1h1m5 0h1m23 0h1m2 0h1m21 0h1m4 0h1m-77 1h1m15 0h1m31 0h1m1 0h1m2 0h1m20 0h1m-26 1h2m1 0h1m19 0h1m-72 1h1m44 0h1m5 0h1m1 0h2m-11 1h1m1 0h1m6 0h1m10 0h1m-16 1h1m3 0h1m-2 1h1m-9 1h1m2 0h1m2 0h1m2 0h1m3 0h1m6 0h1m-66 1h1m43 0h3m1 0h1m2 0h1m3 0h1m2 0h1m5 0h2m-23 1h1m1 0h1m3 0h2m5 0h2m1 0h1m5 0h1m-22 1h1m4 0h4m1 0h2m-9 1h5m3 0h4m-9 1h1m1 0h1m3 0h1m-9 1h3m7 0h1m3 0h1m-19 1h1m5 0h1m-5 1h1m3 0h1m7 0h2m-14 1h2m10 0h4m-16 1h2m11 0h2m-127 1h1m1 0h1m97 0h2m22 0h1m-125 2h1m106 0h1m-7 2h1m-55 4h2m52 1h1m18 0h1m-102 1h1m100 0h1m-51 3h1m42 2h1m-33 2h1m-1 2h1m22 4h1m-8 2h1m3 1h1m-2 1h1m-3 1h1m-128 1h1m3 0h1m121 0h1m-4 2h1m-120 1h1m117 0h1m-120 1h2m115 0h1m-5 3h1m-112 2h1m10 0h1m27 2h1m62 0h1m-3 1h2m-91 1h1m-4 2h1m73 0h1m2 0h1m-82 1h1m2 0h1m44 0h1m4 0h2m8 0h1m4 0h1m16 0h1m-34 1h1m2 0h1m13 0h1m-72 1h1m5 0h1m66 0h1m2 0h1m-77 1h1m-1 1h1m4 0h1m34 0h2m-34 1h1m20 0h1m-13 2h1m4 0h1m-6 2h1m1 0h1" stroke="#cde11d"/>
<path d="m122 19h1m7 7h1m-45 12h1m1 2h1m-3 1h3m27 0h1m-1 1h3m-19 1h2m15 0h1m-22 1h3m3 0h1m14 0h1m-22 1h3m1 0h1m2 0h1m4 0h1m2 0h1m5 0h3m-37 1h1m11 0h6m1 0h2m4 0h1m1 0h2m5 0h1m-23 1h1m1 0h3m1 0h1m4 0h1m1 0h1m1 0h1m3 0h2m1 0h3m-36 1h1m3 0h1m3 0h1m2 0h7m6 0h2m9 0h1m-56 1h1m22 0h1m7 0h4m2 0h1m9 0h1m2 0h1m1 0h1m4 0h1m-33 1h1m2 0h2m1 0h3m1 0h1m1 0h2m8 0h2m2 0h2m-25 1h5m1 0h2m2 0h1m3 0h1m5 0h1m1 0h1m5 0h2m-29 1h1m2 0h2m2 0h4m1 0h1m5 0h1m1 0h3m-22 1h2m1 0h2m1 0h7m14 0h1m-24 1h1m4 0h3m9 0h1m-27 1h1m5 0h1m8 0h1m1 0h1m10 0h1m9 0h1m-38 1h1m1 0h1m29 0h1m-21 1h1m-5 2h2m-5 1h1m1 0h2m52 5h1m-5 12h1m1 0h1m-4 2h1m-7 1h1m-25 2h1m1 0h1m-3 1h2m2 0h1m-5 1h5m-6 1h1m1 0h4m1 0h1m-9 1h5m1 0h3m2 0h1m12 0h1m-25 1h6m1 0h1m3 0h1m8 0h1m-20 1h2m1 0h2m2 0h1m1 0h1m1 0h1m-11 1h1m1 0h2m1 0h2m2 0h1m-11 1h3m2 0h3m-9 1h1m1 0h2m3 1h3m-8 1h1m3 0h1m1 0h1m-10 3h1m17 0h1m-130 2h1m115 0h1m8 0h1m2 0h1m-3 1h2m-1 1h1m-2 1h1m-3 1h1m0 1h1m-77 2h2m10 1h1m-44 5h1m43 3h1m34 8h1m-27 9h1m-100 1h1m118 1h1m-98 2h1m91 1h1m-6 2h1m-12 2h1m-93 2h1m42 1h1m20 0h1m-13 1h1m8 0h1m6 0h1m10 0h1m-7 1h1m-49 1h1m52 0h1m-36 1h1m-12 1h2m-23 1h1m16 0h1m-4 1h1m-12 2h1m1 1h2" stroke="#efe51c"/>
</g><use href="#grid"/></g>
<text class="ax" x="110" y="1182.0" text-anchor="end">22°S</text>
<text class="ax" x="110" y="1285.8" text-anchor="end">24°S</text>
<text class="ax" x="110" y="1389.5" text-anchor="end">26°S</text>
<text class="ax" x="110" y="1493.3" text-anchor="end">28°S</text>
<text class="ax" x="110" y="1597.0" text-anchor="end">30°S</text>
<text class="ax" x="110" y="1700.8" text-anchor="end">32°S</text>
<text class="ax" x="110" y="1804.6" text-anchor="end">34°S</text>
<text class="ax" x="332.1" y="1914.8" text-anchor="middle">20°E</text>
<text class="ax" x="560.2" y="1914.8" text-anchor="middle">25°E</text>
<text class="ax" x="788.2" y="1914.8" text-anchor="middle">30°E</text>
<path d="M119.55000000000001 1169.8H131.05M119.55000000000001 1273.6H131.05M119.55000000000001 1377.3H131.05M119.55000000000001 1481.1H131.05M119.55000000000001 1584.8H131.05M119.55000000000001 1688.6H131.05M119.55000000000001 1792.4H131.05M332.1 1868.5v11.5M560.2 1868.5v11.5M788.2 1868.5v11.5" stroke="#333" stroke-width="4.45" fill="none"/>
<rect x="982.1" y="1072.1" width="826.8" height="68.9" fill="#d9d9d9"/>
<text class="st" x="1395.5" y="1118.9" text-anchor="middle">ub</text>
<rect x="982.1" y="1140.9" width="826.8" height="727.6" fill="#ebebeb"/>
<path d="M982.1 1169.8H1808.9M982.1 1273.6H1808.9M982.1 1377.3H1808.9M982.1 1481.1H1808.9M982.1 1584.8H1808.9M982.1 1688.6H1808.9M982.1 1792.4H1808.9M1182.5 1140.9V1868.5M1410.6 1140.9V1868.5M1638.6 1140.9V1868.5" stroke="#fff" stroke-width="4.45" fill="none"/>
<g transform="translate(1182.55 1169.80) scale(3.8004 4.3233)"><use href="#sil" fill="#440154" shape-rendering="crispEdges"/>
<g class="c" transform="translate(0 .5)">
<path d="m117 1h1m4 4h1m3 0h1m-1 1h1m6 1h1m-6 2h1m-21 2h1m6 0h1m6 0h1m2 1h1m-7 4h1m1 0h1m-13 1h1m11 0h1m-32 1h1m7 0h1m11 0h1m6 0h1m7 0h1m-7 1h1m-8 1h1m12 0h1m-13 1h1m-6 1h1m5 0h1m3 0h1m4 0h1m2 0h1m3 0h1m-11 1h1m5 0h1m-26 1h1m1 0h2m12 0h1m5 0h1m-38 1h1m25 0h1m1 0h1m-24 1h1m5 0h1m19 0h1m6 0h1m3 0h1m-45 1h1m31 0h1m4 0h2m-36 1h1m5 0h1m7 0h1m13 0h1m3 0h2m1 0h1m-40 1h1m1 0h1m26 0h1m3 0h2m-34 1h1m6 0h1m1 0h1m11 0h1m13 0h1m-37 1h1m9 0h1m11 0h1m10 0h1m-35 1h1m5 0h1m9 0h1m-18 1h1m27 0h1m5 0h1m19 0h1m-51 1h1m2 0h1m14 0h1m14 0h1m12 0h1m-55 1h1m17 0h1m4 0h1m3 0h2m5 0h1m6 0h1m11 0h1m6 0h1m-60 1h1m16 0h1m2 0h1m13 0h1m-42 1h1m42 0h1m1 0h1m24 0h1m-67 1h1m54 0h1m2 0h1m-134 1h1m130 0h1m11 1h1m-69 1h1m64 0h1m-67 1h1m53 0h1m7 0h2m-65 1h1m63 0h1m-65 1h1m-17 1h1m5 0h1m69 0h1m5 0h1m-96 1h1m13 0h1m65 0h1m18 0h1m-103 1h1m16 0h1m12 0h2m-21 1h1m8 0h1m-29 1h1m38 0h1m2 0h1m54 0h1m-86 1h1m2 0h1m6 0h1m2 0h2m-27 1h1m22 0h1m74 0h1m-80 1h1m-6 1h1m9 0h2m-7 1h1m4 0h1m3 0h1m-28 1h1m12 0h1m24 0h1m-21 1h1m12 0h1m5 0h1m-23 1h1m21 0h1m2 0h1m6 0h1m-26 1h1m11 0h1m4 0h1m4 0h1m1 0h1m-72 1h1m43 0h1m6 0h1m16 0h1m49 0h1m-67 1h1m-12 1h1m1 0h1m6 0h2m15 0h1m-26 1h1m59 0h1m-78 1h1m12 0h1m6 0h1m3 0h1m31 0h1m22 0h1m11 0h1m14 0h1m-87 1h1m12 0h1m17 0h1m1 0h1m12 0h1m7 0h1m2 0h1m24 0h1m-82 1h1m4 0h1m3 0h1m27 0h1m18 0h2m1 0h1m18 0h2m7 0h1m-103 1h1m32 0h1m25 0h1m46 0h1m-94 1h1m1 0h1m16 0h1m65 0h1m6 0h1m-91 1h1m9 0h1m4 0h1m62 0h1m9 0h1m-137 1h2m41 0h1m14 0h1m2 0h1m3 0h1m23 0h2m39 0h1m-91 1h1m5 0h1m44 0h1m-54 1h3m2 0h1m45 0h1m2 0h1m12 0h1m21 0h2m-92 1h2m8 0h1m3 0h2m8 0h1m64 0h1m1 0h1m3 0h1m-111 1h1m8 0h1m15 0h2m44 0h1m31 0h1m-42 1h1m3 0h1m17 0h1m26 0h1m1 0h1m-98 1h1m37 0h1m26 0h1m-76 1h1m19 0h2m3 0h1m49 0h1m14 0h1m14 0h1m3 0h1m-98 1h1m13 0h1m18 0h1m57 0h1m-114 1h1m28 0h1m23 0h1m32 0h1m25 0h1m-104 1h1m12 0h1m12 0h1m40 0h1m33 0h1m-109 1h1m6 0h1m77 0h1m-85 1h1m14 0h1m13 0h1m4 0h1m46 0h1m25 0h1m-101 1h1m100 0h1m-148 1h1m52 0h3m3 0h1m7 0h1m-13 2h1m-2 1h1m14 0h1m-4 1h1m18 0h1m-43 1h1m9 0h1m15 0h1m-59 1h1m84 0h1m-22 1h1m17 0h1m-50 1h1m17 0h1m2 0h2m10 0h1m4 0h1m-82 1h1m74 0h1m16 0h1m-87 1h1m40 0h1m19 0h1m14 0h1m4 0h1m5 0h2m-35 1h1m21 0h1m2 0h2m-18 1h1m6 0h1m17 0h1m-104 1h1m8 0h1m6 0h1m3 0h1m3 0h1m4 0h2m3 0h1m11 0h1m19 0h1m3 0h1m32 0h1m-96 1h1m1 0h1m2 0h1m11 0h1m62 0h1m12 0h1m2 0h1m-90 1h1m15 0h1m29 0h1m1 0h1m18 0h2m11 0h1m-47 1h1m17 0h1m8 0h1m2 0h1m11 0h1m3 0h1m-68 1h1m9 0h1m3 0h1m29 0h1m12 0h1m3 0h2m5 0h1m22 0h1m-104 1h1m1 0h1m6 0h1m11 0h1m1 0h1m12 0h1m9 0h1m2 0h1m12 0h1m5 0h1m13 0h1m-87 1h1m38 0h2m1 0h1m1 0h1m8 0h1m6 0h1m23 0h1m3 0h1m2 0h1m-83 1h1m4 0h1m8 0h1m34 0h1m1 0h1m7 0h1m3 0h1m16 0h1m-53 1h1m3 0h1m13 0h1m5 0h1m1 0h1m1 0h1m25 0h1m13 0h1m18 0h1m-101 1h1m29 0h1m9 0h1m1 0h1m10 0h1m9 0h1m15 0h1m22 0h1m-115 1h2m12 0h1m8 0h1m4 0h1m5 0h1m15 0h1m23 0h1m1 0h2m-83 1h1m1 0h1m28 0h1m6 0h1m19 0h1m24 0h1m32 0h1m2 0h1m-106 1h2m18 0h1m26 0h1m5 0h1m5 0h3m1 0h2m2 0h1m1 0h1m1 0h1m33 0h1m-117 1h1m25 0h1m12 0h1m25 0h1m-50 1h1m26 0h1m2 0h1m6 0h1m-46 1h1m16 0h1m6 0h1m8 0h2m15 0h2m13 0h1m-73 1h1m5 0h1m30 0h1m4 0h1m5 0h1m5 0h1m6 0h1m6 0h1m-68 1h2m8 0h1m6 0h1m8 0h1m3 0h1m63 0h1m-103 1h1m4 0h1m19 0h1m3 0h2m10 0h1m1 0h2m3 0h1m7 0h1m13 0h1m4 0h1m39 0h1m-93 1h1m12 0h2m8 0h1m-65 1h2m10 0h1m28 0h1m6 0h1m6 0h1m7 0h1m2 0h1m14 0h1m3 0h1m4 0h1m3 0h2m16 0h1m4 0h1m-93 1h1m20 0h1m12 0h1m30 0h1m23 0h2m10 0h1m1 0h1m-88 1h1m12 0h1m5 0h1m33 0h1m8 0h1m7 0h1m4 0h1m5 0h1m5 0h1m1 0h1m-103 1h1m37 0h2m15 0h1m3 0h1m13 0h1m-97 1h1m25 0h2m12 0h1m31 0h1m2 0h1m4 0h1m5 0h1m11 0h1m-26 1h1m5 0h1m7 0h1m15 0h1m5 0h1m-111 1h1m1 0h1m24 0h1m10 0h1m7 0h1m16 0h1m46 0h2m-86 1h2m3 0h1m9 0h1m2 0h1m22 0h1m30 0h2m2 0h2m-53 1h1m40 0h1m-94 1h1m7 0h2m14 0h1m5 0h1m36 0h1m1 0h1m1 0h2m10 0h1m14 0h1m-101 1h1m1 0h1m2 0h1m36 0h2m5 0h1m50 0h1m-73 1h1m24 0h1m36 0h1m12 0h1m-54 1h1m60 0h1m-103 1h1m2 0h1m20 0h1m12 0h1m67 0h1m-113 1h1m1 0h1m7 0h2m6 0h1m74 0h1m3 0h2m1 0h1m-101 1h2m2 0h1m20 0h1m23 0h1m2 0h1m34 0h1m-91 1h1m46 0h1m11 0h1m42 0h2m5 0h1m2 0h1m-104 1h1m10 0h1m9 0h1m15 0h1m5 0h1m39 0h1m7 0h1m-100 1h1m18 0h1m26 0h1m5 0h2m30 0h1m13 0h1m4 0h1m-101 1h1m13 0h1m65 0h1m-80 1h1m22 0h1m1 0h1m20 0h1m6 0h1m-40 1h1m4 0h1m59 0h2m-67 1h1m2 0h1m23 0h1m45 0h1m8 0h1m-81 1h2m19 0h1m3 0h2m5 0h1m-23 1h1m-18 1h1m16 0h1m10 0h1m12 0h1m1 0h1m-43 1h1m11 0h1m1 0h1m2 0h1m13 0h1m3 0h2m-26 1h1m7 0h1m40 0h1m-37 2h1m-26 2h1m13 0h1m2 0h1m-13 2h1" stroke="#481c6e"/>
<path d="m135 4h1m-4 1h1m-15 3h1m12 3h1m-10 2h1m5 0h1m-9 1h1m-14 1h1m12 0h1m-13 1h1m1 0h1m7 1h1m3 0h2m-27 3h1m1 0h1m9 3h1m9 2h1m3 0h1m-30 1h1m11 0h1m22 0h1m-47 1h1m13 0h1m34 0h1m-38 1h1m2 0h1m28 0h1m-14 1h2m3 0h1m14 0h1m-57 1h1m19 0h1m-15 1h1m10 0h1m-10 1h1m6 0h1m1 0h1m24 0h1m-37 1h1m2 0h1m28 0h1m-2 1h1m-42 1h1m9 0h1m12 0h1m4 0h1m28 0h1m6 0h1m-40 1h1m5 0h1m12 0h1m23 0h1m-39 1h1m-11 1h1m4 0h1m11 0h1m16 0h1m-53 1h1m21 0h1m4 0h1m7 0h1m12 0h1m1 0h1m6 0h1m3 0h2m-12 1h1m-23 1h1m-31 1h1m-8 1h1m66 0h1m-74 2h1m8 0h1m66 0h1m-65 1h1m1 1h1m-23 1h1m17 0h1m2 0h1m4 0h1m-39 1h1m-2 1h1m4 0h1m2 0h1m2 0h1m-2 1h1m8 0h2m-21 1h1m9 0h1m-18 1h1m16 0h1m2 1h1m14 0h1m16 0h1m-84 1h1m46 1h1m29 0h1m5 0h1m58 1h1m-139 1h1m45 0h1m22 0h1m-31 1h1m11 0h1m11 0h1m54 0h1m-68 1h1m11 0h1m3 0h2m51 0h1m-71 1h1m4 0h1m11 0h1m-19 1h1m13 0h1m19 0h1m17 0h1m-60 1h1m2 0h1m25 0h1m29 0h1m29 0h1m-73 1h1m8 1h1m13 0h1m8 0h1m36 0h1m-49 1h1m53 0h2m-135 1h1m56 0h1m5 0h1m1 0h1m16 0h1m2 0h1m-41 1h1m84 0h2m-141 1h1m66 0h1m2 0h1m24 0h1m49 0h1m-91 1h1m11 0h1m17 0h1m5 0h1m-36 2h1m40 0h1m2 0h1m-90 2h1m27 0h1m6 0h1m63 0h1m21 0h1m6 0h1m2 0h1m-131 1h2m42 0h1m5 0h1m45 0h1m1 0h1m1 0h1m20 0h1m7 0h1m-83 1h1m48 0h1m25 0h1m-78 1h1m22 0h1m26 0h1m29 0h1m-81 1h1m3 0h1m51 0h1m-22 1h1m10 0h1m11 0h1m15 0h1m5 0h1m-145 1h1m27 0h1m59 0h1m17 0h1m6 1h1m-122 1h1m58 0h1m1 0h1m9 0h1m24 0h1m-36 1h1m15 0h1m1 0h1m65 1h1m-57 1h1m-42 2h1m26 0h1m1 0h1m21 0h1m-80 1h1m74 0h1m-79 1h1m57 0h1m1 0h1m9 0h1m10 0h1m-49 1h1m12 0h1m14 0h1m12 0h1m1 0h1m1 0h2m-52 1h1m44 0h1m-22 1h1m8 0h1m12 0h1m-85 1h1m1 0h1m35 0h1m48 0h1m-88 1h1m3 0h1m36 0h1m16 0h1m6 0h1m25 0h1m-94 1h1m12 0h1m44 0h1m37 0h2m-42 1h1m7 0h1m-25 1h1m54 0h1m-96 1h1m15 0h1m-10 1h1m10 0h1m5 0h1m3 0h1m1 0h1m13 0h1m6 0h1m18 0h1m5 0h1m4 0h1m3 0h1m12 0h1m-25 1h1m60 0h1m-114 1h1m2 0h1m41 0h1m14 0h1m15 0h1m-93 1h1m42 0h2m1 0h1m13 0h2m13 0h1m19 0h1m-60 1h1m13 0h1m18 0h1m20 0h1m-35 1h1m3 0h1m4 0h1m15 0h1m1 0h1m44 0h1m-122 1h1m1 0h1m1 0h1m6 0h1m21 0h1m48 0h1m35 0h1m-74 1h1m8 0h1m7 0h1m10 0h1m1 0h1m7 0h1m36 0h1m-106 1h1m41 0h1m1 0h2m11 0h1m46 0h1m-105 1h1m23 0h1m37 0h1m-37 1h1m-31 1h1m3 0h1m19 0h1m3 0h1m6 0h1m22 0h1m5 0h2m33 0h1m-101 1h2m16 0h1m17 0h1m-55 1h1m17 0h1m5 0h1m13 0h1m29 0h3m22 0h1m27 0h2m-124 1h1m35 0h1m12 0h1m4 0h1m17 0h1m30 0h1m8 0h1m5 0h1m-120 1h2m37 0h1m14 0h1m66 0h1m-129 1h1m32 0h1m19 0h1m34 0h1m25 0h1m-74 1h1m74 0h1m3 0h1m5 0h1m-96 1h1m13 0h1m32 0h1m6 0h1m37 0h1m-79 1h1m37 0h1m2 0h1m19 0h1m2 0h1m-87 1h1m35 0h1m19 0h1m-79 1h1m67 0h1m-72 1h2m29 0h1m44 0h1m5 0h1m6 0h1m-89 1h1m1 0h1m17 0h1m4 0h1m7 0h1m-38 1h1m1 0h1m28 0h1m55 0h1m-66 1h1m22 0h1m55 0h1m-57 1h1m3 0h1m52 0h1m9 0h1m-61 1h1m11 0h1m-57 1h1m2 0h1m82 0h1m-85 1h1m36 0h1m50 0h1m16 0h1m-108 1h1m4 0h1m38 0h1m1 0h1m50 0h2m-57 1h1m62 0h1m-109 1h1m88 0h1m6 0h1m-89 1h1m1 0h1m74 0h1m7 0h1m5 0h1m2 0h1m1 1h1m-108 1h2m39 0h1m-44 1h1m103 0h1m-69 1h1m9 0h1m42 0h1m11 1h1m-61 1h1m4 0h1m-22 1h1m54 0h1m9 0h1m-74 1h1m7 0h1m15 0h1m5 0h1m-10 1h1m3 0h1m23 0h1m-48 1h1m37 0h1m3 0h1m-24 1h1m-17 1h1m4 0h1m1 1h1m-13 2h1m3 1h1m-8 2h3m3 0h1" stroke="#472d7b"/>
<path d="m130 6h1m-4 1h1m-14 5h1m7 0h1m-3 1h1m-13 1h1m13 2h1m-5 2h1m3 0h1m-4 3h1m-5 1h1m-14 1h1m-10 1h1m17 0h1m0 3h1m-30 1h1m15 0h1m8 0h1m15 0h1m-24 1h1m24 0h1m-15 1h1m4 0h1m4 0h1m5 0h2m1 0h1m-36 1h1m5 0h1m-13 1h1m20 1h1m7 1h1m13 0h1m-28 2h1m18 0h1m-49 2h1m0 1h1m23 0h1m19 0h1m-50 2h1m9 2h1m50 0h1m-68 2h1m13 1h1m50 1h1m-84 1h1m8 0h1m-4 1h2m3 0h1m12 0h1m-24 1h1m80 0h1m-74 1h1m14 0h1m-28 1h1m6 0h1m6 0h1m-11 1h1m-48 1h1m-3 1h1m42 0h1m22 0h1m-21 1h1m24 0h1m12 0h1m-39 1h1m5 0h1m15 0h1m0 1h1m-20 1h1m3 0h1m68 0h1m21 0h1m-83 1h1m-9 1h1m15 0h1m-28 1h1m4 0h1m70 0h1m-62 1h1m25 0h1m48 0h1m-90 1h1m4 0h1m12 0h1m59 0h1m8 0h1m11 0h1m-81 1h1m10 0h1m14 0h1m51 0h1m-95 1h1m24 0h1m-65 1h1m59 0h1m41 0h1m26 0h1m1 0h1m4 0h1m-137 1h1m65 0h1m20 0h1m-45 1h1m16 0h1m24 0h1m-39 1h1m11 0h1m18 0h1m46 0h1m6 0h1m-86 1h1m10 0h2m33 0h1m-48 1h1m67 0h1m13 0h1m4 0h1m-97 1h1m45 0h1m32 0h1m10 0h2m7 1h1m-60 1h1m15 0h1m-92 1h1m28 0h1m15 0h1m39 0h1m-62 1h1m22 0h1m17 0h1m29 0h1m-76 1h1m24 0h1m3 0h1m19 0h1m20 0h1m8 1h1m-50 1h1m71 0h1m-158 2h1m2 0h1m82 2h1m11 1h1m-16 1h1m23 1h1m-24 1h1m18 0h1m2 0h1m2 1h1m-87 2h1m77 0h1m-18 1h1m11 0h1m2 0h1m2 0h2m-32 1h1m-61 1h1m4 0h1m1 0h1m88 0h1m-92 1h1m72 0h1m-10 1h1m-55 1h1m61 0h1m55 0h1m-114 1h1m43 0h1m14 1h1m32 0h1m21 0h1m-118 1h1m39 0h1m22 0h1m3 0h1m5 0h1m7 0h1m35 0h1m-46 1h1m7 0h1m-86 1h1m42 0h1m22 0h1m10 0h1m10 0h1m-84 1h1m49 0h1m12 0h1m10 0h1m41 0h1m-100 1h1m6 1h1m29 0h1m10 0h1m-75 1h1m4 0h1m69 0h2m16 0h1m5 0h1m9 0h1m1 0h1m-69 1h1m8 0h1m6 0h1m19 0h2m-73 1h1m64 0h1m26 0h1m-80 1h1m50 0h1m41 0h1m-77 1h1m34 0h1m19 0h1m-58 1h1m-46 1h1m22 0h1m30 0h1m54 0h1m-91 1h1m11 0h1m18 0h1m0 1h1m7 0h1m38 0h1m1 0h1m-110 1h1m22 0h1m55 0h1m3 0h1m1 0h1m24 0h2m-108 1h1m38 0h1m2 0h1m11 0h1m30 0h1m19 0h1m18 0h1m-13 1h2m9 0h1m2 0h1m-72 1h1m14 0h1m31 0h1m-103 1h1m5 0h1m15 0h1m15 0h1m-41 1h1m87 0h1m3 0h1m14 0h1m3 0h1m-72 1h1m39 0h1m24 0h1m-71 1h1m48 0h1m24 1h1m4 0h1m-109 1h1m42 0h1m60 0h1m-112 1h1m4 0h1m1 0h1m85 0h1m-93 1h1m101 0h1m-95 2h1m103 0h1m-80 1h1m75 0h1m-111 1h1m6 0h1m43 0h1m3 0h1m-13 1h1m51 0h1m7 0h1m-102 1h1m2 0h1m14 0h1m15 0h1m-20 1h1m34 0h1m37 0h1m-85 1h1m96 1h1m3 0h1m-4 1h1m-83 1h1m1 0h1m3 1h1m1 0h1m-15 1h1m2 0h1m19 0h1m14 0h1m-47 1h1m7 0h1m11 0h1m-14 1h1m24 1h1m-10 1h2m-14 1h1m-7 1h1m18 0h1m1 0h1m1 1h1m4 0h1m-30 1h1" stroke="#443b84"/>
<path d="m125 7h1m-4 7h1m2 3h1m-5 1h1m-10 4h1m2 3h1m-9 1h1m-6 1h1m6 1h1m15 0h1m2 1h1m-41 2h1m1 0h1m29 0h1m-34 1h1m28 0h1m-23 1h1m26 0h1m-35 2h1m13 0h1m32 1h1m-5 1h1m-31 1h1m12 0h1m12 0h1m-52 1h1m56 0h1m-27 1h1m18 0h2m3 1h1m-50 1h1m41 0h1m7 0h1m-68 3h1m-6 1h1m13 0h1m51 0h1m-67 1h1m6 1h1m7 0h1m55 0h1m-57 1h1m-33 2h1m16 0h1m16 2h1m-26 1h1m16 0h1m-12 1h1m5 0h1m19 1h1m-32 1h1m14 1h1m13 0h1m63 0h1m-82 1h1m9 0h1m56 0h1m-65 1h1m9 0h1m47 0h1m21 0h1m-21 1h1m-81 1h2m18 0h1m19 0h2m20 0h1m14 0h1m-38 1h2m13 0h1m25 0h1m4 0h1m2 0h1m-96 1h1m33 0h1m16 0h1m29 0h1m16 0h1m-54 1h1m15 0h1m-18 1h2m10 0h1m15 0h1m20 0h1m3 0h1m-44 1h1m48 0h1m-91 1h1m13 0h1m4 0h1m9 0h1m9 0h1m21 0h1m26 0h1m-52 1h1m-44 1h1m95 1h1m-93 1h1m79 0h1m-34 1h1m14 0h1m5 0h1m2 1h1m19 0h1m-45 2h1m5 0h1m2 0h2m-55 1h1m56 0h1m20 0h1m-165 1h1m25 0h1m87 0h1m47 0h1m-84 1h1m36 0h1m11 0h1m-59 1h1m52 0h1m-22 1h1m-91 1h1m153 0h1m1 0h1m-83 1h1m6 0h1m28 0h1m-19 1h1m9 2h1m-12 1h1m-33 2h1m4 0h1m17 0h1m22 1h1m-19 1h1m13 0h1m-93 2h1m4 0h1m60 0h1m22 0h1m1 0h1m-24 1h1m11 0h1m-62 1h1m50 0h1m-72 1h1m10 0h1m24 0h1m13 0h1m38 0h1m-81 2h1m41 0h1m-27 1h1m47 0h1m12 0h1m46 0h1m-108 2h1m28 0h1m27 1h1m-19 1h1m29 0h1m28 0h1m-109 1h1m22 0h1m20 0h1m46 0h2m21 0h1m-79 1h1m57 0h1m24 0h1m-93 1h1m41 0h1m12 0h1m4 0h1m-48 1h1m-30 1h1m4 0h1m32 0h1m36 0h1m6 0h1m-97 1h1m16 0h1m8 0h1m19 0h1m15 0h1m13 0h2m8 0h1m-90 1h1m11 0h1m33 0h1m68 0h1m-97 1h1m59 0h2m10 0h1m-75 1h1m31 0h1m27 0h1m9 0h1m11 0h1m-42 1h1m-30 2h1m17 0h1m29 0h1m-2 1h1m17 0h1m14 0h3m-90 1h1m2 1h1m45 0h1m17 0h1m4 0h1m11 0h1m-35 1h1m21 0h1m-109 1h1m20 1h1m17 0h1m-43 1h1m24 0h1m-3 1h1m6 0h1m80 0h1m-87 1h1m78 0h1m-33 2h1m-74 1h1m99 1h1m1 0h1m-57 1h1m50 0h1m2 0h1m2 0h1m-97 1h1m1 0h1m25 0h1m68 0h1m-15 1h1m-78 1h1m95 0h1m-109 1h1m29 0h1m62 0h1m-99 1h1m19 0h1m-17 1h1m5 0h1m-3 1h1m39 0h1m56 0h1m-57 1h1m-29 2h1m-1 1h1m-2 1h1m28 0h1m-29 1h1m2 0h1m24 0h1m8 0h1m-44 1h1m2 0h1m6 0h1m-3 1h1m19 1h1m33 0h1m-49 1h1m3 0h1m1 0h1m-17 3h1m5 0h1m-9 2h1" stroke="#3e4a89"/>
<path d="m129 10h1m-16 1h1m10 0h1m-5 3h1m8 6h1m-15 2h1m-6 1h1m-17 1h1m10 0h1m10 3h1m-28 2h1m22 2h1m-30 1h1m26 0h1m1 0h1m5 1h1m-38 1h1m26 0h1m-21 1h1m4 0h1m21 0h1m-29 1h1m27 0h1m2 0h2m-25 1h1m-18 3h1m49 0h1m2 0h1m-10 1h2m3 0h1m13 0h1m-61 1h1m-13 2h1m68 0h1m-67 1h2m-18 1h1m5 0h1m1 0h2m5 0h1m3 0h1m-11 1h1m14 0h1m51 0h1m-75 1h1m3 0h1m13 0h1m4 1h1m47 3h1m-75 2h1m-4 1h1m6 0h1m-3 2h1m9 0h1m-11 1h1m5 0h1m1 1h1m9 0h1m3 0h1m64 0h1m-99 1h1m12 0h1m83 0h1m6 0h1m-89 1h1m13 0h1m1 0h1m30 0h1m21 0h1m-81 1h2m1 0h1m47 0h1m30 0h1m-82 1h1m23 0h1m19 1h1m17 0h1m-70 1h1m10 0h1m8 0h1m11 0h1m16 0h1m1 0h1m7 0h1m-13 1h1m8 0h1m5 0h1m-43 1h1m32 0h1m14 0h1m27 0h1m-71 1h1m5 0h1m17 0h1m35 0h1m-73 2h1m78 0h1m-92 1h1m11 0h1m17 0h1m1 1h1m14 0h1m5 0h2m19 0h1m-26 1h1m41 0h1m4 0h1m-177 1h1m42 0h2m33 0h1m20 0h1m28 0h2m-42 1h2m35 0h1m1 0h1m10 0h1m5 0h1m13 0h1m11 0h1m2 1h1m-51 1h1m-15 1h1m26 0h1m-27 1h1m-24 1h1m-83 1h1m90 1h1m-11 1h1m11 0h1m61 0h1m-75 1h1m9 0h1m7 0h1m-17 1h1m23 0h1m-7 1h1m-32 1h1m41 0h1m-42 1h1m20 0h1m19 0h1m-26 1h1m4 1h2m7 0h1m1 0h1m8 0h1m-14 2h1m5 0h1m2 0h1m-31 2h1m-54 1h1m45 0h1m-5 1h1m25 0h1m55 0h1m-63 1h1m10 0h1m-75 1h1m6 0h1m34 0h1m7 0h1m-2 1h1m26 0h1m-34 1h1m39 0h1m-32 1h1m17 0h1m5 0h1m-1 1h2m8 0h1m-80 1h1m82 0h1m2 0h1m-87 1h1m1 0h1m39 0h1m19 0h1m23 0h1m9 0h1m-87 1h1m34 0h1m27 0h1m-60 1h1m11 0h1m-9 1h1m62 0h1m-57 1h1m30 0h1m10 0h1m10 0h1m3 0h2m-44 1h1m38 1h1m13 0h1m21 0h1m-66 1h1m57 0h1m-90 1h1m84 0h2m-35 1h1m-60 1h1m11 0h1m71 0h2m-31 1h1m13 1h1m3 0h1m2 0h1m-111 1h1m54 0h1m60 0h1m-1 1h1m-84 1h1m22 1h1m46 0h1m8 0h1m-13 1h1m-52 1h1m-51 1h1m71 0h1m9 0h1m-47 1h1m2 0h1m45 0h1m29 1h1m0 1h1m-6 1h1m4 0h1m-112 1h1m1 0h1m39 1h1m59 0h1m2 0h1m-56 1h1m50 0h1m-5 2h1m1 1h1m-85 1h1m-17 1h1m34 1h1m1 2h1m9 0h1m-38 1h1m24 0h1m-4 1h1m6 1h1m-38 1h1m25 4h1m6 0h1m-26 1h1m-1 2h1m1 1h1" stroke="#38598c"/>
<path d="m122 8h1m-8 4h1m5 0h1m-1 3h1m-15 1h1m1 3h1m14 0h1m-38 3h1m20 1h1m13 0h1m-1 1h1m-40 1h1m19 1h1m-23 1h1m16 0h1m30 0h1m-18 1h1m11 1h1m-9 1h1m15 0h1m-46 1h1m36 0h1m3 0h1m1 0h1m3 1h2m-50 1h1m33 0h1m12 0h1m10 0h1m-59 2h1m22 0h1m1 1h1m15 0h1m1 0h1m-32 1h1m-1 1h1m4 0h1m28 0h1m8 0h2m-42 1h1m23 0h1m1 0h1m0 1h1m-60 2h1m52 0h1m6 0h1m-61 2h1m9 1h1m63 0h1m-65 1h1m47 1h1m-78 1h1m-12 1h1m92 0h1m-94 1h1m16 5h1m11 0h1m-4 2h1m9 0h1m-7 1h1m7 0h1m-19 1h1m13 0h1m52 0h1m-59 1h1m13 0h1m3 0h1m42 0h1m1 0h1m-42 1h1m59 0h1m-97 1h1m28 0h1m29 0h1m12 0h1m6 0h1m-86 1h1m15 0h1m27 0h1m52 0h1m-58 1h1m23 0h1m-31 1h1m1 0h1m30 0h1m-64 1h1m1 0h1m15 0h1m1 0h1m70 0h1m-88 2h1m38 0h1m-87 1h1m57 1h1m27 0h1m-43 1h1m5 0h1m20 0h1m26 0h1m37 0h1m-43 1h1m2 0h1m13 0h1m-39 1h2m14 0h1m3 0h1m8 0h1m13 0h1m-38 1h2m21 0h1m12 0h1m-82 1h1m35 0h1m2 0h1m8 0h1m33 0h1m-36 1h1m3 0h1m1 0h1m27 0h1m10 0h1m-140 1h1m15 0h1m92 0h1m25 0h1m-48 1h1m23 0h1m29 0h1m-146 1h1m65 0h1m44 0h1m-67 1h1m2 0h1m18 0h1m71 0h2m-100 1h1m7 0h1m-61 1h1m5 0h1m104 0h1m37 1h1m5 1h1m-75 1h1m1 1h1m-4 1h1m66 0h1m-64 1h1m14 0h1m-3 1h2m-3 1h1m2 0h1m-5 1h1m-18 2h1m21 0h1m-38 1h1m-22 1h1m51 0h1m-47 1h1m10 0h1m43 0h1m1 0h1m-40 1h1m12 0h1m11 0h1m7 0h1m-65 1h1m56 0h1m10 0h1m1 0h1m-57 1h1m21 0h1m6 1h1m-14 1h1m18 0h1m5 0h1m8 0h1m-87 2h1m90 0h1m-75 1h1m55 0h1m26 0h1m-32 1h1m7 0h1m37 0h1m-41 1h1m47 0h1m1 0h1m-101 1h1m12 0h1m18 0h1m28 0h1m10 0h1m25 0h1m-101 1h1m11 0h1m-30 1h1m50 0h1m28 0h1m9 0h1m-70 1h1m4 0h1m29 0h1m5 0h1m-18 1h1m16 2h1m8 0h1m37 0h1m-88 2h1m46 0h1m13 0h1m10 0h1m-115 2h1m64 0h1m18 0h1m26 1h1m10 0h1m-75 1h1m49 0h1m-62 1h1m46 0h1m-46 1h1m82 0h1m-82 1h1m69 0h1m-36 2h1m1 1h1m26 0h2m9 0h1m-17 1h1m14 0h1m-116 2h1m51 0h1m-53 1h1m52 1h1m51 0h1m-101 2h1m9 0h1m-14 1h1m-4 3h2m19 1h1m9 0h1m-10 1h1m1 0h1m-2 1h1m0 1h1m-7 1h1m16 1h2m50 0h1m-52 1h1m-25 1h1m10 0h1m4 0h1m2 0h1m8 0h1m-29 1h1m1 0h1m3 0h1m6 0h1m13 0h1m1 0h1m-23 2h1m-8 1h1" stroke="#31668e"/>
<path d="m125 13h1m-19 6h1m11 1h1m-9 2h1m8 0h1m-14 2h1m0 1h1m14 2h1m-40 1h1m15 0h1m17 0h1m-21 1h1m26 1h1m0 1h1m-18 1h1m7 0h1m9 0h1m-35 2h1m27 0h1m-41 1h1m25 0h1m13 0h1m2 0h1m-21 1h1m-28 1h1m23 0h1m32 0h1m3 0h1m1 0h1m-29 1h1m26 0h1m-4 1h1m-13 1h1m-50 3h1m-18 2h1m81 0h1m-7 1h1m-67 2h1m57 0h2m-51 1h1m1 0h1m-15 1h1m-19 1h1m27 0h1m-22 1h1m6 1h1m7 0h1m5 0h1m-17 1h1m66 4h1m3 0h1m-59 1h1m5 1h1m49 0h1m-51 1h1m33 0h1m12 0h1m5 0h1m-61 1h1m40 0h1m1 0h2m35 0h1m-93 1h1m58 0h1m-61 1h1m4 0h1m4 0h1m54 0h1m14 0h1m-86 1h1m59 0h1m-26 1h1m5 0h1m30 0h1m7 0h1m-34 1h1m-3 1h1m17 0h1m28 0h1m-75 1h1m12 2h1m1 0h1m3 0h1m-13 1h1m6 0h1m4 0h1m-30 1h1m9 0h1m29 0h1m1 0h1m-50 1h1m51 0h1m20 0h1m-36 1h1m5 0h2m8 0h1m21 0h1m-19 1h1m-63 1h1m11 0h1m23 0h1m6 0h1m4 0h1m2 0h1m6 0h2m27 0h1m-37 1h1m-69 1h1m71 0h1m-136 1h1m83 1h1m1 0h1m3 0h1m-78 1h1m96 1h1m1 0h1m-24 2h1m1 0h1m9 0h1m1 2h1m4 1h1m-7 1h1m-79 4h1m13 0h1m52 2h1m6 1h1m54 1h1m-117 1h1m58 0h1m-68 1h1m6 0h1m25 0h1m18 0h1m-52 1h1m48 0h1m26 0h1m-54 1h1m5 0h1m27 0h1m11 0h1m-4 1h1m39 0h1m-19 1h1m-42 1h1m23 0h1m5 0h1m7 0h1m-6 2h1m35 0h1m-85 1h1m38 0h1m6 0h1m15 0h1m2 0h1m19 0h1m4 0h1m-122 1h1m44 0h1m33 0h1m32 0h1m-43 1h1m-22 1h1m11 0h1m13 0h1m-36 1h1m32 0h1m22 0h1m7 0h1m-39 1h1m43 0h2m1 0h1m-38 1h1m-44 1h1m4 1h1m65 0h1m-34 2h1m9 0h1m-101 1h1m98 1h1m-25 1h1m17 0h1m-8 1h1m3 1h1m-89 3h1m106 0h1m-102 1h1m60 0h1m1 0h1m25 0h1m12 0h1m-78 3h1m56 0h1m14 0h1m-74 2h1m75 0h1m-111 1h1m109 1h1m-98 1h1m5 1h1m82 0h1m-85 1h1m24 0h1m7 1h1m-48 1h1m8 4h1m28 0h1m-22 1h1m5 0h2m10 0h1m-14 1h1m-3 1h1m17 0h1m-30 1h1m22 1h1m-25 2h1" stroke="#2c728e"/>
<path d="m118 3h1m4 9h1m-15 3h1m10 1h1m4 0h1m-18 3h1m8 0h2m6 0h1m-13 5h1m-5 1h1m-18 1h1m21 0h1m-7 1h1m1 0h1m-17 1h1m9 0h1m24 0h1m-48 2h1m37 0h1m-35 1h1m11 0h1m8 0h1m25 0h1m-37 1h1m20 0h2m6 0h1m3 0h1m-35 1h1m33 0h1m1 1h1m-16 1h1m3 1h1m11 1h1m-30 1h1m9 1h1m13 0h1m-53 1h1m1 0h1m62 0h1m-7 1h2m6 0h1m-9 1h1m-9 2h1m-66 3h1m10 0h1m-8 2h1m7 1h1m4 3h1m-14 2h1m12 0h1m-26 1h1m5 0h1m2 0h1m-13 1h1m4 0h1m5 0h1m13 0h1m-12 1h1m78 0h1m-83 2h1m6 2h1m46 0h1m11 0h1m-61 1h1m3 0h1m22 0h1m4 0h1m15 0h1m2 0h1m24 0h1m-32 1h1m18 0h1m-54 1h1m1 0h1m40 0h1m9 1h1m-132 1h1m130 0h1m16 0h1m-2 1h1m-65 1h1m24 0h1m18 0h1m-27 1h1m37 0h1m-176 2h1m104 0h1m11 0h1m9 0h1m44 0h1m7 0h1m-65 1h1m14 0h1m16 0h1m32 0h1m-92 1h1m23 0h1m1 0h1m44 0h1m3 0h1m13 0h1m-87 1h1m41 0h1m-53 1h2m12 0h1m30 0h1m19 0h1m-46 1h1m44 0h1m-79 1h1m69 0h1m-78 1h1m47 0h1m23 0h1m9 0h1m2 0h1m-123 1h1m112 0h1m-129 1h1m68 0h1m35 0h1m-17 3h1m-11 1h1m16 0h1m1 0h1m-3 1h1m12 0h1m-20 1h1m20 1h1m-36 1h1m28 0h1m-77 2h1m46 1h1m10 4h1m-61 1h1m73 0h2m5 1h1m35 0h1m-122 2h1m81 0h1m4 0h1m-80 1h1m37 0h1m14 0h1m39 0h1m-93 1h1m70 0h1m20 0h1m-53 1h1m9 0h1m-7 1h1m46 0h1m-100 1h1m96 0h1m-57 1h1m73 0h1m7 0h1m-121 1h1m69 0h1m32 0h1m-65 1h1m21 0h1m25 0h1m11 0h1m-66 1h1m11 0h1m30 0h1m6 0h1m2 0h1m16 0h1m5 0h1m5 0h1m-46 1h1m7 0h1m21 0h1m8 0h1m1 0h1m-80 2h1m23 0h1m27 0h1m-72 2h1m88 0h1m7 0h1m-68 1h1m47 1h1m-74 1h1m16 0h1m52 0h1m6 1h1m-77 1h1m12 0h1m61 1h1m-112 1h1m13 0h1m23 1h1m52 0h1m1 0h1m-36 1h1m-14 2h1m-58 4h1m113 1h2m-6 1h1m-13 1h1m-85 1h1m87 1h1m-92 4h1m10 1h1m22 1h1m-33 1h1m7 1h1m39 0h1m26 0h1m-40 2h1m14 0h1m-44 1h1m2 0h1m15 0h1m7 0h1m-32 1h1m11 1h1" stroke="#277e8e"/>
<path d="m125 8h1m-5 1h1m1 2h1m-5 3h1m5 0h1m-21 6h1m-6 5h1m1 0h1m10 0h1m6 0h1m2 1h1m-36 2h1m35 2h1m-36 2h1m33 0h3m7 0h1m-7 2h1m6 1h1m-56 2h1m32 0h1m2 0h1m7 1h1m11 1h1m6 0h1m-45 1h1m45 0h1m-69 1h1m60 0h2m5 0h1m-61 1h1m38 1h1m-56 1h1m-4 1h1m77 2h1m-65 1h1m-18 1h1m8 0h1m-12 1h1m12 0h1m6 0h1m-16 1h1m9 1h1m-5 2h2m1 0h1m-4 1h1m9 0h1m1 0h1m-2 1h1m-22 1h1m5 0h1m15 0h1m-5 1h1m-18 1h1m6 0h1m9 0h1m-11 2h1m12 0h1m28 0h1m37 0h1m-28 1h1m-58 1h1m27 0h1m4 0h1m23 0h2m10 0h1m-49 1h1m20 0h1m-49 1h1m39 0h1m7 0h1m17 0h1m6 0h1m-73 1h1m86 0h1m-52 1h1m1 0h1m17 0h1m23 0h1m-133 1h1m92 0h1m12 1h1m18 0h1m-64 1h1m21 0h1m14 0h1m-42 1h1m75 0h2m2 0h1m-81 1h1m2 0h1m-24 1h1m2 0h1m17 0h2m21 0h3m52 0h1m-61 1h1m12 0h1m8 0h1m14 0h1m-43 1h2m14 0h1m5 0h1m38 0h1m-62 1h1m2 0h1m14 0h1m-42 1h1m37 0h1m3 0h2m31 0h1m6 0h1m-81 1h1m2 0h1m44 0h1m5 0h1m25 0h1m-79 1h1m-22 1h1m23 0h1m2 0h1m7 0h2m34 0h1m-122 1h1m141 0h1m-71 1h1m4 0h1m10 0h1m-15 4h1m11 2h1m-2 1h1m0 2h1m4 0h1m-19 1h1m5 1h1m-18 2h1m25 0h1m-77 1h1m79 0h1m-78 1h1m35 0h1m7 0h1m36 1h1m-46 1h1m24 0h1m13 0h1m19 0h1m11 0h1m-56 1h1m-54 2h1m5 0h1m33 1h1m5 1h1m11 1h1m31 0h1m26 1h1m2 0h1m-102 1h1m18 0h1m46 0h1m-70 2h1m68 0h1m-76 1h1m24 0h1m4 0h1m34 0h1m12 0h1m6 0h1m-16 1h1m23 2h1m4 0h1m-81 1h1m43 0h1m27 0h1m-119 1h1m86 0h1m-35 1h1m45 0h1m12 0h2m5 0h1m-27 1h1m9 0h1m9 1h1m7 0h1m-41 1h1m25 0h1m2 0h1m-5 1h1m-27 1h1m11 0h1m-24 1h1m11 0h1m7 1h1m27 0h1m-12 1h1m-93 1h1m-15 2h1m3 1h1m85 1h1m-87 1h1m92 0h1m10 0h1m-107 1h1m2 0h1m91 0h1m-98 2h1m-1 1h1m4 0h1m5 0h1m9 1h1m19 0h1m6 0h1m49 0h1m-105 2h1m84 0h1m-73 1h1m79 0h1m-73 2h1m3 0h1m16 2h1m-29 2h1m15 1h1m5 0h1m-16 2h1m-3 1h1m3 2h1" stroke="#238a8d"/>
<path d="m124 8h1m-3 2h2m3 0h1m-4 2h1m1 2h1m-9 2h1m-9 5h1m12 0h2m-12 2h1m1 0h1m-33 1h1m1 1h1m20 0h2m-14 2h1m25 0h1m-19 1h1m6 1h1m21 0h1m-37 1h1m17 0h1m-29 2h1m2 1h1m27 1h1m17 0h1m-47 1h1m40 0h1m2 0h1m-37 1h1m16 0h1m1 0h1m-3 1h1m-19 1h1m28 0h1m6 0h1m8 0h1m-41 1h1m-28 1h1m8 3h1m50 0h1m-60 1h1m55 0h1m10 0h1m-59 1h1m48 0h1m-71 1h1m14 0h1m2 0h1m1 0h1m49 0h1m-68 1h1m11 0h1m54 1h1m-55 1h1m-32 1h1m5 0h1m7 0h1m10 0h1m57 0h1m-54 1h1m-17 1h1m-9 1h1m18 0h1m4 0h1m-1 1h1m-8 1h1m11 0h1m-35 2h1m23 0h2m8 0h1m-23 1h1m2 0h1m2 0h1m24 0h1m33 0h1m-3 1h1m-55 1h1m81 1h1m-80 1h1m3 0h1m23 0h1m13 1h1m9 0h1m-69 1h1m41 0h1m-45 1h1m7 0h1m-12 1h1m1 0h1m30 0h1m16 0h1m-50 1h1m64 0h1m29 0h1m-141 1h1m69 0h1m53 0h1m12 0h1m-71 1h1m-7 1h1m34 0h1m-48 1h1m14 0h1m16 0h1m-3 1h1m18 0h1m15 0h1m9 0h1m-75 1h1m49 0h1m20 0h1m-65 1h1m1 0h1m1 0h1m15 0h1m5 0h1m3 0h1m34 0h1m-33 1h1m15 0h1m9 0h1m-71 1h1m60 0h1m5 0h1m-124 1h1m36 0h1m29 0h1m20 0h1m17 0h1m-36 1h1m-3 1h1m13 0h1m12 0h1m22 0h1m3 0h1m12 0h1m5 0h1m-81 1h1m36 0h1m-119 2h1m81 0h1m17 1h1m57 0h1m-84 1h1m12 0h2m59 1h1m-49 1h1m50 0h1m-55 1h1m12 1h1m-24 1h1m17 1h1m-17 2h1m-73 3h1m56 0h1m-55 2h1m19 0h1m30 0h1m14 1h1m12 0h1m22 0h1m-104 2h1m75 0h1m8 0h1m38 0h1m-35 1h1m-32 1h1m17 0h1m5 1h1m-12 1h1m17 0h1m31 0h1m-12 1h1m11 0h1m-67 2h1m26 0h1m7 0h1m-39 1h1m43 0h1m-71 1h1m33 0h1m56 0h1m-1 1h1m-80 1h1m32 0h1m41 0h1m-43 1h1m-69 1h1m14 0h1m41 0h1m13 0h1m23 0h1m1 0h1m-3 1h1m-18 1h1m26 0h1m-12 1h2m-28 1h1m1 0h1m30 0h1m-42 1h1m32 0h1m9 0h1m-83 1h1m47 0h1m2 0h1m24 0h1m1 0h1m-40 1h1m32 0h1m-94 1h1m101 0h1m-31 2h1m16 0h1m1 0h1m0 2h1m3 0h1m-114 2h1m44 0h1m54 1h1m-87 1h1m88 0h1m7 0h1m-109 1h1m35 0h1m46 0h1m-1 1h1m-92 1h1m6 0h1m2 1h1m90 0h1m-105 2h1m5 0h1m16 0h1m19 2h1m-29 1h1m9 0h1m14 2h2m-21 1h1m21 2h1m23 0h1m20 0h1m-58 1h1m4 0h2m-25 1h1m12 1h1m13 0h1m0 1h1m-10 1h1m-18 1h1" stroke="#1f968b"/>
<path d="m127 15h1m-19 3h1m13 0h1m-13 1h1m-5 1h1m2 0h1m-29 5h1m33 1h1m-17 1h1m13 0h1m-4 1h1m13 1h1m6 0h1m-52 3h1m46 0h1m-21 1h1m25 0h1m-28 1h1m3 0h1m-27 1h1m-9 1h1m15 0h1m13 0h1m9 0h1m5 0h2m-42 1h1m15 0h1m6 0h1m15 0h1m-43 3h1m-4 1h1m51 0h1m-6 1h1m2 1h1m-49 1h1m-19 1h1m8 0h1m6 0h1m6 0h1m44 0h1m-7 1h1m-67 1h1m9 0h1m-6 1h1m18 0h1m-1 1h1m-20 2h1m9 0h1m1 0h1m-13 1h1m5 0h1m-2 2h1m-14 1h1m6 0h1m11 0h1m1 1h1m1 0h1m-8 1h1m8 0h1m-28 1h1m96 0h1m-87 2h1m58 0h1m0 2h1m-41 1h1m7 0h1m4 0h1m-28 1h1m12 0h1m19 0h1m-15 1h1m7 0h1m24 0h1m9 0h1m-71 1h1m3 0h2m1 0h1m26 0h1m13 0h1m38 0h1m-60 1h1m12 0h1m-55 1h1m2 0h1m89 0h1m-11 1h1m7 0h1m5 0h1m-75 1h1m32 0h1m14 0h1m2 0h2m21 0h1m-94 1h1m51 0h1m6 0h1m3 0h1m5 0h1m-31 1h1m1 0h1m16 0h1m2 0h1m12 0h1m-47 1h1m42 0h1m3 0h1m-70 1h1m21 0h1m2 0h1m2 0h1m25 0h1m6 0h1m1 0h1m10 0h1m-44 1h1m-8 1h1m23 0h1m19 0h1m19 0h1m-112 1h1m53 0h1m6 0h1m13 0h1m-117 1h1m77 0h1m6 0h1m19 0h1m32 0h1m-56 1h1m31 0h1m21 0h1m-85 1h1m25 0h1m33 0h1m-44 1h1m-80 1h1m1 0h1m98 2h1m-1 1h1m42 0h1m-68 1h1m26 0h1m-16 2h1m-13 3h1m-68 4h1m53 1h1m-50 1h1m66 0h1m18 0h1m-5 1h2m-66 1h1m1 0h1m58 0h1m-36 1h1m3 0h1m23 0h1m52 0h1m-113 2h1m34 0h1m10 0h1m39 0h1m17 0h1m-105 1h1m56 0h1m-64 2h1m45 0h1m32 0h1m4 0h1m15 0h1m8 0h1m-94 1h1m47 0h1m16 0h1m-60 1h1m13 0h1m63 0h1m-46 1h2m8 0h1m22 0h1m-65 1h1m30 0h1m2 0h1m54 0h1m-93 1h1m46 0h1m13 0h1m10 0h1m-33 1h1m-38 1h1m2 0h1m16 0h1m47 0h1m5 0h1m-40 1h1m-31 1h1m67 0h1m-5 1h1m-120 4h1m2 0h1m1 0h1m69 0h1m-48 1h1m57 0h1m10 0h1m28 0h1m-32 1h1m15 3h1m3 3h1m-15 1h1m-100 1h1m95 0h1m16 1h1m-106 1h1m100 0h1m-101 2h1m1 0h1m-17 1h1m0 2h1m40 1h1m-38 2h1m-2 1h1m18 0h1m15 2h1m44 0h1m-43 1h1m5 0h1m22 0h1m-70 1h1m8 0h1m8 0h1m41 0h1m-46 1h1m7 0h1m5 1h1m4 0h1m-12 1h1m11 0h1m6 0h1m-21 1h1m1 0h1" stroke="#1fa287"/>
<path d="m124 7h1m-3 2h1m1 2h1m-4 2h1m2 2h1m-24 7h1m22 1h1m-15 1h1m-11 2h1m-20 3h1m41 0h1m-15 2h1m-16 1h1m1 0h1m17 1h1m8 0h1m2 0h1m-35 1h1m33 0h1m-44 1h1m-2 1h1m6 0h1m1 0h1m34 0h1m-8 1h2m11 0h1m-38 2h1m3 0h1m12 0h1m17 0h1m9 0h1m-66 1h1m46 0h2m-45 1h1m1 0h1m22 0h1m20 0h1m-54 1h1m54 0h1m-59 1h1m-4 1h1m14 0h1m1 0h1m41 0h1m-66 1h1m8 0h1m11 0h1m55 0h1m-77 1h1m2 0h1m13 2h1m-13 2h1m-21 1h1m29 0h1m-22 1h1m18 0h1m6 1h1m5 0h1m-12 2h1m10 0h1m-26 1h1m18 0h1m-4 1h1m-28 1h1m20 0h1m50 0h1m22 0h1m-79 1h1m12 0h1m-6 1h1m32 0h1m16 0h1m-44 1h1m20 0h1m2 0h1m16 0h1m1 0h1m1 0h1m19 0h1m-76 1h1m44 0h1m8 0h1m-78 1h1m28 0h1m27 0h1m19 0h1m-29 1h1m29 0h2m10 0h1m-52 1h1m17 0h1m7 0h1m7 1h1m14 0h1m5 0h1m-95 1h1m42 0h1m-10 1h1m26 0h1m-28 1h1m55 0h1m7 0h1m-89 1h1m15 0h1m22 0h1m10 0h1m-36 1h1m5 0h1m9 0h1m1 0h1m7 0h1m-140 1h1m83 0h1m-1 2h1m39 0h1m45 0h1m-63 1h1m-36 1h1m26 0h1m4 0h1m10 0h1m1 0h1m6 0h1m3 0h1m7 0h1m41 0h1m-59 1h1m12 0h1m13 0h1m13 0h1m9 0h1m-102 1h1m31 0h1m9 0h1m5 0h1m-44 1h1m68 0h1m-14 1h1m-121 1h1m87 0h1m30 0h1m-36 1h1m74 0h1m-78 1h1m69 0h1m9 0h1m-64 1h1m12 0h1m3 0h1m-38 2h1m8 0h1m7 1h1m7 0h1m50 0h2m-50 1h1m-13 1h1m12 2h2m-35 1h1m34 0h1m-20 1h1m9 0h1m1 1h1m-17 1h1m14 0h1m-86 1h1m49 0h1m36 0h1m1 2h1m41 0h1m-82 1h1m38 0h1m6 0h1m-75 1h1m28 0h1m6 0h2m26 0h1m27 1h1m10 0h1m-112 1h1m113 0h1m1 0h1m-34 1h1m9 0h2m-72 1h1m37 0h1m12 0h1m12 1h1m24 0h1m-58 1h1m35 0h1m2 0h1m10 0h1m-14 1h1m12 0h1m3 0h1m-67 1h2m25 0h1m38 0h1m-78 1h1m2 0h1m8 0h1m22 0h1m18 0h1m4 0h1m-31 1h1m16 0h1m3 0h1m2 0h1m6 0h1m-80 1h1m91 0h1m-2 1h1m-90 1h1m17 0h1m47 0h1m19 0h1m-34 1h1m24 0h1m2 0h1m-42 1h1m1 0h1m4 0h1m11 0h1m6 0h1m9 0h1m3 0h1m10 0h1m-41 1h1m-79 1h1m60 0h1m12 0h1m-33 1h1m43 0h1m21 0h1m-99 1h1m28 0h1m72 0h1m-27 1h1m16 0h1m-14 1h1m-66 2h1m3 0h1m72 0h1m-115 1h1m114 0h1m-15 1h1m6 0h1m2 0h1m0 1h1m-14 1h1m17 0h1m-2 1h1m-109 1h1m84 0h1m-62 1h1m73 0h1m-3 1h1m-99 3h1m35 1h1m-25 2h1m-16 1h1m95 0h1m-95 1h1m28 1h1m-32 1h1m19 0h1m-1 1h1m-6 1h1m58 0h1m-59 1h1m15 3h1m-19 2h1" stroke="#28ae80"/>
<path d="m114 1h1m8 8h1m-1 6h1m-4 3h1m1 2h1m-23 4h1m20 0h1m-38 1h1m16 1h1m3 1h1m7 1h1m9 2h1m6 0h1m-19 1h1m16 0h1m-47 1h1m18 1h1m3 0h1m5 1h1m-31 1h1m50 0h1m-49 1h1m24 0h1m3 0h1m15 0h1m-38 1h2m2 0h1m27 0h1m-48 1h1m12 0h1m22 0h1m1 0h1m-4 1h1m-40 1h1m39 0h1m16 0h1m3 0h1m3 1h1m-36 1h1m33 0h1m-68 1h1m8 0h1m43 0h1m-41 1h1m46 0h1m1 0h1m9 0h1m-72 1h1m57 0h1m-64 1h1m58 0h1m2 0h1m12 0h1m-63 1h1m45 0h1m1 0h1m2 0h1m-56 1h1m-29 1h1m80 0h1m1 0h1m-62 1h1m5 0h1m0 2h1m-16 1h1m8 0h1m-3 2h1m15 0h1m-17 1h1m53 0h1m-64 1h1m3 0h1m12 0h1m35 0h1m-39 1h1m6 0h1m46 0h1m18 0h1m-4 2h1m-73 1h1m15 0h1m1 0h1m16 0h1m-34 1h1m41 0h1m7 0h1m23 0h1m-94 1h1m13 0h1m5 0h1m26 0h1m-47 1h1m38 0h1m23 0h1m-44 1h1m2 0h1m42 0h1m25 0h1m-88 1h1m51 0h1m16 0h1m-57 1h1m7 0h1m4 0h1m59 0h1m-92 1h1m3 0h1m18 0h1m23 0h1m-50 1h1m30 0h1m20 0h1m40 0h1m-84 1h1m10 0h1m16 0h1m5 0h1m6 0h1m34 0h1m-88 1h1m30 0h1m1 0h1m3 0h1m36 0h1m7 0h1m-84 1h1m76 0h1m-165 1h1m119 0h1m29 0h1m-56 1h1m16 0h1m20 0h1m15 0h1m29 0h1m-83 1h2m29 0h1m9 0h1m11 0h1m3 0h1m6 0h1m3 0h1m-58 1h1m9 0h2m59 0h1m-88 1h1m4 0h1m8 0h1m29 0h1m37 0h1m-83 1h1m39 0h1m4 0h1m37 0h1m-73 1h2m2 0h1m1 0h1m20 0h1m15 0h1m-48 1h1m15 0h1m9 0h1m28 0h1m-63 1h1m24 0h1m53 0h1m-152 1h1m92 0h1m9 0h1m40 0h1m1 0h1m-74 1h1m50 0h1m-54 1h1m68 0h1m-49 1h1m49 0h1m-56 1h1m2 0h1m3 0h1m10 0h1m-25 1h1m2 0h1m4 0h1m4 0h1m1 0h1m-21 2h1m10 0h1m3 0h1m52 1h1m-71 2h1m3 0h1m14 2h2m-90 1h1m1 1h1m83 0h1m2 1h1m2 0h1m35 0h1m-49 1h1m7 0h1m-28 1h1m71 0h1m-112 2h1m70 0h1m31 0h1m-115 1h2m46 0h1m-48 1h1m68 0h1m45 1h1m-21 1h1m-50 1h1m43 0h2m17 0h1m-5 2h1m3 0h1m9 0h1m-41 1h1m33 1h1m-42 1h1m7 0h1m14 0h2m-25 1h1m-3 1h1m7 0h1m4 0h1m-82 1h2m22 0h1m31 0h1m3 0h1m-62 1h1m24 0h1m2 0h1m27 0h1m4 0h1m9 0h1m9 0h1m-82 1h1m23 0h2m51 0h1m-53 1h1m80 0h1m-39 1h1m2 0h1m-19 1h1m16 0h1m10 0h1m-97 1h1m43 0h1m34 0h1m14 0h1m-11 2h1m1 0h1m1 0h1m7 0h1m-9 1h1m19 0h1m-2 1h1m-5 4h1m1 0h1m-117 2h1m91 1h1m22 0h1m-9 1h1m-104 4h1m4 0h1m-1 1h1m24 0h1m-17 1h1m72 2h1m-88 1h1m77 1h1m-68 1h1m12 0h1m21 0h1m17 0h1m-31 1h1m1 0h1m37 0h1m-59 2h1m20 0h1m-31 1h1m9 3h1m-4 1h1" stroke="#38b977"/>
<path d="m123 8h1m5 1h1m-9 1h1m4 1h1m0 2h1m-4 3h1m-2 3h1m-13 2h1m-19 2h1m16 0h1m8 0h1m-13 5h1m2 0h1m-1 1h1m11 0h1m-36 1h1m9 1h1m16 0h1m10 0h1m-23 1h1m6 0h1m-1 1h1m7 0h1m9 1h1m-38 1h2m33 0h1m-37 1h1m42 0h1m-46 1h1m22 0h1m5 0h1m5 0h1m5 0h1m-33 1h1m8 0h1m-18 1h1m7 0h1m10 0h1m6 0h1m-32 1h1m16 0h1m34 0h1m5 0h1m-63 1h1m41 0h1m8 0h1m-27 1h1m26 0h1m11 0h1m-68 1h1m6 0h1m58 0h1m-68 1h1m65 0h1m-68 1h1m2 0h1m45 0h1m6 0h1m9 0h1m-74 1h1m2 0h1m3 0h1m8 0h1m42 0h1m11 0h1m-62 1h1m52 1h1m-67 1h1m63 1h1m-66 1h1m19 0h1m44 0h1m-60 1h1m8 0h1m-14 1h1m11 0h1m-16 1h1m14 0h1m46 1h1m-70 1h1m4 0h1m2 0h1m1 0h1m1 0h1m4 0h2m20 0h1m-22 2h1m37 0h1m11 0h1m6 0h1m15 0h1m4 0h1m-62 1h1m37 0h1m14 0h1m2 0h2m-96 1h1m29 0h1m28 0h1m35 0h1m-79 1h1m35 0h1m2 0h1m4 0h1m-41 1h1m2 0h1m19 0h1m6 0h1m25 0h1m-42 1h1m9 0h1m5 0h1m-53 1h1m1 0h1m21 0h1m2 0h1m3 0h1m16 0h1m12 0h1m4 0h1m1 0h1m3 0h1m-75 1h1m9 0h1m10 0h1m27 0h1m25 0h1m18 0h1m-91 1h1m15 0h1m35 0h1m4 0h1m4 0h2m21 0h1m-80 1h1m1 0h1m18 0h1m14 0h1m8 0h1m8 0h1m21 0h1m-76 1h1m12 0h1m3 0h1m2 0h1m16 0h1m5 0h1m16 0h1m23 0h1m-87 1h1m19 0h1m34 0h1m16 0h1m14 0h1m-102 1h1m8 0h2m15 0h1m5 0h1m38 0h1m-48 1h1m8 0h1m42 0h1m8 0h2m5 0h1m-72 1h1m20 0h1m22 0h1m-47 1h1m4 0h1m2 0h1m5 0h1m14 0h2m25 0h1m-65 1h1m1 0h1m17 0h1m4 0h1m10 0h1m6 0h1m7 0h1m19 0h1m-64 1h1m35 0h1m26 0h1m16 0h1m-120 1h1m32 0h1m67 0h1m2 0h1m12 0h1m-75 1h1m17 0h1m16 0h1m14 0h1m-56 1h1m2 0h1m1 0h1m36 0h1m23 0h1m-96 1h1m59 0h1m28 0h1m7 0h1m-162 1h1m111 0h1m24 0h1m1 0h1m-137 1h1m86 0h1m4 0h1m7 0h1m21 0h1m13 0h1m11 0h1m-62 1h1m69 0h1m-72 1h1m3 0h1m11 0h1m2 0h1m6 0h1m39 0h1m3 0h1m3 0h1m-58 1h1m1 0h1m47 0h1m2 0h1m-66 1h1m13 0h1m5 0h1m-18 1h4m3 0h1m2 0h1m5 0h1m44 0h1m-74 1h1m21 0h1m11 0h1m-46 1h1m26 0h1m13 0h1m-3 1h1m-15 1h1m61 0h1m-83 1h1m16 0h1m17 2h1m-5 2h1m41 0h2m-42 1h1m-83 1h1m77 0h1m7 0h1m-88 1h1m66 0h1m40 0h1m-108 1h1m81 0h1m35 0h1m1 0h1m-4 1h1m-37 1h1m29 0h1m12 0h1m-129 1h1m62 0h1m21 0h1m5 0h1m-32 1h1m33 0h1m9 0h1m15 0h1m3 0h1m-69 1h1m18 0h1m1 0h1m17 0h1m28 0h1m-119 1h1m75 0h1m10 0h1m17 0h1m14 0h1m-116 1h1m48 0h1m41 0h1m5 0h1m13 0h1m-67 1h1m25 0h1m7 0h1m22 0h1m-113 1h1m111 0h1m6 0h1m-79 1h1m35 0h1m17 0h1m4 0h1m-81 1h1m49 0h1m12 0h1m4 0h1m-23 1h1m1 0h1m20 0h1m7 0h1m21 0h1m1 0h1m-83 1h1m1 0h2m28 0h1m-30 1h1m21 0h1m19 0h1m5 0h1m15 0h1m-45 1h1m20 0h1m10 0h1m-56 1h1m60 0h1m-75 1h1m13 0h1m38 0h1m24 0h1m-123 1h1m53 0h1m39 0h1m6 0h1m2 0h2m15 0h1m9 0h1m-123 1h1m42 0h1m-30 1h1m18 0h1m73 0h1m1 0h1m10 0h1m-8 1h1m-115 1h1m20 0h1m8 0h1m64 0h1m11 0h1m-1 1h1m-16 1h1m21 1h1m-18 1h1m-100 1h1m99 0h1m4 0h1m6 0h2m-118 1h1m95 0h1m5 0h1m13 0h1m-124 4h1m102 0h1m-90 1h3m3 1h1m33 0h1m61 0h1m-6 1h1m-105 1h1m3 0h1m1 0h1m33 0h1m62 1h1m-100 1h1m26 0h1m-15 1h1m-11 2h1m1 0h1m0 1h1m1 0h1m1 0h1m3 0h1m-4 1h1m9 0h1m13 0h1m-34 1h1m4 1h1m-4 1h1m19 0h1m46 0h2m-73 1h1m4 0h1m23 2h1" stroke="#50c46a"/>
<path d="m126 9h1m4 1h1m-23 10h1m-8 4h1m-4 2h1m5 0h1m3 0h1m-11 1h1m6 0h1m21 1h1m-34 1h1m10 0h1m1 0h1m4 0h1m-29 1h2m10 0h1m11 0h1m5 0h1m5 0h1m-11 1h1m10 0h1m-6 2h1m6 0h1m-42 1h1m5 0h1m18 0h1m1 1h1m17 0h1m-50 1h1m4 0h1m9 0h1m14 0h1m-34 1h1m18 0h1m9 0h1m12 0h1m9 0h1m-33 1h1m8 0h1m2 0h1m10 0h1m2 0h1m-43 1h1m25 0h2m2 0h1m8 0h2m18 0h1m-41 1h1m2 0h1m7 0h1m22 0h2m-57 1h1m21 0h1m31 0h1m-54 1h1m41 0h1m8 0h1m3 0h1m4 0h1m3 0h1m-72 1h1m13 0h1m35 0h1m2 0h2m14 0h1m-67 1h1m6 0h1m57 0h1m-82 1h1m16 0h1m10 0h1m40 0h1m-8 1h1m6 0h1m2 0h1m-63 1h1m-9 2h1m5 0h1m56 0h1m-62 1h1m3 0h1m-23 1h1m34 0h1m4 0h1m-22 1h1m2 0h1m14 0h2m-32 1h1m10 0h1m10 0h1m5 0h1m3 0h1m24 0h1m-44 1h1m6 0h1m5 0h1m4 0h1m-34 1h1m22 0h2m37 0h1m-61 1h1m13 0h1m8 0h1m2 0h1m4 0h1m2 0h1m-29 1h1m3 0h1m-2 1h1m48 0h1m39 0h1m-74 1h1m4 0h1m9 0h1m17 0h1m1 0h1m-24 1h2m12 0h1m9 0h1m9 0h1m-33 1h2m24 0h2m1 0h1m-44 1h1m13 0h3m34 0h1m-79 1h1m19 0h1m3 0h1m6 0h1m18 0h1m24 0h1m5 0h1m17 0h1m-86 1h1m15 0h1m8 0h1m2 0h1m37 0h1m14 0h1m4 0h1m-102 1h1m17 0h1m16 0h1m38 0h1m21 0h1m-83 1h1m10 0h1m2 0h1m2 0h1m9 0h2m12 0h1m-19 2h1m15 0h1m9 0h2m9 0h1m24 0h2m-88 1h1m12 0h3m8 0h1m2 0h1m9 0h1m3 0h1m1 0h1m15 0h1m1 0h1m25 0h1m-92 1h1m23 0h1m2 0h1m4 0h1m17 0h1m3 0h1m32 0h1m-85 1h1m4 0h1m9 0h1m15 0h1m6 0h2m4 0h1m-61 1h1m18 0h1m5 0h1m1 0h1m9 0h1m16 0h1m6 0h1m7 0h1m7 0h1m4 0h1m15 0h1m-60 1h1m26 0h1m11 0h1m5 0h1m16 0h1m-181 1h1m92 0h1m2 0h1m37 0h1m23 0h1m23 0h1m-88 1h1m3 0h1m5 0h1m4 0h1m10 0h1m1 0h1m14 0h1m18 0h1m18 0h1m-133 1h1m55 0h1m4 0h1m3 0h1m46 0h1m-59 1h1m4 0h1m7 0h1m35 0h1m28 0h2m-65 1h1m5 0h1m10 0h1m2 0h1m9 0h1m9 0h1m7 0h1m-50 1h1m3 0h1m8 0h1m1 0h1m43 0h1m5 0h1m-173 1h1m90 0h1m13 0h1m16 0h1m2 0h1m8 0h1m17 0h1m2 0h1m3 0h1m5 0h1m-94 1h1m20 0h1m14 0h1m46 0h1m3 0h1m1 0h2m-70 1h1m7 0h1m7 0h1m10 0h1m2 0h1m37 0h1m-60 1h1m6 0h1m6 0h1m1 0h1m41 0h1m-71 1h1m5 0h1m6 0h2m13 0h1m43 0h1m-73 1h1m1 0h1m4 0h1m7 0h1m4 0h1m-16 1h1m13 0h1m6 0h1m-26 1h1m22 0h1m-16 1h1m12 0h1m46 0h1m-58 1h1m3 0h1m51 0h1m-58 1h1m10 2h1m46 0h1m-69 1h1m4 0h1m11 0h1m-20 1h1m2 0h1m3 0h1m12 0h1m-90 1h1m87 0h1m0 1h1m4 0h1m-45 1h1m9 0h1m57 0h1m10 0h1m-42 1h1m21 0h1m-103 1h1m48 0h1m36 0h1m15 0h1m-2 1h1m13 0h1m3 0h1m1 0h1m-82 1h1m61 0h1m11 0h2m5 0h1m-117 1h1m25 0h1m86 0h1m2 0h1m-59 1h1m14 0h1m46 0h1m-124 1h2m87 0h1m2 0h1m16 0h1m3 0h1m-21 1h1m4 0h1m4 0h1m5 0h1m3 0h1m-113 1h1m50 0h1m55 0h1m-71 2h1m6 0h1m40 0h1m5 0h1m19 0h1m1 0h1m1 0h1m-35 1h1m11 0h1m4 0h1m-90 1h1m7 0h1m8 0h1m42 0h1m12 0h1m8 0h1m23 0h1m-67 1h1m28 0h1m6 0h1m3 0h1m7 0h1m6 0h1m1 0h1m5 0h1m-83 1h1m49 0h1m16 0h2m2 0h1m13 0h1m-60 1h1m8 0h1m9 0h2m5 0h1m11 0h1m3 0h1m4 0h1m7 0h1m-56 1h1m20 0h1m3 0h2m1 0h1m5 0h1m13 0h1m7 0h1m-122 1h1m5 0h1m87 0h1m24 0h1m-44 1h1m5 0h1m35 0h1m-90 1h1m51 0h2m23 0h1m-23 1h2m-13 1h1m37 0h1m-124 1h1m89 0h1m1 0h1m11 0h1m-101 1h1m113 0h1m-117 3h1m91 0h1m4 1h1m20 1h1m-21 1h1m8 0h1m1 0h3m0 1h1m-2 1h2m-23 1h1m2 0h1m16 0h1m-16 1h1m8 0h1m6 0h1m-104 1h1m-3 1h1m5 0h1m-2 1h1m93 0h1m-90 1h1m-2 1h1m83 0h1m2 0h1m-91 1h2m75 2h1m-87 1h1m7 0h1m-15 1h1m1 0h1m3 0h1m18 0h1m9 0h1m51 0h1m-67 1h1m40 0h1m13 0h1m3 0h1m-66 2h2m60 0h1m-57 1h1m10 0h1m10 0h1m-31 1h1m8 0h1m13 0h1m-17 1h1m6 0h1m3 0h1m3 1h1m-14 1h2m-6 2h1m-5 1h2" stroke="#6ccd5a"/>
<path d="m129 8h1m-6 2h1m1 0h1m-4 6h1m-6 4h1m-7 1h1m-3 1h1m17 0h1m-25 3h1m6 1h1m-11 1h1m5 0h1m1 0h1m18 0h1m-18 2h1m-18 1h1m16 0h1m2 0h1m-30 1h1m45 0h1m-25 1h1m6 0h2m13 0h1m-48 1h1m9 0h1m14 0h1m17 0h1m1 0h1m-11 1h1m-39 1h1m13 0h1m12 0h1m8 0h1m6 0h1m-43 1h1m11 0h1m39 0h1m-26 1h1m2 0h1m16 0h1m3 0h1m-39 1h1m15 0h1m5 0h1m4 0h1m6 0h1m-38 1h2m12 0h2m12 0h1m-14 1h1m13 0h1m1 0h1m-37 1h1m16 0h2m10 0h1m26 0h1m-62 1h1m22 0h1m5 0h1m2 0h1m12 0h1m14 0h1m1 0h1m-54 1h1m3 0h1m10 0h1m6 0h1m16 1h2m2 0h1m-53 1h1m1 0h1m43 0h1m15 0h1m-74 1h1m71 0h1m-63 1h1m2 0h1m39 0h1m2 0h1m3 0h1m-70 1h1m6 0h1m2 0h2m1 0h1m9 0h1m44 0h1m-49 1h1m44 0h1m2 0h1m-75 1h1m1 0h1m12 0h1m5 0h1m3 0h1m4 0h1m-31 1h1m11 0h2m2 0h1m8 0h1m38 0h1m-54 1h2m4 0h3m55 0h1m-65 1h1m1 0h2m17 0h1m38 0h1m2 0h1m-54 1h1m9 0h1m-21 1h1m11 0h1m6 0h1m1 0h1m1 0h1m-34 1h1m14 0h1m43 0h1m9 0h1m-45 1h1m3 0h1m5 0h1m21 0h1m9 0h1m3 0h1m-38 1h1m2 0h1m16 0h1m6 0h1m11 0h1m24 0h1m-100 1h1m27 0h1m2 0h1m18 0h1m5 0h1m10 0h1m6 0h1m-75 1h1m37 0h2m8 0h2m6 0h2m3 0h1m7 0h1m22 0h1m2 0h1m2 0h1m-53 1h1m14 0h1m4 0h1m23 0h2m6 0h1m-69 1h3m20 0h1m24 0h1m-64 1h1m4 0h1m22 0h1m39 0h1m8 0h1m-69 1h1m4 0h1m-28 1h1m6 0h1m6 0h1m16 0h1m13 0h1m1 0h1m2 0h1m31 0h1m-83 1h1m19 0h2m4 0h1m7 0h1m9 0h1m5 0h1m3 0h2m-36 1h1m4 0h1m10 0h1m16 0h1m8 0h1m3 0h2m1 0h1m5 0h1m-73 1h1m3 0h1m24 0h1m11 0h1m10 0h1m6 0h1m1 0h1m2 0h1m-65 1h1m23 0h1m9 0h1m9 0h1m6 0h1m5 0h1m6 0h1m16 0h1m-67 1h1m4 0h1m21 0h1m16 0h1m5 0h1m5 0h1m2 0h1m2 0h1m-62 1h1m32 0h2m9 0h2m4 0h1m11 0h1m1 0h1m-176 1h1m92 0h1m21 0h1m4 0h1m27 0h1m12 0h1m20 0h1m-89 1h1m30 0h1m15 0h2m1 0h2m5 0h1m2 0h1m10 0h1m19 0h1m-85 1h1m26 0h1m12 0h1m8 0h1m2 0h2m-49 1h1m2 0h1m10 0h1m30 0h1m1 0h1m24 0h1m1 0h1m-74 1h1m6 0h1m8 0h1m1 0h1m5 0h1m5 0h1m26 0h2m-64 1h1m4 0h1m4 0h1m5 0h1m5 0h1m3 0h1m1 0h1m20 0h1m11 0h1m2 0h1m-93 1h1m24 0h1m1 0h1m9 0h1m12 0h1m7 0h1m12 0h1m16 0h1m16 0h1m-86 1h1m5 0h1m2 0h1m13 0h1m17 0h1m15 0h1m5 0h1m3 0h1m3 0h1m15 0h1m-78 1h1m1 0h1m8 0h1m4 0h1m5 0h1m9 0h1m20 0h1m6 0h1m1 0h1m-90 1h1m30 0h1m3 0h4m13 0h1m31 0h1m4 0h1m12 0h1m-81 1h1m10 0h2m14 0h1m3 0h1m1 0h1m24 0h1m3 0h1m2 0h1m9 0h1m1 0h1m-83 1h1m6 0h1m1 0h1m2 0h4m1 0h1m1 0h1m45 0h1m-44 1h2m46 0h1m-61 1h1m1 0h1m10 0h1m49 0h1m-55 1h1m4 0h1m7 0h1m-10 1h1m7 0h1m37 0h2m-60 1h1m5 0h1m12 0h1m-2 1h1m-20 1h2m61 0h1m-49 2h1m-75 2h1m57 0h1m54 1h1m0 1h1m-84 1h1m77 0h1m-8 1h1m1 0h1m-85 2h1m1 0h1m33 0h1m44 0h1m6 0h1m-110 1h1m76 0h1m3 0h1m15 0h1m-20 1h1m14 0h1m10 0h1m-112 1h1m6 0h1m97 0h1m12 0h1m3 0h1m-45 1h1m6 0h2m16 0h1m5 0h1m2 0h1m10 0h1m-47 1h1m13 0h1m8 0h1m10 0h2m11 0h1m-28 1h1m10 0h1m3 0h2m-24 1h1m3 0h1m12 0h1m11 0h1m-78 1h1m56 0h1m19 0h1m-81 1h1m31 0h1m10 0h1m1 0h1m8 0h1m4 0h1m2 0h1m6 0h1m6 0h1m-81 1h1m14 0h1m21 0h1m6 0h1m12 0h1m7 0h1m4 0h1m4 0h1m-76 1h1m30 0h1m5 0h1m3 0h1m8 0h1m16 0h1m6 0h1m7 0h1m-64 1h1m25 0h2m2 0h1m4 0h1m5 0h1m10 0h1m5 0h1m-47 1h1m8 0h1m16 0h2m-91 1h1m53 0h1m11 0h1m7 0h1m3 0h1m6 0h1m1 0h1m4 0h1m-91 1h1m60 0h1m4 0h1m31 0h1m1 0h2m-28 1h1m23 0h1m-113 1h1m71 1h1m4 0h1m7 0h1m19 0h1m12 0h1m-25 1h1m14 0h1m2 0h1m3 0h1m-106 1h1m75 0h1m20 0h1m2 0h1m-38 1h1m2 0h1m32 0h1m-115 1h1m17 1h1m96 0h1m-10 2h1m-111 1h1m97 0h1m2 1h1m-1 1h1m-110 1h1m96 0h1m-99 1h1m115 0h1m-112 1h1m9 0h1m86 0h1m16 0h1m-20 1h1m16 0h1m-116 1h1m1 1h1m14 0h1m-9 2h1m6 0h1m1 0h1m5 0h1m-9 1h1m1 0h1m29 0h1m-44 1h1m4 0h1m-3 1h1m16 0h1m69 0h1m1 0h1m1 1h3m-93 1h1m17 0h1m-21 1h1m7 0h1m2 0h1m8 0h1m39 0h1m-62 1h1m12 0h1m6 0h1m23 0h1m1 0h1m2 0h1m2 0h1m5 0h1m-48 1h1m9 0h1m5 0h1m0 2h1m3 0h1m-29 1h1m3 0h1m10 3h1m-2 1h1" stroke="#8bd646"/>
<path d="m126 8h1m-2 1h1m-1 6h1m-19 2h1m2 0h1m10 5h1m-18 1h1m7 0h1m-3 2h1m-3 1h1m-5 1h1m8 0h1m1 0h1m-2 1h1m16 0h1m-48 1h1m12 0h1m1 0h1m27 0h1m-1 1h1m-34 1h1m20 0h1m18 0h1m-25 3h1m11 0h1m2 0h1m3 0h1m-40 1h1m17 0h1m14 0h1m1 0h1m-43 1h1m2 0h2m34 0h1m-41 1h1m38 0h1m4 0h1m-48 1h2m6 0h1m1 0h1m17 0h1m9 0h2m6 0h1m-45 1h1m1 0h1m2 0h1m9 0h1m12 0h1m6 0h1m12 0h1m11 0h1m-49 1h1m1 0h1m1 0h1m2 0h1m8 0h1m2 0h1m27 0h1m-67 1h1m18 0h1m4 0h1m-26 1h1m11 0h1m13 0h1m13 0h2m-37 1h2m5 0h1m4 0h1m12 0h1m1 0h1m22 0h5m6 0h2m1 0h1m-71 1h1m7 0h1m9 0h1m30 0h1m2 0h1m1 0h1m-38 1h1m31 0h1m1 0h1m-54 1h1m7 0h1m9 0h1m25 0h1m15 0h1m2 0h1m-64 1h1m18 0h1m1 0h1m50 0h1m-19 1h1m-62 1h1m40 0h1m21 0h2m-51 1h1m3 0h1m42 0h1m1 0h1m1 0h1m-80 1h1m31 0h1m37 0h1m2 0h1m2 0h1m2 0h1m-60 1h1m10 0h1m43 0h2m-62 1h1m42 0h1m-43 1h1m21 0h1m21 0h1m3 0h1m11 0h1m-64 1h1m46 0h2m-9 1h1m5 0h1m6 0h1m3 0h1m1 0h1m3 0h1m-71 1h1m36 0h1m21 0h1m9 0h1m-70 1h1m1 0h1m25 0h1m3 0h1m2 0h1m36 0h1m-65 1h1m20 0h1m4 0h2m5 0h1m8 0h1m6 0h1m4 0h1m4 0h1m26 0h2m2 0h1m-70 1h1m2 0h2m11 0h2m3 0h1m2 0h1m41 0h1m-83 1h1m11 0h2m4 0h2m15 0h1m13 0h1m4 0h1m6 0h2m-35 1h1m2 0h1m1 0h1m4 0h1m13 0h1m23 0h2m4 0h1m1 0h1m-96 1h1m22 0h1m4 0h1m18 0h1m10 0h1m5 0h1m7 0h3m19 0h1m-78 1h1m4 0h1m24 0h2m10 0h3m8 0h2m-60 1h1m1 0h1m47 0h2m6 0h1m2 0h1m16 0h2m-53 1h1m6 0h1m11 0h1m7 0h1m-62 1h1m14 0h2m7 0h1m21 0h1m2 0h1m1 0h1m6 0h1m-57 1h1m26 0h1m15 0h2m8 0h1m3 0h1m7 0h1m10 0h1m-80 1h1m2 0h1m14 0h1m1 0h1m26 0h1m2 0h1m6 0h1m-57 1h1m1 0h1m8 0h1m6 0h1m1 0h1m2 0h1m19 0h1m2 0h1m3 0h1m12 0h1m1 0h1m19 0h1m-87 1h1m3 0h1m15 0h1m1 0h1m21 0h1m7 0h1m10 0h1m2 0h1m-65 1h1m13 0h1m3 0h1m5 0h1m1 0h1m4 0h1m52 0h1m1 0h1m-90 1h1m1 0h3m13 0h1m9 0h1m15 0h1m5 0h1m8 0h1m11 0h1m-70 1h1m8 0h1m2 0h1m27 0h1m44 0h2m-63 1h1m31 0h1m3 0h1m25 0h1m-85 1h2m11 0h1m13 0h1m12 0h1m10 0h2m-119 1h1m75 0h1m67 0h1m-72 1h1m2 0h1m16 0h1m1 0h3m18 0h1m12 0h1m1 0h1m6 0h1m-72 1h1m2 0h1m2 0h1m12 0h1m5 0h1m7 0h1m20 0h1m7 0h1m9 0h1m2 0h1m-72 1h1m8 0h1m3 0h1m2 0h1m19 0h1m3 0h1m3 0h1m8 0h2m1 0h1m18 0h1m-70 1h1m6 0h1m9 0h1m2 0h1m1 0h1m10 0h1m2 0h2m6 0h1m4 0h1m13 0h1m-160 1h1m74 0h1m11 0h1m3 0h1m1 0h1m3 0h1m32 0h2m2 0h2m14 0h1m9 0h1m-51 1h1m21 0h1m13 0h1m3 0h1m3 0h1m5 0h1m-81 1h1m18 0h1m52 0h1m6 0h1m-73 1h1m16 0h1m3 0h4m22 0h1m-28 1h1m41 0h1m2 0h2m-102 1h1m32 0h2m3 0h1m62 0h1m-63 1h1m57 0h1m-42 2h1m40 1h1m-3 2h1m-135 1h1m0 1h1m116 0h2m4 0h1m9 0h1m3 0h1m-15 1h1m4 0h1m2 0h1m-132 1h1m117 0h1m1 0h1m11 0h1m-85 1h1m30 0h1m4 0h1m10 0h1m32 0h1m2 0h2m-79 1h1m34 0h1m2 0h1m39 0h1m-124 1h1m61 0h1m47 0h1m3 0h1m3 0h1m-91 1h1m27 0h1m24 0h1m19 0h1m3 0h1m10 0h1m3 0h3m-116 1h1m39 0h1m19 0h1m33 0h1m5 0h2m3 0h1m-65 1h1m24 0h1m3 0h1m3 0h1m21 0h1m1 0h1m4 0h1m-24 1h1m3 0h1m7 0h1m10 0h1m3 0h1m-63 1h1m8 0h1m39 0h1m2 0h1m7 0h1m-114 1h1m87 0h1m1 0h1m25 0h1m-55 1h1m24 0h1m4 0h1m5 0h1m2 0h1m1 0h1m7 0h1m-110 1h1m19 0h1m15 0h1m81 0h1m-76 1h1m16 0h1m13 0h1m8 0h1m13 0h1m2 0h1m4 0h1m1 0h1m1 0h1m1 0h1m-94 1h1m65 0h1m14 0h2m5 0h1m-73 1h1m34 0h1m9 0h1m6 0h1m6 0h1m17 0h1m-49 1h1m10 0h1m11 0h1m3 0h2m7 0h1m14 0h1m-81 1h1m20 0h1m11 0h1m13 0h1m4 0h1m-22 1h1m7 0h1m13 0h1m6 0h1m11 0h1m-74 1h1m40 0h1m4 0h1m9 0h2m9 0h1m-110 1h1m68 0h1m7 0h1m7 0h1m3 0h1m10 0h1m8 0h1m-72 1h1m3 0h1m62 0h1m2 0h2m-67 1h1m36 0h1m6 0h1m-65 1h1m51 0h1m12 0h2m19 0h1m-121 1h1m61 0h1m25 0h1m23 0h1m5 0h1m4 0h1m-34 1h1m4 0h1m15 0h1m4 0h1m1 0h1m2 0h1m-103 1h1m61 0h1m9 0h1m21 0h1m3 0h2m2 0h1m1 0h1m-105 1h1m97 0h1m4 0h1m-123 1h1m117 0h1m-119 1h1m18 0h1m100 0h1m-121 1h1m46 0h1m35 0h1m17 0h1m15 0h1m-121 2h1m116 0h1m-118 1h1m-2 1h1m112 0h1m-105 1h1m100 0h1m-114 1h1m-1 1h1m2 0h1m104 0h1m-95 1h1m16 1h1m15 0h1m64 0h1m-101 1h1m33 0h1m-38 1h1m8 0h1m90 0h1m-105 1h1m1 0h1m4 0h1m3 0h1m2 0h1m23 0h1m62 0h1m-102 1h1m7 0h1m1 0h2m30 0h1m47 0h1m-86 1h1m3 0h1m3 0h1m8 0h1m-20 1h1m35 0h1m-39 1h1m5 0h1m14 0h1m-19 1h1m4 0h2m5 0h1m12 0h1m13 0h2m5 0h1m2 0h1m1 0h2m-47 1h1m-4 1h1m12 0h1m54 0h1m-55 1h1m19 0h1m-17 1h1m-1 1h1m-6 1h1m-5 2h1m2 0h1m1 0h1m-6 1h1" stroke="#addc30"/>
<path d="m123 7h1m3 1h1m-5 6h1m-15 2h1m10 4h2m2 0h1m-5 1h1m1 0h1m-31 1h1m29 0h1m-20 3h1m1 0h1m5 0h1m-8 1h1m5 0h1m-29 1h1m41 0h1m-20 1h1m10 0h2m-13 1h1m0 1h2m2 0h1m15 0h1m-19 1h1m-1 1h1m-18 1h1m21 0h1m14 0h1m2 0h2m-43 1h2m31 0h1m-43 2h1m26 0h1m19 0h1m2 0h1m-54 1h1m2 0h1m3 0h2m3 0h3m15 0h2m14 0h1m-43 1h1m1 0h2m4 0h1m1 0h1m28 0h1m-45 1h1m6 0h1m8 0h1m27 0h1m1 0h1m-41 1h1m3 0h1m8 0h1m6 0h2m2 0h1m3 0h1m1 0h1m3 0h1m2 0h1m17 0h1m-57 1h1m6 0h2m5 0h1m4 0h1m5 0h3m1 0h2m2 0h1m3 0h3m4 0h1m-51 1h3m4 0h1m5 0h1m1 0h1m1 0h1m12 0h1m1 0h1m1 0h2m8 0h1m12 0h1m7 0h1m-66 1h1m4 0h1m6 0h1m3 0h1m3 0h1m1 0h1m45 0h1m-78 1h1m3 0h1m5 0h2m6 0h2m5 0h2m19 0h1m6 0h1m1 0h2m-19 1h2m18 0h1m-40 1h2m2 0h2m1 0h2m18 0h1m8 0h1m17 0h1m-58 1h1m1 0h1m7 0h1m27 0h1m1 0h2m-61 1h1m17 0h1m8 0h1m14 0h1m15 0h1m-55 1h1m1 0h1m14 0h2m2 0h1m15 0h1m-44 1h1m1 0h1m3 0h1m9 0h1m3 0h1m2 0h1m1 0h1m16 0h1m22 0h1m-80 1h1m14 0h1m4 0h1m2 0h1m6 0h1m4 0h1m42 0h2m-52 1h1m11 0h1m20 0h1m6 0h1m1 0h1m1 0h1m5 0h1m1 0h1m-59 1h1m2 0h1m9 0h1m1 0h1m38 0h1m1 0h1m-82 1h1m16 0h1m13 0h1m4 0h1m6 0h1m2 0h1m18 0h2m7 0h1m-68 1h1m25 0h1m1 0h1m10 0h1m9 0h1m13 0h1m6 0h1m1 0h1m4 0h1m-52 1h1m10 0h1m6 0h2m9 0h1m2 0h1m1 0h2m6 0h1m5 0h4m-76 1h1m30 0h2m6 0h1m12 0h1m3 0h1m4 0h1m5 0h1m1 0h1m1 0h1m1 0h1m2 0h1m-77 1h1m4 0h1m24 0h1m3 0h1m6 0h1m9 0h1m4 0h1m2 0h1m5 0h1m1 0h2m27 0h1m-65 1h3m8 0h1m5 0h1m3 0h1m6 0h1m5 0h1m9 0h1m21 0h1m-74 1h3m3 0h1m3 0h1m6 0h1m2 0h1m13 0h1m2 0h2m1 0h1m10 0h1m22 0h1m-79 1h1m8 0h2m2 0h1m5 0h1m2 0h1m4 0h1m2 0h1m7 0h1m9 0h1m22 0h1m-79 1h1m11 0h2m16 0h1m3 0h1m2 0h1m13 0h1m11 0h1m15 0h2m-76 1h1m20 0h1m11 0h1m45 0h1m-80 1h1m15 0h1m13 0h1m2 0h1m41 0h3m1 0h1m-79 1h1m8 0h1m20 0h1m12 0h1m-55 1h1m15 0h2m8 0h1m14 0h1m11 0h1m9 0h2m1 0h1m19 0h2m-95 1h1m3 0h1m18 0h2m3 0h2m5 0h1m9 0h1m1 0h1m6 0h1m13 0h1m1 0h1m3 0h1m19 0h1m-99 1h1m31 0h1m4 0h1m4 0h1m15 0h1m16 0h2m18 0h1m-96 1h1m3 0h1m1 0h1m3 0h1m12 0h1m13 0h1m8 0h1m2 0h2m2 0h1m6 0h2m6 0h2m3 0h1m17 0h1m2 0h1m-66 1h1m5 0h1m1 0h1m20 0h1m3 0h1m5 0h2m4 0h1m4 0h2m4 0h1m5 0h1m4 0h1m-85 1h1m24 0h1m20 0h1m12 0h1m5 0h1m19 0h1m-90 1h3m1 0h1m33 0h1m9 0h2m6 0h3m8 0h1m20 0h1m-105 1h1m11 0h1m2 0h1m6 0h1m2 0h1m4 0h1m9 0h1m2 0h1m34 0h1m25 0h1m-80 1h2m2 0h1m30 0h1m5 0h1m5 0h1m3 0h1m-54 1h1m1 0h1m4 0h3m37 0h1m4 0h1m1 0h1m7 0h1m9 0h1m7 0h1m-79 1h1m5 0h1m10 0h1m16 0h1m14 0h1m-46 1h1m7 0h1m1 0h1m6 0h1m25 0h1m3 0h2m7 0h1m-60 1h1m2 0h1m11 0h1m29 0h1m1 0h2m4 0h1m1 0h1m14 0h1m1 0h1m-81 1h1m11 0h1m11 0h2m1 0h1m17 0h1m15 0h1m2 0h1m1 0h1m13 0h2m-78 1h1m7 0h1m14 0h1m3 0h1m21 0h1m2 0h1m19 0h2m2 0h1m2 0h1m-79 1h1m5 0h1m13 0h2m1 0h1m29 0h1m2 0h1m2 0h1m1 0h1m15 0h1m-87 1h1m9 0h1m8 0h1m4 0h2m3 0h1m23 0h1m11 0h2m1 0h1m15 0h1m-56 1h1m5 0h1m21 0h1m6 0h1m1 0h1m10 0h1m2 0h1m-81 1h1m1 0h1m10 0h1m11 0h2m27 0h1m22 0h2m-70 1h1m8 0h1m7 0h1m41 0h1m3 0h1m1 0h1m2 0h4m-86 1h1m33 0h1m38 0h2m5 0h1m-66 1h1m8 0h1m9 0h1m36 0h1m1 0h1m9 0h1m-70 1h1m5 0h1m3 0h1m51 0h2m-64 1h1m8 0h1m51 0h2m1 0h1m-65 1h1m3 0h1m41 0h1m10 0h1m8 0h1m-4 1h1m-19 1h2m14 0h2m-78 1h1m58 0h1m5 0h2m8 0h2m2 0h1m-139 1h1m72 0h1m46 0h1m2 0h1m4 0h1m1 0h2m5 0h1m-52 1h1m34 0h1m3 0h1m1 0h1m7 0h1m-125 1h1m104 0h2m1 0h1m7 0h1m4 0h2m-125 1h1m105 0h2m2 0h1m4 0h1m6 0h1m1 0h1m-126 1h1m16 0h1m32 0h1m51 0h3m6 0h1m1 0h1m2 0h1m4 0h1m-119 1h1m79 0h1m20 0h1m1 0h2m6 0h1m-115 1h1m3 0h1m76 0h1m1 0h2m2 0h1m13 0h2m2 0h1m2 0h1m3 0h1m13 0h2m-128 1h2m2 0h1m95 0h1m2 0h1m6 0h1m7 0h2m-53 1h1m16 0h1m1 0h1m16 0h1m2 0h2m6 0h2m2 0h1m-73 1h1m20 0h1m33 0h2m11 0h2m3 0h1m-18 1h1m1 0h1m1 0h2m5 0h1m-27 1h2m-39 1h3m8 0h1m38 0h3m3 0h1m-107 1h1m46 0h1m23 0h1m27 0h2m3 0h1m3 0h1m3 0h1m9 0h1m-124 1h1m50 0h1m40 0h2m5 0h1m3 0h1m3 0h1m1 0h1m1 0h1m-78 1h1m12 0h1m28 0h1m18 0h1m9 0h1m12 0h1m2 0h1m-91 1h1m63 0h2m10 0h2m1 0h1m9 0h1m-90 1h1m7 0h1m40 0h1m4 0h1m8 0h1m6 0h2m1 0h1m1 0h1m1 0h1m7 0h1m-79 1h1m39 0h2m11 0h1m3 0h1m7 0h1m2 0h1m-38 1h1m20 0h1m1 0h1m2 0h1m6 0h1m13 0h1m-122 1h1m39 0h1m30 0h1m8 0h1m3 0h1m15 0h1m7 0h1m-87 1h1m68 0h1m9 0h1m5 0h1m-106 1h1m23 0h1m2 1h1m20 0h1m32 0h1m4 0h1m-101 1h1m39 0h1m32 0h1m-70 1h1m28 0h1m56 0h1m3 0h1m6 0h1m14 0h1m7 0h1m-121 1h2m88 0h1m6 0h1m20 0h1m2 0h1m-35 1h1m2 0h1m18 0h1m9 0h1m-87 1h1m63 0h1m18 0h1m1 0h1m-123 1h1m114 0h1m2 0h2m-5 1h2m3 0h1m-6 1h1m1 0h2m-9 1h1m-116 3h1m12 0h1m90 0h1m-106 2h1m-3 1h1m117 0h1m-105 2h1m1 0h1m4 0h1m-8 1h2m1 0h3m-6 1h1m2 0h1m1 0h1m-7 1h1m2 0h1m25 0h1m65 0h1m-104 1h1m8 0h1m28 0h1m-37 1h1m1 0h1m5 0h1m2 0h2m9 0h1m75 0h1m-98 1h2m7 0h1m6 0h1m-11 1h1m1 0h1m43 0h1m-51 1h2m3 0h2m8 0h1m-20 1h2m15 0h2m30 0h1m16 0h1m2 0h1m16 0h1m-83 1h1m4 0h1m34 0h1m9 0h1m-56 1h2m5 0h1m1 0h1m10 0h1m6 0h2m-21 1h2m11 0h1m5 0h2m-23 1h1m1 0h1m1 0h1m14 0h1m12 0h1m-29 1h1m12 0h1m1 0h1m2 0h1m-4 1h1m-13 1h1m4 2h2" stroke="#cde11d"/>
<path d="m128 8h1m-5 1h1m2 0h1m-3 1h1m-2 3h1m-1 1h1m-17 3h1m11 2h3m-12 1h1m9 1h1m-21 2h1m7 1h1m2 0h1m1 0h1m1 0h1m-34 2h1m28 0h1m2 0h1m14 0h1m-20 1h1m-6 1h1m19 0h1m3 0h1m-24 1h1m21 0h1m-22 1h1m1 1h1m20 1h2m-11 1h1m-42 1h1m42 0h1m2 1h1m-48 2h1m3 0h1m2 0h1m1 0h1m-9 1h1m1 0h1m2 0h1m1 0h1m21 0h1m-32 1h1m2 0h1m2 0h1m1 0h2m3 0h1m1 0h1m22 0h1m-41 1h1m3 0h2m2 0h2m1 0h5m1 0h1m13 0h1m6 0h2m1 0h1m20 0h1m-57 1h2m1 0h3m2 0h2m1 0h2m1 0h1m1 0h1m6 0h1m3 0h1m2 0h1m2 0h3m14 0h2m-49 1h3m1 0h1m1 0h1m1 0h5m1 0h3m4 0h1m7 0h5m6 0h1m-40 1h1m3 0h1m2 0h2m1 0h1m1 0h4m3 0h5m1 0h10m-35 1h3m1 0h1m2 0h19m1 0h6m-35 1h2m1 0h1m1 0h15m2 0h14m1 0h1m4 0h1m-45 1h1m1 0h1m3 0h1m2 0h1m2 0h18m2 0h6m-57 1h1m3 0h1m15 0h1m1 0h3m1 0h1m1 0h1m1 0h27m9 0h1m-66 1h1m3 0h1m14 0h7m1 0h14m1 0h15m1 0h1m1 0h1m3 0h1m3 0h1m-70 1h1m4 0h1m13 0h2m2 0h2m1 0h14m2 0h18m-53 1h1m11 0h1m2 0h1m1 0h16m1 0h19m1 0h1m-57 1h1m12 0h1m3 0h32m2 0h2m1 0h2m-62 1h1m14 0h1m2 0h1m2 0h4m1 0h20m1 0h6m1 0h1m1 0h1m1 0h3m3 0h1m-74 1h1m27 0h1m5 0h19m1 0h1m1 0h14m3 0h1m1 0h1m-66 1h1m15 0h1m1 0h2m5 0h2m1 0h17m3 0h1m1 0h5m1 0h5m1 0h4m-66 1h1m24 0h2m1 0h9m1 0h7m2 0h2m1 0h1m1 0h6m1 0h1m2 0h3m-78 1h1m36 0h1m1 0h5m3 0h4m1 0h4m2 0h1m1 0h1m4 0h3m3 0h1m-36 1h3m1 0h1m2 0h12m1 0h3m1 0h1m4 0h5m7 0h2m-45 1h2m6 0h2m1 0h9m1 0h3m5 0h2m1 0h2m1 0h1m33 0h1m-99 1h1m35 0h1m1 0h2m2 0h5m3 0h1m1 0h2m5 0h2m1 0h2m31 0h1m2 0h1m-61 1h2m1 0h2m7 0h2m10 0h1m1 0h2m32 0h1m-104 1h1m43 0h2m1 0h2m1 0h1m14 0h1m30 0h1m5 0h2m-76 1h1m2 0h1m12 0h1m50 0h1m6 0h1m-73 1h1m2 0h1m32 0h1m2 0h1m26 0h3m3 0h1m-84 1h3m3 0h1m17 0h2m30 0h1m20 0h1m-99 1h1m8 0h1m14 0h1m19 0h2m23 0h1m9 0h2m9 0h1m10 0h3m-96 1h3m23 0h1m35 0h4m5 0h1m1 0h1m20 0h2m-96 1h3m14 0h1m12 0h1m16 0h2m1 0h1m11 0h1m1 0h1m5 0h3m21 0h1m-94 1h1m1 0h1m13 0h1m6 0h1m4 0h1m3 0h1m1 0h1m9 0h1m3 0h1m2 0h1m9 0h1m5 0h2m3 0h1m20 0h1m-95 1h1m15 0h1m8 0h1m5 0h1m3 0h1m24 0h1m1 0h1m6 0h2m1 0h2m20 0h1m-89 1h1m11 0h1m39 0h2m11 0h2m8 0h1m5 0h1m4 0h3m-89 1h1m8 0h3m39 0h1m1 0h3m7 0h1m3 0h1m16 0h2m1 0h2m-80 1h1m1 0h3m27 0h1m9 0h1m4 0h1m9 0h1m20 0h1m-103 1h1m23 0h1m2 0h3m39 0h1m32 0h1m-79 1h1m2 0h2m26 0h1m46 0h1m-83 1h1m9 0h1m6 0h1m60 0h1m2 0h1m-113 1h1m28 0h1m3 0h1m2 0h1m28 0h1m14 0h1m1 0h1m1 0h2m16 0h1m7 0h3m-83 1h1m7 0h1m41 0h2m3 0h3m1 0h1m1 0h1m16 0h5m-63 1h1m1 0h2m1 0h1m23 0h1m2 0h1m1 0h2m1 0h1m19 0h5m-192 1h1m105 0h1m8 0h1m9 0h1m5 0h1m17 0h1m10 0h2m3 0h1m18 0h1m4 0h3m-191 1h1m99 0h1m12 0h2m13 0h3m10 0h1m14 0h1m1 0h2m1 0h1m6 0h1m2 0h1m10 0h2m1 0h1m2 0h1m-189 1h1m109 0h3m13 0h3m2 0h1m1 0h1m14 0h1m6 0h6m2 0h1m7 0h1m9 0h4m2 0h1m-187 1h1m109 0h1m1 0h1m12 0h3m1 0h1m2 0h1m20 0h1m2 0h6m1 0h1m4 0h1m13 0h1m1 0h2m-185 1h1m107 0h2m13 0h3m6 0h1m19 0h3m1 0h6m18 0h3m-183 1h1m100 0h1m7 0h2m11 0h1m2 0h1m2 0h2m23 0h13m6 0h2m5 0h2m-180 1h1m129 0h1m22 0h12m7 0h2m4 0h1m-178 1h1m103 0h1m47 0h12m8 0h5m-177 1h1m90 0h1m34 0h1m25 0h10m1 0h1m7 0h3m1 0h1m-176 1h1m105 0h1m45 0h14m4 0h5m-174 1h1m104 0h2m18 0h1m24 0h15m4 0h4m-173 1h1m148 0h1m1 0h10m1 0h5m4 0h1m-171 1h1m147 0h16m1 0h1m1 0h3m-170 1h1m146 0h1m2 0h14m2 0h1m1 0h1m-169 1h1m145 0h1m1 0h5m2 0h7m3 0h2m1 0h1m-168 1h1m145 0h2m1 0h2m1 0h4m1 0h1m2 0h5m1 0h2m-168 1h1m102 0h1m43 0h2m1 0h1m1 0h1m1 0h1m1 0h1m3 0h1m1 0h1m1 0h1m1 0h2m-168 1h1m28 0h1m8 0h1m48 0h1m58 0h1m1 0h3m1 0h3m7 0h6m-167 1h1m84 0h1m1 0h1m53 0h1m6 0h3m3 0h1m6 0h5m-166 1h1m35 0h2m45 0h2m1 0h1m53 0h2m1 0h2m4 0h2m1 0h2m6 0h5m-164 1h1m34 0h2m1 0h1m44 0h1m52 0h2m1 0h1m2 0h3m1 0h2m1 0h3m1 0h1m5 0h4m-163 1h1m35 0h2m99 0h2m1 0h2m2 0h1m2 0h1m11 0h1m2 0h1m-163 1h1m35 0h2m36 0h1m66 0h3m2 0h1m12 0h3m-161 1h1m133 0h1m2 0h1m5 0h1m1 0h1m9 0h6m-160 1h1m96 0h1m10 0h1m26 0h1m3 0h4m2 0h1m3 0h1m5 0h1m1 0h2m-159 1h1m31 0h1m100 0h1m3 0h1m2 0h1m15 0h2m-157 1h1m79 0h3m34 0h1m14 0h1m1 0h1m21 0h1m-157 1h1m79 0h1m12 0h1m31 0h1m8 0h1m20 0h1m-155 1h1m78 0h2m8 0h1m42 0h1m10 0h1m9 0h1m-153 1h1m116 0h1m11 0h1m2 0h3m16 0h1m-152 1h1m39 0h1m8 0h2m81 0h1m1 0h1m8 0h1m6 0h2m-151 1h1m64 0h1m1 0h1m64 0h1m15 0h1m-148 1h1m45 0h2m41 0h1m27 0h1m1 0h1m26 0h1m-147 1h1m44 0h1m15 0h1m37 0h2m5 0h1m11 0h1m26 0h1m-145 1h1m60 0h1m43 0h1m10 0h1m11 0h1m13 0h2m-143 1h1m87 0h1m4 0h1m13 0h1m10 0h1m21 0h1m-140 1h1m48 0h1m51 0h2m3 0h1m10 0h1m19 0h2m-138 1h1m53 0h1m45 0h1m3 0h1m1 0h1m28 0h1m-136 1h1m98 0h1m1 0h1m32 0h1m-134 1h1m20 0h1m2 0h1m53 0h1m18 0h1m6 0h2m26 0h1m-133 1h1m2 0h1m93 0h1m1 0h1m31 0h1m-132 1h1m96 0h1m22 0h1m4 0h1m4 0h1m-131 1h1m95 0h1m21 0h2m8 0h2m-130 1h1m96 0h1m20 0h3m2 0h1m4 0h1m-129 1h1m35 0h1m83 0h1m6 0h1m-128 1h1m120 0h1m3 0h2m-127 1h1m51 0h1m70 0h1m1 0h1m-126 1h1m121 0h1m1 0h1m-125 1h1m120 0h3m-129 1h6m119 0h2m-127 1h1m2 0h1m1 0h1m112 0h1m5 0h2m-126 1h1m1 0h2m105 0h1m13 0h1m-124 1h1m1 0h1m1 0h2m93 0h1m17 0h1m4 0h1m-123 1h1m2 0h2m93 0h1m21 0h2m-121 1h1m2 0h1m14 0h1m98 0h2m-118 1h1m113 0h3m-116 1h1m13 0h1m3 0h2m92 0h2m-114 1h2m4 0h1m6 0h2m29 0h1m65 0h2m-110 1h2m1 0h3m4 0h2m1 0h1m91 0h1m1 0h2m-109 1h1m10 0h2m28 0h1m62 0h3m-106 1h1m5 0h1m1 0h1m29 0h1m60 0h1m1 0h2m-102 1h1m3 0h1m7 0h1m6 0h1m69 0h6m3 0h2m-101 1h1m9 0h1m10 0h1m1 0h1m65 0h1m5 0h4m-99 1h2m1 0h1m5 0h1m52 0h1m25 0h1m-89 1h1m3 0h1m1 0h2m1 0h1m33 0h1m9 0h1m8 0h3m3 0h1m11 0h6m2 0h1m-90 1h1m1 0h4m1 0h3m16 0h1m16 0h2m2 0h9m1 0h3m2 0h1m3 0h9m5 0h1m4 0h5m-90 1h1m2 0h1m2 0h2m19 0h1m18 0h1m9 0h1m2 0h3m10 0h3m1 0h1m3 0h1m-80 1h2m3 0h1m1 0h1m2 0h1m14 0h1m17 0h3m28 0h5m-79 1h2m3 0h1m25 0h1m1 0h2m5 0h2m1 0h1m-43 1h1m3 0h5m1 0h1m15 0h1m1 0h1m1 0h4m2 0h6m-34 1h3m14 0h5m3 0h3m-25 1h1m5 0h1m4 0h1m1 0h1m-15 1h3m4 0h1m4 0h2m-11 1h1m5 0h3m-8 1h6" stroke="#efe51c"/>
</g><use href="#grid"/></g>
<text class="ax" x="1182.5" y="1914.8" text-anchor="middle">20°E</text>
<text class="ax" x="1410.6" y="1914.8" text-anchor="middle">25°E</text>
<text class="ax" x="1638.6" y="1914.8" text-anchor="middle">30°E</text>
<path d="M1182.5 1868.5v11.5M1410.6 1868.5v11.5M1638.6 1868.5v11.5" stroke="#333" stroke-width="4.45" fill="none"/>
<text x="1877.5" y="920" font-size="45.83" fill="#000">psi</text>
<rect x="1877.7" y="947.9" width="72.3" height="358.8" fill="url(#vir)"/>
<text class="lg" x="1972" y="1319.1">0.00</text>
<text class="lg" x="1972" y="1229.5">0.25</text>
<text class="lg" x="1972" y="1139.9">0.50</text>
<text class="lg" x="1972" y="1050.3">0.75</text>
<text class="lg" x="1972" y="960.7">1.00</text>
<path d="M1877.7 1306.5h14.4M1950 1306.5h-14.4M1877.7 1216.9h14.4M1950 1216.9h-14.4M1877.7 1127.3h14.4M1950 1127.3h-14.4M1877.7 1037.7h14.4M1950 1037.7h-14.4M1877.7 948.1h14.4M1950 948.1h-14.4" stroke="#fff" stroke-width="1.8" fill="none"/>
</svg></body></html>
